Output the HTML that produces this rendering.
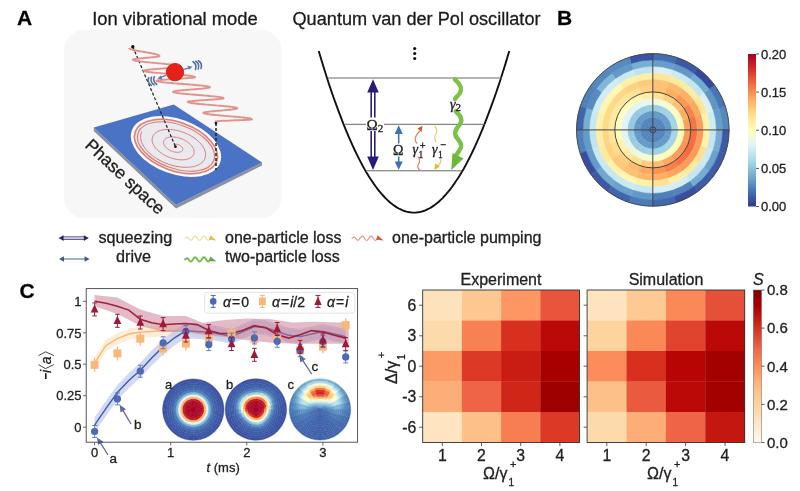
<!DOCTYPE html>
<html><head><meta charset="utf-8"><style>
html,body{margin:0;padding:0;background:#fff;width:800px;height:491px;overflow:hidden}
svg{display:block;will-change:transform}
text{stroke:#222;stroke-width:0.3}
</style></head><body>
<svg width="800" height="491" viewBox="0 0 800 491">
<rect x="0" y="0" width="800" height="491" fill="#fff"/>
<text x="17" y="25" font-size="21" font-weight="bold" font-family="Liberation Sans, sans-serif">A</text>
<text x="92.2" y="25" font-size="18.4" font-family="Liberation Sans, sans-serif" fill="#1a1a1a">Ion vibrational mode</text>
<text x="292.5" y="25" font-size="18.15" font-family="Liberation Sans, sans-serif" fill="#1a1a1a">Quantum van der Pol oscillator</text>
<text x="557" y="25" font-size="21" font-weight="bold" font-family="Liberation Sans, sans-serif">B</text>
<rect x="64" y="29.5" width="217.5" height="188.8" rx="21" fill="#f7f7f7"/>
<polygon points="93.75,127.5 176,205 262,162.5 262,165.5 176,208.5 93.75,131" fill="#8c9099"/>
<polygon points="173.75,104.5 262,162.5 176,205 93.75,127.5" fill="#4a73c6"/>
<g transform="translate(176,146.5) rotate(20)">
<ellipse cx="0" cy="0" rx="47" ry="27.5" fill="#fafafc"/>
<ellipse cx="0" cy="0" rx="44.5" ry="25.2" fill="#e9e9ee"/>
<ellipse cx="0" cy="0" rx="43.3" ry="24.2" fill="none" stroke="#de7d78" stroke-width="1.5"/>
<ellipse cx="0" cy="0" rx="40.3" ry="21.8" fill="none" stroke="#de7d78" stroke-width="1.2"/>
<polyline fill="none" stroke="#d07474" stroke-width="0.9" points="-1.5,-0.1 -1.5,-0.2 -1.6,-0.2 -1.7,-0.3 -1.7,-0.3 -1.7,-0.4 -1.8,-0.4 -1.8,-0.5 -1.9,-0.5 -1.9,-0.6 -1.9,-0.6 -1.9,-0.7 -1.9,-0.8 -1.9,-0.8 -1.9,-0.9 -1.9,-1.0 -1.9,-1.0 -1.9,-1.1 -1.9,-1.2 -1.8,-1.2 -1.8,-1.3 -1.8,-1.4 -1.7,-1.4 -1.6,-1.5 -1.6,-1.6 -1.5,-1.6 -1.4,-1.7 -1.3,-1.8 -1.2,-1.8 -1.1,-1.9 -1.0,-2.0 -0.9,-2.0 -0.8,-2.1 -0.6,-2.1 -0.5,-2.2 -0.4,-2.2 -0.2,-2.3 -0.1,-2.3 0.1,-2.4 0.2,-2.4 0.4,-2.4 0.6,-2.5 0.8,-2.5 1.0,-2.5 1.1,-2.5 1.3,-2.5 1.5,-2.6 1.7,-2.6 1.9,-2.6 2.1,-2.6 2.3,-2.5 2.5,-2.5 2.7,-2.5 2.9,-2.5 3.1,-2.4 3.4,-2.4 3.6,-2.4 3.8,-2.3 4.0,-2.3 4.2,-2.2 4.4,-2.2 4.6,-2.1 4.8,-2.0 5.0,-1.9 5.1,-1.8 5.3,-1.8 5.5,-1.7 5.7,-1.6 5.8,-1.5 6.0,-1.4 6.2,-1.2 6.3,-1.1 6.4,-1.0 6.6,-0.9 6.7,-0.7 6.8,-0.6 6.9,-0.5 7.0,-0.3 7.1,-0.2 7.2,-0.0 7.3,0.1 7.3,0.3 7.4,0.4 7.4,0.6 7.4,0.8 7.4,0.9 7.4,1.1 7.4,1.3 7.4,1.4 7.4,1.6 7.3,1.8 7.3,2.0 7.2,2.1 7.1,2.3 7.0,2.5 6.9,2.6 6.8,2.8 6.6,3.0 6.5,3.1 6.3,3.3 6.1,3.4 6.0,3.6 5.8,3.8 5.5,3.9 5.3,4.1 5.1,4.2 4.8,4.3 4.6,4.5 4.3,4.6 4.0,4.7 3.7,4.8 3.4,5.0 3.1,5.1 2.8,5.2 2.5,5.3 2.1,5.3 1.8,5.4 1.4,5.5 1.1,5.6 0.7,5.6 0.3,5.7 -0.1,5.7 -0.5,5.8 -0.9,5.8 -1.3,5.8 -1.7,5.8 -2.1,5.8 -2.5,5.8 -2.9,5.8 -3.3,5.8 -3.7,5.7 -4.1,5.7 -4.5,5.6 -4.9,5.6 -5.3,5.5 -5.7,5.4 -6.1,5.3 -6.5,5.2 -6.9,5.1 -7.3,5.0 -7.7,4.9 -8.0,4.7 -8.4,4.6 -8.8,4.4 -9.1,4.3 -9.4,4.1 -9.8,3.9 -10.1,3.7 -10.4,3.5 -10.7,3.3 -11.0,3.1 -11.2,2.9 -11.5,2.7 -11.7,2.4 -12.0,2.2 -12.2,2.0 -12.4,1.7 -12.5,1.5 -12.7,1.2 -12.8,0.9 -13.0,0.7 -13.1,0.4 -13.2,0.1 -13.2,-0.1 -13.3,-0.4 -13.3,-0.7 -13.3,-1.0 -13.3,-1.3 -13.3,-1.6 -13.3,-1.9 -13.2,-2.2 -13.1,-2.4 -13.0,-2.7 -12.9,-3.0 -12.7,-3.3 -12.6,-3.6 -12.4,-3.9 -12.2,-4.2 -11.9,-4.4 -11.7,-4.7 -11.4,-5.0 -11.1,-5.2 -10.8,-5.5 -10.5,-5.7 -10.1,-6.0 -9.8,-6.2 -9.4,-6.5 -9.0,-6.7 -8.6,-6.9 -8.2,-7.1 -7.7,-7.3 -7.2,-7.5 -6.8,-7.7 -6.3,-7.9 -5.8,-8.0 -5.2,-8.2 -4.7,-8.3 -4.2,-8.5 -3.6,-8.6 -3.0,-8.7 -2.5,-8.8 -1.9,-8.9 -1.3,-9.0 -0.7,-9.0 -0.1,-9.1 0.5,-9.1 1.1,-9.1 1.8,-9.1 2.4,-9.1 3.0,-9.1 3.6,-9.1 4.3,-9.0 4.9,-9.0 5.5,-8.9 6.1,-8.8 6.8,-8.7 7.4,-8.6 8.0,-8.5 8.6,-8.3 9.2,-8.2 9.8,-8.0 10.3,-7.8 10.9,-7.7 11.5,-7.4 12.0,-7.2 12.5,-7.0 13.0,-6.8 13.5,-6.5 14.0,-6.2 14.5,-6.0 15.0,-5.7 15.4,-5.4 15.8,-5.1 16.2,-4.7 16.6,-4.4 16.9,-4.1 17.2,-3.7 17.6,-3.4 17.8,-3.0 18.1,-2.7 18.3,-2.3 18.5,-1.9 18.7,-1.5 18.9,-1.1 19.0,-0.7 19.1,-0.3 19.2,0.1 19.3,0.5 19.3,0.9 19.3,1.3 19.3,1.7 19.2,2.1 19.1,2.5 19.0,3.0 18.8,3.4 18.7,3.8 18.5,4.2 18.2,4.6 18.0,5.0 17.7,5.4 17.4,5.8 17.0,6.2 16.7,6.5 16.3,6.9 15.9,7.3 15.4,7.6 14.9,8.0 14.4,8.3 13.9,8.6 13.4,9.0 12.8,9.3 12.2,9.6 11.6,9.9 11.0,10.1 10.3,10.4 9.6,10.6 9.0,10.9 8.2,11.1 7.5,11.3 6.8,11.5 6.0,11.7 5.2,11.8 4.5,12.0 3.7,12.1 2.9,12.2 2.0,12.3 1.2,12.4 0.4,12.4 -0.4,12.4 -1.3,12.5 -2.1,12.5 -3.0,12.5 -3.8,12.4 -4.7,12.4 -5.5,12.3 -6.4,12.2 -7.2,12.1 -8.1,12.0 -8.9,11.9 -9.7,11.7 -10.5,11.5 -11.3,11.3 -12.1,11.1 -12.9,10.9 -13.7,10.6 -14.4,10.4 -15.1,10.1 -15.9,9.8 -16.6,9.5 -17.2,9.2 -17.9,8.8 -18.5,8.4 -19.1,8.1 -19.7,7.7 -20.3,7.3 -20.8,6.9 -21.3,6.5 -21.8,6.0 -22.3,5.6 -22.7,5.1 -23.1,4.6 -23.5,4.2 -23.8,3.7 -24.1,3.2 -24.4,2.7 -24.6,2.2 -24.8,1.6 -25.0,1.1 -25.1,0.6 -25.2,0.1 -25.2,-0.5 -25.3,-1.0 -25.3,-1.5 -25.2,-2.1 -25.1,-2.6 -25.0,-3.1 -24.8,-3.7 -24.6,-4.2 -24.4,-4.7 -24.1,-5.3 -23.8,-5.8 -23.5,-6.3 -23.1,-6.8 -22.7,-7.3 -22.2,-7.8 -21.8,-8.3 -21.2,-8.8 -20.7,-9.3 -20.1,-9.7 -19.5,-10.2 -18.9,-10.6 -18.2,-11.0 -17.5,-11.4 -16.7,-11.8 -16.0,-12.2 -15.2,-12.5 -14.4,-12.9 -13.5,-13.2 -12.7,-13.5 -11.8,-13.8 -10.9,-14.1 -9.9,-14.4 -9.0,-14.6 -8.0,-14.8 -7.0,-15.0 -6.0,-15.2 -5.0,-15.3 -4.0,-15.5 -2.9,-15.6 -1.9,-15.7 -0.8,-15.8 0.2,-15.8 1.3,-15.8 2.4,-15.8 3.4,-15.8 4.5,-15.8 5.6,-15.7 6.6,-15.6 7.7,-15.5 8.8,-15.4 9.8,-15.2 10.9,-15.0 11.9,-14.8 12.9,-14.6 13.9,-14.3 14.9,-14.1 15.9,-13.8 16.8,-13.5 17.8,-13.1 18.7,-12.8 19.6,-12.4 20.5,-12.0 21.3,-11.6 22.1,-11.2 22.9,-10.7 23.7,-10.3 24.4,-9.8 25.1,-9.3 25.8,-8.8 26.4,-8.2 27.0,-7.7 27.6,-7.1 28.1,-6.6 28.6,-6.0 29.0,-5.4 29.5,-4.8 29.8,-4.2 30.2,-3.5 30.4,-2.9 30.7,-2.3 30.9,-1.6 31.0,-1.0 31.2,-0.3 31.2,0.4 31.3,1.0 31.2,1.7 31.2,2.3 31.1,3.0 30.9,3.7 30.7,4.3 30.5,5.0 30.2,5.6 29.8,6.3 29.5,6.9 29.0,7.6 28.6,8.2 28.1,8.8 27.5,9.4 26.9,10.0 26.3,10.6 25.6,11.2 24.9,11.7 24.2,12.3 23.4,12.8 22.5,13.3 21.7,13.8 20.8,14.3 19.8,14.7 18.9,15.2 17.9,15.6 16.9,16.0 15.8,16.4 14.7,16.7 13.6,17.1 12.5,17.4 11.3,17.7 10.1,17.9 8.9,18.2 7.7,18.4 6.5,18.6 5.3,18.8 4.0,18.9 2.7,19.0 1.5,19.1 0.2,19.1 -1.1,19.2 -2.4,19.2 -3.7,19.2 -5.0,19.1 -6.3,19.0 -7.6,18.9 -8.9,18.8 -10.2,18.6 -11.4,18.4 -12.7,18.2 -13.9,18.0 -15.2,17.7 -16.4,17.4 -17.6,17.1 -18.7,16.7 -19.9,16.4 -21.0,16.0 -22.1,15.5 -23.2,15.1 -24.3,14.6 -25.3,14.1 -26.3,13.6 -27.2,13.1 -28.1,12.5 -29.0,11.9 -29.9,11.3 -30.7,10.7 -31.4,10.1 -32.1,9.4 -32.8,8.8 -33.4,8.1 -34.0,7.4 -34.6,6.7 -35.1,5.9 -35.5,5.2 -35.9,4.5 -36.3,3.7 -36.5,3.0 -36.8,2.2 -37.0,1.4 -37.1,0.6 -37.2,-0.2 -37.2,-0.9 -37.2,-1.7 -37.2,-2.5"/>
</g>
<line x1="132.8" y1="46.8" x2="175.5" y2="146.7" stroke="#1a2030" stroke-width="1.2" stroke-dasharray="3,2"/>
<line x1="216" y1="123" x2="216" y2="170" stroke="#222" stroke-width="1.5" stroke-dasharray="3,2"/>
<circle cx="132.8" cy="46.8" r="1.7" fill="#111"/><circle cx="216" cy="123" r="1.4" fill="#111"/><circle cx="175.5" cy="146.7" r="1.3" fill="#111"/>
<polyline fill="none" stroke="#e2928a" stroke-width="1.9" points="129.2,48.0 129.2,48.2 129.4,48.4 129.6,48.6 129.9,48.8 130.3,49.0 130.8,49.2 131.4,49.4 132.1,49.6 132.8,49.8 133.6,50.0 134.5,50.2 135.4,50.4 136.4,50.6 137.4,50.8 138.5,51.0 139.6,51.2 140.8,51.4 141.9,51.6 143.1,51.8 144.3,52.0 145.5,52.2 146.7,52.4 147.8,52.6 149.0,52.8 150.1,53.0 151.2,53.2 152.2,53.4 153.2,53.6 154.1,53.8 155.0,54.0 155.8,54.2 156.5,54.4 157.2,54.6 157.8,54.8 158.3,55.0 158.7,55.2 159.0,55.4 159.2,55.6 159.4,55.8 159.4,56.0 159.4,56.1 159.2,56.2 159.0,56.3 158.7,56.4 158.4,56.5 158.0,56.6 157.4,56.6 156.9,56.7 156.2,56.8 155.5,56.9 154.7,57.0 153.9,57.1 153.0,57.2 152.1,57.3 151.2,57.4 150.2,57.5 149.2,57.6 148.2,57.7 147.1,57.8 146.1,57.9 145.1,57.9 144.0,58.0 143.0,58.1 142.0,58.2 141.0,58.3 140.1,58.4 139.2,58.5 138.3,58.6 137.5,58.7 136.7,58.8 136.0,58.9 135.3,59.0 134.8,59.1 134.2,59.1 133.8,59.2 133.5,59.3 133.2,59.4 133.0,59.5 132.8,59.6 132.8,59.7 132.9,59.9 133.1,60.0 133.5,60.2 134.0,60.4 134.6,60.6 135.4,60.7 136.3,60.9 137.3,61.1 138.5,61.2 139.7,61.4 141.1,61.6 142.5,61.7 144.1,61.9 145.7,62.1 147.4,62.2 149.1,62.4 150.9,62.6 152.7,62.8 154.5,62.9 156.4,63.1 158.3,63.3 160.1,63.4 161.9,63.6 163.7,63.8 165.4,64.0 167.1,64.1 168.7,64.3 170.3,64.5 171.7,64.6 173.1,64.8 174.3,65.0 175.5,65.1 176.5,65.3 177.4,65.5 178.2,65.7 178.8,65.8 179.3,66.0 179.7,66.2 179.9,66.3 180.0,66.5 179.9,66.6 179.8,66.7 179.5,66.8 179.1,66.9 178.6,67.0 178.0,67.1 177.3,67.2 176.5,67.3 175.7,67.4 174.7,67.5 173.7,67.7 172.5,67.8 171.4,67.9 170.1,68.0 168.8,68.1 167.5,68.2 166.1,68.3 164.7,68.4 163.3,68.5 161.9,68.6 160.5,68.7 159.1,68.8 157.7,68.9 156.3,69.0 155.0,69.1 153.7,69.2 152.4,69.3 151.3,69.4 150.1,69.5 149.1,69.7 148.1,69.8 147.3,69.9 146.5,70.0 145.8,70.1 145.2,70.2 144.7,70.3 144.3,70.4 144.0,70.5 143.9,70.6 143.8,70.7 143.9,70.9 144.1,71.0 144.5,71.2 145.1,71.3 145.8,71.5 146.6,71.7 147.6,71.8 148.7,72.0 149.9,72.1 151.3,72.3 152.8,72.5 154.4,72.6 156.0,72.8 157.8,72.9 159.6,73.1 161.5,73.3 163.5,73.4 165.4,73.6 167.4,73.7 169.4,73.9 171.5,74.1 173.5,74.2 175.4,74.4 177.4,74.5 179.3,74.7 181.1,74.9 182.9,75.0 184.5,75.2 186.1,75.3 187.6,75.5 189.0,75.7 190.2,75.8 191.3,76.0 192.3,76.1 193.1,76.3 193.8,76.5 194.4,76.6 194.8,76.8 195.0,76.9 195.1,77.1 195.0,77.2 194.9,77.3 194.6,77.4 194.2,77.5 193.6,77.6 193.0,77.7 192.3,77.7 191.4,77.8 190.5,77.9 189.5,78.0 188.4,78.1 187.2,78.2 185.9,78.3 184.6,78.4 183.2,78.5 181.8,78.6 180.3,78.7 178.9,78.8 177.4,78.9 175.8,78.9 174.3,79.0 172.8,79.1 171.4,79.2 169.9,79.3 168.5,79.4 167.1,79.5 165.8,79.6 164.5,79.7 163.3,79.8 162.2,79.9 161.2,80.0 160.3,80.1 159.4,80.2 158.7,80.2 158.1,80.3 157.5,80.4 157.1,80.5 156.8,80.6 156.7,80.7 156.6,80.8 156.7,81.0 156.9,81.1 157.3,81.3 157.9,81.4 158.6,81.6 159.5,81.8 160.5,81.9 161.7,82.1 163.0,82.2 164.4,82.4 165.9,82.6 167.6,82.7 169.3,82.9 171.1,83.0 173.0,83.2 175.0,83.4 177.0,83.5 179.0,83.7 181.1,83.8 183.2,84.0 185.3,84.2 187.4,84.3 189.4,84.5 191.4,84.6 193.4,84.8 195.3,85.0 197.1,85.1 198.8,85.3 200.5,85.4 202.0,85.6 203.4,85.8 204.7,85.9 205.9,86.1 206.9,86.2 207.8,86.4 208.5,86.6 209.1,86.7 209.5,86.9 209.7,87.0 209.8,87.2 209.7,87.3 209.6,87.4 209.3,87.5 208.9,87.7 208.4,87.8 207.8,87.9 207.1,88.0 206.3,88.1 205.4,88.2 204.4,88.3 203.4,88.5 202.2,88.6 201.0,88.7 199.8,88.8 198.5,88.9 197.1,89.0 195.7,89.2 194.3,89.3 192.9,89.4 191.5,89.5 190.0,89.6 188.6,89.7 187.2,89.8 185.8,90.0 184.4,90.1 183.1,90.2 181.9,90.3 180.7,90.4 179.5,90.5 178.5,90.7 177.5,90.8 176.6,90.9 175.8,91.0 175.1,91.1 174.5,91.2 174.0,91.3 173.6,91.5 173.3,91.6 173.2,91.7 173.1,91.8 173.2,92.0 173.4,92.1 173.8,92.3 174.3,92.4 175.0,92.6 175.8,92.8 176.8,92.9 177.9,93.1 179.1,93.2 180.5,93.4 181.9,93.6 183.5,93.7 185.1,93.9 186.9,94.0 188.7,94.2 190.5,94.4 192.4,94.5 194.4,94.7 196.3,94.8 198.3,95.0 200.3,95.2 202.2,95.3 204.2,95.5 206.1,95.6 207.9,95.8 209.7,96.0 211.5,96.1 213.1,96.3 214.7,96.4 216.1,96.6 217.5,96.8 218.7,96.9 219.8,97.1 220.8,97.2 221.6,97.4 222.3,97.6 222.8,97.7 223.2,97.9 223.4,98.0 223.5,98.2 223.4,98.3 223.3,98.4 223.0,98.5 222.6,98.6 222.1,98.7 221.6,98.8 220.9,98.8 220.1,98.9 219.2,99.0 218.3,99.1 217.2,99.2 216.1,99.3 215.0,99.4 213.8,99.5 212.5,99.6 211.2,99.7 209.8,99.8 208.4,99.9 207.1,100.0 205.7,100.1 204.2,100.1 202.9,100.2 201.5,100.3 200.1,100.4 198.8,100.5 197.5,100.6 196.3,100.7 195.2,100.8 194.1,100.9 193.0,101.0 192.1,101.1 191.2,101.2 190.4,101.3 189.7,101.3 189.2,101.4 188.7,101.5 188.3,101.6 188.0,101.7 187.9,101.8 187.8,101.9 187.9,102.1 188.1,102.2 188.5,102.4 189.0,102.5 189.7,102.7 190.5,102.9 191.4,103.0 192.5,103.2 193.7,103.3 195.0,103.5 196.5,103.7 198.0,103.8 199.6,104.0 201.3,104.1 203.1,104.3 204.9,104.5 206.8,104.6 208.7,104.8 210.6,104.9 212.6,105.1 214.5,105.3 216.4,105.4 218.3,105.6 220.2,105.7 222.0,105.9 223.8,106.1 225.5,106.2 227.1,106.4 228.6,106.5 230.1,106.7 231.4,106.9 232.6,107.0 233.7,107.2 234.6,107.3 235.4,107.5 236.1,107.7 236.6,107.8 237.0,108.0 237.2,108.1 237.3,108.3 237.2,108.4 237.1,108.5 236.8,108.6 236.5,108.8 236.0,108.9 235.5,109.0 234.8,109.1 234.1,109.2 233.2,109.3 232.3,109.5 231.4,109.6 230.3,109.7 229.2,109.8 228.0,109.9 226.8,110.0 225.6,110.1 224.3,110.3 223.0,110.4 221.7,110.5 220.4,110.6 219.0,110.7 217.7,110.8 216.4,110.9 215.1,111.1 213.9,111.2 212.7,111.3 211.5,111.4 210.4,111.5 209.3,111.6 208.4,111.8 207.5,111.9 206.6,112.0 205.9,112.1 205.2,112.2 204.7,112.3 204.2,112.4 203.9,112.6 203.6,112.7 203.5,112.8 203.4,112.9 203.5,113.1 203.7,113.2 204.1,113.4 204.6,113.5 205.2,113.7 206.0,113.9 207.0,114.0 208.0,114.2 209.2,114.3 210.5,114.5 211.9,114.7 213.4,114.8 215.0,115.0 216.7,115.1 218.4,115.3 220.2,115.5 222.0,115.6 223.9,115.8 225.8,115.9 227.7,116.1 229.6,116.3 231.5,116.4 233.4,116.6 235.2,116.7 237.0,116.9 238.7,117.1 240.4,117.2 242.0,117.4 243.5,117.5 244.9,117.7 246.2,117.9 247.4,118.0 248.4,118.2 249.4,118.3 250.2,118.5 250.8,118.7 251.3,118.8 251.7,119.0 251.9,119.1 252.0,119.3 251.9,119.4 251.8,119.4 251.5,119.5 251.1,119.5 250.6,119.6 250.0,119.6 249.3,119.7 248.5,119.7 247.6,119.8 246.6,119.8 245.6,119.9 244.4,120.0 243.2,120.0 242.0,120.1 240.7,120.1 239.3,120.2 237.9,120.2 236.5,120.3 235.1,120.3 233.7,120.4 232.2,120.5 230.8,120.5 229.4,120.6 228.0,120.6 226.6,120.7 225.3,120.7 224.1,120.8 222.9,120.8 221.7,120.9 220.7,121.0 219.7,121.0 218.8,121.1 218.0,121.1 217.3,121.2 216.7,121.2 216.2,121.3 215.8,121.3 215.5,121.4 215.4,121.4 215.3,121.5"/>
<circle cx="175" cy="72.1" r="8.7" fill="#e8201a" stroke="#b81812" stroke-width="0.8"/>
<line x1="184" y1="69.4" x2="190" y2="67.6" stroke="#5a7cb4" stroke-width="1.3"/>
<polygon points="192.5,66.8 187.5,65.8 188.8,69.8" fill="#5a7cb4"/>
<line x1="166" y1="75.4" x2="160" y2="77.6" stroke="#5a7cb4" stroke-width="1.3"/>
<polygon points="157.3,78.6 162.3,79.4 161,75.5" fill="#5a7cb4"/>
<path d="M194.2,61.5 q3.2,3.6 0,8.2" fill="none" stroke="#56729e" stroke-width="1.6" stroke-linecap="round" transform="rotate(-18 194.2 65.5)"/>
<path d="M155.5,76.5 q-3.2,3.6 0,8.2" fill="none" stroke="#56729e" stroke-width="1.6" stroke-linecap="round" transform="rotate(-18 155.5 80.5)"/>
<path d="M197.1,61.0 q3.2,3.6 0,8.2" fill="none" stroke="#56729e" stroke-width="1.6" stroke-linecap="round" transform="rotate(-18 197.1 65.5)"/>
<path d="M152.6,77.0 q-3.2,3.6 0,8.2" fill="none" stroke="#56729e" stroke-width="1.6" stroke-linecap="round" transform="rotate(-18 152.6 80.5)"/>
<path d="M200.0,60.5 q3.2,3.6 0,8.2" fill="none" stroke="#56729e" stroke-width="1.6" stroke-linecap="round" transform="rotate(-18 200.0 65.5)"/>
<path d="M149.7,77.5 q-3.2,3.6 0,8.2" fill="none" stroke="#56729e" stroke-width="1.6" stroke-linecap="round" transform="rotate(-18 149.7 80.5)"/>
<text x="0" y="0" font-size="17.5" font-family="Liberation Sans, sans-serif" fill="#1a1a1a" transform="translate(84,146.5) rotate(43)">Phase space</text>
<polyline fill="none" stroke="#111" stroke-width="1.9" points="318.7,50.9 320.6,57.3 322.5,63.6 324.4,69.8 326.3,75.8 328.2,81.7 330.1,87.4 332.0,93.0 333.9,98.5 335.9,103.9 337.8,109.1 339.7,114.2 341.6,119.2 343.5,124.1 345.4,128.8 347.3,133.4 349.2,137.8 351.1,142.2 353.0,146.4 354.9,150.5 356.8,154.4 358.7,158.2 360.6,161.9 362.5,165.5 364.4,168.9 366.3,172.2 368.3,175.4 370.2,178.4 372.1,181.3 374.0,184.1 375.9,186.7 377.8,189.3 379.7,191.6 381.6,193.9 383.5,196.0 385.4,198.1 387.3,199.9 389.2,201.7 391.1,203.3 393.0,204.8 394.9,206.1 396.8,207.4 398.8,208.5 400.7,209.4 402.6,210.3 404.5,211.0 406.4,211.6 408.3,212.0 410.2,212.3 412.1,212.5 414.0,212.6 415.9,212.5 417.8,212.3 419.7,212.0 421.6,211.6 423.5,211.0 425.4,210.3 427.3,209.4 429.2,208.5 431.2,207.4 433.1,206.1 435.0,204.8 436.9,203.3 438.8,201.7 440.7,199.9 442.6,198.1 444.5,196.0 446.4,193.9 448.3,191.6 450.2,189.3 452.1,186.7 454.0,184.1 455.9,181.3 457.8,178.4 459.7,175.4 461.6,172.2 463.6,168.9 465.5,165.5 467.4,161.9 469.3,158.2 471.2,154.4 473.1,150.5 475.0,146.4 476.9,142.2 478.8,137.8 480.7,133.4 482.6,128.8 484.5,124.1 486.4,119.2 488.3,114.2 490.2,109.1 492.1,103.9 494.1,98.5 496.0,93.0 497.9,87.4 499.8,81.7 501.7,75.8 503.6,69.8 505.5,63.6 507.4,57.3 509.3,50.9"/>
<line x1="328" y1="78" x2="502" y2="78" stroke="#6a6a6a" stroke-width="1"/>
<line x1="345" y1="124.3" x2="485" y2="124.3" stroke="#6a6a6a" stroke-width="1"/>
<line x1="366" y1="170.8" x2="462" y2="170.8" stroke="#6a6a6a" stroke-width="1"/>
<circle cx="414.7" cy="48.5" r="1.6" fill="#111"/>
<circle cx="414.7" cy="53.5" r="1.6" fill="#111"/>
<circle cx="414.7" cy="58.5" r="1.6" fill="#111"/>
<line x1="371.2" y1="90" x2="371.2" y2="159" stroke="#2a2080" stroke-width="1.6"/>
<line x1="374.8" y1="90" x2="374.8" y2="159" stroke="#2a2080" stroke-width="1.6"/>
<polygon points="373,79.2 367.2,92.5 378.8,92.5" fill="#261c7a"/>
<polygon points="373,170 367.2,156.5 378.8,156.5" fill="#261c7a"/>
<rect x="366" y="117.5" width="18" height="13.5" fill="#ffffff"/>
<text x="366.5" y="130" font-size="15" font-family="Liberation Serif, serif" fill="#222">Ω<tspan font-size="11" dy="1.5">2</tspan></text>
<line x1="398.7" y1="130" x2="398.7" y2="165" stroke="#3a70b8" stroke-width="1.5"/>
<polygon points="398.7,125.3 394.7,134 402.7,134" fill="#3a70b8"/>
<polygon points="398.7,169.8 394.7,161.5 402.7,161.5" fill="#3a70b8"/>
<rect x="392.5" y="143.5" width="12.5" height="13" fill="#ffffff"/>
<text x="393" y="154.6" font-size="14" font-family="Liberation Serif, serif" fill="#222">Ω</text>
<path d="M420,170.5 q-3.5,-3.5 -1.5,-6.5 q2.5,-3.5 -0.5,-7.5" fill="none" stroke="#e0805a" stroke-width="1.2"/>
<path d="M417,143.5 q-3,-3.5 -1,-7.5 q2,-3.5 4,-5" fill="none" stroke="#e0805a" stroke-width="1.2"/>
<polygon points="422.5,125.8 417.5,128.5 421.5,132" fill="#d8502a"/>
<text x="412.5" y="154" font-size="14" font-style="italic" font-family="Liberation Serif, serif" fill="#222">γ</text>
<text x="418.5" y="158.3" font-size="9.5" font-family="Liberation Serif, serif" fill="#222">1</text>
<text x="419.8" y="148.5" font-size="10" font-family="Liberation Sans, sans-serif" fill="#222">+</text>
<path d="M434.5,126 q3.5,3.5 1.5,7.5 q-2.5,3.5 0,8.5" fill="none" stroke="#f2c868" stroke-width="1.2"/>
<path d="M440,158.5 q2,3.5 -1,6 l-2,2.5" fill="none" stroke="#f2c868" stroke-width="1.2"/>
<polygon points="434.5,169.8 435,163.5 440,166.5" fill="#e8b828"/>
<text x="432" y="154" font-size="14" font-style="italic" font-family="Liberation Serif, serif" fill="#222">γ</text>
<text x="438" y="158.3" font-size="9.5" font-family="Liberation Serif, serif" fill="#222">1</text>
<text x="440.5" y="148" font-size="10" font-family="Liberation Sans, sans-serif" fill="#222">−</text>
<path d="M455,79.5 C460,84 463,88 460,93 C457,97 455,98 455,99" fill="none" stroke="#7cc24a" stroke-width="4.5" stroke-linecap="round"/>
<path d="M455.7,111.5 C460,115 463,119 460.5,123.5 C457,128 454,131 455.5,135.5 C457,139 462,142 461,147 C460,151 457,153 456,156" fill="none" stroke="#7cc24a" stroke-width="4.5" stroke-linecap="round"/>
<polygon points="451.3,170 452.5,153 463.5,158.5" fill="#6cb83a"/>
<text x="450" y="108.5" font-size="14" font-style="italic" font-family="Liberation Serif, serif" fill="#222">γ<tspan font-size="11" font-style="normal" dy="2">2</tspan></text>
<path d="M652.8,129.9 L659.16,129.90 A6.36,6.36 0 0 0 658.85,127.94Z" fill="#4f81ba" stroke="#4f81ba" stroke-width="0.5"/>
<path d="M652.8,129.9 L658.85,127.94 A6.36,6.36 0 0 0 657.94,126.16Z" fill="#4f81ba" stroke="#4f81ba" stroke-width="0.5"/>
<path d="M652.8,129.9 L657.94,126.16 A6.36,6.36 0 0 0 656.54,124.76Z" fill="#4f81ba" stroke="#4f81ba" stroke-width="0.5"/>
<path d="M652.8,129.9 L656.54,124.76 A6.36,6.36 0 0 0 654.76,123.85Z" fill="#4f81ba" stroke="#4f81ba" stroke-width="0.5"/>
<path d="M652.8,129.9 L654.76,123.85 A6.36,6.36 0 0 0 652.80,123.54Z" fill="#4f81ba" stroke="#4f81ba" stroke-width="0.5"/>
<path d="M652.8,129.9 L652.80,123.54 A6.36,6.36 0 0 0 650.84,123.85Z" fill="#4f81ba" stroke="#4f81ba" stroke-width="0.5"/>
<path d="M652.8,129.9 L650.84,123.85 A6.36,6.36 0 0 0 649.06,124.76Z" fill="#4f81ba" stroke="#4f81ba" stroke-width="0.5"/>
<path d="M652.8,129.9 L649.06,124.76 A6.36,6.36 0 0 0 647.66,126.16Z" fill="#4f81ba" stroke="#4f81ba" stroke-width="0.5"/>
<path d="M652.8,129.9 L647.66,126.16 A6.36,6.36 0 0 0 646.75,127.94Z" fill="#4f81ba" stroke="#4f81ba" stroke-width="0.5"/>
<path d="M652.8,129.9 L646.75,127.94 A6.36,6.36 0 0 0 646.44,129.90Z" fill="#4f81ba" stroke="#4f81ba" stroke-width="0.5"/>
<path d="M652.8,129.9 L646.44,129.90 A6.36,6.36 0 0 0 646.75,131.86Z" fill="#4f81ba" stroke="#4f81ba" stroke-width="0.5"/>
<path d="M652.8,129.9 L646.75,131.86 A6.36,6.36 0 0 0 647.66,133.64Z" fill="#4f81ba" stroke="#4f81ba" stroke-width="0.5"/>
<path d="M652.8,129.9 L647.66,133.64 A6.36,6.36 0 0 0 649.06,135.04Z" fill="#4f81ba" stroke="#4f81ba" stroke-width="0.5"/>
<path d="M652.8,129.9 L649.06,135.04 A6.36,6.36 0 0 0 650.84,135.95Z" fill="#4f81ba" stroke="#4f81ba" stroke-width="0.5"/>
<path d="M652.8,129.9 L650.84,135.95 A6.36,6.36 0 0 0 652.80,136.26Z" fill="#4f81ba" stroke="#4f81ba" stroke-width="0.5"/>
<path d="M652.8,129.9 L652.80,136.26 A6.36,6.36 0 0 0 654.76,135.95Z" fill="#4f81ba" stroke="#4f81ba" stroke-width="0.5"/>
<path d="M652.8,129.9 L654.76,135.95 A6.36,6.36 0 0 0 656.54,135.04Z" fill="#4f81ba" stroke="#4f81ba" stroke-width="0.5"/>
<path d="M652.8,129.9 L656.54,135.04 A6.36,6.36 0 0 0 657.94,133.64Z" fill="#4f81ba" stroke="#4f81ba" stroke-width="0.5"/>
<path d="M652.8,129.9 L657.94,133.64 A6.36,6.36 0 0 0 658.85,131.86Z" fill="#4f81ba" stroke="#4f81ba" stroke-width="0.5"/>
<path d="M652.8,129.9 L658.85,131.86 A6.36,6.36 0 0 0 659.16,129.90Z" fill="#4f81ba" stroke="#4f81ba" stroke-width="0.5"/>
<path d="M659.16,129.90 L665.52,129.90 A12.72,12.72 0 0 0 664.89,125.97 L658.85,127.94 A6.36,6.36 0 0 1 659.16,129.90Z" fill="#5385bd" stroke="#5385bd" stroke-width="0.5"/>
<path d="M658.85,127.94 L664.89,125.97 A12.72,12.72 0 0 0 663.09,122.43 L657.94,126.16 A6.36,6.36 0 0 1 658.85,127.94Z" fill="#5385bd" stroke="#5385bd" stroke-width="0.5"/>
<path d="M657.94,126.16 L663.09,122.43 A12.72,12.72 0 0 0 660.27,119.61 L656.54,124.76 A6.36,6.36 0 0 1 657.94,126.16Z" fill="#5385bd" stroke="#5385bd" stroke-width="0.5"/>
<path d="M656.54,124.76 L660.27,119.61 A12.72,12.72 0 0 0 656.73,117.81 L654.76,123.85 A6.36,6.36 0 0 1 656.54,124.76Z" fill="#5385bd" stroke="#5385bd" stroke-width="0.5"/>
<path d="M654.76,123.85 L656.73,117.81 A12.72,12.72 0 0 0 652.80,117.18 L652.80,123.54 A6.36,6.36 0 0 1 654.76,123.85Z" fill="#5385bd" stroke="#5385bd" stroke-width="0.5"/>
<path d="M652.80,123.54 L652.80,117.18 A12.72,12.72 0 0 0 648.87,117.81 L650.84,123.85 A6.36,6.36 0 0 1 652.80,123.54Z" fill="#5385bd" stroke="#5385bd" stroke-width="0.5"/>
<path d="M650.84,123.85 L648.87,117.81 A12.72,12.72 0 0 0 645.33,119.61 L649.06,124.76 A6.36,6.36 0 0 1 650.84,123.85Z" fill="#5385bd" stroke="#5385bd" stroke-width="0.5"/>
<path d="M649.06,124.76 L645.33,119.61 A12.72,12.72 0 0 0 642.51,122.43 L647.66,126.16 A6.36,6.36 0 0 1 649.06,124.76Z" fill="#5385bd" stroke="#5385bd" stroke-width="0.5"/>
<path d="M647.66,126.16 L642.51,122.43 A12.72,12.72 0 0 0 640.71,125.97 L646.75,127.94 A6.36,6.36 0 0 1 647.66,126.16Z" fill="#5385bd" stroke="#5385bd" stroke-width="0.5"/>
<path d="M646.75,127.94 L640.71,125.97 A12.72,12.72 0 0 0 640.08,129.90 L646.44,129.90 A6.36,6.36 0 0 1 646.75,127.94Z" fill="#5385bd" stroke="#5385bd" stroke-width="0.5"/>
<path d="M646.44,129.90 L640.08,129.90 A12.72,12.72 0 0 0 640.71,133.83 L646.75,131.86 A6.36,6.36 0 0 1 646.44,129.90Z" fill="#5385bd" stroke="#5385bd" stroke-width="0.5"/>
<path d="M646.75,131.86 L640.71,133.83 A12.72,12.72 0 0 0 642.51,137.37 L647.66,133.64 A6.36,6.36 0 0 1 646.75,131.86Z" fill="#5385bd" stroke="#5385bd" stroke-width="0.5"/>
<path d="M647.66,133.64 L642.51,137.37 A12.72,12.72 0 0 0 645.33,140.19 L649.06,135.04 A6.36,6.36 0 0 1 647.66,133.64Z" fill="#5385bd" stroke="#5385bd" stroke-width="0.5"/>
<path d="M649.06,135.04 L645.33,140.19 A12.72,12.72 0 0 0 648.87,141.99 L650.84,135.95 A6.36,6.36 0 0 1 649.06,135.04Z" fill="#5385bd" stroke="#5385bd" stroke-width="0.5"/>
<path d="M650.84,135.95 L648.87,141.99 A12.72,12.72 0 0 0 652.80,142.62 L652.80,136.26 A6.36,6.36 0 0 1 650.84,135.95Z" fill="#5385bd" stroke="#5385bd" stroke-width="0.5"/>
<path d="M652.80,136.26 L652.80,142.62 A12.72,12.72 0 0 0 656.73,141.99 L654.76,135.95 A6.36,6.36 0 0 1 652.80,136.26Z" fill="#5385bd" stroke="#5385bd" stroke-width="0.5"/>
<path d="M654.76,135.95 L656.73,141.99 A12.72,12.72 0 0 0 660.27,140.19 L656.54,135.04 A6.36,6.36 0 0 1 654.76,135.95Z" fill="#5385bd" stroke="#5385bd" stroke-width="0.5"/>
<path d="M656.54,135.04 L660.27,140.19 A12.72,12.72 0 0 0 663.09,137.37 L657.94,133.64 A6.36,6.36 0 0 1 656.54,135.04Z" fill="#5385bd" stroke="#5385bd" stroke-width="0.5"/>
<path d="M657.94,133.64 L663.09,137.37 A12.72,12.72 0 0 0 664.89,133.83 L658.85,131.86 A6.36,6.36 0 0 1 657.94,133.64Z" fill="#5385bd" stroke="#5385bd" stroke-width="0.5"/>
<path d="M658.85,131.86 L664.89,133.83 A12.72,12.72 0 0 0 665.52,129.90 L659.16,129.90 A6.36,6.36 0 0 1 658.85,131.86Z" fill="#5385bd" stroke="#5385bd" stroke-width="0.5"/>
<path d="M665.52,129.90 L671.88,129.90 A19.07,19.07 0 0 0 670.94,124.01 L664.89,125.97 A12.72,12.72 0 0 1 665.52,129.90Z" fill="#659bc8" stroke="#659bc8" stroke-width="0.5"/>
<path d="M664.89,125.97 L670.94,124.01 A19.07,19.07 0 0 0 668.23,118.69 L663.09,122.43 A12.72,12.72 0 0 1 664.89,125.97Z" fill="#659bc8" stroke="#659bc8" stroke-width="0.5"/>
<path d="M663.09,122.43 L668.23,118.69 A19.07,19.07 0 0 0 664.01,114.47 L660.27,119.61 A12.72,12.72 0 0 1 663.09,122.43Z" fill="#659bc8" stroke="#659bc8" stroke-width="0.5"/>
<path d="M660.27,119.61 L664.01,114.47 A19.07,19.07 0 0 0 658.69,111.76 L656.73,117.81 A12.72,12.72 0 0 1 660.27,119.61Z" fill="#659bc8" stroke="#659bc8" stroke-width="0.5"/>
<path d="M656.73,117.81 L658.69,111.76 A19.07,19.07 0 0 0 652.80,110.83 L652.80,117.18 A12.72,12.72 0 0 1 656.73,117.81Z" fill="#659bc8" stroke="#659bc8" stroke-width="0.5"/>
<path d="M652.80,117.18 L652.80,110.83 A19.07,19.07 0 0 0 646.91,111.76 L648.87,117.81 A12.72,12.72 0 0 1 652.80,117.18Z" fill="#659bc8" stroke="#659bc8" stroke-width="0.5"/>
<path d="M648.87,117.81 L646.91,111.76 A19.07,19.07 0 0 0 641.59,114.47 L645.33,119.61 A12.72,12.72 0 0 1 648.87,117.81Z" fill="#659bc8" stroke="#659bc8" stroke-width="0.5"/>
<path d="M645.33,119.61 L641.59,114.47 A19.07,19.07 0 0 0 637.37,118.69 L642.51,122.43 A12.72,12.72 0 0 1 645.33,119.61Z" fill="#659bc8" stroke="#659bc8" stroke-width="0.5"/>
<path d="M642.51,122.43 L637.37,118.69 A19.07,19.07 0 0 0 634.66,124.01 L640.71,125.97 A12.72,12.72 0 0 1 642.51,122.43Z" fill="#6399c7" stroke="#6399c7" stroke-width="0.5"/>
<path d="M640.71,125.97 L634.66,124.01 A19.07,19.07 0 0 0 633.72,129.90 L640.08,129.90 A12.72,12.72 0 0 1 640.71,125.97Z" fill="#659bc8" stroke="#659bc8" stroke-width="0.5"/>
<path d="M640.08,129.90 L633.72,129.90 A19.07,19.07 0 0 0 634.66,135.79 L640.71,133.83 A12.72,12.72 0 0 1 640.08,129.90Z" fill="#659bc8" stroke="#659bc8" stroke-width="0.5"/>
<path d="M640.71,133.83 L634.66,135.79 A19.07,19.07 0 0 0 637.37,141.11 L642.51,137.37 A12.72,12.72 0 0 1 640.71,133.83Z" fill="#659bc8" stroke="#659bc8" stroke-width="0.5"/>
<path d="M642.51,137.37 L637.37,141.11 A19.07,19.07 0 0 0 641.59,145.33 L645.33,140.19 A12.72,12.72 0 0 1 642.51,137.37Z" fill="#659bc8" stroke="#659bc8" stroke-width="0.5"/>
<path d="M645.33,140.19 L641.59,145.33 A19.07,19.07 0 0 0 646.91,148.04 L648.87,141.99 A12.72,12.72 0 0 1 645.33,140.19Z" fill="#659bc8" stroke="#659bc8" stroke-width="0.5"/>
<path d="M648.87,141.99 L646.91,148.04 A19.07,19.07 0 0 0 652.80,148.97 L652.80,142.62 A12.72,12.72 0 0 1 648.87,141.99Z" fill="#659bc8" stroke="#659bc8" stroke-width="0.5"/>
<path d="M652.80,142.62 L652.80,148.97 A19.07,19.07 0 0 0 658.69,148.04 L656.73,141.99 A12.72,12.72 0 0 1 652.80,142.62Z" fill="#659bc8" stroke="#659bc8" stroke-width="0.5"/>
<path d="M656.73,141.99 L658.69,148.04 A19.07,19.07 0 0 0 664.01,145.33 L660.27,140.19 A12.72,12.72 0 0 1 656.73,141.99Z" fill="#659bc8" stroke="#659bc8" stroke-width="0.5"/>
<path d="M660.27,140.19 L664.01,145.33 A19.07,19.07 0 0 0 668.23,141.11 L663.09,137.37 A12.72,12.72 0 0 1 660.27,140.19Z" fill="#659bc8" stroke="#659bc8" stroke-width="0.5"/>
<path d="M663.09,137.37 L668.23,141.11 A19.07,19.07 0 0 0 670.94,135.79 L664.89,133.83 A12.72,12.72 0 0 1 663.09,137.37Z" fill="#659bc8" stroke="#659bc8" stroke-width="0.5"/>
<path d="M664.89,133.83 L670.94,135.79 A19.07,19.07 0 0 0 671.88,129.90 L665.52,129.90 A12.72,12.72 0 0 1 664.89,133.83Z" fill="#659bc8" stroke="#659bc8" stroke-width="0.5"/>
<path d="M671.88,129.90 L678.23,129.90 A25.43,25.43 0 0 0 676.99,122.04 L670.94,124.01 A19.07,19.07 0 0 1 671.88,129.90Z" fill="#a6d5e7" stroke="#a6d5e7" stroke-width="0.5"/>
<path d="M670.94,124.01 L676.99,122.04 A25.43,25.43 0 0 0 673.38,114.95 L668.23,118.69 A19.07,19.07 0 0 1 670.94,124.01Z" fill="#a3d3e6" stroke="#a3d3e6" stroke-width="0.5"/>
<path d="M668.23,118.69 L673.38,114.95 A25.43,25.43 0 0 0 667.75,109.32 L664.01,114.47 A19.07,19.07 0 0 1 668.23,118.69Z" fill="#a1d1e5" stroke="#a1d1e5" stroke-width="0.5"/>
<path d="M664.01,114.47 L667.75,109.32 A25.43,25.43 0 0 0 660.66,105.71 L658.69,111.76 A19.07,19.07 0 0 1 664.01,114.47Z" fill="#9fd0e4" stroke="#9fd0e4" stroke-width="0.5"/>
<path d="M658.69,111.76 L660.66,105.71 A25.43,25.43 0 0 0 652.80,104.47 L652.80,110.83 A19.07,19.07 0 0 1 658.69,111.76Z" fill="#9dcee3" stroke="#9dcee3" stroke-width="0.5"/>
<path d="M652.80,110.83 L652.80,104.47 A25.43,25.43 0 0 0 644.94,105.71 L646.91,111.76 A19.07,19.07 0 0 1 652.80,110.83Z" fill="#9bcce2" stroke="#9bcce2" stroke-width="0.5"/>
<path d="M646.91,111.76 L644.94,105.71 A25.43,25.43 0 0 0 637.85,109.32 L641.59,114.47 A19.07,19.07 0 0 1 646.91,111.76Z" fill="#99cae1" stroke="#99cae1" stroke-width="0.5"/>
<path d="M641.59,114.47 L637.85,109.32 A25.43,25.43 0 0 0 632.22,114.95 L637.37,118.69 A19.07,19.07 0 0 1 641.59,114.47Z" fill="#97c9e0" stroke="#97c9e0" stroke-width="0.5"/>
<path d="M637.37,118.69 L632.22,114.95 A25.43,25.43 0 0 0 628.61,122.04 L634.66,124.01 A19.07,19.07 0 0 1 637.37,118.69Z" fill="#97c9e0" stroke="#97c9e0" stroke-width="0.5"/>
<path d="M634.66,124.01 L628.61,122.04 A25.43,25.43 0 0 0 627.37,129.90 L633.72,129.90 A19.07,19.07 0 0 1 634.66,124.01Z" fill="#97c9e0" stroke="#97c9e0" stroke-width="0.5"/>
<path d="M633.72,129.90 L627.37,129.90 A25.43,25.43 0 0 0 628.61,137.76 L634.66,135.79 A19.07,19.07 0 0 1 633.72,129.90Z" fill="#97c9e0" stroke="#97c9e0" stroke-width="0.5"/>
<path d="M634.66,135.79 L628.61,137.76 A25.43,25.43 0 0 0 632.22,144.85 L637.37,141.11 A19.07,19.07 0 0 1 634.66,135.79Z" fill="#99cae1" stroke="#99cae1" stroke-width="0.5"/>
<path d="M637.37,141.11 L632.22,144.85 A25.43,25.43 0 0 0 637.85,150.48 L641.59,145.33 A19.07,19.07 0 0 1 637.37,141.11Z" fill="#9bcce2" stroke="#9bcce2" stroke-width="0.5"/>
<path d="M641.59,145.33 L637.85,150.48 A25.43,25.43 0 0 0 644.94,154.09 L646.91,148.04 A19.07,19.07 0 0 1 641.59,145.33Z" fill="#9dcee3" stroke="#9dcee3" stroke-width="0.5"/>
<path d="M646.91,148.04 L644.94,154.09 A25.43,25.43 0 0 0 652.80,155.33 L652.80,148.97 A19.07,19.07 0 0 1 646.91,148.04Z" fill="#9fd0e4" stroke="#9fd0e4" stroke-width="0.5"/>
<path d="M652.80,148.97 L652.80,155.33 A25.43,25.43 0 0 0 660.66,154.09 L658.69,148.04 A19.07,19.07 0 0 1 652.80,148.97Z" fill="#a1d1e5" stroke="#a1d1e5" stroke-width="0.5"/>
<path d="M658.69,148.04 L660.66,154.09 A25.43,25.43 0 0 0 667.75,150.48 L664.01,145.33 A19.07,19.07 0 0 1 658.69,148.04Z" fill="#a3d3e6" stroke="#a3d3e6" stroke-width="0.5"/>
<path d="M664.01,145.33 L667.75,150.48 A25.43,25.43 0 0 0 673.38,144.85 L668.23,141.11 A19.07,19.07 0 0 1 664.01,145.33Z" fill="#a6d5e7" stroke="#a6d5e7" stroke-width="0.5"/>
<path d="M668.23,141.11 L673.38,144.85 A25.43,25.43 0 0 0 676.99,137.76 L670.94,135.79 A19.07,19.07 0 0 1 668.23,141.11Z" fill="#a6d5e7" stroke="#a6d5e7" stroke-width="0.5"/>
<path d="M670.94,135.79 L676.99,137.76 A25.43,25.43 0 0 0 678.23,129.90 L671.88,129.90 A19.07,19.07 0 0 1 670.94,135.79Z" fill="#a6d5e7" stroke="#a6d5e7" stroke-width="0.5"/>
<path d="M678.23,129.90 L684.59,129.90 A31.79,31.79 0 0 0 683.04,120.08 L676.99,122.04 A25.43,25.43 0 0 1 678.23,129.90Z" fill="#fffcba" stroke="#fffcba" stroke-width="0.5"/>
<path d="M676.99,122.04 L683.04,120.08 A31.79,31.79 0 0 0 678.52,111.21 L673.38,114.95 A25.43,25.43 0 0 1 676.99,122.04Z" fill="#feffc0" stroke="#feffc0" stroke-width="0.5"/>
<path d="M673.38,114.95 L678.52,111.21 A31.79,31.79 0 0 0 671.49,104.18 L667.75,109.32 A25.43,25.43 0 0 1 673.38,114.95Z" fill="#fafdc9" stroke="#fafdc9" stroke-width="0.5"/>
<path d="M667.75,109.32 L671.49,104.18 A31.79,31.79 0 0 0 662.62,99.66 L660.66,105.71 A25.43,25.43 0 0 1 667.75,109.32Z" fill="#f5fbd2" stroke="#f5fbd2" stroke-width="0.5"/>
<path d="M660.66,105.71 L662.62,99.66 A31.79,31.79 0 0 0 652.80,98.11 L652.80,104.47 A25.43,25.43 0 0 1 660.66,105.71Z" fill="#eff9dd" stroke="#eff9dd" stroke-width="0.5"/>
<path d="M652.80,104.47 L652.80,98.11 A31.79,31.79 0 0 0 642.98,99.66 L644.94,105.71 A25.43,25.43 0 0 1 652.80,104.47Z" fill="#eaf7e6" stroke="#eaf7e6" stroke-width="0.5"/>
<path d="M644.94,105.71 L642.98,99.66 A31.79,31.79 0 0 0 634.11,104.18 L637.85,109.32 A25.43,25.43 0 0 1 644.94,105.71Z" fill="#e5f5ef" stroke="#e5f5ef" stroke-width="0.5"/>
<path d="M637.85,109.32 L634.11,104.18 A31.79,31.79 0 0 0 627.08,111.21 L632.22,114.95 A25.43,25.43 0 0 1 637.85,109.32Z" fill="#e1f3f6" stroke="#e1f3f6" stroke-width="0.5"/>
<path d="M632.22,114.95 L627.08,111.21 A31.79,31.79 0 0 0 622.56,120.08 L628.61,122.04 A25.43,25.43 0 0 1 632.22,114.95Z" fill="#e0f3f8" stroke="#e0f3f8" stroke-width="0.5"/>
<path d="M628.61,122.04 L622.56,120.08 A31.79,31.79 0 0 0 621.01,129.90 L627.37,129.90 A25.43,25.43 0 0 1 628.61,122.04Z" fill="#e0f3f8" stroke="#e0f3f8" stroke-width="0.5"/>
<path d="M627.37,129.90 L621.01,129.90 A31.79,31.79 0 0 0 622.56,139.72 L628.61,137.76 A25.43,25.43 0 0 1 627.37,129.90Z" fill="#e2f4f4" stroke="#e2f4f4" stroke-width="0.5"/>
<path d="M628.61,137.76 L622.56,139.72 A31.79,31.79 0 0 0 627.08,148.59 L632.22,144.85 A25.43,25.43 0 0 1 628.61,137.76Z" fill="#e6f5ed" stroke="#e6f5ed" stroke-width="0.5"/>
<path d="M632.22,144.85 L627.08,148.59 A31.79,31.79 0 0 0 634.11,155.62 L637.85,150.48 A25.43,25.43 0 0 1 632.22,144.85Z" fill="#ebf7e4" stroke="#ebf7e4" stroke-width="0.5"/>
<path d="M637.85,150.48 L634.11,155.62 A31.79,31.79 0 0 0 642.98,160.14 L644.94,154.09 A25.43,25.43 0 0 1 637.85,150.48Z" fill="#f0f9db" stroke="#f0f9db" stroke-width="0.5"/>
<path d="M644.94,154.09 L642.98,160.14 A31.79,31.79 0 0 0 652.80,161.69 L652.80,155.33 A25.43,25.43 0 0 1 644.94,154.09Z" fill="#f6fbd0" stroke="#f6fbd0" stroke-width="0.5"/>
<path d="M652.80,155.33 L652.80,161.69 A31.79,31.79 0 0 0 662.62,160.14 L660.66,154.09 A25.43,25.43 0 0 1 652.80,155.33Z" fill="#fbfdc7" stroke="#fbfdc7" stroke-width="0.5"/>
<path d="M660.66,154.09 L662.62,160.14 A31.79,31.79 0 0 0 671.49,155.62 L667.75,150.48 A25.43,25.43 0 0 1 660.66,154.09Z" fill="#fffebe" stroke="#fffebe" stroke-width="0.5"/>
<path d="M667.75,150.48 L671.49,155.62 A31.79,31.79 0 0 0 678.52,148.59 L673.38,144.85 A25.43,25.43 0 0 1 667.75,150.48Z" fill="#fffbb9" stroke="#fffbb9" stroke-width="0.5"/>
<path d="M673.38,144.85 L678.52,148.59 A31.79,31.79 0 0 0 683.04,139.72 L676.99,137.76 A25.43,25.43 0 0 1 673.38,144.85Z" fill="#fffab7" stroke="#fffab7" stroke-width="0.5"/>
<path d="M676.99,137.76 L683.04,139.72 A31.79,31.79 0 0 0 684.59,129.90 L678.23,129.90 A25.43,25.43 0 0 1 676.99,137.76Z" fill="#fffab7" stroke="#fffab7" stroke-width="0.5"/>
<path d="M684.59,129.90 L690.95,129.90 A38.15,38.15 0 0 0 689.08,118.11 L683.04,120.08 A31.79,31.79 0 0 1 684.59,129.90Z" fill="#fba05b" stroke="#fba05b" stroke-width="0.5"/>
<path d="M683.04,120.08 L689.08,118.11 A38.15,38.15 0 0 0 683.66,107.48 L678.52,111.21 A31.79,31.79 0 0 1 683.04,120.08Z" fill="#fdaf62" stroke="#fdaf62" stroke-width="0.5"/>
<path d="M678.52,111.21 L683.66,107.48 A38.15,38.15 0 0 0 675.22,99.04 L671.49,104.18 A31.79,31.79 0 0 1 678.52,111.21Z" fill="#fdbf71" stroke="#fdbf71" stroke-width="0.5"/>
<path d="M671.49,104.18 L675.22,99.04 A38.15,38.15 0 0 0 664.59,93.62 L662.62,99.66 A31.79,31.79 0 0 1 671.49,104.18Z" fill="#fed081" stroke="#fed081" stroke-width="0.5"/>
<path d="M662.62,99.66 L664.59,93.62 A38.15,38.15 0 0 0 652.80,91.75 L652.80,98.11 A31.79,31.79 0 0 1 662.62,99.66Z" fill="#fee192" stroke="#fee192" stroke-width="0.5"/>
<path d="M652.80,98.11 L652.80,91.75 A38.15,38.15 0 0 0 641.01,93.62 L642.98,99.66 A31.79,31.79 0 0 1 652.80,98.11Z" fill="#feeca2" stroke="#feeca2" stroke-width="0.5"/>
<path d="M642.98,99.66 L641.01,93.62 A38.15,38.15 0 0 0 630.38,99.04 L634.11,104.18 A31.79,31.79 0 0 1 642.98,99.66Z" fill="#fff6b1" stroke="#fff6b1" stroke-width="0.5"/>
<path d="M634.11,104.18 L630.38,99.04 A38.15,38.15 0 0 0 621.94,107.48 L627.08,111.21 A31.79,31.79 0 0 1 634.11,104.18Z" fill="#fffcba" stroke="#fffcba" stroke-width="0.5"/>
<path d="M627.08,111.21 L621.94,107.48 A38.15,38.15 0 0 0 616.52,118.11 L622.56,120.08 A31.79,31.79 0 0 1 627.08,111.21Z" fill="#feffc0" stroke="#feffc0" stroke-width="0.5"/>
<path d="M622.56,120.08 L616.52,118.11 A38.15,38.15 0 0 0 614.65,129.90 L621.01,129.90 A31.79,31.79 0 0 1 622.56,120.08Z" fill="#feffc0" stroke="#feffc0" stroke-width="0.5"/>
<path d="M621.01,129.90 L614.65,129.90 A38.15,38.15 0 0 0 616.52,141.69 L622.56,139.72 A31.79,31.79 0 0 1 621.01,129.90Z" fill="#fffbb9" stroke="#fffbb9" stroke-width="0.5"/>
<path d="M622.56,139.72 L616.52,141.69 A38.15,38.15 0 0 0 621.94,152.32 L627.08,148.59 A31.79,31.79 0 0 1 622.56,139.72Z" fill="#fff3ad" stroke="#fff3ad" stroke-width="0.5"/>
<path d="M627.08,148.59 L621.94,152.32 A38.15,38.15 0 0 0 630.38,160.76 L634.11,155.62 A31.79,31.79 0 0 1 627.08,148.59Z" fill="#feea9f" stroke="#feea9f" stroke-width="0.5"/>
<path d="M634.11,155.62 L630.38,160.76 A38.15,38.15 0 0 0 641.01,166.18 L642.98,160.14 A31.79,31.79 0 0 1 634.11,155.62Z" fill="#fede8e" stroke="#fede8e" stroke-width="0.5"/>
<path d="M642.98,160.14 L641.01,166.18 A38.15,38.15 0 0 0 652.80,168.05 L652.80,161.69 A31.79,31.79 0 0 1 642.98,160.14Z" fill="#fecc7e" stroke="#fecc7e" stroke-width="0.5"/>
<path d="M652.80,161.69 L652.80,168.05 A38.15,38.15 0 0 0 664.59,166.18 L662.62,160.14 A31.79,31.79 0 0 1 652.80,161.69Z" fill="#fdbb6d" stroke="#fdbb6d" stroke-width="0.5"/>
<path d="M662.62,160.14 L664.59,166.18 A38.15,38.15 0 0 0 675.22,160.76 L671.49,155.62 A31.79,31.79 0 0 1 662.62,160.14Z" fill="#fcaa5f" stroke="#fcaa5f" stroke-width="0.5"/>
<path d="M671.49,155.62 L675.22,160.76 A38.15,38.15 0 0 0 683.66,152.32 L678.52,148.59 A31.79,31.79 0 0 1 671.49,155.62Z" fill="#fb9d59" stroke="#fb9d59" stroke-width="0.5"/>
<path d="M678.52,148.59 L683.66,152.32 A38.15,38.15 0 0 0 689.08,141.69 L683.04,139.72 A31.79,31.79 0 0 1 678.52,148.59Z" fill="#fa9656" stroke="#fa9656" stroke-width="0.5"/>
<path d="M683.04,139.72 L689.08,141.69 A38.15,38.15 0 0 0 690.95,129.90 L684.59,129.90 A31.79,31.79 0 0 1 683.04,139.72Z" fill="#fa9857" stroke="#fa9857" stroke-width="0.5"/>
<path d="M690.95,129.90 L697.31,129.90 A44.51,44.51 0 0 0 695.13,116.15 L689.08,118.11 A38.15,38.15 0 0 1 690.95,129.90Z" fill="#f57547" stroke="#f57547" stroke-width="0.5"/>
<path d="M689.08,118.11 L695.13,116.15 A44.51,44.51 0 0 0 688.81,103.74 L683.66,107.48 A38.15,38.15 0 0 1 689.08,118.11Z" fill="#f7844e" stroke="#f7844e" stroke-width="0.5"/>
<path d="M683.66,107.48 L688.81,103.74 A44.51,44.51 0 0 0 678.96,93.89 L675.22,99.04 A38.15,38.15 0 0 1 683.66,107.48Z" fill="#fa9857" stroke="#fa9857" stroke-width="0.5"/>
<path d="M675.22,99.04 L678.96,93.89 A44.51,44.51 0 0 0 666.55,87.57 L664.59,93.62 A38.15,38.15 0 0 1 675.22,99.04Z" fill="#fdaf62" stroke="#fdaf62" stroke-width="0.5"/>
<path d="M664.59,93.62 L666.55,87.57 A44.51,44.51 0 0 0 652.80,85.39 L652.80,91.75 A38.15,38.15 0 0 1 664.59,93.62Z" fill="#fdc173" stroke="#fdc173" stroke-width="0.5"/>
<path d="M652.80,91.75 L652.80,85.39 A44.51,44.51 0 0 0 639.05,87.57 L641.01,93.62 A38.15,38.15 0 0 1 652.80,91.75Z" fill="#fed283" stroke="#fed283" stroke-width="0.5"/>
<path d="M641.01,93.62 L639.05,87.57 A44.51,44.51 0 0 0 626.64,93.89 L630.38,99.04 A38.15,38.15 0 0 1 641.01,93.62Z" fill="#fee192" stroke="#fee192" stroke-width="0.5"/>
<path d="M630.38,99.04 L626.64,93.89 A44.51,44.51 0 0 0 616.79,103.74 L621.94,107.48 A38.15,38.15 0 0 1 630.38,99.04Z" fill="#fee79b" stroke="#fee79b" stroke-width="0.5"/>
<path d="M621.94,107.48 L616.79,103.74 A44.51,44.51 0 0 0 610.47,116.15 L616.52,118.11 A38.15,38.15 0 0 1 621.94,107.48Z" fill="#feeba1" stroke="#feeba1" stroke-width="0.5"/>
<path d="M616.52,118.11 L610.47,116.15 A44.51,44.51 0 0 0 608.29,129.90 L614.65,129.90 A38.15,38.15 0 0 1 616.52,118.11Z" fill="#feea9f" stroke="#feea9f" stroke-width="0.5"/>
<path d="M614.65,129.90 L608.29,129.90 A44.51,44.51 0 0 0 610.47,143.65 L616.52,141.69 A38.15,38.15 0 0 1 614.65,129.90Z" fill="#fee699" stroke="#fee699" stroke-width="0.5"/>
<path d="M616.52,141.69 L610.47,143.65 A44.51,44.51 0 0 0 616.79,156.06 L621.94,152.32 A38.15,38.15 0 0 1 616.52,141.69Z" fill="#fede8e" stroke="#fede8e" stroke-width="0.5"/>
<path d="M621.94,152.32 L616.79,156.06 A44.51,44.51 0 0 0 626.64,165.91 L630.38,160.76 A38.15,38.15 0 0 1 621.94,152.32Z" fill="#fece7f" stroke="#fece7f" stroke-width="0.5"/>
<path d="M630.38,160.76 L626.64,165.91 A44.51,44.51 0 0 0 639.05,172.23 L641.01,166.18 A38.15,38.15 0 0 1 630.38,160.76Z" fill="#fdbd6f" stroke="#fdbd6f" stroke-width="0.5"/>
<path d="M641.01,166.18 L639.05,172.23 A44.51,44.51 0 0 0 652.80,174.41 L652.80,168.05 A38.15,38.15 0 0 1 641.01,166.18Z" fill="#fcaa5f" stroke="#fcaa5f" stroke-width="0.5"/>
<path d="M652.80,168.05 L652.80,174.41 A44.51,44.51 0 0 0 666.55,172.23 L664.59,166.18 A38.15,38.15 0 0 1 652.80,168.05Z" fill="#f99355" stroke="#f99355" stroke-width="0.5"/>
<path d="M664.59,166.18 L666.55,172.23 A44.51,44.51 0 0 0 678.96,165.91 L675.22,160.76 A38.15,38.15 0 0 1 664.59,166.18Z" fill="#f67f4b" stroke="#f67f4b" stroke-width="0.5"/>
<path d="M675.22,160.76 L678.96,165.91 A44.51,44.51 0 0 0 688.81,156.06 L683.66,152.32 A38.15,38.15 0 0 1 675.22,160.76Z" fill="#f57245" stroke="#f57245" stroke-width="0.5"/>
<path d="M683.66,152.32 L688.81,156.06 A44.51,44.51 0 0 0 695.13,143.65 L689.08,141.69 A38.15,38.15 0 0 1 683.66,152.32Z" fill="#f36b42" stroke="#f36b42" stroke-width="0.5"/>
<path d="M689.08,141.69 L695.13,143.65 A44.51,44.51 0 0 0 697.31,129.90 L690.95,129.90 A38.15,38.15 0 0 1 689.08,141.69Z" fill="#f46d43" stroke="#f46d43" stroke-width="0.5"/>
<path d="M697.31,129.90 L703.67,129.90 A50.87,50.87 0 0 0 701.18,114.18 L695.13,116.15 A44.51,44.51 0 0 1 697.31,129.90Z" fill="#fba05b" stroke="#fba05b" stroke-width="0.5"/>
<path d="M695.13,116.15 L701.18,114.18 A50.87,50.87 0 0 0 693.95,100.00 L688.81,103.74 A44.51,44.51 0 0 1 695.13,116.15Z" fill="#fca85e" stroke="#fca85e" stroke-width="0.5"/>
<path d="M688.81,103.74 L693.95,100.00 A50.87,50.87 0 0 0 682.70,88.75 L678.96,93.89 A44.51,44.51 0 0 1 688.81,103.74Z" fill="#fdb164" stroke="#fdb164" stroke-width="0.5"/>
<path d="M678.96,93.89 L682.70,88.75 A50.87,50.87 0 0 0 668.52,81.52 L666.55,87.57 A44.51,44.51 0 0 1 678.96,93.89Z" fill="#fdb96b" stroke="#fdb96b" stroke-width="0.5"/>
<path d="M666.55,87.57 L668.52,81.52 A50.87,50.87 0 0 0 652.80,79.03 L652.80,85.39 A44.51,44.51 0 0 1 666.55,87.57Z" fill="#fdc374" stroke="#fdc374" stroke-width="0.5"/>
<path d="M652.80,85.39 L652.80,79.03 A50.87,50.87 0 0 0 637.08,81.52 L639.05,87.57 A44.51,44.51 0 0 1 652.80,85.39Z" fill="#feca7c" stroke="#feca7c" stroke-width="0.5"/>
<path d="M639.05,87.57 L637.08,81.52 A50.87,50.87 0 0 0 622.90,88.75 L626.64,93.89 A44.51,44.51 0 0 1 639.05,87.57Z" fill="#fed283" stroke="#fed283" stroke-width="0.5"/>
<path d="M626.64,93.89 L622.90,88.75 A50.87,50.87 0 0 0 611.65,100.00 L616.79,103.74 A44.51,44.51 0 0 1 626.64,93.89Z" fill="#fed889" stroke="#fed889" stroke-width="0.5"/>
<path d="M616.79,103.74 L611.65,100.00 A50.87,50.87 0 0 0 604.42,114.18 L610.47,116.15 A44.51,44.51 0 0 1 616.79,103.74Z" fill="#feda8a" stroke="#feda8a" stroke-width="0.5"/>
<path d="M610.47,116.15 L604.42,114.18 A50.87,50.87 0 0 0 601.93,129.90 L608.29,129.90 A44.51,44.51 0 0 1 610.47,116.15Z" fill="#feda8a" stroke="#feda8a" stroke-width="0.5"/>
<path d="M608.29,129.90 L601.93,129.90 A50.87,50.87 0 0 0 604.42,145.62 L610.47,143.65 A44.51,44.51 0 0 1 608.29,129.90Z" fill="#fed687" stroke="#fed687" stroke-width="0.5"/>
<path d="M610.47,143.65 L604.42,145.62 A50.87,50.87 0 0 0 611.65,159.80 L616.79,156.06 A44.51,44.51 0 0 1 610.47,143.65Z" fill="#fed081" stroke="#fed081" stroke-width="0.5"/>
<path d="M616.79,156.06 L611.65,159.80 A50.87,50.87 0 0 0 622.90,171.05 L626.64,165.91 A44.51,44.51 0 0 1 616.79,156.06Z" fill="#fec87a" stroke="#fec87a" stroke-width="0.5"/>
<path d="M626.64,165.91 L622.90,171.05 A50.87,50.87 0 0 0 637.08,178.28 L639.05,172.23 A44.51,44.51 0 0 1 626.64,165.91Z" fill="#fdc173" stroke="#fdc173" stroke-width="0.5"/>
<path d="M639.05,172.23 L637.08,178.28 A50.87,50.87 0 0 0 652.80,180.77 L652.80,174.41 A44.51,44.51 0 0 1 639.05,172.23Z" fill="#fdb769" stroke="#fdb769" stroke-width="0.5"/>
<path d="M652.80,174.41 L652.80,180.77 A50.87,50.87 0 0 0 668.52,178.28 L666.55,172.23 A44.51,44.51 0 0 1 652.80,174.41Z" fill="#fdaf62" stroke="#fdaf62" stroke-width="0.5"/>
<path d="M666.55,172.23 L668.52,178.28 A50.87,50.87 0 0 0 682.70,171.05 L678.96,165.91 A44.51,44.51 0 0 1 666.55,172.23Z" fill="#fca55d" stroke="#fca55d" stroke-width="0.5"/>
<path d="M678.96,165.91 L682.70,171.05 A50.87,50.87 0 0 0 693.95,159.80 L688.81,156.06 A44.51,44.51 0 0 1 678.96,165.91Z" fill="#fb9d59" stroke="#fb9d59" stroke-width="0.5"/>
<path d="M688.81,156.06 L693.95,159.80 A50.87,50.87 0 0 0 701.18,145.62 L695.13,143.65 A44.51,44.51 0 0 1 688.81,156.06Z" fill="#fa9b58" stroke="#fa9b58" stroke-width="0.5"/>
<path d="M695.13,143.65 L701.18,145.62 A50.87,50.87 0 0 0 703.67,129.90 L697.31,129.90 A44.51,44.51 0 0 1 695.13,143.65Z" fill="#fa9b58" stroke="#fa9b58" stroke-width="0.5"/>
<path d="M703.67,129.90 L710.02,129.90 A57.22,57.22 0 0 0 707.22,112.22 L701.18,114.18 A50.87,50.87 0 0 1 703.67,129.90Z" fill="#fff1aa" stroke="#fff1aa" stroke-width="0.5"/>
<path d="M701.18,114.18 L707.22,112.22 A57.22,57.22 0 0 0 699.10,96.26 L693.95,100.00 A50.87,50.87 0 0 1 701.18,114.18Z" fill="#fee597" stroke="#fee597" stroke-width="0.5"/>
<path d="M693.95,100.00 L699.10,96.26 A57.22,57.22 0 0 0 686.44,83.60 L682.70,88.75 A50.87,50.87 0 0 1 693.95,100.00Z" fill="#feeca2" stroke="#feeca2" stroke-width="0.5"/>
<path d="M682.70,88.75 L686.44,83.60 A57.22,57.22 0 0 0 670.48,75.48 L668.52,81.52 A50.87,50.87 0 0 1 682.70,88.75Z" fill="#fee99d" stroke="#fee99d" stroke-width="0.5"/>
<path d="M668.52,81.52 L670.48,75.48 A57.22,57.22 0 0 0 652.80,72.68 L652.80,79.03 A50.87,50.87 0 0 1 668.52,81.52Z" fill="#fee597" stroke="#fee597" stroke-width="0.5"/>
<path d="M652.80,79.03 L652.80,72.68 A57.22,57.22 0 0 0 635.12,75.48 L637.08,81.52 A50.87,50.87 0 0 1 652.80,79.03Z" fill="#feefa6" stroke="#feefa6" stroke-width="0.5"/>
<path d="M637.08,81.52 L635.12,75.48 A57.22,57.22 0 0 0 619.16,83.60 L622.90,88.75 A50.87,50.87 0 0 1 637.08,81.52Z" fill="#fff0a8" stroke="#fff0a8" stroke-width="0.5"/>
<path d="M622.90,88.75 L619.16,83.60 A57.22,57.22 0 0 0 606.50,96.26 L611.65,100.00 A50.87,50.87 0 0 1 622.90,88.75Z" fill="#fff8b5" stroke="#fff8b5" stroke-width="0.5"/>
<path d="M611.65,100.00 L606.50,96.26 A57.22,57.22 0 0 0 598.38,112.22 L604.42,114.18 A50.87,50.87 0 0 1 611.65,100.00Z" fill="#fff6b1" stroke="#fff6b1" stroke-width="0.5"/>
<path d="M604.42,114.18 L598.38,112.22 A57.22,57.22 0 0 0 595.57,129.90 L601.93,129.90 A50.87,50.87 0 0 1 604.42,114.18Z" fill="#fff1aa" stroke="#fff1aa" stroke-width="0.5"/>
<path d="M601.93,129.90 L595.57,129.90 A57.22,57.22 0 0 0 598.38,147.58 L604.42,145.62 A50.87,50.87 0 0 1 601.93,129.90Z" fill="#feeda4" stroke="#feeda4" stroke-width="0.5"/>
<path d="M604.42,145.62 L598.38,147.58 A57.22,57.22 0 0 0 606.50,163.54 L611.65,159.80 A50.87,50.87 0 0 1 604.42,145.62Z" fill="#feea9f" stroke="#feea9f" stroke-width="0.5"/>
<path d="M611.65,159.80 L606.50,163.54 A57.22,57.22 0 0 0 619.16,176.20 L622.90,171.05 A50.87,50.87 0 0 1 611.65,159.80Z" fill="#fff1aa" stroke="#fff1aa" stroke-width="0.5"/>
<path d="M622.90,171.05 L619.16,176.20 A57.22,57.22 0 0 0 635.12,184.32 L637.08,178.28 A50.87,50.87 0 0 1 622.90,171.05Z" fill="#fff6b1" stroke="#fff6b1" stroke-width="0.5"/>
<path d="M637.08,178.28 L635.12,184.32 A57.22,57.22 0 0 0 652.80,187.12 L652.80,180.77 A50.87,50.87 0 0 1 637.08,178.28Z" fill="#fff0a8" stroke="#fff0a8" stroke-width="0.5"/>
<path d="M652.80,180.77 L652.80,187.12 A57.22,57.22 0 0 0 670.48,184.32 L668.52,178.28 A50.87,50.87 0 0 1 652.80,180.77Z" fill="#fee294" stroke="#fee294" stroke-width="0.5"/>
<path d="M668.52,178.28 L670.48,184.32 A57.22,57.22 0 0 0 686.44,176.20 L682.70,171.05 A50.87,50.87 0 0 1 668.52,178.28Z" fill="#feefa6" stroke="#feefa6" stroke-width="0.5"/>
<path d="M682.70,171.05 L686.44,176.20 A57.22,57.22 0 0 0 699.10,163.54 L693.95,159.80 A50.87,50.87 0 0 1 682.70,171.05Z" fill="#feea9f" stroke="#feea9f" stroke-width="0.5"/>
<path d="M693.95,159.80 L699.10,163.54 A57.22,57.22 0 0 0 707.22,147.58 L701.18,145.62 A50.87,50.87 0 0 1 693.95,159.80Z" fill="#fee090" stroke="#fee090" stroke-width="0.5"/>
<path d="M701.18,145.62 L707.22,147.58 A57.22,57.22 0 0 0 710.02,129.90 L703.67,129.90 A50.87,50.87 0 0 1 701.18,145.62Z" fill="#fff1aa" stroke="#fff1aa" stroke-width="0.5"/>
<path d="M710.02,129.90 L716.38,129.90 A63.58,63.58 0 0 0 713.27,110.25 L707.22,112.22 A57.22,57.22 0 0 1 710.02,129.90Z" fill="#cfebf3" stroke="#cfebf3" stroke-width="0.5"/>
<path d="M707.22,112.22 L713.27,110.25 A63.58,63.58 0 0 0 704.24,92.53 L699.10,96.26 A57.22,57.22 0 0 1 707.22,112.22Z" fill="#daf0f6" stroke="#daf0f6" stroke-width="0.5"/>
<path d="M699.10,96.26 L704.24,92.53 A63.58,63.58 0 0 0 690.17,78.46 L686.44,83.60 A57.22,57.22 0 0 1 699.10,96.26Z" fill="#c3e5f0" stroke="#c3e5f0" stroke-width="0.5"/>
<path d="M686.44,83.60 L690.17,78.46 A63.58,63.58 0 0 0 672.45,69.43 L670.48,75.48 A57.22,57.22 0 0 1 686.44,83.60Z" fill="#cdeaf3" stroke="#cdeaf3" stroke-width="0.5"/>
<path d="M670.48,75.48 L672.45,69.43 A63.58,63.58 0 0 0 652.80,66.32 L652.80,72.68 A57.22,57.22 0 0 1 670.48,75.48Z" fill="#d8eff6" stroke="#d8eff6" stroke-width="0.5"/>
<path d="M652.80,72.68 L652.80,66.32 A63.58,63.58 0 0 0 633.15,69.43 L635.12,75.48 A57.22,57.22 0 0 1 652.80,72.68Z" fill="#bfe3ef" stroke="#bfe3ef" stroke-width="0.5"/>
<path d="M635.12,75.48 L633.15,69.43 A63.58,63.58 0 0 0 615.43,78.46 L619.16,83.60 A57.22,57.22 0 0 1 635.12,75.48Z" fill="#cbe9f2" stroke="#cbe9f2" stroke-width="0.5"/>
<path d="M619.16,83.60 L615.43,78.46 A63.58,63.58 0 0 0 601.36,92.53 L606.50,96.26 A57.22,57.22 0 0 1 619.16,83.60Z" fill="#d1ecf4" stroke="#d1ecf4" stroke-width="0.5"/>
<path d="M606.50,96.26 L601.36,92.53 A63.58,63.58 0 0 0 592.33,110.25 L598.38,112.22 A57.22,57.22 0 0 1 606.50,96.26Z" fill="#cfebf3" stroke="#cfebf3" stroke-width="0.5"/>
<path d="M598.38,112.22 L592.33,110.25 A63.58,63.58 0 0 0 589.22,129.90 L595.57,129.90 A57.22,57.22 0 0 1 598.38,112.22Z" fill="#c9e8f2" stroke="#c9e8f2" stroke-width="0.5"/>
<path d="M595.57,129.90 L589.22,129.90 A63.58,63.58 0 0 0 592.33,149.55 L598.38,147.58 A57.22,57.22 0 0 1 595.57,129.90Z" fill="#c1e4ef" stroke="#c1e4ef" stroke-width="0.5"/>
<path d="M598.38,147.58 L592.33,149.55 A63.58,63.58 0 0 0 601.36,167.27 L606.50,163.54 A57.22,57.22 0 0 1 598.38,147.58Z" fill="#cbe9f2" stroke="#cbe9f2" stroke-width="0.5"/>
<path d="M606.50,163.54 L601.36,167.27 A63.58,63.58 0 0 0 615.43,181.34 L619.16,176.20 A57.22,57.22 0 0 1 606.50,163.54Z" fill="#c7e7f1" stroke="#c7e7f1" stroke-width="0.5"/>
<path d="M619.16,176.20 L615.43,181.34 A63.58,63.58 0 0 0 633.15,190.37 L635.12,184.32 A57.22,57.22 0 0 1 619.16,176.20Z" fill="#cbe9f2" stroke="#cbe9f2" stroke-width="0.5"/>
<path d="M635.12,184.32 L633.15,190.37 A63.58,63.58 0 0 0 652.80,193.48 L652.80,187.12 A57.22,57.22 0 0 1 635.12,184.32Z" fill="#c7e7f1" stroke="#c7e7f1" stroke-width="0.5"/>
<path d="M652.80,187.12 L652.80,193.48 A63.58,63.58 0 0 0 672.45,190.37 L670.48,184.32 A57.22,57.22 0 0 1 652.80,187.12Z" fill="#d6eef5" stroke="#d6eef5" stroke-width="0.5"/>
<path d="M670.48,184.32 L672.45,190.37 A63.58,63.58 0 0 0 690.17,181.34 L686.44,176.20 A57.22,57.22 0 0 1 670.48,184.32Z" fill="#d4edf4" stroke="#d4edf4" stroke-width="0.5"/>
<path d="M686.44,176.20 L690.17,181.34 A63.58,63.58 0 0 0 704.24,167.27 L699.10,163.54 A57.22,57.22 0 0 1 686.44,176.20Z" fill="#c5e6f0" stroke="#c5e6f0" stroke-width="0.5"/>
<path d="M699.10,163.54 L704.24,167.27 A63.58,63.58 0 0 0 713.27,149.55 L707.22,147.58 A57.22,57.22 0 0 1 699.10,163.54Z" fill="#cdeaf3" stroke="#cdeaf3" stroke-width="0.5"/>
<path d="M707.22,147.58 L713.27,149.55 A63.58,63.58 0 0 0 716.38,129.90 L710.02,129.90 A57.22,57.22 0 0 1 707.22,147.58Z" fill="#c5e6f0" stroke="#c5e6f0" stroke-width="0.5"/>
<path d="M716.38,129.90 L722.74,129.90 A69.94,69.94 0 0 0 719.32,108.29 L713.27,110.25 A63.58,63.58 0 0 1 716.38,129.90Z" fill="#679ec9" stroke="#679ec9" stroke-width="0.5"/>
<path d="M713.27,110.25 L719.32,108.29 A69.94,69.94 0 0 0 709.38,88.79 L704.24,92.53 A63.58,63.58 0 0 1 713.27,110.25Z" fill="#6095c4" stroke="#6095c4" stroke-width="0.5"/>
<path d="M704.24,92.53 L709.38,88.79 A69.94,69.94 0 0 0 693.91,73.32 L690.17,78.46 A63.58,63.58 0 0 1 704.24,92.53Z" fill="#72abd0" stroke="#72abd0" stroke-width="0.5"/>
<path d="M690.17,78.46 L693.91,73.32 A69.94,69.94 0 0 0 674.41,63.38 L672.45,69.43 A63.58,63.58 0 0 1 690.17,78.46Z" fill="#6297c6" stroke="#6297c6" stroke-width="0.5"/>
<path d="M672.45,69.43 L674.41,63.38 A69.94,69.94 0 0 0 652.80,59.96 L652.80,66.32 A63.58,63.58 0 0 1 672.45,69.43Z" fill="#679ec9" stroke="#679ec9" stroke-width="0.5"/>
<path d="M652.80,66.32 L652.80,59.96 A69.94,69.94 0 0 0 631.19,63.38 L633.15,69.43 A63.58,63.58 0 0 1 652.80,66.32Z" fill="#76afd2" stroke="#76afd2" stroke-width="0.5"/>
<path d="M633.15,69.43 L631.19,63.38 A69.94,69.94 0 0 0 611.69,73.32 L615.43,78.46 A63.58,63.58 0 0 1 633.15,69.43Z" fill="#6399c7" stroke="#6399c7" stroke-width="0.5"/>
<path d="M615.43,78.46 L611.69,73.32 A69.94,69.94 0 0 0 596.22,88.79 L601.36,92.53 A63.58,63.58 0 0 1 615.43,78.46Z" fill="#81b7d7" stroke="#81b7d7" stroke-width="0.5"/>
<path d="M601.36,92.53 L596.22,88.79 A69.94,69.94 0 0 0 586.28,108.29 L592.33,110.25 A63.58,63.58 0 0 1 601.36,92.53Z" fill="#578abf" stroke="#578abf" stroke-width="0.5"/>
<path d="M592.33,110.25 L586.28,108.29 A69.94,69.94 0 0 0 582.86,129.90 L589.22,129.90 A63.58,63.58 0 0 1 592.33,110.25Z" fill="#76afd2" stroke="#76afd2" stroke-width="0.5"/>
<path d="M589.22,129.90 L582.86,129.90 A69.94,69.94 0 0 0 586.28,151.51 L592.33,149.55 A63.58,63.58 0 0 1 589.22,129.90Z" fill="#659bc8" stroke="#659bc8" stroke-width="0.5"/>
<path d="M592.33,149.55 L586.28,151.51 A69.94,69.94 0 0 0 596.22,171.01 L601.36,167.27 A63.58,63.58 0 0 1 592.33,149.55Z" fill="#659bc8" stroke="#659bc8" stroke-width="0.5"/>
<path d="M601.36,167.27 L596.22,171.01 A69.94,69.94 0 0 0 611.69,186.48 L615.43,181.34 A63.58,63.58 0 0 1 601.36,167.27Z" fill="#70a9cf" stroke="#70a9cf" stroke-width="0.5"/>
<path d="M615.43,181.34 L611.69,186.48 A69.94,69.94 0 0 0 631.19,196.42 L633.15,190.37 A63.58,63.58 0 0 1 615.43,181.34Z" fill="#6ba2cb" stroke="#6ba2cb" stroke-width="0.5"/>
<path d="M633.15,190.37 L631.19,196.42 A69.94,69.94 0 0 0 652.80,199.84 L652.80,193.48 A63.58,63.58 0 0 1 633.15,190.37Z" fill="#6399c7" stroke="#6399c7" stroke-width="0.5"/>
<path d="M652.80,193.48 L652.80,199.84 A69.94,69.94 0 0 0 674.41,196.42 L672.45,190.37 A63.58,63.58 0 0 1 652.80,193.48Z" fill="#4d7fb9" stroke="#4d7fb9" stroke-width="0.5"/>
<path d="M672.45,190.37 L674.41,196.42 A69.94,69.94 0 0 0 693.91,186.48 L690.17,181.34 A63.58,63.58 0 0 1 672.45,190.37Z" fill="#5183bb" stroke="#5183bb" stroke-width="0.5"/>
<path d="M690.17,181.34 L693.91,186.48 A69.94,69.94 0 0 0 709.38,171.01 L704.24,167.27 A63.58,63.58 0 0 1 690.17,181.34Z" fill="#74add1" stroke="#74add1" stroke-width="0.5"/>
<path d="M704.24,167.27 L709.38,171.01 A69.94,69.94 0 0 0 719.32,151.51 L713.27,149.55 A63.58,63.58 0 0 1 704.24,167.27Z" fill="#6ba2cb" stroke="#6ba2cb" stroke-width="0.5"/>
<path d="M713.27,149.55 L719.32,151.51 A69.94,69.94 0 0 0 722.74,129.90 L716.38,129.90 A63.58,63.58 0 0 1 713.27,149.55Z" fill="#74add1" stroke="#74add1" stroke-width="0.5"/>
<path d="M722.74,129.90 L729.10,129.90 A76.30,76.30 0 0 0 725.37,106.32 L719.32,108.29 A69.94,69.94 0 0 1 722.74,129.90Z" fill="#5588be" stroke="#5588be" stroke-width="0.5"/>
<path d="M719.32,108.29 L725.37,106.32 A76.30,76.30 0 0 0 714.53,85.05 L709.38,88.79 A69.94,69.94 0 0 1 719.32,108.29Z" fill="#4676b5" stroke="#4676b5" stroke-width="0.5"/>
<path d="M709.38,88.79 L714.53,85.05 A76.30,76.30 0 0 0 697.65,68.17 L693.91,73.32 A69.94,69.94 0 0 1 709.38,88.79Z" fill="#36479e" stroke="#36479e" stroke-width="0.5"/>
<path d="M693.91,73.32 L697.65,68.17 A76.30,76.30 0 0 0 676.38,57.33 L674.41,63.38 A69.94,69.94 0 0 1 693.91,73.32Z" fill="#3c59a6" stroke="#3c59a6" stroke-width="0.5"/>
<path d="M674.41,63.38 L676.38,57.33 A76.30,76.30 0 0 0 652.80,53.60 L652.80,59.96 A69.94,69.94 0 0 1 674.41,63.38Z" fill="#436fb1" stroke="#436fb1" stroke-width="0.5"/>
<path d="M652.80,59.96 L652.80,53.60 A76.30,76.30 0 0 0 629.22,57.33 L631.19,63.38 A69.94,69.94 0 0 1 652.80,59.96Z" fill="#3a54a4" stroke="#3a54a4" stroke-width="0.5"/>
<path d="M631.19,63.38 L629.22,57.33 A76.30,76.30 0 0 0 607.95,68.17 L611.69,73.32 A69.94,69.94 0 0 1 631.19,63.38Z" fill="#578abf" stroke="#578abf" stroke-width="0.5"/>
<path d="M611.69,73.32 L607.95,68.17 A76.30,76.30 0 0 0 591.07,85.05 L596.22,88.79 A69.94,69.94 0 0 1 611.69,73.32Z" fill="#5588be" stroke="#5588be" stroke-width="0.5"/>
<path d="M596.22,88.79 L591.07,85.05 A76.30,76.30 0 0 0 580.23,106.32 L586.28,108.29 A69.94,69.94 0 0 1 596.22,88.79Z" fill="#4f81ba" stroke="#4f81ba" stroke-width="0.5"/>
<path d="M586.28,108.29 L580.23,106.32 A76.30,76.30 0 0 0 576.50,129.90 L582.86,129.90 A69.94,69.94 0 0 1 586.28,108.29Z" fill="#4065ac" stroke="#4065ac" stroke-width="0.5"/>
<path d="M582.86,129.90 L576.50,129.90 A76.30,76.30 0 0 0 580.23,153.48 L586.28,151.51 A69.94,69.94 0 0 1 582.86,129.90Z" fill="#4f81ba" stroke="#4f81ba" stroke-width="0.5"/>
<path d="M586.28,151.51 L580.23,153.48 A76.30,76.30 0 0 0 591.07,174.75 L596.22,171.01 A69.94,69.94 0 0 1 586.28,151.51Z" fill="#384ca0" stroke="#384ca0" stroke-width="0.5"/>
<path d="M596.22,171.01 L591.07,174.75 A76.30,76.30 0 0 0 607.95,191.63 L611.69,186.48 A69.94,69.94 0 0 1 596.22,171.01Z" fill="#3c59a6" stroke="#3c59a6" stroke-width="0.5"/>
<path d="M611.69,186.48 L607.95,191.63 A76.30,76.30 0 0 0 629.22,202.47 L631.19,196.42 A69.94,69.94 0 0 1 611.69,186.48Z" fill="#4065ac" stroke="#4065ac" stroke-width="0.5"/>
<path d="M631.19,196.42 L629.22,202.47 A76.30,76.30 0 0 0 652.80,206.20 L652.80,199.84 A69.94,69.94 0 0 1 631.19,196.42Z" fill="#4a7ab7" stroke="#4a7ab7" stroke-width="0.5"/>
<path d="M652.80,199.84 L652.80,206.20 A76.30,76.30 0 0 0 676.38,202.47 L674.41,196.42 A69.94,69.94 0 0 1 652.80,199.84Z" fill="#4167ad" stroke="#4167ad" stroke-width="0.5"/>
<path d="M674.41,196.42 L676.38,202.47 A76.30,76.30 0 0 0 697.65,191.63 L693.91,186.48 A69.94,69.94 0 0 1 674.41,196.42Z" fill="#384ca0" stroke="#384ca0" stroke-width="0.5"/>
<path d="M693.91,186.48 L697.65,191.63 A76.30,76.30 0 0 0 714.53,174.75 L709.38,171.01 A69.94,69.94 0 0 1 693.91,186.48Z" fill="#3d5ba7" stroke="#3d5ba7" stroke-width="0.5"/>
<path d="M709.38,171.01 L714.53,174.75 A76.30,76.30 0 0 0 725.37,153.48 L719.32,151.51 A69.94,69.94 0 0 1 709.38,171.01Z" fill="#3d5ba7" stroke="#3d5ba7" stroke-width="0.5"/>
<path d="M719.32,151.51 L725.37,153.48 A76.30,76.30 0 0 0 729.10,129.90 L722.74,129.90 A69.94,69.94 0 0 1 719.32,151.51Z" fill="#3c59a6" stroke="#3c59a6" stroke-width="0.5"/>
<circle cx="652.8" cy="129.9" r="76.3" fill="none" stroke="#444" stroke-width="0.9"/>
<circle cx="652.8" cy="129.9" r="38" fill="none" stroke="#444" stroke-width="1"/>
<circle cx="652.8" cy="129.9" r="3" fill="none" stroke="#333" stroke-width="0.8"/>
<line x1="576.5" y1="129.9" x2="729.0999999999999" y2="129.9" stroke="#444" stroke-width="1"/>
<line x1="652.8" y1="53.60000000000001" x2="652.8" y2="206.2" stroke="#444" stroke-width="1"/>
<defs><linearGradient id="rdylbu" x1="0" y1="1" x2="0" y2="0">
<stop offset="0.0" stop-color="#313695"/>
<stop offset="0.1" stop-color="#4574b3"/>
<stop offset="0.2" stop-color="#74add1"/>
<stop offset="0.3" stop-color="#aad8e9"/>
<stop offset="0.4" stop-color="#e0f3f8"/>
<stop offset="0.5" stop-color="#fffebe"/>
<stop offset="0.6" stop-color="#fee090"/>
<stop offset="0.7" stop-color="#fdad60"/>
<stop offset="0.8" stop-color="#f46d43"/>
<stop offset="0.9" stop-color="#d62f27"/>
<stop offset="1.0" stop-color="#a50026"/>
</linearGradient>
<linearGradient id="orrd" x1="0" y1="1" x2="0" y2="0">
<stop offset="0.0" stop-color="#fff7ec"/>
<stop offset="0.1" stop-color="#feebd0"/>
<stop offset="0.2" stop-color="#fddcaf"/>
<stop offset="0.3" stop-color="#fdca94"/>
<stop offset="0.4" stop-color="#fdb27b"/>
<stop offset="0.5" stop-color="#fc8c59"/>
<stop offset="0.6" stop-color="#f26d4b"/>
<stop offset="0.7" stop-color="#e0442f"/>
<stop offset="0.8" stop-color="#c91d13"/>
<stop offset="0.9" stop-color="#a80000"/>
<stop offset="1.0" stop-color="#7f0000"/>
</linearGradient></defs>
<rect x="748" y="54" width="8" height="152.5" fill="url(#rdylbu)"/>
<line x1="756" y1="206.5" x2="759" y2="206.5" stroke="#333" stroke-width="0.8"/>
<text x="761" y="211.2" font-size="13" font-family="Liberation Sans, sans-serif" fill="#222">0.00</text>
<line x1="756" y1="168.4" x2="759" y2="168.4" stroke="#333" stroke-width="0.8"/>
<text x="761" y="173.1" font-size="13" font-family="Liberation Sans, sans-serif" fill="#222">0.05</text>
<line x1="756" y1="130.2" x2="759" y2="130.2" stroke="#333" stroke-width="0.8"/>
<text x="761" y="134.9" font-size="13" font-family="Liberation Sans, sans-serif" fill="#222">0.10</text>
<line x1="756" y1="92.1" x2="759" y2="92.1" stroke="#333" stroke-width="0.8"/>
<text x="761" y="96.8" font-size="13" font-family="Liberation Sans, sans-serif" fill="#222">0.15</text>
<line x1="756" y1="54.0" x2="759" y2="54.0" stroke="#333" stroke-width="0.8"/>
<text x="761" y="58.7" font-size="13" font-family="Liberation Sans, sans-serif" fill="#222">0.20</text>
<line x1="62.6" y1="236.9" x2="84.8" y2="236.9" stroke="#2a2468" stroke-width="0.9"/><line x1="62.6" y1="239.29999999999998" x2="84.8" y2="239.29999999999998" stroke="#2a2468" stroke-width="0.9"/><line x1="62.6" y1="238.1" x2="84.8" y2="238.1" stroke="#c8c0e0" stroke-width="1.5"/><polygon points="58.6,238.1 63.6,235.29999999999998 63.6,240.9" fill="#2a2468"/><polygon points="88.8,238.1 83.8,235.29999999999998 83.8,240.9" fill="#2a2468"/>
<line x1="63" y1="259" x2="85.6" y2="259" stroke="#7890b4" stroke-width="1.4"/><polygon points="59,259 64,256.2 64,261.8" fill="#3a5a8a"/><polygon points="89.6,259 84.6,256.2 84.6,261.8" fill="#3a5a8a"/>
<text x="98.5" y="242.5" font-size="16.2" font-family="Liberation Sans, sans-serif" fill="#222">squeezing</text>
<text x="116" y="262" font-size="16.2" font-family="Liberation Sans, sans-serif" fill="#222">drive</text>
<polyline points="185.00,238.20 185.42,237.98 185.85,237.68 186.27,237.36 186.69,237.11 187.12,237.00 187.54,237.09 187.96,237.41 188.39,237.97 188.81,238.60 189.23,239.20 189.66,239.70 190.08,240.07 190.50,240.27 190.93,240.28 191.35,240.10 191.77,239.74 192.20,239.24 192.62,238.65 193.04,238.02 193.47,237.40 193.89,236.86 194.31,236.44 194.74,236.18 195.16,236.10 195.58,236.22 196.01,236.52 196.43,236.97 196.85,237.54 197.28,238.16 197.70,238.79 198.12,239.37 198.55,239.84 198.97,240.15 199.39,240.29 199.82,240.24 200.24,240.00 200.66,239.60 201.09,239.07 201.51,238.46 201.93,237.82 202.36,237.22 202.78,236.71 203.20,236.34 203.63,236.13 204.05,236.12 204.47,236.29 204.90,236.64 205.32,237.14 205.74,237.73 206.17,238.36 206.59,238.98 207.01,239.53 207.44,239.95 207.86,240.22 208.28,240.30 208.71,240.19 209.13,239.90 209.55,239.45 209.98,238.88 210.40,238.26" fill="none" stroke="#ecdc98" stroke-width="1.1" stroke-linecap="round"/><polygon points="216.4,240.39999999999998 210.4,235.2 208.9,239.7" fill="#e2c040"/>
<polyline points="185.00,259.40 185.42,259.18 185.85,258.88 186.27,258.56 186.69,258.31 187.12,258.20 187.54,258.29 187.96,258.61 188.39,259.17 188.81,259.80 189.23,260.40 189.66,260.90 190.08,261.27 190.50,261.47 190.93,261.48 191.35,261.30 191.77,260.94 192.20,260.44 192.62,259.85 193.04,259.22 193.47,258.60 193.89,258.06 194.31,257.64 194.74,257.38 195.16,257.30 195.58,257.42 196.01,257.72 196.43,258.17 196.85,258.74 197.28,259.36 197.70,259.99 198.12,260.57 198.55,261.04 198.97,261.35 199.39,261.49 199.82,261.44 200.24,261.20 200.66,260.80 201.09,260.27 201.51,259.66 201.93,259.02 202.36,258.42 202.78,257.91 203.20,257.54 203.63,257.33 204.05,257.32 204.47,257.49 204.90,257.84 205.32,258.34 205.74,258.93 206.17,259.56 206.59,260.18 207.01,260.73 207.44,261.15 207.86,261.42 208.28,261.50 208.71,261.39 209.13,261.10 209.55,260.65 209.98,260.08 210.40,259.46" fill="none" stroke="#7cba50" stroke-width="2.0" stroke-linecap="round"/><polygon points="216.4,261.59999999999997 210.4,256.4 208.9,260.9" fill="#5aa838"/>
<polyline points="352.00,238.20 352.43,237.98 352.85,237.68 353.28,237.36 353.71,237.11 354.13,237.00 354.56,237.09 354.99,237.41 355.41,237.97 355.84,238.60 356.27,239.20 356.69,239.70 357.12,240.07 357.55,240.27 357.97,240.28 358.40,240.10 358.83,239.74 359.25,239.24 359.68,238.65 360.11,238.02 360.53,237.40 360.96,236.86 361.39,236.44 361.81,236.18 362.24,236.10 362.67,236.22 363.09,236.52 363.52,236.97 363.95,237.54 364.37,238.16 364.80,238.79 365.23,239.37 365.65,239.84 366.08,240.15 366.51,240.29 366.93,240.24 367.36,240.00 367.79,239.60 368.21,239.07 368.64,238.46 369.07,237.82 369.49,237.22 369.92,236.71 370.35,236.34 370.77,236.13 371.20,236.12 371.63,236.29 372.05,236.64 372.48,237.14 372.91,237.73 373.33,238.36 373.76,238.98 374.19,239.53 374.61,239.95 375.04,240.22 375.47,240.30 375.89,240.19 376.32,239.90 376.75,239.45 377.17,238.88 377.60,238.26" fill="none" stroke="#e8907a" stroke-width="1.1" stroke-linecap="round"/><polygon points="383.6,240.39999999999998 377.6,235.2 376.1,239.7" fill="#d85a40"/>
<text x="225" y="242.5" font-size="16" font-family="Liberation Sans, sans-serif" fill="#222">one-particle loss</text>
<text x="225" y="262" font-size="16" font-family="Liberation Sans, sans-serif" fill="#222">two-particle loss</text>
<text x="392" y="242.5" font-size="16" font-family="Liberation Sans, sans-serif" fill="#222">one-particle pumping</text>
<text x="19.5" y="298" font-size="21" font-weight="bold" font-family="Liberation Sans, sans-serif">C</text>
<rect x="86.2" y="288.6" width="171.4" height="153.6" fill="#fff" stroke="none"/>
<polygon points="94.6,357.5 106.0,339.7 117.4,333.0 128.8,328.4 140.3,326.5 151.7,325.9 163.1,325.2 174.5,325.2 185.9,325.2 197.3,325.9 208.8,326.5 220.2,328.4 231.6,330.9 243.0,325.9 254.4,320.8 265.8,322.1 277.2,325.9 288.7,329.6 300.1,330.9 311.5,328.4 322.9,325.9 334.3,328.4 345.7,330.9 345.7,342.2 334.3,339.7 322.9,337.2 311.5,339.7 300.1,342.2 288.7,341.0 277.2,337.2 265.8,333.4 254.4,332.1 243.0,337.2 231.6,342.2 220.2,339.7 208.8,337.8 197.3,337.2 185.9,336.6 174.5,336.6 163.1,336.6 151.7,337.2 140.3,337.8 128.8,339.7 117.4,344.4 106.0,351.0 94.6,368.8" fill="#fde2c0" opacity="0.6"/>
<polyline points="94.6,363.1 106.0,345.4 117.4,338.7 128.8,334.0 140.3,332.1 151.7,331.5 163.1,330.9 174.5,330.9 185.9,330.9 197.3,331.5 208.8,332.1 220.2,334.0 231.6,336.6 243.0,331.5 254.4,326.5 265.8,327.7 277.2,331.5 288.7,335.3 300.1,336.6 311.5,334.0 322.9,331.5 334.3,334.0 345.7,336.6" fill="none" stroke="#f5b870" stroke-width="1.4"/>
<polygon points="94.6,417.5 106.0,400.8 117.4,384.9 128.8,373.1 140.3,362.7 151.7,350.4 163.1,339.3 174.5,330.3 185.9,323.1 197.3,324.0 208.8,324.6 220.2,326.5 231.6,329.0 243.0,324.0 254.4,318.9 265.8,320.2 277.2,324.0 288.7,327.7 300.1,329.0 311.5,326.5 322.9,324.0 334.3,326.5 345.7,329.0 345.7,344.1 334.3,341.6 322.9,339.1 311.5,341.6 300.1,344.1 288.7,342.8 277.2,339.1 265.8,335.3 254.4,334.0 243.0,339.1 231.6,344.1 220.2,341.6 208.8,339.7 197.3,339.1 185.9,338.2 174.5,345.4 163.1,354.4 151.7,365.5 140.3,377.8 128.8,388.2 117.4,400.0 106.0,415.9 94.6,432.6" fill="#b4c0ec" opacity="0.6"/>
<polyline points="94.6,425.1 106.0,408.3 117.4,392.5 128.8,380.6 140.3,370.3 151.7,358.0 163.1,346.9 174.5,337.8 185.9,330.6 197.3,331.5 208.8,332.1 220.2,334.0 231.6,336.6 243.0,331.5 254.4,326.5 265.8,327.7 277.2,331.5 288.7,335.3 300.1,336.6 311.5,334.0 322.9,331.5 334.3,334.0 345.7,336.6" fill="none" stroke="#3d5aa8" stroke-width="1.4"/>
<polygon points="94.6,295.0 117.4,297.5 140.3,309.4 163.1,315.9 185.9,315.9 202.7,322.7 224.7,320.1 247.6,318.5 269.6,319.1 292.5,322.5 315.3,321.7 337.4,322.5 348.8,321.4 348.8,343.7 337.4,343.7 315.3,343.7 292.5,343.7 269.6,342.6 247.6,340.3 224.7,336.9 202.7,334.8 185.9,332.1 163.1,332.1 140.3,325.7 117.4,313.9 94.6,306.3" fill="#c87890" opacity="0.5"/>
<polyline points="94.6,301.3 106.0,303.2 117.4,306.3 128.8,310.1 140.3,319.2 151.7,322.7 163.1,324.7 174.5,324.0 185.9,323.5 197.3,324.6 208.8,330.5 220.2,333.5 231.6,333.5 243.0,330.3 254.4,325.7 265.8,327.7 277.2,334.7 288.7,338.1 300.1,334.8 311.5,330.6 322.9,331.9 334.3,335.3 345.7,338.1" fill="none" stroke="#a0203f" stroke-width="1.6"/>
<rect x="90.6" y="360.8" width="8" height="8" fill="#f7b879"/>
<line x1="94.6" y1="357.8" x2="94.6" y2="371.8" stroke="#f7b879" stroke-width="1.3"/>
<rect x="113.4" y="349.4" width="8" height="8" fill="#f7b879"/>
<line x1="117.4" y1="346.4" x2="117.4" y2="360.4" stroke="#f7b879" stroke-width="1.3"/>
<rect x="136.3" y="334.7" width="8" height="8" fill="#f7b879"/>
<line x1="140.3" y1="331.7" x2="140.3" y2="345.7" stroke="#f7b879" stroke-width="1.3"/>
<rect x="159.1" y="344.5" width="8" height="8" fill="#f7b879"/>
<line x1="163.1" y1="341.5" x2="163.1" y2="355.5" stroke="#f7b879" stroke-width="1.3"/>
<rect x="181.9" y="339.6" width="8" height="8" fill="#f7b879"/>
<line x1="185.9" y1="336.6" x2="185.9" y2="350.6" stroke="#f7b879" stroke-width="1.3"/>
<rect x="204.8" y="335.1" width="8" height="8" fill="#f7b879"/>
<line x1="208.8" y1="332.1" x2="208.8" y2="346.1" stroke="#f7b879" stroke-width="1.3"/>
<rect x="227.6" y="329.4" width="8" height="8" fill="#f7b879"/>
<line x1="231.6" y1="326.4" x2="231.6" y2="340.4" stroke="#f7b879" stroke-width="1.3"/>
<rect x="250.4" y="335.1" width="8" height="8" fill="#f7b879"/>
<line x1="254.4" y1="332.1" x2="254.4" y2="346.1" stroke="#f7b879" stroke-width="1.3"/>
<rect x="273.2" y="335.1" width="8" height="8" fill="#f7b879"/>
<line x1="277.2" y1="332.1" x2="277.2" y2="346.1" stroke="#f7b879" stroke-width="1.3"/>
<rect x="296.1" y="346.4" width="8" height="8" fill="#f7b879"/>
<line x1="300.1" y1="343.4" x2="300.1" y2="357.4" stroke="#f7b879" stroke-width="1.3"/>
<rect x="318.9" y="342.6" width="8" height="8" fill="#f7b879"/>
<line x1="322.9" y1="339.6" x2="322.9" y2="353.6" stroke="#f7b879" stroke-width="1.3"/>
<rect x="341.7" y="321.2" width="8" height="8" fill="#f7b879"/>
<line x1="345.7" y1="318.2" x2="345.7" y2="332.2" stroke="#f7b879" stroke-width="1.3"/>
<circle cx="94.6" cy="431.5" r="3.6" fill="#4a68b8"/>
<line x1="94.6" y1="425.5" x2="94.6" y2="437.5" stroke="#5a74b8" stroke-width="0.9"/>
<line x1="92.1" y1="425.5" x2="97.1" y2="425.5" stroke="#5a74b8" stroke-width="0.9"/><line x1="92.1" y1="437.5" x2="97.1" y2="437.5" stroke="#5a74b8" stroke-width="0.9"/>
<circle cx="117.4" cy="398.9" r="3.6" fill="#4a68b8"/>
<line x1="117.4" y1="392.9" x2="117.4" y2="404.9" stroke="#5a74b8" stroke-width="0.9"/>
<line x1="114.9" y1="392.9" x2="119.9" y2="392.9" stroke="#5a74b8" stroke-width="0.9"/><line x1="114.9" y1="404.9" x2="119.9" y2="404.9" stroke="#5a74b8" stroke-width="0.9"/>
<circle cx="140.3" cy="371.2" r="3.6" fill="#4a68b8"/>
<line x1="140.3" y1="365.2" x2="140.3" y2="377.2" stroke="#5a74b8" stroke-width="0.9"/>
<line x1="137.8" y1="365.2" x2="142.8" y2="365.2" stroke="#5a74b8" stroke-width="0.9"/><line x1="137.8" y1="377.2" x2="142.8" y2="377.2" stroke="#5a74b8" stroke-width="0.9"/>
<circle cx="163.1" cy="342.8" r="3.6" fill="#4a68b8"/>
<line x1="163.1" y1="336.8" x2="163.1" y2="348.8" stroke="#5a74b8" stroke-width="0.9"/>
<line x1="160.6" y1="336.8" x2="165.6" y2="336.8" stroke="#5a74b8" stroke-width="0.9"/><line x1="160.6" y1="348.8" x2="165.6" y2="348.8" stroke="#5a74b8" stroke-width="0.9"/>
<circle cx="185.9" cy="331.5" r="3.6" fill="#4a68b8"/>
<line x1="185.9" y1="325.5" x2="185.9" y2="337.5" stroke="#5a74b8" stroke-width="0.9"/>
<line x1="183.4" y1="325.5" x2="188.4" y2="325.5" stroke="#5a74b8" stroke-width="0.9"/><line x1="183.4" y1="337.5" x2="188.4" y2="337.5" stroke="#5a74b8" stroke-width="0.9"/>
<circle cx="208.8" cy="344.6" r="3.6" fill="#4a68b8"/>
<line x1="208.8" y1="338.6" x2="208.8" y2="350.6" stroke="#5a74b8" stroke-width="0.9"/>
<line x1="206.2" y1="338.6" x2="211.2" y2="338.6" stroke="#5a74b8" stroke-width="0.9"/><line x1="206.2" y1="350.6" x2="211.2" y2="350.6" stroke="#5a74b8" stroke-width="0.9"/>
<circle cx="231.6" cy="339.1" r="3.6" fill="#4a68b8"/>
<line x1="231.6" y1="333.1" x2="231.6" y2="345.1" stroke="#5a74b8" stroke-width="0.9"/>
<line x1="229.1" y1="333.1" x2="234.1" y2="333.1" stroke="#5a74b8" stroke-width="0.9"/><line x1="229.1" y1="345.1" x2="234.1" y2="345.1" stroke="#5a74b8" stroke-width="0.9"/>
<circle cx="254.4" cy="337.9" r="3.6" fill="#4a68b8"/>
<line x1="254.4" y1="331.9" x2="254.4" y2="343.9" stroke="#5a74b8" stroke-width="0.9"/>
<line x1="251.9" y1="331.9" x2="256.9" y2="331.9" stroke="#5a74b8" stroke-width="0.9"/><line x1="251.9" y1="343.9" x2="256.9" y2="343.9" stroke="#5a74b8" stroke-width="0.9"/>
<circle cx="277.2" cy="341.3" r="3.6" fill="#4a68b8"/>
<line x1="277.2" y1="335.3" x2="277.2" y2="347.3" stroke="#5a74b8" stroke-width="0.9"/>
<line x1="274.7" y1="335.3" x2="279.7" y2="335.3" stroke="#5a74b8" stroke-width="0.9"/><line x1="274.7" y1="347.3" x2="279.7" y2="347.3" stroke="#5a74b8" stroke-width="0.9"/>
<circle cx="300.1" cy="350.4" r="3.6" fill="#4a68b8"/>
<line x1="300.1" y1="344.4" x2="300.1" y2="356.4" stroke="#5a74b8" stroke-width="0.9"/>
<line x1="297.6" y1="344.4" x2="302.6" y2="344.4" stroke="#5a74b8" stroke-width="0.9"/><line x1="297.6" y1="356.4" x2="302.6" y2="356.4" stroke="#5a74b8" stroke-width="0.9"/>
<circle cx="322.9" cy="341.6" r="3.6" fill="#4a68b8"/>
<line x1="322.9" y1="335.6" x2="322.9" y2="347.6" stroke="#5a74b8" stroke-width="0.9"/>
<line x1="320.4" y1="335.6" x2="325.4" y2="335.6" stroke="#5a74b8" stroke-width="0.9"/><line x1="320.4" y1="347.6" x2="325.4" y2="347.6" stroke="#5a74b8" stroke-width="0.9"/>
<circle cx="345.7" cy="356.9" r="3.6" fill="#4a68b8"/>
<line x1="345.7" y1="350.9" x2="345.7" y2="362.9" stroke="#5a74b8" stroke-width="0.9"/>
<line x1="343.2" y1="350.9" x2="348.2" y2="350.9" stroke="#5a74b8" stroke-width="0.9"/><line x1="343.2" y1="362.9" x2="348.2" y2="362.9" stroke="#5a74b8" stroke-width="0.9"/>
<polygon points="94.6,304.4 90.7,312.6 98.5,312.6" fill="#a0183a"/>
<line x1="94.6" y1="302.9" x2="94.6" y2="315.9" stroke="#a0183a" stroke-width="1"/>
<line x1="92.3" y1="302.9" x2="96.9" y2="302.9" stroke="#a0183a" stroke-width="1"/><line x1="92.3" y1="315.9" x2="96.9" y2="315.9" stroke="#a0183a" stroke-width="1"/>
<polygon points="117.4,315.8 113.5,324.0 121.3,324.0" fill="#a0183a"/>
<line x1="117.4" y1="314.3" x2="117.4" y2="327.3" stroke="#a0183a" stroke-width="1"/>
<line x1="115.1" y1="314.3" x2="119.7" y2="314.3" stroke="#a0183a" stroke-width="1"/><line x1="115.1" y1="327.3" x2="119.7" y2="327.3" stroke="#a0183a" stroke-width="1"/>
<polygon points="140.3,317.5 136.4,325.7 144.2,325.7" fill="#a0183a"/>
<line x1="140.3" y1="316.0" x2="140.3" y2="329.0" stroke="#a0183a" stroke-width="1"/>
<line x1="138.0" y1="316.0" x2="142.6" y2="316.0" stroke="#a0183a" stroke-width="1"/><line x1="138.0" y1="329.0" x2="142.6" y2="329.0" stroke="#a0183a" stroke-width="1"/>
<polygon points="163.1,319.1 159.2,327.3 167.0,327.3" fill="#a0183a"/>
<line x1="163.1" y1="317.6" x2="163.1" y2="330.6" stroke="#a0183a" stroke-width="1"/>
<line x1="160.8" y1="317.6" x2="165.4" y2="317.6" stroke="#a0183a" stroke-width="1"/><line x1="160.8" y1="330.6" x2="165.4" y2="330.6" stroke="#a0183a" stroke-width="1"/>
<polygon points="185.9,330.5 182.0,338.7 189.8,338.7" fill="#a0183a"/>
<line x1="185.9" y1="329.0" x2="185.9" y2="342.0" stroke="#a0183a" stroke-width="1"/>
<line x1="183.6" y1="329.0" x2="188.2" y2="329.0" stroke="#a0183a" stroke-width="1"/><line x1="183.6" y1="342.0" x2="188.2" y2="342.0" stroke="#a0183a" stroke-width="1"/>
<polygon points="208.8,326.1 204.8,334.3 212.7,334.3" fill="#a0183a"/>
<line x1="208.8" y1="324.6" x2="208.8" y2="337.6" stroke="#a0183a" stroke-width="1"/>
<line x1="206.4" y1="324.6" x2="211.1" y2="324.6" stroke="#a0183a" stroke-width="1"/><line x1="206.4" y1="337.6" x2="211.1" y2="337.6" stroke="#a0183a" stroke-width="1"/>
<polygon points="231.6,339.0 227.7,347.2 235.5,347.2" fill="#a0183a"/>
<line x1="231.6" y1="337.5" x2="231.6" y2="350.5" stroke="#a0183a" stroke-width="1"/>
<line x1="229.3" y1="337.5" x2="233.9" y2="337.5" stroke="#a0183a" stroke-width="1"/><line x1="229.3" y1="350.5" x2="233.9" y2="350.5" stroke="#a0183a" stroke-width="1"/>
<polygon points="254.4,349.8 250.5,358.0 258.3,358.0" fill="#a0183a"/>
<line x1="254.4" y1="348.3" x2="254.4" y2="361.3" stroke="#a0183a" stroke-width="1"/>
<line x1="252.1" y1="348.3" x2="256.7" y2="348.3" stroke="#a0183a" stroke-width="1"/><line x1="252.1" y1="361.3" x2="256.7" y2="361.3" stroke="#a0183a" stroke-width="1"/>
<polygon points="277.2,324.0 273.3,332.2 281.1,332.2" fill="#a0183a"/>
<line x1="277.2" y1="322.5" x2="277.2" y2="335.5" stroke="#a0183a" stroke-width="1"/>
<line x1="274.9" y1="322.5" x2="279.5" y2="322.5" stroke="#a0183a" stroke-width="1"/><line x1="274.9" y1="335.5" x2="279.5" y2="335.5" stroke="#a0183a" stroke-width="1"/>
<polygon points="300.1,341.9 296.2,350.1 304.0,350.1" fill="#a0183a"/>
<line x1="300.1" y1="340.4" x2="300.1" y2="353.4" stroke="#a0183a" stroke-width="1"/>
<line x1="297.8" y1="340.4" x2="302.4" y2="340.4" stroke="#a0183a" stroke-width="1"/><line x1="297.8" y1="353.4" x2="302.4" y2="353.4" stroke="#a0183a" stroke-width="1"/>
<polygon points="322.9,335.3 319.0,343.5 326.8,343.5" fill="#a0183a"/>
<line x1="322.9" y1="333.8" x2="322.9" y2="346.8" stroke="#a0183a" stroke-width="1"/>
<line x1="320.6" y1="333.8" x2="325.2" y2="333.8" stroke="#a0183a" stroke-width="1"/><line x1="320.6" y1="346.8" x2="325.2" y2="346.8" stroke="#a0183a" stroke-width="1"/>
<polygon points="345.7,339.1 341.8,347.3 349.6,347.3" fill="#a0183a"/>
<line x1="345.7" y1="337.6" x2="345.7" y2="350.6" stroke="#a0183a" stroke-width="1"/>
<line x1="343.4" y1="337.6" x2="348.0" y2="337.6" stroke="#a0183a" stroke-width="1"/><line x1="343.4" y1="350.6" x2="348.0" y2="350.6" stroke="#a0183a" stroke-width="1"/>
<rect x="204.6" y="292.3" width="150.2" height="20.8" rx="2.5" fill="#fff" fill-opacity="0.85" stroke="#dcdcdc" stroke-width="0.8"/>
<line x1="213.2" y1="295.4" x2="213.2" y2="307.4" stroke="#4a68b8" stroke-width="1.0"/><line x1="210.7" y1="295.4" x2="215.7" y2="295.4" stroke="#4a68b8" stroke-width="1.0"/><line x1="210.7" y1="307.4" x2="215.7" y2="307.4" stroke="#4a68b8" stroke-width="1.0"/>
<circle cx="213.2" cy="301.4" r="3.3" fill="#4a68b8"/>
<line x1="262.4" y1="295.4" x2="262.4" y2="307.4" stroke="#f7b879" stroke-width="1.0"/><line x1="259.9" y1="295.4" x2="264.9" y2="295.4" stroke="#f7b879" stroke-width="1.0"/><line x1="259.9" y1="307.4" x2="264.9" y2="307.4" stroke="#f7b879" stroke-width="1.0"/>
<rect x="259" y="297.6" width="6.8" height="7.6" fill="#f7b879"/>
<line x1="318" y1="295.4" x2="318" y2="307.4" stroke="#a0183a" stroke-width="1.0"/><line x1="315.5" y1="295.4" x2="320.5" y2="295.4" stroke="#a0183a" stroke-width="1.0"/><line x1="315.5" y1="307.4" x2="320.5" y2="307.4" stroke="#a0183a" stroke-width="1.0"/>
<polygon points="318,296.5 314.3,305 321.7,305" fill="#a0183a"/>
<text x="223" y="306.5" font-size="14" font-family="Liberation Sans, sans-serif" fill="#222"><tspan font-style="italic">α</tspan><tspan dx="1">=</tspan><tspan dx="1">0</tspan></text>
<text x="272" y="306.5" font-size="14" font-family="Liberation Sans, sans-serif" fill="#222"><tspan font-style="italic">α</tspan><tspan dx="1">=</tspan><tspan dx="1" font-style="italic">i</tspan>/2</text>
<text x="327" y="306.5" font-size="14" font-family="Liberation Sans, sans-serif" fill="#222"><tspan font-style="italic">α</tspan><tspan dx="1">=</tspan><tspan dx="1" font-style="italic">i</tspan></text>
<path d="M193.3,409.6 L195.49,409.60 A2.19,2.19 0 0 0 195.42,409.03Z" fill="#a50026" stroke="#a50026" stroke-width="0.4"/>
<path d="M193.3,409.6 L195.42,409.03 A2.19,2.19 0 0 0 195.20,408.50Z" fill="#a50026" stroke="#a50026" stroke-width="0.4"/>
<path d="M193.3,409.6 L195.20,408.50 A2.19,2.19 0 0 0 194.85,408.05Z" fill="#a50026" stroke="#a50026" stroke-width="0.4"/>
<path d="M193.3,409.6 L194.85,408.05 A2.19,2.19 0 0 0 194.40,407.70Z" fill="#a50026" stroke="#a50026" stroke-width="0.4"/>
<path d="M193.3,409.6 L194.40,407.70 A2.19,2.19 0 0 0 193.87,407.48Z" fill="#a50026" stroke="#a50026" stroke-width="0.4"/>
<path d="M193.3,409.6 L193.87,407.48 A2.19,2.19 0 0 0 193.30,407.41Z" fill="#a50026" stroke="#a50026" stroke-width="0.4"/>
<path d="M193.3,409.6 L193.30,407.41 A2.19,2.19 0 0 0 192.73,407.48Z" fill="#a50026" stroke="#a50026" stroke-width="0.4"/>
<path d="M193.3,409.6 L192.73,407.48 A2.19,2.19 0 0 0 192.20,407.70Z" fill="#a50026" stroke="#a50026" stroke-width="0.4"/>
<path d="M193.3,409.6 L192.20,407.70 A2.19,2.19 0 0 0 191.75,408.05Z" fill="#a50026" stroke="#a50026" stroke-width="0.4"/>
<path d="M193.3,409.6 L191.75,408.05 A2.19,2.19 0 0 0 191.40,408.50Z" fill="#a50026" stroke="#a50026" stroke-width="0.4"/>
<path d="M193.3,409.6 L191.40,408.50 A2.19,2.19 0 0 0 191.18,409.03Z" fill="#a50026" stroke="#a50026" stroke-width="0.4"/>
<path d="M193.3,409.6 L191.18,409.03 A2.19,2.19 0 0 0 191.11,409.60Z" fill="#a50026" stroke="#a50026" stroke-width="0.4"/>
<path d="M193.3,409.6 L191.11,409.60 A2.19,2.19 0 0 0 191.18,410.17Z" fill="#a50026" stroke="#a50026" stroke-width="0.4"/>
<path d="M193.3,409.6 L191.18,410.17 A2.19,2.19 0 0 0 191.40,410.70Z" fill="#a50026" stroke="#a50026" stroke-width="0.4"/>
<path d="M193.3,409.6 L191.40,410.70 A2.19,2.19 0 0 0 191.75,411.15Z" fill="#a50026" stroke="#a50026" stroke-width="0.4"/>
<path d="M193.3,409.6 L191.75,411.15 A2.19,2.19 0 0 0 192.20,411.50Z" fill="#a50026" stroke="#a50026" stroke-width="0.4"/>
<path d="M193.3,409.6 L192.20,411.50 A2.19,2.19 0 0 0 192.73,411.72Z" fill="#a50026" stroke="#a50026" stroke-width="0.4"/>
<path d="M193.3,409.6 L192.73,411.72 A2.19,2.19 0 0 0 193.30,411.79Z" fill="#a50026" stroke="#a50026" stroke-width="0.4"/>
<path d="M193.3,409.6 L193.30,411.79 A2.19,2.19 0 0 0 193.87,411.72Z" fill="#a50026" stroke="#a50026" stroke-width="0.4"/>
<path d="M193.3,409.6 L193.87,411.72 A2.19,2.19 0 0 0 194.40,411.50Z" fill="#a50026" stroke="#a50026" stroke-width="0.4"/>
<path d="M193.3,409.6 L194.40,411.50 A2.19,2.19 0 0 0 194.85,411.15Z" fill="#a50026" stroke="#a50026" stroke-width="0.4"/>
<path d="M193.3,409.6 L194.85,411.15 A2.19,2.19 0 0 0 195.20,410.70Z" fill="#a50026" stroke="#a50026" stroke-width="0.4"/>
<path d="M193.3,409.6 L195.20,410.70 A2.19,2.19 0 0 0 195.42,410.17Z" fill="#a50026" stroke="#a50026" stroke-width="0.4"/>
<path d="M193.3,409.6 L195.42,410.17 A2.19,2.19 0 0 0 195.49,409.60Z" fill="#a50026" stroke="#a50026" stroke-width="0.4"/>
<path d="M195.49,409.60 L197.69,409.60 A4.39,4.39 0 0 0 197.54,408.46 L195.42,409.03 A2.19,2.19 0 0 1 195.49,409.60Z" fill="#a70226" stroke="#a70226" stroke-width="0.4"/>
<path d="M195.42,409.03 L197.54,408.46 A4.39,4.39 0 0 0 197.10,407.41 L195.20,408.50 A2.19,2.19 0 0 1 195.42,409.03Z" fill="#a70226" stroke="#a70226" stroke-width="0.4"/>
<path d="M195.20,408.50 L197.10,407.41 A4.39,4.39 0 0 0 196.40,406.50 L194.85,408.05 A2.19,2.19 0 0 1 195.20,408.50Z" fill="#a70226" stroke="#a70226" stroke-width="0.4"/>
<path d="M194.85,408.05 L196.40,406.50 A4.39,4.39 0 0 0 195.49,405.80 L194.40,407.70 A2.19,2.19 0 0 1 194.85,408.05Z" fill="#a70226" stroke="#a70226" stroke-width="0.4"/>
<path d="M194.40,407.70 L195.49,405.80 A4.39,4.39 0 0 0 194.44,405.36 L193.87,407.48 A2.19,2.19 0 0 1 194.40,407.70Z" fill="#a70226" stroke="#a70226" stroke-width="0.4"/>
<path d="M193.87,407.48 L194.44,405.36 A4.39,4.39 0 0 0 193.30,405.21 L193.30,407.41 A2.19,2.19 0 0 1 193.87,407.48Z" fill="#a70226" stroke="#a70226" stroke-width="0.4"/>
<path d="M193.30,407.41 L193.30,405.21 A4.39,4.39 0 0 0 192.16,405.36 L192.73,407.48 A2.19,2.19 0 0 1 193.30,407.41Z" fill="#a70226" stroke="#a70226" stroke-width="0.4"/>
<path d="M192.73,407.48 L192.16,405.36 A4.39,4.39 0 0 0 191.11,405.80 L192.20,407.70 A2.19,2.19 0 0 1 192.73,407.48Z" fill="#a70226" stroke="#a70226" stroke-width="0.4"/>
<path d="M192.20,407.70 L191.11,405.80 A4.39,4.39 0 0 0 190.20,406.50 L191.75,408.05 A2.19,2.19 0 0 1 192.20,407.70Z" fill="#a70226" stroke="#a70226" stroke-width="0.4"/>
<path d="M191.75,408.05 L190.20,406.50 A4.39,4.39 0 0 0 189.50,407.41 L191.40,408.50 A2.19,2.19 0 0 1 191.75,408.05Z" fill="#a70226" stroke="#a70226" stroke-width="0.4"/>
<path d="M191.40,408.50 L189.50,407.41 A4.39,4.39 0 0 0 189.06,408.46 L191.18,409.03 A2.19,2.19 0 0 1 191.40,408.50Z" fill="#a70226" stroke="#a70226" stroke-width="0.4"/>
<path d="M191.18,409.03 L189.06,408.46 A4.39,4.39 0 0 0 188.91,409.60 L191.11,409.60 A2.19,2.19 0 0 1 191.18,409.03Z" fill="#a70226" stroke="#a70226" stroke-width="0.4"/>
<path d="M191.11,409.60 L188.91,409.60 A4.39,4.39 0 0 0 189.06,410.74 L191.18,410.17 A2.19,2.19 0 0 1 191.11,409.60Z" fill="#a70226" stroke="#a70226" stroke-width="0.4"/>
<path d="M191.18,410.17 L189.06,410.74 A4.39,4.39 0 0 0 189.50,411.79 L191.40,410.70 A2.19,2.19 0 0 1 191.18,410.17Z" fill="#a70226" stroke="#a70226" stroke-width="0.4"/>
<path d="M191.40,410.70 L189.50,411.79 A4.39,4.39 0 0 0 190.20,412.70 L191.75,411.15 A2.19,2.19 0 0 1 191.40,410.70Z" fill="#a70226" stroke="#a70226" stroke-width="0.4"/>
<path d="M191.75,411.15 L190.20,412.70 A4.39,4.39 0 0 0 191.11,413.40 L192.20,411.50 A2.19,2.19 0 0 1 191.75,411.15Z" fill="#a70226" stroke="#a70226" stroke-width="0.4"/>
<path d="M192.20,411.50 L191.11,413.40 A4.39,4.39 0 0 0 192.16,413.84 L192.73,411.72 A2.19,2.19 0 0 1 192.20,411.50Z" fill="#a70226" stroke="#a70226" stroke-width="0.4"/>
<path d="M192.73,411.72 L192.16,413.84 A4.39,4.39 0 0 0 193.30,413.99 L193.30,411.79 A2.19,2.19 0 0 1 192.73,411.72Z" fill="#a70226" stroke="#a70226" stroke-width="0.4"/>
<path d="M193.30,411.79 L193.30,413.99 A4.39,4.39 0 0 0 194.44,413.84 L193.87,411.72 A2.19,2.19 0 0 1 193.30,411.79Z" fill="#a70226" stroke="#a70226" stroke-width="0.4"/>
<path d="M193.87,411.72 L194.44,413.84 A4.39,4.39 0 0 0 195.49,413.40 L194.40,411.50 A2.19,2.19 0 0 1 193.87,411.72Z" fill="#a70226" stroke="#a70226" stroke-width="0.4"/>
<path d="M194.40,411.50 L195.49,413.40 A4.39,4.39 0 0 0 196.40,412.70 L194.85,411.15 A2.19,2.19 0 0 1 194.40,411.50Z" fill="#a70226" stroke="#a70226" stroke-width="0.4"/>
<path d="M194.85,411.15 L196.40,412.70 A4.39,4.39 0 0 0 197.10,411.79 L195.20,410.70 A2.19,2.19 0 0 1 194.85,411.15Z" fill="#a70226" stroke="#a70226" stroke-width="0.4"/>
<path d="M195.20,410.70 L197.10,411.79 A4.39,4.39 0 0 0 197.54,410.74 L195.42,410.17 A2.19,2.19 0 0 1 195.20,410.70Z" fill="#a70226" stroke="#a70226" stroke-width="0.4"/>
<path d="M195.42,410.17 L197.54,410.74 A4.39,4.39 0 0 0 197.69,409.60 L195.49,409.60 A2.19,2.19 0 0 1 195.42,410.17Z" fill="#a70226" stroke="#a70226" stroke-width="0.4"/>
<path d="M197.69,409.60 L199.88,409.60 A6.58,6.58 0 0 0 199.65,407.90 L197.54,408.46 A4.39,4.39 0 0 1 197.69,409.60Z" fill="#a70226" stroke="#a70226" stroke-width="0.4"/>
<path d="M197.54,408.46 L199.65,407.90 A6.58,6.58 0 0 0 199.00,406.31 L197.10,407.41 A4.39,4.39 0 0 1 197.54,408.46Z" fill="#a70226" stroke="#a70226" stroke-width="0.4"/>
<path d="M197.10,407.41 L199.00,406.31 A6.58,6.58 0 0 0 197.95,404.95 L196.40,406.50 A4.39,4.39 0 0 1 197.10,407.41Z" fill="#a70226" stroke="#a70226" stroke-width="0.4"/>
<path d="M196.40,406.50 L197.95,404.95 A6.58,6.58 0 0 0 196.59,403.90 L195.49,405.80 A4.39,4.39 0 0 1 196.40,406.50Z" fill="#a70226" stroke="#a70226" stroke-width="0.4"/>
<path d="M195.49,405.80 L196.59,403.90 A6.58,6.58 0 0 0 195.00,403.25 L194.44,405.36 A4.39,4.39 0 0 1 195.49,405.80Z" fill="#a70226" stroke="#a70226" stroke-width="0.4"/>
<path d="M194.44,405.36 L195.00,403.25 A6.58,6.58 0 0 0 193.30,403.02 L193.30,405.21 A4.39,4.39 0 0 1 194.44,405.36Z" fill="#a70226" stroke="#a70226" stroke-width="0.4"/>
<path d="M193.30,405.21 L193.30,403.02 A6.58,6.58 0 0 0 191.60,403.25 L192.16,405.36 A4.39,4.39 0 0 1 193.30,405.21Z" fill="#a70226" stroke="#a70226" stroke-width="0.4"/>
<path d="M192.16,405.36 L191.60,403.25 A6.58,6.58 0 0 0 190.01,403.90 L191.11,405.80 A4.39,4.39 0 0 1 192.16,405.36Z" fill="#a70226" stroke="#a70226" stroke-width="0.4"/>
<path d="M191.11,405.80 L190.01,403.90 A6.58,6.58 0 0 0 188.65,404.95 L190.20,406.50 A4.39,4.39 0 0 1 191.11,405.80Z" fill="#a70226" stroke="#a70226" stroke-width="0.4"/>
<path d="M190.20,406.50 L188.65,404.95 A6.58,6.58 0 0 0 187.60,406.31 L189.50,407.41 A4.39,4.39 0 0 1 190.20,406.50Z" fill="#a70226" stroke="#a70226" stroke-width="0.4"/>
<path d="M189.50,407.41 L187.60,406.31 A6.58,6.58 0 0 0 186.95,407.90 L189.06,408.46 A4.39,4.39 0 0 1 189.50,407.41Z" fill="#a70226" stroke="#a70226" stroke-width="0.4"/>
<path d="M189.06,408.46 L186.95,407.90 A6.58,6.58 0 0 0 186.72,409.60 L188.91,409.60 A4.39,4.39 0 0 1 189.06,408.46Z" fill="#a70226" stroke="#a70226" stroke-width="0.4"/>
<path d="M188.91,409.60 L186.72,409.60 A6.58,6.58 0 0 0 186.95,411.30 L189.06,410.74 A4.39,4.39 0 0 1 188.91,409.60Z" fill="#a70226" stroke="#a70226" stroke-width="0.4"/>
<path d="M189.06,410.74 L186.95,411.30 A6.58,6.58 0 0 0 187.60,412.89 L189.50,411.79 A4.39,4.39 0 0 1 189.06,410.74Z" fill="#a70226" stroke="#a70226" stroke-width="0.4"/>
<path d="M189.50,411.79 L187.60,412.89 A6.58,6.58 0 0 0 188.65,414.25 L190.20,412.70 A4.39,4.39 0 0 1 189.50,411.79Z" fill="#a70226" stroke="#a70226" stroke-width="0.4"/>
<path d="M190.20,412.70 L188.65,414.25 A6.58,6.58 0 0 0 190.01,415.30 L191.11,413.40 A4.39,4.39 0 0 1 190.20,412.70Z" fill="#a70226" stroke="#a70226" stroke-width="0.4"/>
<path d="M191.11,413.40 L190.01,415.30 A6.58,6.58 0 0 0 191.60,415.95 L192.16,413.84 A4.39,4.39 0 0 1 191.11,413.40Z" fill="#a70226" stroke="#a70226" stroke-width="0.4"/>
<path d="M192.16,413.84 L191.60,415.95 A6.58,6.58 0 0 0 193.30,416.18 L193.30,413.99 A4.39,4.39 0 0 1 192.16,413.84Z" fill="#a70226" stroke="#a70226" stroke-width="0.4"/>
<path d="M193.30,413.99 L193.30,416.18 A6.58,6.58 0 0 0 195.00,415.95 L194.44,413.84 A4.39,4.39 0 0 1 193.30,413.99Z" fill="#a70226" stroke="#a70226" stroke-width="0.4"/>
<path d="M194.44,413.84 L195.00,415.95 A6.58,6.58 0 0 0 196.59,415.30 L195.49,413.40 A4.39,4.39 0 0 1 194.44,413.84Z" fill="#a70226" stroke="#a70226" stroke-width="0.4"/>
<path d="M195.49,413.40 L196.59,415.30 A6.58,6.58 0 0 0 197.95,414.25 L196.40,412.70 A4.39,4.39 0 0 1 195.49,413.40Z" fill="#a70226" stroke="#a70226" stroke-width="0.4"/>
<path d="M196.40,412.70 L197.95,414.25 A6.58,6.58 0 0 0 199.00,412.89 L197.10,411.79 A4.39,4.39 0 0 1 196.40,412.70Z" fill="#a70226" stroke="#a70226" stroke-width="0.4"/>
<path d="M197.10,411.79 L199.00,412.89 A6.58,6.58 0 0 0 199.65,411.30 L197.54,410.74 A4.39,4.39 0 0 1 197.10,411.79Z" fill="#a70226" stroke="#a70226" stroke-width="0.4"/>
<path d="M197.54,410.74 L199.65,411.30 A6.58,6.58 0 0 0 199.88,409.60 L197.69,409.60 A4.39,4.39 0 0 1 197.54,410.74Z" fill="#a70226" stroke="#a70226" stroke-width="0.4"/>
<path d="M199.88,409.60 L202.07,409.60 A8.77,8.77 0 0 0 201.77,407.33 L199.65,407.90 A6.58,6.58 0 0 1 199.88,409.60Z" fill="#a90426" stroke="#a90426" stroke-width="0.4"/>
<path d="M199.65,407.90 L201.77,407.33 A8.77,8.77 0 0 0 200.90,405.21 L199.00,406.31 A6.58,6.58 0 0 1 199.65,407.90Z" fill="#a90426" stroke="#a90426" stroke-width="0.4"/>
<path d="M199.00,406.31 L200.90,405.21 A8.77,8.77 0 0 0 199.50,403.40 L197.95,404.95 A6.58,6.58 0 0 1 199.00,406.31Z" fill="#a90426" stroke="#a90426" stroke-width="0.4"/>
<path d="M197.95,404.95 L199.50,403.40 A8.77,8.77 0 0 0 197.69,402.00 L196.59,403.90 A6.58,6.58 0 0 1 197.95,404.95Z" fill="#a90426" stroke="#a90426" stroke-width="0.4"/>
<path d="M196.59,403.90 L197.69,402.00 A8.77,8.77 0 0 0 195.57,401.13 L195.00,403.25 A6.58,6.58 0 0 1 196.59,403.90Z" fill="#a90426" stroke="#a90426" stroke-width="0.4"/>
<path d="M195.00,403.25 L195.57,401.13 A8.77,8.77 0 0 0 193.30,400.83 L193.30,403.02 A6.58,6.58 0 0 1 195.00,403.25Z" fill="#a90426" stroke="#a90426" stroke-width="0.4"/>
<path d="M193.30,403.02 L193.30,400.83 A8.77,8.77 0 0 0 191.03,401.13 L191.60,403.25 A6.58,6.58 0 0 1 193.30,403.02Z" fill="#a90426" stroke="#a90426" stroke-width="0.4"/>
<path d="M191.60,403.25 L191.03,401.13 A8.77,8.77 0 0 0 188.91,402.00 L190.01,403.90 A6.58,6.58 0 0 1 191.60,403.25Z" fill="#a90426" stroke="#a90426" stroke-width="0.4"/>
<path d="M190.01,403.90 L188.91,402.00 A8.77,8.77 0 0 0 187.10,403.40 L188.65,404.95 A6.58,6.58 0 0 1 190.01,403.90Z" fill="#a90426" stroke="#a90426" stroke-width="0.4"/>
<path d="M188.65,404.95 L187.10,403.40 A8.77,8.77 0 0 0 185.70,405.21 L187.60,406.31 A6.58,6.58 0 0 1 188.65,404.95Z" fill="#a90426" stroke="#a90426" stroke-width="0.4"/>
<path d="M187.60,406.31 L185.70,405.21 A8.77,8.77 0 0 0 184.83,407.33 L186.95,407.90 A6.58,6.58 0 0 1 187.60,406.31Z" fill="#a90426" stroke="#a90426" stroke-width="0.4"/>
<path d="M186.95,407.90 L184.83,407.33 A8.77,8.77 0 0 0 184.53,409.60 L186.72,409.60 A6.58,6.58 0 0 1 186.95,407.90Z" fill="#a90426" stroke="#a90426" stroke-width="0.4"/>
<path d="M186.72,409.60 L184.53,409.60 A8.77,8.77 0 0 0 184.83,411.87 L186.95,411.30 A6.58,6.58 0 0 1 186.72,409.60Z" fill="#a90426" stroke="#a90426" stroke-width="0.4"/>
<path d="M186.95,411.30 L184.83,411.87 A8.77,8.77 0 0 0 185.70,413.99 L187.60,412.89 A6.58,6.58 0 0 1 186.95,411.30Z" fill="#a90426" stroke="#a90426" stroke-width="0.4"/>
<path d="M187.60,412.89 L185.70,413.99 A8.77,8.77 0 0 0 187.10,415.80 L188.65,414.25 A6.58,6.58 0 0 1 187.60,412.89Z" fill="#a90426" stroke="#a90426" stroke-width="0.4"/>
<path d="M188.65,414.25 L187.10,415.80 A8.77,8.77 0 0 0 188.91,417.20 L190.01,415.30 A6.58,6.58 0 0 1 188.65,414.25Z" fill="#a90426" stroke="#a90426" stroke-width="0.4"/>
<path d="M190.01,415.30 L188.91,417.20 A8.77,8.77 0 0 0 191.03,418.07 L191.60,415.95 A6.58,6.58 0 0 1 190.01,415.30Z" fill="#a90426" stroke="#a90426" stroke-width="0.4"/>
<path d="M191.60,415.95 L191.03,418.07 A8.77,8.77 0 0 0 193.30,418.37 L193.30,416.18 A6.58,6.58 0 0 1 191.60,415.95Z" fill="#a90426" stroke="#a90426" stroke-width="0.4"/>
<path d="M193.30,416.18 L193.30,418.37 A8.77,8.77 0 0 0 195.57,418.07 L195.00,415.95 A6.58,6.58 0 0 1 193.30,416.18Z" fill="#a90426" stroke="#a90426" stroke-width="0.4"/>
<path d="M195.00,415.95 L195.57,418.07 A8.77,8.77 0 0 0 197.69,417.20 L196.59,415.30 A6.58,6.58 0 0 1 195.00,415.95Z" fill="#a90426" stroke="#a90426" stroke-width="0.4"/>
<path d="M196.59,415.30 L197.69,417.20 A8.77,8.77 0 0 0 199.50,415.80 L197.95,414.25 A6.58,6.58 0 0 1 196.59,415.30Z" fill="#a90426" stroke="#a90426" stroke-width="0.4"/>
<path d="M197.95,414.25 L199.50,415.80 A8.77,8.77 0 0 0 200.90,413.99 L199.00,412.89 A6.58,6.58 0 0 1 197.95,414.25Z" fill="#a90426" stroke="#a90426" stroke-width="0.4"/>
<path d="M199.00,412.89 L200.90,413.99 A8.77,8.77 0 0 0 201.77,411.87 L199.65,411.30 A6.58,6.58 0 0 1 199.00,412.89Z" fill="#a90426" stroke="#a90426" stroke-width="0.4"/>
<path d="M199.65,411.30 L201.77,411.87 A8.77,8.77 0 0 0 202.07,409.60 L199.88,409.60 A6.58,6.58 0 0 1 199.65,411.30Z" fill="#a90426" stroke="#a90426" stroke-width="0.4"/>
<path d="M202.07,409.60 L204.26,409.60 A10.96,10.96 0 0 0 203.89,406.76 L201.77,407.33 A8.77,8.77 0 0 1 202.07,409.60Z" fill="#c01a27" stroke="#c01a27" stroke-width="0.4"/>
<path d="M201.77,407.33 L203.89,406.76 A10.96,10.96 0 0 0 202.80,404.12 L200.90,405.21 A8.77,8.77 0 0 1 201.77,407.33Z" fill="#c01a27" stroke="#c01a27" stroke-width="0.4"/>
<path d="M200.90,405.21 L202.80,404.12 A10.96,10.96 0 0 0 201.05,401.85 L199.50,403.40 A8.77,8.77 0 0 1 200.90,405.21Z" fill="#c01a27" stroke="#c01a27" stroke-width="0.4"/>
<path d="M199.50,403.40 L201.05,401.85 A10.96,10.96 0 0 0 198.78,400.10 L197.69,402.00 A8.77,8.77 0 0 1 199.50,403.40Z" fill="#c01a27" stroke="#c01a27" stroke-width="0.4"/>
<path d="M197.69,402.00 L198.78,400.10 A10.96,10.96 0 0 0 196.14,399.01 L195.57,401.13 A8.77,8.77 0 0 1 197.69,402.00Z" fill="#c01a27" stroke="#c01a27" stroke-width="0.4"/>
<path d="M195.57,401.13 L196.14,399.01 A10.96,10.96 0 0 0 193.30,398.64 L193.30,400.83 A8.77,8.77 0 0 1 195.57,401.13Z" fill="#c01a27" stroke="#c01a27" stroke-width="0.4"/>
<path d="M193.30,400.83 L193.30,398.64 A10.96,10.96 0 0 0 190.46,399.01 L191.03,401.13 A8.77,8.77 0 0 1 193.30,400.83Z" fill="#c01a27" stroke="#c01a27" stroke-width="0.4"/>
<path d="M191.03,401.13 L190.46,399.01 A10.96,10.96 0 0 0 187.82,400.10 L188.91,402.00 A8.77,8.77 0 0 1 191.03,401.13Z" fill="#c01a27" stroke="#c01a27" stroke-width="0.4"/>
<path d="M188.91,402.00 L187.82,400.10 A10.96,10.96 0 0 0 185.55,401.85 L187.10,403.40 A8.77,8.77 0 0 1 188.91,402.00Z" fill="#c01a27" stroke="#c01a27" stroke-width="0.4"/>
<path d="M187.10,403.40 L185.55,401.85 A10.96,10.96 0 0 0 183.80,404.12 L185.70,405.21 A8.77,8.77 0 0 1 187.10,403.40Z" fill="#c01a27" stroke="#c01a27" stroke-width="0.4"/>
<path d="M185.70,405.21 L183.80,404.12 A10.96,10.96 0 0 0 182.71,406.76 L184.83,407.33 A8.77,8.77 0 0 1 185.70,405.21Z" fill="#c01a27" stroke="#c01a27" stroke-width="0.4"/>
<path d="M184.83,407.33 L182.71,406.76 A10.96,10.96 0 0 0 182.34,409.60 L184.53,409.60 A8.77,8.77 0 0 1 184.83,407.33Z" fill="#c01a27" stroke="#c01a27" stroke-width="0.4"/>
<path d="M184.53,409.60 L182.34,409.60 A10.96,10.96 0 0 0 182.71,412.44 L184.83,411.87 A8.77,8.77 0 0 1 184.53,409.60Z" fill="#c01a27" stroke="#c01a27" stroke-width="0.4"/>
<path d="M184.83,411.87 L182.71,412.44 A10.96,10.96 0 0 0 183.80,415.08 L185.70,413.99 A8.77,8.77 0 0 1 184.83,411.87Z" fill="#c01a27" stroke="#c01a27" stroke-width="0.4"/>
<path d="M185.70,413.99 L183.80,415.08 A10.96,10.96 0 0 0 185.55,417.35 L187.10,415.80 A8.77,8.77 0 0 1 185.70,413.99Z" fill="#c01a27" stroke="#c01a27" stroke-width="0.4"/>
<path d="M187.10,415.80 L185.55,417.35 A10.96,10.96 0 0 0 187.82,419.10 L188.91,417.20 A8.77,8.77 0 0 1 187.10,415.80Z" fill="#c01a27" stroke="#c01a27" stroke-width="0.4"/>
<path d="M188.91,417.20 L187.82,419.10 A10.96,10.96 0 0 0 190.46,420.19 L191.03,418.07 A8.77,8.77 0 0 1 188.91,417.20Z" fill="#c01a27" stroke="#c01a27" stroke-width="0.4"/>
<path d="M191.03,418.07 L190.46,420.19 A10.96,10.96 0 0 0 193.30,420.56 L193.30,418.37 A8.77,8.77 0 0 1 191.03,418.07Z" fill="#c01a27" stroke="#c01a27" stroke-width="0.4"/>
<path d="M193.30,418.37 L193.30,420.56 A10.96,10.96 0 0 0 196.14,420.19 L195.57,418.07 A8.77,8.77 0 0 1 193.30,418.37Z" fill="#c01a27" stroke="#c01a27" stroke-width="0.4"/>
<path d="M195.57,418.07 L196.14,420.19 A10.96,10.96 0 0 0 198.78,419.10 L197.69,417.20 A8.77,8.77 0 0 1 195.57,418.07Z" fill="#c01a27" stroke="#c01a27" stroke-width="0.4"/>
<path d="M197.69,417.20 L198.78,419.10 A10.96,10.96 0 0 0 201.05,417.35 L199.50,415.80 A8.77,8.77 0 0 1 197.69,417.20Z" fill="#c01a27" stroke="#c01a27" stroke-width="0.4"/>
<path d="M199.50,415.80 L201.05,417.35 A10.96,10.96 0 0 0 202.80,415.08 L200.90,413.99 A8.77,8.77 0 0 1 199.50,415.80Z" fill="#c01a27" stroke="#c01a27" stroke-width="0.4"/>
<path d="M200.90,413.99 L202.80,415.08 A10.96,10.96 0 0 0 203.89,412.44 L201.77,411.87 A8.77,8.77 0 0 1 200.90,413.99Z" fill="#c01a27" stroke="#c01a27" stroke-width="0.4"/>
<path d="M201.77,411.87 L203.89,412.44 A10.96,10.96 0 0 0 204.26,409.60 L202.07,409.60 A8.77,8.77 0 0 1 201.77,411.87Z" fill="#c01a27" stroke="#c01a27" stroke-width="0.4"/>
<path d="M204.26,409.60 L206.46,409.60 A13.16,13.16 0 0 0 206.01,406.19 L203.89,406.76 A10.96,10.96 0 0 1 204.26,409.60Z" fill="#fdb164" stroke="#fdb164" stroke-width="0.4"/>
<path d="M203.89,406.76 L206.01,406.19 A13.16,13.16 0 0 0 204.69,403.02 L202.80,404.12 A10.96,10.96 0 0 1 203.89,406.76Z" fill="#fdb164" stroke="#fdb164" stroke-width="0.4"/>
<path d="M202.80,404.12 L204.69,403.02 A13.16,13.16 0 0 0 202.60,400.30 L201.05,401.85 A10.96,10.96 0 0 1 202.80,404.12Z" fill="#fdb164" stroke="#fdb164" stroke-width="0.4"/>
<path d="M201.05,401.85 L202.60,400.30 A13.16,13.16 0 0 0 199.88,398.21 L198.78,400.10 A10.96,10.96 0 0 1 201.05,401.85Z" fill="#fdb164" stroke="#fdb164" stroke-width="0.4"/>
<path d="M198.78,400.10 L199.88,398.21 A13.16,13.16 0 0 0 196.71,396.89 L196.14,399.01 A10.96,10.96 0 0 1 198.78,400.10Z" fill="#fdb164" stroke="#fdb164" stroke-width="0.4"/>
<path d="M196.14,399.01 L196.71,396.89 A13.16,13.16 0 0 0 193.30,396.44 L193.30,398.64 A10.96,10.96 0 0 1 196.14,399.01Z" fill="#fdb164" stroke="#fdb164" stroke-width="0.4"/>
<path d="M193.30,398.64 L193.30,396.44 A13.16,13.16 0 0 0 189.89,396.89 L190.46,399.01 A10.96,10.96 0 0 1 193.30,398.64Z" fill="#fdb164" stroke="#fdb164" stroke-width="0.4"/>
<path d="M190.46,399.01 L189.89,396.89 A13.16,13.16 0 0 0 186.72,398.21 L187.82,400.10 A10.96,10.96 0 0 1 190.46,399.01Z" fill="#fdb164" stroke="#fdb164" stroke-width="0.4"/>
<path d="M187.82,400.10 L186.72,398.21 A13.16,13.16 0 0 0 184.00,400.30 L185.55,401.85 A10.96,10.96 0 0 1 187.82,400.10Z" fill="#fdb164" stroke="#fdb164" stroke-width="0.4"/>
<path d="M185.55,401.85 L184.00,400.30 A13.16,13.16 0 0 0 181.91,403.02 L183.80,404.12 A10.96,10.96 0 0 1 185.55,401.85Z" fill="#fdb164" stroke="#fdb164" stroke-width="0.4"/>
<path d="M183.80,404.12 L181.91,403.02 A13.16,13.16 0 0 0 180.59,406.19 L182.71,406.76 A10.96,10.96 0 0 1 183.80,404.12Z" fill="#fdb164" stroke="#fdb164" stroke-width="0.4"/>
<path d="M182.71,406.76 L180.59,406.19 A13.16,13.16 0 0 0 180.14,409.60 L182.34,409.60 A10.96,10.96 0 0 1 182.71,406.76Z" fill="#fdb164" stroke="#fdb164" stroke-width="0.4"/>
<path d="M182.34,409.60 L180.14,409.60 A13.16,13.16 0 0 0 180.59,413.01 L182.71,412.44 A10.96,10.96 0 0 1 182.34,409.60Z" fill="#fdb164" stroke="#fdb164" stroke-width="0.4"/>
<path d="M182.71,412.44 L180.59,413.01 A13.16,13.16 0 0 0 181.91,416.18 L183.80,415.08 A10.96,10.96 0 0 1 182.71,412.44Z" fill="#fdb164" stroke="#fdb164" stroke-width="0.4"/>
<path d="M183.80,415.08 L181.91,416.18 A13.16,13.16 0 0 0 184.00,418.90 L185.55,417.35 A10.96,10.96 0 0 1 183.80,415.08Z" fill="#fdb164" stroke="#fdb164" stroke-width="0.4"/>
<path d="M185.55,417.35 L184.00,418.90 A13.16,13.16 0 0 0 186.72,420.99 L187.82,419.10 A10.96,10.96 0 0 1 185.55,417.35Z" fill="#fdb164" stroke="#fdb164" stroke-width="0.4"/>
<path d="M187.82,419.10 L186.72,420.99 A13.16,13.16 0 0 0 189.89,422.31 L190.46,420.19 A10.96,10.96 0 0 1 187.82,419.10Z" fill="#fdb164" stroke="#fdb164" stroke-width="0.4"/>
<path d="M190.46,420.19 L189.89,422.31 A13.16,13.16 0 0 0 193.30,422.76 L193.30,420.56 A10.96,10.96 0 0 1 190.46,420.19Z" fill="#fdb164" stroke="#fdb164" stroke-width="0.4"/>
<path d="M193.30,420.56 L193.30,422.76 A13.16,13.16 0 0 0 196.71,422.31 L196.14,420.19 A10.96,10.96 0 0 1 193.30,420.56Z" fill="#fdb164" stroke="#fdb164" stroke-width="0.4"/>
<path d="M196.14,420.19 L196.71,422.31 A13.16,13.16 0 0 0 199.88,420.99 L198.78,419.10 A10.96,10.96 0 0 1 196.14,420.19Z" fill="#fdb164" stroke="#fdb164" stroke-width="0.4"/>
<path d="M198.78,419.10 L199.88,420.99 A13.16,13.16 0 0 0 202.60,418.90 L201.05,417.35 A10.96,10.96 0 0 1 198.78,419.10Z" fill="#fdb164" stroke="#fdb164" stroke-width="0.4"/>
<path d="M201.05,417.35 L202.60,418.90 A13.16,13.16 0 0 0 204.69,416.18 L202.80,415.08 A10.96,10.96 0 0 1 201.05,417.35Z" fill="#fdb164" stroke="#fdb164" stroke-width="0.4"/>
<path d="M202.80,415.08 L204.69,416.18 A13.16,13.16 0 0 0 206.01,413.01 L203.89,412.44 A10.96,10.96 0 0 1 202.80,415.08Z" fill="#fdb164" stroke="#fdb164" stroke-width="0.4"/>
<path d="M203.89,412.44 L206.01,413.01 A13.16,13.16 0 0 0 206.46,409.60 L204.26,409.60 A10.96,10.96 0 0 1 203.89,412.44Z" fill="#fdb164" stroke="#fdb164" stroke-width="0.4"/>
<path d="M206.46,409.60 L208.65,409.60 A15.35,15.35 0 0 0 208.13,405.63 L206.01,406.19 A13.16,13.16 0 0 1 206.46,409.60Z" fill="#e2f4f4" stroke="#e2f4f4" stroke-width="0.4"/>
<path d="M206.01,406.19 L208.13,405.63 A15.35,15.35 0 0 0 206.59,401.93 L204.69,403.02 A13.16,13.16 0 0 1 206.01,406.19Z" fill="#e2f4f4" stroke="#e2f4f4" stroke-width="0.4"/>
<path d="M204.69,403.02 L206.59,401.93 A15.35,15.35 0 0 0 204.15,398.75 L202.60,400.30 A13.16,13.16 0 0 1 204.69,403.02Z" fill="#e2f4f4" stroke="#e2f4f4" stroke-width="0.4"/>
<path d="M202.60,400.30 L204.15,398.75 A15.35,15.35 0 0 0 200.98,396.31 L199.88,398.21 A13.16,13.16 0 0 1 202.60,400.30Z" fill="#e2f4f4" stroke="#e2f4f4" stroke-width="0.4"/>
<path d="M199.88,398.21 L200.98,396.31 A15.35,15.35 0 0 0 197.27,394.77 L196.71,396.89 A13.16,13.16 0 0 1 199.88,398.21Z" fill="#e2f4f4" stroke="#e2f4f4" stroke-width="0.4"/>
<path d="M196.71,396.89 L197.27,394.77 A15.35,15.35 0 0 0 193.30,394.25 L193.30,396.44 A13.16,13.16 0 0 1 196.71,396.89Z" fill="#e2f4f4" stroke="#e2f4f4" stroke-width="0.4"/>
<path d="M193.30,396.44 L193.30,394.25 A15.35,15.35 0 0 0 189.33,394.77 L189.89,396.89 A13.16,13.16 0 0 1 193.30,396.44Z" fill="#e2f4f4" stroke="#e2f4f4" stroke-width="0.4"/>
<path d="M189.89,396.89 L189.33,394.77 A15.35,15.35 0 0 0 185.63,396.31 L186.72,398.21 A13.16,13.16 0 0 1 189.89,396.89Z" fill="#e2f4f4" stroke="#e2f4f4" stroke-width="0.4"/>
<path d="M186.72,398.21 L185.63,396.31 A15.35,15.35 0 0 0 182.45,398.75 L184.00,400.30 A13.16,13.16 0 0 1 186.72,398.21Z" fill="#e2f4f4" stroke="#e2f4f4" stroke-width="0.4"/>
<path d="M184.00,400.30 L182.45,398.75 A15.35,15.35 0 0 0 180.01,401.93 L181.91,403.02 A13.16,13.16 0 0 1 184.00,400.30Z" fill="#e2f4f4" stroke="#e2f4f4" stroke-width="0.4"/>
<path d="M181.91,403.02 L180.01,401.93 A15.35,15.35 0 0 0 178.47,405.63 L180.59,406.19 A13.16,13.16 0 0 1 181.91,403.02Z" fill="#e2f4f4" stroke="#e2f4f4" stroke-width="0.4"/>
<path d="M180.59,406.19 L178.47,405.63 A15.35,15.35 0 0 0 177.95,409.60 L180.14,409.60 A13.16,13.16 0 0 1 180.59,406.19Z" fill="#e2f4f4" stroke="#e2f4f4" stroke-width="0.4"/>
<path d="M180.14,409.60 L177.95,409.60 A15.35,15.35 0 0 0 178.47,413.57 L180.59,413.01 A13.16,13.16 0 0 1 180.14,409.60Z" fill="#e2f4f4" stroke="#e2f4f4" stroke-width="0.4"/>
<path d="M180.59,413.01 L178.47,413.57 A15.35,15.35 0 0 0 180.01,417.28 L181.91,416.18 A13.16,13.16 0 0 1 180.59,413.01Z" fill="#e2f4f4" stroke="#e2f4f4" stroke-width="0.4"/>
<path d="M181.91,416.18 L180.01,417.28 A15.35,15.35 0 0 0 182.45,420.45 L184.00,418.90 A13.16,13.16 0 0 1 181.91,416.18Z" fill="#e2f4f4" stroke="#e2f4f4" stroke-width="0.4"/>
<path d="M184.00,418.90 L182.45,420.45 A15.35,15.35 0 0 0 185.62,422.89 L186.72,420.99 A13.16,13.16 0 0 1 184.00,418.90Z" fill="#e2f4f4" stroke="#e2f4f4" stroke-width="0.4"/>
<path d="M186.72,420.99 L185.62,422.89 A15.35,15.35 0 0 0 189.33,424.43 L189.89,422.31 A13.16,13.16 0 0 1 186.72,420.99Z" fill="#e2f4f4" stroke="#e2f4f4" stroke-width="0.4"/>
<path d="M189.89,422.31 L189.33,424.43 A15.35,15.35 0 0 0 193.30,424.95 L193.30,422.76 A13.16,13.16 0 0 1 189.89,422.31Z" fill="#e2f4f4" stroke="#e2f4f4" stroke-width="0.4"/>
<path d="M193.30,422.76 L193.30,424.95 A15.35,15.35 0 0 0 197.27,424.43 L196.71,422.31 A13.16,13.16 0 0 1 193.30,422.76Z" fill="#e2f4f4" stroke="#e2f4f4" stroke-width="0.4"/>
<path d="M196.71,422.31 L197.27,424.43 A15.35,15.35 0 0 0 200.98,422.89 L199.88,420.99 A13.16,13.16 0 0 1 196.71,422.31Z" fill="#e2f4f4" stroke="#e2f4f4" stroke-width="0.4"/>
<path d="M199.88,420.99 L200.98,422.89 A15.35,15.35 0 0 0 204.15,420.45 L202.60,418.90 A13.16,13.16 0 0 1 199.88,420.99Z" fill="#e2f4f4" stroke="#e2f4f4" stroke-width="0.4"/>
<path d="M202.60,418.90 L204.15,420.45 A15.35,15.35 0 0 0 206.59,417.28 L204.69,416.18 A13.16,13.16 0 0 1 202.60,418.90Z" fill="#e2f4f4" stroke="#e2f4f4" stroke-width="0.4"/>
<path d="M204.69,416.18 L206.59,417.28 A15.35,15.35 0 0 0 208.13,413.57 L206.01,413.01 A13.16,13.16 0 0 1 204.69,416.18Z" fill="#e2f4f4" stroke="#e2f4f4" stroke-width="0.4"/>
<path d="M206.01,413.01 L208.13,413.57 A15.35,15.35 0 0 0 208.65,409.60 L206.46,409.60 A13.16,13.16 0 0 1 206.01,413.01Z" fill="#e2f4f4" stroke="#e2f4f4" stroke-width="0.4"/>
<path d="M208.65,409.60 L210.84,409.60 A17.54,17.54 0 0 0 210.25,405.06 L208.13,405.63 A15.35,15.35 0 0 1 208.65,409.60Z" fill="#81b7d7" stroke="#81b7d7" stroke-width="0.4"/>
<path d="M208.13,405.63 L210.25,405.06 A17.54,17.54 0 0 0 208.49,400.83 L206.59,401.93 A15.35,15.35 0 0 1 208.13,405.63Z" fill="#81b7d7" stroke="#81b7d7" stroke-width="0.4"/>
<path d="M206.59,401.93 L208.49,400.83 A17.54,17.54 0 0 0 205.70,397.20 L204.15,398.75 A15.35,15.35 0 0 1 206.59,401.93Z" fill="#81b7d7" stroke="#81b7d7" stroke-width="0.4"/>
<path d="M204.15,398.75 L205.70,397.20 A17.54,17.54 0 0 0 202.07,394.41 L200.98,396.31 A15.35,15.35 0 0 1 204.15,398.75Z" fill="#81b7d7" stroke="#81b7d7" stroke-width="0.4"/>
<path d="M200.98,396.31 L202.07,394.41 A17.54,17.54 0 0 0 197.84,392.65 L197.27,394.77 A15.35,15.35 0 0 1 200.98,396.31Z" fill="#81b7d7" stroke="#81b7d7" stroke-width="0.4"/>
<path d="M197.27,394.77 L197.84,392.65 A17.54,17.54 0 0 0 193.30,392.06 L193.30,394.25 A15.35,15.35 0 0 1 197.27,394.77Z" fill="#81b7d7" stroke="#81b7d7" stroke-width="0.4"/>
<path d="M193.30,394.25 L193.30,392.06 A17.54,17.54 0 0 0 188.76,392.65 L189.33,394.77 A15.35,15.35 0 0 1 193.30,394.25Z" fill="#81b7d7" stroke="#81b7d7" stroke-width="0.4"/>
<path d="M189.33,394.77 L188.76,392.65 A17.54,17.54 0 0 0 184.53,394.41 L185.63,396.31 A15.35,15.35 0 0 1 189.33,394.77Z" fill="#81b7d7" stroke="#81b7d7" stroke-width="0.4"/>
<path d="M185.63,396.31 L184.53,394.41 A17.54,17.54 0 0 0 180.90,397.20 L182.45,398.75 A15.35,15.35 0 0 1 185.63,396.31Z" fill="#81b7d7" stroke="#81b7d7" stroke-width="0.4"/>
<path d="M182.45,398.75 L180.90,397.20 A17.54,17.54 0 0 0 178.11,400.83 L180.01,401.93 A15.35,15.35 0 0 1 182.45,398.75Z" fill="#81b7d7" stroke="#81b7d7" stroke-width="0.4"/>
<path d="M180.01,401.93 L178.11,400.83 A17.54,17.54 0 0 0 176.35,405.06 L178.47,405.63 A15.35,15.35 0 0 1 180.01,401.93Z" fill="#81b7d7" stroke="#81b7d7" stroke-width="0.4"/>
<path d="M178.47,405.63 L176.35,405.06 A17.54,17.54 0 0 0 175.76,409.60 L177.95,409.60 A15.35,15.35 0 0 1 178.47,405.63Z" fill="#81b7d7" stroke="#81b7d7" stroke-width="0.4"/>
<path d="M177.95,409.60 L175.76,409.60 A17.54,17.54 0 0 0 176.35,414.14 L178.47,413.57 A15.35,15.35 0 0 1 177.95,409.60Z" fill="#81b7d7" stroke="#81b7d7" stroke-width="0.4"/>
<path d="M178.47,413.57 L176.35,414.14 A17.54,17.54 0 0 0 178.11,418.37 L180.01,417.28 A15.35,15.35 0 0 1 178.47,413.57Z" fill="#81b7d7" stroke="#81b7d7" stroke-width="0.4"/>
<path d="M180.01,417.28 L178.11,418.37 A17.54,17.54 0 0 0 180.90,422.00 L182.45,420.45 A15.35,15.35 0 0 1 180.01,417.28Z" fill="#81b7d7" stroke="#81b7d7" stroke-width="0.4"/>
<path d="M182.45,420.45 L180.90,422.00 A17.54,17.54 0 0 0 184.53,424.79 L185.62,422.89 A15.35,15.35 0 0 1 182.45,420.45Z" fill="#81b7d7" stroke="#81b7d7" stroke-width="0.4"/>
<path d="M185.62,422.89 L184.53,424.79 A17.54,17.54 0 0 0 188.76,426.55 L189.33,424.43 A15.35,15.35 0 0 1 185.62,422.89Z" fill="#81b7d7" stroke="#81b7d7" stroke-width="0.4"/>
<path d="M189.33,424.43 L188.76,426.55 A17.54,17.54 0 0 0 193.30,427.14 L193.30,424.95 A15.35,15.35 0 0 1 189.33,424.43Z" fill="#81b7d7" stroke="#81b7d7" stroke-width="0.4"/>
<path d="M193.30,424.95 L193.30,427.14 A17.54,17.54 0 0 0 197.84,426.55 L197.27,424.43 A15.35,15.35 0 0 1 193.30,424.95Z" fill="#81b7d7" stroke="#81b7d7" stroke-width="0.4"/>
<path d="M197.27,424.43 L197.84,426.55 A17.54,17.54 0 0 0 202.07,424.79 L200.98,422.89 A15.35,15.35 0 0 1 197.27,424.43Z" fill="#81b7d7" stroke="#81b7d7" stroke-width="0.4"/>
<path d="M200.98,422.89 L202.07,424.79 A17.54,17.54 0 0 0 205.70,422.00 L204.15,420.45 A15.35,15.35 0 0 1 200.98,422.89Z" fill="#81b7d7" stroke="#81b7d7" stroke-width="0.4"/>
<path d="M204.15,420.45 L205.70,422.00 A17.54,17.54 0 0 0 208.49,418.37 L206.59,417.28 A15.35,15.35 0 0 1 204.15,420.45Z" fill="#81b7d7" stroke="#81b7d7" stroke-width="0.4"/>
<path d="M206.59,417.28 L208.49,418.37 A17.54,17.54 0 0 0 210.25,414.14 L208.13,413.57 A15.35,15.35 0 0 1 206.59,417.28Z" fill="#81b7d7" stroke="#81b7d7" stroke-width="0.4"/>
<path d="M208.13,413.57 L210.25,414.14 A17.54,17.54 0 0 0 210.84,409.60 L208.65,409.60 A15.35,15.35 0 0 1 208.13,413.57Z" fill="#81b7d7" stroke="#81b7d7" stroke-width="0.4"/>
<path d="M210.84,409.60 L213.04,409.60 A19.74,19.74 0 0 0 212.36,404.49 L210.25,405.06 A17.54,17.54 0 0 1 210.84,409.60Z" fill="#4d7fb9" stroke="#4d7fb9" stroke-width="0.4"/>
<path d="M210.25,405.06 L212.36,404.49 A19.74,19.74 0 0 0 210.39,399.73 L208.49,400.83 A17.54,17.54 0 0 1 210.25,405.06Z" fill="#4d7fb9" stroke="#4d7fb9" stroke-width="0.4"/>
<path d="M208.49,400.83 L210.39,399.73 A19.74,19.74 0 0 0 207.26,395.64 L205.70,397.20 A17.54,17.54 0 0 1 208.49,400.83Z" fill="#4d7fb9" stroke="#4d7fb9" stroke-width="0.4"/>
<path d="M205.70,397.20 L207.26,395.64 A19.74,19.74 0 0 0 203.17,392.51 L202.07,394.41 A17.54,17.54 0 0 1 205.70,397.20Z" fill="#4d7fb9" stroke="#4d7fb9" stroke-width="0.4"/>
<path d="M202.07,394.41 L203.17,392.51 A19.74,19.74 0 0 0 198.41,390.54 L197.84,392.65 A17.54,17.54 0 0 1 202.07,394.41Z" fill="#4d7fb9" stroke="#4d7fb9" stroke-width="0.4"/>
<path d="M197.84,392.65 L198.41,390.54 A19.74,19.74 0 0 0 193.30,389.86 L193.30,392.06 A17.54,17.54 0 0 1 197.84,392.65Z" fill="#4d7fb9" stroke="#4d7fb9" stroke-width="0.4"/>
<path d="M193.30,392.06 L193.30,389.86 A19.74,19.74 0 0 0 188.19,390.54 L188.76,392.65 A17.54,17.54 0 0 1 193.30,392.06Z" fill="#4d7fb9" stroke="#4d7fb9" stroke-width="0.4"/>
<path d="M188.76,392.65 L188.19,390.54 A19.74,19.74 0 0 0 183.43,392.51 L184.53,394.41 A17.54,17.54 0 0 1 188.76,392.65Z" fill="#4d7fb9" stroke="#4d7fb9" stroke-width="0.4"/>
<path d="M184.53,394.41 L183.43,392.51 A19.74,19.74 0 0 0 179.34,395.64 L180.90,397.20 A17.54,17.54 0 0 1 184.53,394.41Z" fill="#4d7fb9" stroke="#4d7fb9" stroke-width="0.4"/>
<path d="M180.90,397.20 L179.34,395.64 A19.74,19.74 0 0 0 176.21,399.73 L178.11,400.83 A17.54,17.54 0 0 1 180.90,397.20Z" fill="#4d7fb9" stroke="#4d7fb9" stroke-width="0.4"/>
<path d="M178.11,400.83 L176.21,399.73 A19.74,19.74 0 0 0 174.24,404.49 L176.35,405.06 A17.54,17.54 0 0 1 178.11,400.83Z" fill="#4d7fb9" stroke="#4d7fb9" stroke-width="0.4"/>
<path d="M176.35,405.06 L174.24,404.49 A19.74,19.74 0 0 0 173.56,409.60 L175.76,409.60 A17.54,17.54 0 0 1 176.35,405.06Z" fill="#4d7fb9" stroke="#4d7fb9" stroke-width="0.4"/>
<path d="M175.76,409.60 L173.56,409.60 A19.74,19.74 0 0 0 174.24,414.71 L176.35,414.14 A17.54,17.54 0 0 1 175.76,409.60Z" fill="#4d7fb9" stroke="#4d7fb9" stroke-width="0.4"/>
<path d="M176.35,414.14 L174.24,414.71 A19.74,19.74 0 0 0 176.21,419.47 L178.11,418.37 A17.54,17.54 0 0 1 176.35,414.14Z" fill="#4d7fb9" stroke="#4d7fb9" stroke-width="0.4"/>
<path d="M178.11,418.37 L176.21,419.47 A19.74,19.74 0 0 0 179.34,423.56 L180.90,422.00 A17.54,17.54 0 0 1 178.11,418.37Z" fill="#4d7fb9" stroke="#4d7fb9" stroke-width="0.4"/>
<path d="M180.90,422.00 L179.34,423.56 A19.74,19.74 0 0 0 183.43,426.69 L184.53,424.79 A17.54,17.54 0 0 1 180.90,422.00Z" fill="#4d7fb9" stroke="#4d7fb9" stroke-width="0.4"/>
<path d="M184.53,424.79 L183.43,426.69 A19.74,19.74 0 0 0 188.19,428.66 L188.76,426.55 A17.54,17.54 0 0 1 184.53,424.79Z" fill="#4d7fb9" stroke="#4d7fb9" stroke-width="0.4"/>
<path d="M188.76,426.55 L188.19,428.66 A19.74,19.74 0 0 0 193.30,429.34 L193.30,427.14 A17.54,17.54 0 0 1 188.76,426.55Z" fill="#4d7fb9" stroke="#4d7fb9" stroke-width="0.4"/>
<path d="M193.30,427.14 L193.30,429.34 A19.74,19.74 0 0 0 198.41,428.66 L197.84,426.55 A17.54,17.54 0 0 1 193.30,427.14Z" fill="#4d7fb9" stroke="#4d7fb9" stroke-width="0.4"/>
<path d="M197.84,426.55 L198.41,428.66 A19.74,19.74 0 0 0 203.17,426.69 L202.07,424.79 A17.54,17.54 0 0 1 197.84,426.55Z" fill="#4d7fb9" stroke="#4d7fb9" stroke-width="0.4"/>
<path d="M202.07,424.79 L203.17,426.69 A19.74,19.74 0 0 0 207.26,423.56 L205.70,422.00 A17.54,17.54 0 0 1 202.07,424.79Z" fill="#4d7fb9" stroke="#4d7fb9" stroke-width="0.4"/>
<path d="M205.70,422.00 L207.26,423.56 A19.74,19.74 0 0 0 210.39,419.47 L208.49,418.37 A17.54,17.54 0 0 1 205.70,422.00Z" fill="#4d7fb9" stroke="#4d7fb9" stroke-width="0.4"/>
<path d="M208.49,418.37 L210.39,419.47 A19.74,19.74 0 0 0 212.36,414.71 L210.25,414.14 A17.54,17.54 0 0 1 208.49,418.37Z" fill="#4d7fb9" stroke="#4d7fb9" stroke-width="0.4"/>
<path d="M210.25,414.14 L212.36,414.71 A19.74,19.74 0 0 0 213.04,409.60 L210.84,409.60 A17.54,17.54 0 0 1 210.25,414.14Z" fill="#4d7fb9" stroke="#4d7fb9" stroke-width="0.4"/>
<path d="M213.04,409.60 L215.23,409.60 A21.93,21.93 0 0 0 214.48,403.92 L212.36,404.49 A19.74,19.74 0 0 1 213.04,409.60Z" fill="#4167ad" stroke="#4167ad" stroke-width="0.4"/>
<path d="M212.36,404.49 L214.48,403.92 A21.93,21.93 0 0 0 212.29,398.64 L210.39,399.73 A19.74,19.74 0 0 1 212.36,404.49Z" fill="#4167ad" stroke="#4167ad" stroke-width="0.4"/>
<path d="M210.39,399.73 L212.29,398.64 A21.93,21.93 0 0 0 208.81,394.09 L207.26,395.64 A19.74,19.74 0 0 1 210.39,399.73Z" fill="#4167ad" stroke="#4167ad" stroke-width="0.4"/>
<path d="M207.26,395.64 L208.81,394.09 A21.93,21.93 0 0 0 204.26,390.61 L203.17,392.51 A19.74,19.74 0 0 1 207.26,395.64Z" fill="#4167ad" stroke="#4167ad" stroke-width="0.4"/>
<path d="M203.17,392.51 L204.26,390.61 A21.93,21.93 0 0 0 198.98,388.42 L198.41,390.54 A19.74,19.74 0 0 1 203.17,392.51Z" fill="#4167ad" stroke="#4167ad" stroke-width="0.4"/>
<path d="M198.41,390.54 L198.98,388.42 A21.93,21.93 0 0 0 193.30,387.67 L193.30,389.86 A19.74,19.74 0 0 1 198.41,390.54Z" fill="#4167ad" stroke="#4167ad" stroke-width="0.4"/>
<path d="M193.30,389.86 L193.30,387.67 A21.93,21.93 0 0 0 187.62,388.42 L188.19,390.54 A19.74,19.74 0 0 1 193.30,389.86Z" fill="#4167ad" stroke="#4167ad" stroke-width="0.4"/>
<path d="M188.19,390.54 L187.62,388.42 A21.93,21.93 0 0 0 182.34,390.61 L183.43,392.51 A19.74,19.74 0 0 1 188.19,390.54Z" fill="#4167ad" stroke="#4167ad" stroke-width="0.4"/>
<path d="M183.43,392.51 L182.34,390.61 A21.93,21.93 0 0 0 177.79,394.09 L179.34,395.64 A19.74,19.74 0 0 1 183.43,392.51Z" fill="#4167ad" stroke="#4167ad" stroke-width="0.4"/>
<path d="M179.34,395.64 L177.79,394.09 A21.93,21.93 0 0 0 174.31,398.64 L176.21,399.73 A19.74,19.74 0 0 1 179.34,395.64Z" fill="#4167ad" stroke="#4167ad" stroke-width="0.4"/>
<path d="M176.21,399.73 L174.31,398.64 A21.93,21.93 0 0 0 172.12,403.92 L174.24,404.49 A19.74,19.74 0 0 1 176.21,399.73Z" fill="#4167ad" stroke="#4167ad" stroke-width="0.4"/>
<path d="M174.24,404.49 L172.12,403.92 A21.93,21.93 0 0 0 171.37,409.60 L173.56,409.60 A19.74,19.74 0 0 1 174.24,404.49Z" fill="#4167ad" stroke="#4167ad" stroke-width="0.4"/>
<path d="M173.56,409.60 L171.37,409.60 A21.93,21.93 0 0 0 172.12,415.28 L174.24,414.71 A19.74,19.74 0 0 1 173.56,409.60Z" fill="#4167ad" stroke="#4167ad" stroke-width="0.4"/>
<path d="M174.24,414.71 L172.12,415.28 A21.93,21.93 0 0 0 174.31,420.56 L176.21,419.47 A19.74,19.74 0 0 1 174.24,414.71Z" fill="#4167ad" stroke="#4167ad" stroke-width="0.4"/>
<path d="M176.21,419.47 L174.31,420.56 A21.93,21.93 0 0 0 177.79,425.11 L179.34,423.56 A19.74,19.74 0 0 1 176.21,419.47Z" fill="#4167ad" stroke="#4167ad" stroke-width="0.4"/>
<path d="M179.34,423.56 L177.79,425.11 A21.93,21.93 0 0 0 182.34,428.59 L183.43,426.69 A19.74,19.74 0 0 1 179.34,423.56Z" fill="#4167ad" stroke="#4167ad" stroke-width="0.4"/>
<path d="M183.43,426.69 L182.34,428.59 A21.93,21.93 0 0 0 187.62,430.78 L188.19,428.66 A19.74,19.74 0 0 1 183.43,426.69Z" fill="#4167ad" stroke="#4167ad" stroke-width="0.4"/>
<path d="M188.19,428.66 L187.62,430.78 A21.93,21.93 0 0 0 193.30,431.53 L193.30,429.34 A19.74,19.74 0 0 1 188.19,428.66Z" fill="#4167ad" stroke="#4167ad" stroke-width="0.4"/>
<path d="M193.30,429.34 L193.30,431.53 A21.93,21.93 0 0 0 198.98,430.78 L198.41,428.66 A19.74,19.74 0 0 1 193.30,429.34Z" fill="#4167ad" stroke="#4167ad" stroke-width="0.4"/>
<path d="M198.41,428.66 L198.98,430.78 A21.93,21.93 0 0 0 204.26,428.59 L203.17,426.69 A19.74,19.74 0 0 1 198.41,428.66Z" fill="#4167ad" stroke="#4167ad" stroke-width="0.4"/>
<path d="M203.17,426.69 L204.26,428.59 A21.93,21.93 0 0 0 208.81,425.11 L207.26,423.56 A19.74,19.74 0 0 1 203.17,426.69Z" fill="#4167ad" stroke="#4167ad" stroke-width="0.4"/>
<path d="M207.26,423.56 L208.81,425.11 A21.93,21.93 0 0 0 212.29,420.56 L210.39,419.47 A19.74,19.74 0 0 1 207.26,423.56Z" fill="#4167ad" stroke="#4167ad" stroke-width="0.4"/>
<path d="M210.39,419.47 L212.29,420.56 A21.93,21.93 0 0 0 214.48,415.28 L212.36,414.71 A19.74,19.74 0 0 1 210.39,419.47Z" fill="#4167ad" stroke="#4167ad" stroke-width="0.4"/>
<path d="M212.36,414.71 L214.48,415.28 A21.93,21.93 0 0 0 215.23,409.60 L213.04,409.60 A19.74,19.74 0 0 1 212.36,414.71Z" fill="#4167ad" stroke="#4167ad" stroke-width="0.4"/>
<path d="M215.23,409.60 L217.42,409.60 A24.12,24.12 0 0 0 216.60,403.36 L214.48,403.92 A21.93,21.93 0 0 1 215.23,409.60Z" fill="#3e5ea8" stroke="#3e5ea8" stroke-width="0.4"/>
<path d="M214.48,403.92 L216.60,403.36 A24.12,24.12 0 0 0 214.19,397.54 L212.29,398.64 A21.93,21.93 0 0 1 214.48,403.92Z" fill="#3e5ea8" stroke="#3e5ea8" stroke-width="0.4"/>
<path d="M212.29,398.64 L214.19,397.54 A24.12,24.12 0 0 0 210.36,392.54 L208.81,394.09 A21.93,21.93 0 0 1 212.29,398.64Z" fill="#3e5ea8" stroke="#3e5ea8" stroke-width="0.4"/>
<path d="M208.81,394.09 L210.36,392.54 A24.12,24.12 0 0 0 205.36,388.71 L204.26,390.61 A21.93,21.93 0 0 1 208.81,394.09Z" fill="#3e5ea8" stroke="#3e5ea8" stroke-width="0.4"/>
<path d="M204.26,390.61 L205.36,388.71 A24.12,24.12 0 0 0 199.54,386.30 L198.98,388.42 A21.93,21.93 0 0 1 204.26,390.61Z" fill="#3e5ea8" stroke="#3e5ea8" stroke-width="0.4"/>
<path d="M198.98,388.42 L199.54,386.30 A24.12,24.12 0 0 0 193.30,385.48 L193.30,387.67 A21.93,21.93 0 0 1 198.98,388.42Z" fill="#3e5ea8" stroke="#3e5ea8" stroke-width="0.4"/>
<path d="M193.30,387.67 L193.30,385.48 A24.12,24.12 0 0 0 187.06,386.30 L187.62,388.42 A21.93,21.93 0 0 1 193.30,387.67Z" fill="#3e5ea8" stroke="#3e5ea8" stroke-width="0.4"/>
<path d="M187.62,388.42 L187.06,386.30 A24.12,24.12 0 0 0 181.24,388.71 L182.34,390.61 A21.93,21.93 0 0 1 187.62,388.42Z" fill="#3e5ea8" stroke="#3e5ea8" stroke-width="0.4"/>
<path d="M182.34,390.61 L181.24,388.71 A24.12,24.12 0 0 0 176.24,392.54 L177.79,394.09 A21.93,21.93 0 0 1 182.34,390.61Z" fill="#3e5ea8" stroke="#3e5ea8" stroke-width="0.4"/>
<path d="M177.79,394.09 L176.24,392.54 A24.12,24.12 0 0 0 172.41,397.54 L174.31,398.64 A21.93,21.93 0 0 1 177.79,394.09Z" fill="#3e5ea8" stroke="#3e5ea8" stroke-width="0.4"/>
<path d="M174.31,398.64 L172.41,397.54 A24.12,24.12 0 0 0 170.00,403.36 L172.12,403.92 A21.93,21.93 0 0 1 174.31,398.64Z" fill="#3e5ea8" stroke="#3e5ea8" stroke-width="0.4"/>
<path d="M172.12,403.92 L170.00,403.36 A24.12,24.12 0 0 0 169.18,409.60 L171.37,409.60 A21.93,21.93 0 0 1 172.12,403.92Z" fill="#3e5ea8" stroke="#3e5ea8" stroke-width="0.4"/>
<path d="M171.37,409.60 L169.18,409.60 A24.12,24.12 0 0 0 170.00,415.84 L172.12,415.28 A21.93,21.93 0 0 1 171.37,409.60Z" fill="#3e5ea8" stroke="#3e5ea8" stroke-width="0.4"/>
<path d="M172.12,415.28 L170.00,415.84 A24.12,24.12 0 0 0 172.41,421.66 L174.31,420.56 A21.93,21.93 0 0 1 172.12,415.28Z" fill="#3e5ea8" stroke="#3e5ea8" stroke-width="0.4"/>
<path d="M174.31,420.56 L172.41,421.66 A24.12,24.12 0 0 0 176.24,426.66 L177.79,425.11 A21.93,21.93 0 0 1 174.31,420.56Z" fill="#3e5ea8" stroke="#3e5ea8" stroke-width="0.4"/>
<path d="M177.79,425.11 L176.24,426.66 A24.12,24.12 0 0 0 181.24,430.49 L182.34,428.59 A21.93,21.93 0 0 1 177.79,425.11Z" fill="#3e5ea8" stroke="#3e5ea8" stroke-width="0.4"/>
<path d="M182.34,428.59 L181.24,430.49 A24.12,24.12 0 0 0 187.06,432.90 L187.62,430.78 A21.93,21.93 0 0 1 182.34,428.59Z" fill="#3e5ea8" stroke="#3e5ea8" stroke-width="0.4"/>
<path d="M187.62,430.78 L187.06,432.90 A24.12,24.12 0 0 0 193.30,433.72 L193.30,431.53 A21.93,21.93 0 0 1 187.62,430.78Z" fill="#3e5ea8" stroke="#3e5ea8" stroke-width="0.4"/>
<path d="M193.30,431.53 L193.30,433.72 A24.12,24.12 0 0 0 199.54,432.90 L198.98,430.78 A21.93,21.93 0 0 1 193.30,431.53Z" fill="#3e5ea8" stroke="#3e5ea8" stroke-width="0.4"/>
<path d="M198.98,430.78 L199.54,432.90 A24.12,24.12 0 0 0 205.36,430.49 L204.26,428.59 A21.93,21.93 0 0 1 198.98,430.78Z" fill="#3e5ea8" stroke="#3e5ea8" stroke-width="0.4"/>
<path d="M204.26,428.59 L205.36,430.49 A24.12,24.12 0 0 0 210.36,426.66 L208.81,425.11 A21.93,21.93 0 0 1 204.26,428.59Z" fill="#3e5ea8" stroke="#3e5ea8" stroke-width="0.4"/>
<path d="M208.81,425.11 L210.36,426.66 A24.12,24.12 0 0 0 214.19,421.66 L212.29,420.56 A21.93,21.93 0 0 1 208.81,425.11Z" fill="#3e5ea8" stroke="#3e5ea8" stroke-width="0.4"/>
<path d="M212.29,420.56 L214.19,421.66 A24.12,24.12 0 0 0 216.60,415.84 L214.48,415.28 A21.93,21.93 0 0 1 212.29,420.56Z" fill="#3e5ea8" stroke="#3e5ea8" stroke-width="0.4"/>
<path d="M214.48,415.28 L216.60,415.84 A24.12,24.12 0 0 0 217.42,409.60 L215.23,409.60 A21.93,21.93 0 0 1 214.48,415.28Z" fill="#3e5ea8" stroke="#3e5ea8" stroke-width="0.4"/>
<path d="M217.42,409.60 L219.61,409.60 A26.31,26.31 0 0 0 218.72,402.79 L216.60,403.36 A24.12,24.12 0 0 1 217.42,409.60Z" fill="#3c59a6" stroke="#3c59a6" stroke-width="0.4"/>
<path d="M216.60,403.36 L218.72,402.79 A26.31,26.31 0 0 0 216.09,396.44 L214.19,397.54 A24.12,24.12 0 0 1 216.60,403.36Z" fill="#3c59a6" stroke="#3c59a6" stroke-width="0.4"/>
<path d="M214.19,397.54 L216.09,396.44 A26.31,26.31 0 0 0 211.91,390.99 L210.36,392.54 A24.12,24.12 0 0 1 214.19,397.54Z" fill="#3c59a6" stroke="#3c59a6" stroke-width="0.4"/>
<path d="M210.36,392.54 L211.91,390.99 A26.31,26.31 0 0 0 206.46,386.81 L205.36,388.71 A24.12,24.12 0 0 1 210.36,392.54Z" fill="#3c59a6" stroke="#3c59a6" stroke-width="0.4"/>
<path d="M205.36,388.71 L206.46,386.81 A26.31,26.31 0 0 0 200.11,384.18 L199.54,386.30 A24.12,24.12 0 0 1 205.36,388.71Z" fill="#3c59a6" stroke="#3c59a6" stroke-width="0.4"/>
<path d="M199.54,386.30 L200.11,384.18 A26.31,26.31 0 0 0 193.30,383.29 L193.30,385.48 A24.12,24.12 0 0 1 199.54,386.30Z" fill="#3c59a6" stroke="#3c59a6" stroke-width="0.4"/>
<path d="M193.30,385.48 L193.30,383.29 A26.31,26.31 0 0 0 186.49,384.18 L187.06,386.30 A24.12,24.12 0 0 1 193.30,385.48Z" fill="#3c59a6" stroke="#3c59a6" stroke-width="0.4"/>
<path d="M187.06,386.30 L186.49,384.18 A26.31,26.31 0 0 0 180.14,386.81 L181.24,388.71 A24.12,24.12 0 0 1 187.06,386.30Z" fill="#3c59a6" stroke="#3c59a6" stroke-width="0.4"/>
<path d="M181.24,388.71 L180.14,386.81 A26.31,26.31 0 0 0 174.69,390.99 L176.24,392.54 A24.12,24.12 0 0 1 181.24,388.71Z" fill="#3c59a6" stroke="#3c59a6" stroke-width="0.4"/>
<path d="M176.24,392.54 L174.69,390.99 A26.31,26.31 0 0 0 170.51,396.44 L172.41,397.54 A24.12,24.12 0 0 1 176.24,392.54Z" fill="#3c59a6" stroke="#3c59a6" stroke-width="0.4"/>
<path d="M172.41,397.54 L170.51,396.44 A26.31,26.31 0 0 0 167.88,402.79 L170.00,403.36 A24.12,24.12 0 0 1 172.41,397.54Z" fill="#3c59a6" stroke="#3c59a6" stroke-width="0.4"/>
<path d="M170.00,403.36 L167.88,402.79 A26.31,26.31 0 0 0 166.99,409.60 L169.18,409.60 A24.12,24.12 0 0 1 170.00,403.36Z" fill="#3c59a6" stroke="#3c59a6" stroke-width="0.4"/>
<path d="M169.18,409.60 L166.99,409.60 A26.31,26.31 0 0 0 167.88,416.41 L170.00,415.84 A24.12,24.12 0 0 1 169.18,409.60Z" fill="#3c59a6" stroke="#3c59a6" stroke-width="0.4"/>
<path d="M170.00,415.84 L167.88,416.41 A26.31,26.31 0 0 0 170.51,422.76 L172.41,421.66 A24.12,24.12 0 0 1 170.00,415.84Z" fill="#3c59a6" stroke="#3c59a6" stroke-width="0.4"/>
<path d="M172.41,421.66 L170.51,422.76 A26.31,26.31 0 0 0 174.69,428.21 L176.24,426.66 A24.12,24.12 0 0 1 172.41,421.66Z" fill="#3c59a6" stroke="#3c59a6" stroke-width="0.4"/>
<path d="M176.24,426.66 L174.69,428.21 A26.31,26.31 0 0 0 180.14,432.39 L181.24,430.49 A24.12,24.12 0 0 1 176.24,426.66Z" fill="#3c59a6" stroke="#3c59a6" stroke-width="0.4"/>
<path d="M181.24,430.49 L180.14,432.39 A26.31,26.31 0 0 0 186.49,435.02 L187.06,432.90 A24.12,24.12 0 0 1 181.24,430.49Z" fill="#3c59a6" stroke="#3c59a6" stroke-width="0.4"/>
<path d="M187.06,432.90 L186.49,435.02 A26.31,26.31 0 0 0 193.30,435.91 L193.30,433.72 A24.12,24.12 0 0 1 187.06,432.90Z" fill="#3c59a6" stroke="#3c59a6" stroke-width="0.4"/>
<path d="M193.30,433.72 L193.30,435.91 A26.31,26.31 0 0 0 200.11,435.02 L199.54,432.90 A24.12,24.12 0 0 1 193.30,433.72Z" fill="#3c59a6" stroke="#3c59a6" stroke-width="0.4"/>
<path d="M199.54,432.90 L200.11,435.02 A26.31,26.31 0 0 0 206.46,432.39 L205.36,430.49 A24.12,24.12 0 0 1 199.54,432.90Z" fill="#3c59a6" stroke="#3c59a6" stroke-width="0.4"/>
<path d="M205.36,430.49 L206.46,432.39 A26.31,26.31 0 0 0 211.91,428.21 L210.36,426.66 A24.12,24.12 0 0 1 205.36,430.49Z" fill="#3c59a6" stroke="#3c59a6" stroke-width="0.4"/>
<path d="M210.36,426.66 L211.91,428.21 A26.31,26.31 0 0 0 216.09,422.76 L214.19,421.66 A24.12,24.12 0 0 1 210.36,426.66Z" fill="#3c59a6" stroke="#3c59a6" stroke-width="0.4"/>
<path d="M214.19,421.66 L216.09,422.76 A26.31,26.31 0 0 0 218.72,416.41 L216.60,415.84 A24.12,24.12 0 0 1 214.19,421.66Z" fill="#3c59a6" stroke="#3c59a6" stroke-width="0.4"/>
<path d="M216.60,415.84 L218.72,416.41 A26.31,26.31 0 0 0 219.61,409.60 L217.42,409.60 A24.12,24.12 0 0 1 216.60,415.84Z" fill="#3c59a6" stroke="#3c59a6" stroke-width="0.4"/>
<path d="M219.61,409.60 L221.81,409.60 A28.51,28.51 0 0 0 220.84,402.22 L218.72,402.79 A26.31,26.31 0 0 1 219.61,409.60Z" fill="#3a54a4" stroke="#3a54a4" stroke-width="0.4"/>
<path d="M218.72,402.79 L220.84,402.22 A28.51,28.51 0 0 0 217.99,395.35 L216.09,396.44 A26.31,26.31 0 0 1 218.72,402.79Z" fill="#3a54a4" stroke="#3a54a4" stroke-width="0.4"/>
<path d="M216.09,396.44 L217.99,395.35 A28.51,28.51 0 0 0 213.46,389.44 L211.91,390.99 A26.31,26.31 0 0 1 216.09,396.44Z" fill="#3a54a4" stroke="#3a54a4" stroke-width="0.4"/>
<path d="M211.91,390.99 L213.46,389.44 A28.51,28.51 0 0 0 207.55,384.91 L206.46,386.81 A26.31,26.31 0 0 1 211.91,390.99Z" fill="#3a54a4" stroke="#3a54a4" stroke-width="0.4"/>
<path d="M206.46,386.81 L207.55,384.91 A28.51,28.51 0 0 0 200.68,382.06 L200.11,384.18 A26.31,26.31 0 0 1 206.46,386.81Z" fill="#3a54a4" stroke="#3a54a4" stroke-width="0.4"/>
<path d="M200.11,384.18 L200.68,382.06 A28.51,28.51 0 0 0 193.30,381.09 L193.30,383.29 A26.31,26.31 0 0 1 200.11,384.18Z" fill="#3a54a4" stroke="#3a54a4" stroke-width="0.4"/>
<path d="M193.30,383.29 L193.30,381.09 A28.51,28.51 0 0 0 185.92,382.06 L186.49,384.18 A26.31,26.31 0 0 1 193.30,383.29Z" fill="#3a54a4" stroke="#3a54a4" stroke-width="0.4"/>
<path d="M186.49,384.18 L185.92,382.06 A28.51,28.51 0 0 0 179.05,384.91 L180.14,386.81 A26.31,26.31 0 0 1 186.49,384.18Z" fill="#3a54a4" stroke="#3a54a4" stroke-width="0.4"/>
<path d="M180.14,386.81 L179.05,384.91 A28.51,28.51 0 0 0 173.14,389.44 L174.69,390.99 A26.31,26.31 0 0 1 180.14,386.81Z" fill="#3a54a4" stroke="#3a54a4" stroke-width="0.4"/>
<path d="M174.69,390.99 L173.14,389.44 A28.51,28.51 0 0 0 168.61,395.35 L170.51,396.44 A26.31,26.31 0 0 1 174.69,390.99Z" fill="#3a54a4" stroke="#3a54a4" stroke-width="0.4"/>
<path d="M170.51,396.44 L168.61,395.35 A28.51,28.51 0 0 0 165.76,402.22 L167.88,402.79 A26.31,26.31 0 0 1 170.51,396.44Z" fill="#3a54a4" stroke="#3a54a4" stroke-width="0.4"/>
<path d="M167.88,402.79 L165.76,402.22 A28.51,28.51 0 0 0 164.79,409.60 L166.99,409.60 A26.31,26.31 0 0 1 167.88,402.79Z" fill="#3a54a4" stroke="#3a54a4" stroke-width="0.4"/>
<path d="M166.99,409.60 L164.79,409.60 A28.51,28.51 0 0 0 165.76,416.98 L167.88,416.41 A26.31,26.31 0 0 1 166.99,409.60Z" fill="#3a54a4" stroke="#3a54a4" stroke-width="0.4"/>
<path d="M167.88,416.41 L165.76,416.98 A28.51,28.51 0 0 0 168.61,423.85 L170.51,422.76 A26.31,26.31 0 0 1 167.88,416.41Z" fill="#3a54a4" stroke="#3a54a4" stroke-width="0.4"/>
<path d="M170.51,422.76 L168.61,423.85 A28.51,28.51 0 0 0 173.14,429.76 L174.69,428.21 A26.31,26.31 0 0 1 170.51,422.76Z" fill="#3a54a4" stroke="#3a54a4" stroke-width="0.4"/>
<path d="M174.69,428.21 L173.14,429.76 A28.51,28.51 0 0 0 179.05,434.29 L180.14,432.39 A26.31,26.31 0 0 1 174.69,428.21Z" fill="#3a54a4" stroke="#3a54a4" stroke-width="0.4"/>
<path d="M180.14,432.39 L179.05,434.29 A28.51,28.51 0 0 0 185.92,437.14 L186.49,435.02 A26.31,26.31 0 0 1 180.14,432.39Z" fill="#3a54a4" stroke="#3a54a4" stroke-width="0.4"/>
<path d="M186.49,435.02 L185.92,437.14 A28.51,28.51 0 0 0 193.30,438.11 L193.30,435.91 A26.31,26.31 0 0 1 186.49,435.02Z" fill="#3a54a4" stroke="#3a54a4" stroke-width="0.4"/>
<path d="M193.30,435.91 L193.30,438.11 A28.51,28.51 0 0 0 200.68,437.14 L200.11,435.02 A26.31,26.31 0 0 1 193.30,435.91Z" fill="#3a54a4" stroke="#3a54a4" stroke-width="0.4"/>
<path d="M200.11,435.02 L200.68,437.14 A28.51,28.51 0 0 0 207.55,434.29 L206.46,432.39 A26.31,26.31 0 0 1 200.11,435.02Z" fill="#3a54a4" stroke="#3a54a4" stroke-width="0.4"/>
<path d="M206.46,432.39 L207.55,434.29 A28.51,28.51 0 0 0 213.46,429.76 L211.91,428.21 A26.31,26.31 0 0 1 206.46,432.39Z" fill="#3a54a4" stroke="#3a54a4" stroke-width="0.4"/>
<path d="M211.91,428.21 L213.46,429.76 A28.51,28.51 0 0 0 217.99,423.85 L216.09,422.76 A26.31,26.31 0 0 1 211.91,428.21Z" fill="#3a54a4" stroke="#3a54a4" stroke-width="0.4"/>
<path d="M216.09,422.76 L217.99,423.85 A28.51,28.51 0 0 0 220.84,416.98 L218.72,416.41 A26.31,26.31 0 0 1 216.09,422.76Z" fill="#3a54a4" stroke="#3a54a4" stroke-width="0.4"/>
<path d="M218.72,416.41 L220.84,416.98 A28.51,28.51 0 0 0 221.81,409.60 L219.61,409.60 A26.31,26.31 0 0 1 218.72,416.41Z" fill="#3a54a4" stroke="#3a54a4" stroke-width="0.4"/>
<path d="M221.81,409.60 L224.00,409.60 A30.70,30.70 0 0 0 222.95,401.65 L220.84,402.22 A28.51,28.51 0 0 1 221.81,409.60Z" fill="#3a51a2" stroke="#3a51a2" stroke-width="0.4"/>
<path d="M220.84,402.22 L222.95,401.65 A30.70,30.70 0 0 0 219.89,394.25 L217.99,395.35 A28.51,28.51 0 0 1 220.84,402.22Z" fill="#3a51a2" stroke="#3a51a2" stroke-width="0.4"/>
<path d="M217.99,395.35 L219.89,394.25 A30.70,30.70 0 0 0 215.01,387.89 L213.46,389.44 A28.51,28.51 0 0 1 217.99,395.35Z" fill="#3a51a2" stroke="#3a51a2" stroke-width="0.4"/>
<path d="M213.46,389.44 L215.01,387.89 A30.70,30.70 0 0 0 208.65,383.01 L207.55,384.91 A28.51,28.51 0 0 1 213.46,389.44Z" fill="#3a51a2" stroke="#3a51a2" stroke-width="0.4"/>
<path d="M207.55,384.91 L208.65,383.01 A30.70,30.70 0 0 0 201.25,379.95 L200.68,382.06 A28.51,28.51 0 0 1 207.55,384.91Z" fill="#3a51a2" stroke="#3a51a2" stroke-width="0.4"/>
<path d="M200.68,382.06 L201.25,379.95 A30.70,30.70 0 0 0 193.30,378.90 L193.30,381.09 A28.51,28.51 0 0 1 200.68,382.06Z" fill="#3a51a2" stroke="#3a51a2" stroke-width="0.4"/>
<path d="M193.30,381.09 L193.30,378.90 A30.70,30.70 0 0 0 185.35,379.95 L185.92,382.06 A28.51,28.51 0 0 1 193.30,381.09Z" fill="#3a51a2" stroke="#3a51a2" stroke-width="0.4"/>
<path d="M185.92,382.06 L185.35,379.95 A30.70,30.70 0 0 0 177.95,383.01 L179.05,384.91 A28.51,28.51 0 0 1 185.92,382.06Z" fill="#3a51a2" stroke="#3a51a2" stroke-width="0.4"/>
<path d="M179.05,384.91 L177.95,383.01 A30.70,30.70 0 0 0 171.59,387.89 L173.14,389.44 A28.51,28.51 0 0 1 179.05,384.91Z" fill="#3a51a2" stroke="#3a51a2" stroke-width="0.4"/>
<path d="M173.14,389.44 L171.59,387.89 A30.70,30.70 0 0 0 166.71,394.25 L168.61,395.35 A28.51,28.51 0 0 1 173.14,389.44Z" fill="#3a51a2" stroke="#3a51a2" stroke-width="0.4"/>
<path d="M168.61,395.35 L166.71,394.25 A30.70,30.70 0 0 0 163.65,401.65 L165.76,402.22 A28.51,28.51 0 0 1 168.61,395.35Z" fill="#3a51a2" stroke="#3a51a2" stroke-width="0.4"/>
<path d="M165.76,402.22 L163.65,401.65 A30.70,30.70 0 0 0 162.60,409.60 L164.79,409.60 A28.51,28.51 0 0 1 165.76,402.22Z" fill="#3a51a2" stroke="#3a51a2" stroke-width="0.4"/>
<path d="M164.79,409.60 L162.60,409.60 A30.70,30.70 0 0 0 163.65,417.55 L165.76,416.98 A28.51,28.51 0 0 1 164.79,409.60Z" fill="#3a51a2" stroke="#3a51a2" stroke-width="0.4"/>
<path d="M165.76,416.98 L163.65,417.55 A30.70,30.70 0 0 0 166.71,424.95 L168.61,423.85 A28.51,28.51 0 0 1 165.76,416.98Z" fill="#3a51a2" stroke="#3a51a2" stroke-width="0.4"/>
<path d="M168.61,423.85 L166.71,424.95 A30.70,30.70 0 0 0 171.59,431.31 L173.14,429.76 A28.51,28.51 0 0 1 168.61,423.85Z" fill="#3a51a2" stroke="#3a51a2" stroke-width="0.4"/>
<path d="M173.14,429.76 L171.59,431.31 A30.70,30.70 0 0 0 177.95,436.19 L179.05,434.29 A28.51,28.51 0 0 1 173.14,429.76Z" fill="#3a51a2" stroke="#3a51a2" stroke-width="0.4"/>
<path d="M179.05,434.29 L177.95,436.19 A30.70,30.70 0 0 0 185.35,439.25 L185.92,437.14 A28.51,28.51 0 0 1 179.05,434.29Z" fill="#3a51a2" stroke="#3a51a2" stroke-width="0.4"/>
<path d="M185.92,437.14 L185.35,439.25 A30.70,30.70 0 0 0 193.30,440.30 L193.30,438.11 A28.51,28.51 0 0 1 185.92,437.14Z" fill="#3a51a2" stroke="#3a51a2" stroke-width="0.4"/>
<path d="M193.30,438.11 L193.30,440.30 A30.70,30.70 0 0 0 201.25,439.25 L200.68,437.14 A28.51,28.51 0 0 1 193.30,438.11Z" fill="#3a51a2" stroke="#3a51a2" stroke-width="0.4"/>
<path d="M200.68,437.14 L201.25,439.25 A30.70,30.70 0 0 0 208.65,436.19 L207.55,434.29 A28.51,28.51 0 0 1 200.68,437.14Z" fill="#3a51a2" stroke="#3a51a2" stroke-width="0.4"/>
<path d="M207.55,434.29 L208.65,436.19 A30.70,30.70 0 0 0 215.01,431.31 L213.46,429.76 A28.51,28.51 0 0 1 207.55,434.29Z" fill="#3a51a2" stroke="#3a51a2" stroke-width="0.4"/>
<path d="M213.46,429.76 L215.01,431.31 A30.70,30.70 0 0 0 219.89,424.95 L217.99,423.85 A28.51,28.51 0 0 1 213.46,429.76Z" fill="#3a51a2" stroke="#3a51a2" stroke-width="0.4"/>
<path d="M217.99,423.85 L219.89,424.95 A30.70,30.70 0 0 0 222.95,417.55 L220.84,416.98 A28.51,28.51 0 0 1 217.99,423.85Z" fill="#3a51a2" stroke="#3a51a2" stroke-width="0.4"/>
<path d="M220.84,416.98 L222.95,417.55 A30.70,30.70 0 0 0 224.00,409.60 L221.81,409.60 A28.51,28.51 0 0 1 220.84,416.98Z" fill="#3a51a2" stroke="#3a51a2" stroke-width="0.4"/>
<path d="M255.9,409.5 L258.09,409.50 A2.19,2.19 0 0 0 258.02,408.93Z" fill="#a70226" stroke="#a70226" stroke-width="0.4"/>
<path d="M255.9,409.5 L258.02,408.93 A2.19,2.19 0 0 0 257.80,408.40Z" fill="#a70226" stroke="#a70226" stroke-width="0.4"/>
<path d="M255.9,409.5 L257.80,408.40 A2.19,2.19 0 0 0 257.45,407.95Z" fill="#a70226" stroke="#a70226" stroke-width="0.4"/>
<path d="M255.9,409.5 L257.45,407.95 A2.19,2.19 0 0 0 257.00,407.60Z" fill="#a50026" stroke="#a50026" stroke-width="0.4"/>
<path d="M255.9,409.5 L257.00,407.60 A2.19,2.19 0 0 0 256.47,407.38Z" fill="#a50026" stroke="#a50026" stroke-width="0.4"/>
<path d="M255.9,409.5 L256.47,407.38 A2.19,2.19 0 0 0 255.90,407.31Z" fill="#a50026" stroke="#a50026" stroke-width="0.4"/>
<path d="M255.9,409.5 L255.90,407.31 A2.19,2.19 0 0 0 255.33,407.38Z" fill="#a50026" stroke="#a50026" stroke-width="0.4"/>
<path d="M255.9,409.5 L255.33,407.38 A2.19,2.19 0 0 0 254.80,407.60Z" fill="#a50026" stroke="#a50026" stroke-width="0.4"/>
<path d="M255.9,409.5 L254.80,407.60 A2.19,2.19 0 0 0 254.35,407.95Z" fill="#a50026" stroke="#a50026" stroke-width="0.4"/>
<path d="M255.9,409.5 L254.35,407.95 A2.19,2.19 0 0 0 254.00,408.40Z" fill="#a50026" stroke="#a50026" stroke-width="0.4"/>
<path d="M255.9,409.5 L254.00,408.40 A2.19,2.19 0 0 0 253.78,408.93Z" fill="#a70226" stroke="#a70226" stroke-width="0.4"/>
<path d="M255.9,409.5 L253.78,408.93 A2.19,2.19 0 0 0 253.71,409.50Z" fill="#a70226" stroke="#a70226" stroke-width="0.4"/>
<path d="M255.9,409.5 L253.71,409.50 A2.19,2.19 0 0 0 253.78,410.07Z" fill="#a70226" stroke="#a70226" stroke-width="0.4"/>
<path d="M255.9,409.5 L253.78,410.07 A2.19,2.19 0 0 0 254.00,410.60Z" fill="#a70226" stroke="#a70226" stroke-width="0.4"/>
<path d="M255.9,409.5 L254.00,410.60 A2.19,2.19 0 0 0 254.35,411.05Z" fill="#a70226" stroke="#a70226" stroke-width="0.4"/>
<path d="M255.9,409.5 L254.35,411.05 A2.19,2.19 0 0 0 254.80,411.40Z" fill="#a70226" stroke="#a70226" stroke-width="0.4"/>
<path d="M255.9,409.5 L254.80,411.40 A2.19,2.19 0 0 0 255.33,411.62Z" fill="#a90426" stroke="#a90426" stroke-width="0.4"/>
<path d="M255.9,409.5 L255.33,411.62 A2.19,2.19 0 0 0 255.90,411.69Z" fill="#a70226" stroke="#a70226" stroke-width="0.4"/>
<path d="M255.9,409.5 L255.90,411.69 A2.19,2.19 0 0 0 256.47,411.62Z" fill="#a70226" stroke="#a70226" stroke-width="0.4"/>
<path d="M255.9,409.5 L256.47,411.62 A2.19,2.19 0 0 0 257.00,411.40Z" fill="#a70226" stroke="#a70226" stroke-width="0.4"/>
<path d="M255.9,409.5 L257.00,411.40 A2.19,2.19 0 0 0 257.45,411.05Z" fill="#a70226" stroke="#a70226" stroke-width="0.4"/>
<path d="M255.9,409.5 L257.45,411.05 A2.19,2.19 0 0 0 257.80,410.60Z" fill="#a70226" stroke="#a70226" stroke-width="0.4"/>
<path d="M255.9,409.5 L257.80,410.60 A2.19,2.19 0 0 0 258.02,410.07Z" fill="#a70226" stroke="#a70226" stroke-width="0.4"/>
<path d="M255.9,409.5 L258.02,410.07 A2.19,2.19 0 0 0 258.09,409.50Z" fill="#a70226" stroke="#a70226" stroke-width="0.4"/>
<path d="M258.09,409.50 L260.29,409.50 A4.39,4.39 0 0 0 260.14,408.36 L258.02,408.93 A2.19,2.19 0 0 1 258.09,409.50Z" fill="#a90426" stroke="#a90426" stroke-width="0.4"/>
<path d="M258.02,408.93 L260.14,408.36 A4.39,4.39 0 0 0 259.70,407.31 L257.80,408.40 A2.19,2.19 0 0 1 258.02,408.93Z" fill="#a90426" stroke="#a90426" stroke-width="0.4"/>
<path d="M257.80,408.40 L259.70,407.31 A4.39,4.39 0 0 0 259.00,406.40 L257.45,407.95 A2.19,2.19 0 0 1 257.80,408.40Z" fill="#a70226" stroke="#a70226" stroke-width="0.4"/>
<path d="M257.45,407.95 L259.00,406.40 A4.39,4.39 0 0 0 258.09,405.70 L257.00,407.60 A2.19,2.19 0 0 1 257.45,407.95Z" fill="#a70226" stroke="#a70226" stroke-width="0.4"/>
<path d="M257.00,407.60 L258.09,405.70 A4.39,4.39 0 0 0 257.04,405.26 L256.47,407.38 A2.19,2.19 0 0 1 257.00,407.60Z" fill="#a70226" stroke="#a70226" stroke-width="0.4"/>
<path d="M256.47,407.38 L257.04,405.26 A4.39,4.39 0 0 0 255.90,405.11 L255.90,407.31 A2.19,2.19 0 0 1 256.47,407.38Z" fill="#a70226" stroke="#a70226" stroke-width="0.4"/>
<path d="M255.90,407.31 L255.90,405.11 A4.39,4.39 0 0 0 254.76,405.26 L255.33,407.38 A2.19,2.19 0 0 1 255.90,407.31Z" fill="#a70226" stroke="#a70226" stroke-width="0.4"/>
<path d="M255.33,407.38 L254.76,405.26 A4.39,4.39 0 0 0 253.71,405.70 L254.80,407.60 A2.19,2.19 0 0 1 255.33,407.38Z" fill="#a70226" stroke="#a70226" stroke-width="0.4"/>
<path d="M254.80,407.60 L253.71,405.70 A4.39,4.39 0 0 0 252.80,406.40 L254.35,407.95 A2.19,2.19 0 0 1 254.80,407.60Z" fill="#a70226" stroke="#a70226" stroke-width="0.4"/>
<path d="M254.35,407.95 L252.80,406.40 A4.39,4.39 0 0 0 252.10,407.31 L254.00,408.40 A2.19,2.19 0 0 1 254.35,407.95Z" fill="#a70226" stroke="#a70226" stroke-width="0.4"/>
<path d="M254.00,408.40 L252.10,407.31 A4.39,4.39 0 0 0 251.66,408.36 L253.78,408.93 A2.19,2.19 0 0 1 254.00,408.40Z" fill="#a70226" stroke="#a70226" stroke-width="0.4"/>
<path d="M253.78,408.93 L251.66,408.36 A4.39,4.39 0 0 0 251.51,409.50 L253.71,409.50 A2.19,2.19 0 0 1 253.78,408.93Z" fill="#a90426" stroke="#a90426" stroke-width="0.4"/>
<path d="M253.71,409.50 L251.51,409.50 A4.39,4.39 0 0 0 251.66,410.64 L253.78,410.07 A2.19,2.19 0 0 1 253.71,409.50Z" fill="#a90426" stroke="#a90426" stroke-width="0.4"/>
<path d="M253.78,410.07 L251.66,410.64 A4.39,4.39 0 0 0 252.10,411.69 L254.00,410.60 A2.19,2.19 0 0 1 253.78,410.07Z" fill="#a90426" stroke="#a90426" stroke-width="0.4"/>
<path d="M254.00,410.60 L252.10,411.69 A4.39,4.39 0 0 0 252.80,412.60 L254.35,411.05 A2.19,2.19 0 0 1 254.00,410.60Z" fill="#ab0626" stroke="#ab0626" stroke-width="0.4"/>
<path d="M254.35,411.05 L252.80,412.60 A4.39,4.39 0 0 0 253.71,413.30 L254.80,411.40 A2.19,2.19 0 0 1 254.35,411.05Z" fill="#ab0626" stroke="#ab0626" stroke-width="0.4"/>
<path d="M254.80,411.40 L253.71,413.30 A4.39,4.39 0 0 0 254.76,413.74 L255.33,411.62 A2.19,2.19 0 0 1 254.80,411.40Z" fill="#ab0626" stroke="#ab0626" stroke-width="0.4"/>
<path d="M255.33,411.62 L254.76,413.74 A4.39,4.39 0 0 0 255.90,413.89 L255.90,411.69 A2.19,2.19 0 0 1 255.33,411.62Z" fill="#ab0626" stroke="#ab0626" stroke-width="0.4"/>
<path d="M255.90,411.69 L255.90,413.89 A4.39,4.39 0 0 0 257.04,413.74 L256.47,411.62 A2.19,2.19 0 0 1 255.90,411.69Z" fill="#ab0626" stroke="#ab0626" stroke-width="0.4"/>
<path d="M256.47,411.62 L257.04,413.74 A4.39,4.39 0 0 0 258.09,413.30 L257.00,411.40 A2.19,2.19 0 0 1 256.47,411.62Z" fill="#ab0626" stroke="#ab0626" stroke-width="0.4"/>
<path d="M257.00,411.40 L258.09,413.30 A4.39,4.39 0 0 0 259.00,412.60 L257.45,411.05 A2.19,2.19 0 0 1 257.00,411.40Z" fill="#ab0626" stroke="#ab0626" stroke-width="0.4"/>
<path d="M257.45,411.05 L259.00,412.60 A4.39,4.39 0 0 0 259.70,411.69 L257.80,410.60 A2.19,2.19 0 0 1 257.45,411.05Z" fill="#ab0626" stroke="#ab0626" stroke-width="0.4"/>
<path d="M257.80,410.60 L259.70,411.69 A4.39,4.39 0 0 0 260.14,410.64 L258.02,410.07 A2.19,2.19 0 0 1 257.80,410.60Z" fill="#ab0626" stroke="#ab0626" stroke-width="0.4"/>
<path d="M258.02,410.07 L260.14,410.64 A4.39,4.39 0 0 0 260.29,409.50 L258.09,409.50 A2.19,2.19 0 0 1 258.02,410.07Z" fill="#ab0626" stroke="#ab0626" stroke-width="0.4"/>
<path d="M260.29,409.50 L262.48,409.50 A6.58,6.58 0 0 0 262.25,407.80 L260.14,408.36 A4.39,4.39 0 0 1 260.29,409.50Z" fill="#ad0826" stroke="#ad0826" stroke-width="0.4"/>
<path d="M260.14,408.36 L262.25,407.80 A6.58,6.58 0 0 0 261.60,406.21 L259.70,407.31 A4.39,4.39 0 0 1 260.14,408.36Z" fill="#ab0626" stroke="#ab0626" stroke-width="0.4"/>
<path d="M259.70,407.31 L261.60,406.21 A6.58,6.58 0 0 0 260.55,404.85 L259.00,406.40 A4.39,4.39 0 0 1 259.70,407.31Z" fill="#ab0626" stroke="#ab0626" stroke-width="0.4"/>
<path d="M259.00,406.40 L260.55,404.85 A6.58,6.58 0 0 0 259.19,403.80 L258.09,405.70 A4.39,4.39 0 0 1 259.00,406.40Z" fill="#a90426" stroke="#a90426" stroke-width="0.4"/>
<path d="M258.09,405.70 L259.19,403.80 A6.58,6.58 0 0 0 257.60,403.15 L257.04,405.26 A4.39,4.39 0 0 1 258.09,405.70Z" fill="#a90426" stroke="#a90426" stroke-width="0.4"/>
<path d="M257.04,405.26 L257.60,403.15 A6.58,6.58 0 0 0 255.90,402.92 L255.90,405.11 A4.39,4.39 0 0 1 257.04,405.26Z" fill="#a90426" stroke="#a90426" stroke-width="0.4"/>
<path d="M255.90,405.11 L255.90,402.92 A6.58,6.58 0 0 0 254.20,403.15 L254.76,405.26 A4.39,4.39 0 0 1 255.90,405.11Z" fill="#a90426" stroke="#a90426" stroke-width="0.4"/>
<path d="M254.76,405.26 L254.20,403.15 A6.58,6.58 0 0 0 252.61,403.80 L253.71,405.70 A4.39,4.39 0 0 1 254.76,405.26Z" fill="#a90426" stroke="#a90426" stroke-width="0.4"/>
<path d="M253.71,405.70 L252.61,403.80 A6.58,6.58 0 0 0 251.25,404.85 L252.80,406.40 A4.39,4.39 0 0 1 253.71,405.70Z" fill="#a90426" stroke="#a90426" stroke-width="0.4"/>
<path d="M252.80,406.40 L251.25,404.85 A6.58,6.58 0 0 0 250.20,406.21 L252.10,407.31 A4.39,4.39 0 0 1 252.80,406.40Z" fill="#a90426" stroke="#a90426" stroke-width="0.4"/>
<path d="M252.10,407.31 L250.20,406.21 A6.58,6.58 0 0 0 249.55,407.80 L251.66,408.36 A4.39,4.39 0 0 1 252.10,407.31Z" fill="#ab0626" stroke="#ab0626" stroke-width="0.4"/>
<path d="M251.66,408.36 L249.55,407.80 A6.58,6.58 0 0 0 249.32,409.50 L251.51,409.50 A4.39,4.39 0 0 1 251.66,408.36Z" fill="#ab0626" stroke="#ab0626" stroke-width="0.4"/>
<path d="M251.51,409.50 L249.32,409.50 A6.58,6.58 0 0 0 249.55,411.20 L251.66,410.64 A4.39,4.39 0 0 1 251.51,409.50Z" fill="#ab0626" stroke="#ab0626" stroke-width="0.4"/>
<path d="M251.66,410.64 L249.55,411.20 A6.58,6.58 0 0 0 250.20,412.79 L252.10,411.69 A4.39,4.39 0 0 1 251.66,410.64Z" fill="#ad0826" stroke="#ad0826" stroke-width="0.4"/>
<path d="M252.10,411.69 L250.20,412.79 A6.58,6.58 0 0 0 251.25,414.15 L252.80,412.60 A4.39,4.39 0 0 1 252.10,411.69Z" fill="#ad0826" stroke="#ad0826" stroke-width="0.4"/>
<path d="M252.80,412.60 L251.25,414.15 A6.58,6.58 0 0 0 252.61,415.20 L253.71,413.30 A4.39,4.39 0 0 1 252.80,412.60Z" fill="#af0926" stroke="#af0926" stroke-width="0.4"/>
<path d="M253.71,413.30 L252.61,415.20 A6.58,6.58 0 0 0 254.20,415.85 L254.76,413.74 A4.39,4.39 0 0 1 253.71,413.30Z" fill="#af0926" stroke="#af0926" stroke-width="0.4"/>
<path d="M254.76,413.74 L254.20,415.85 A6.58,6.58 0 0 0 255.90,416.08 L255.90,413.89 A4.39,4.39 0 0 1 254.76,413.74Z" fill="#ad0826" stroke="#ad0826" stroke-width="0.4"/>
<path d="M255.90,413.89 L255.90,416.08 A6.58,6.58 0 0 0 257.60,415.85 L257.04,413.74 A4.39,4.39 0 0 1 255.90,413.89Z" fill="#ad0826" stroke="#ad0826" stroke-width="0.4"/>
<path d="M257.04,413.74 L257.60,415.85 A6.58,6.58 0 0 0 259.19,415.20 L258.09,413.30 A4.39,4.39 0 0 1 257.04,413.74Z" fill="#ad0826" stroke="#ad0826" stroke-width="0.4"/>
<path d="M258.09,413.30 L259.19,415.20 A6.58,6.58 0 0 0 260.55,414.15 L259.00,412.60 A4.39,4.39 0 0 1 258.09,413.30Z" fill="#ad0826" stroke="#ad0826" stroke-width="0.4"/>
<path d="M259.00,412.60 L260.55,414.15 A6.58,6.58 0 0 0 261.60,412.79 L259.70,411.69 A4.39,4.39 0 0 1 259.00,412.60Z" fill="#af0926" stroke="#af0926" stroke-width="0.4"/>
<path d="M259.70,411.69 L261.60,412.79 A6.58,6.58 0 0 0 262.25,411.20 L260.14,410.64 A4.39,4.39 0 0 1 259.70,411.69Z" fill="#ad0826" stroke="#ad0826" stroke-width="0.4"/>
<path d="M260.14,410.64 L262.25,411.20 A6.58,6.58 0 0 0 262.48,409.50 L260.29,409.50 A4.39,4.39 0 0 1 260.14,410.64Z" fill="#ad0826" stroke="#ad0826" stroke-width="0.4"/>
<path d="M262.48,409.50 L264.67,409.50 A8.77,8.77 0 0 0 264.37,407.23 L262.25,407.80 A6.58,6.58 0 0 1 262.48,409.50Z" fill="#b91326" stroke="#b91326" stroke-width="0.4"/>
<path d="M262.25,407.80 L264.37,407.23 A8.77,8.77 0 0 0 263.50,405.11 L261.60,406.21 A6.58,6.58 0 0 1 262.25,407.80Z" fill="#af0926" stroke="#af0926" stroke-width="0.4"/>
<path d="M261.60,406.21 L263.50,405.11 A8.77,8.77 0 0 0 262.10,403.30 L260.55,404.85 A6.58,6.58 0 0 1 261.60,406.21Z" fill="#ad0826" stroke="#ad0826" stroke-width="0.4"/>
<path d="M260.55,404.85 L262.10,403.30 A8.77,8.77 0 0 0 260.29,401.90 L259.19,403.80 A6.58,6.58 0 0 1 260.55,404.85Z" fill="#ad0826" stroke="#ad0826" stroke-width="0.4"/>
<path d="M259.19,403.80 L260.29,401.90 A8.77,8.77 0 0 0 258.17,401.03 L257.60,403.15 A6.58,6.58 0 0 1 259.19,403.80Z" fill="#ad0826" stroke="#ad0826" stroke-width="0.4"/>
<path d="M257.60,403.15 L258.17,401.03 A8.77,8.77 0 0 0 255.90,400.73 L255.90,402.92 A6.58,6.58 0 0 1 257.60,403.15Z" fill="#ad0826" stroke="#ad0826" stroke-width="0.4"/>
<path d="M255.90,402.92 L255.90,400.73 A8.77,8.77 0 0 0 253.63,401.03 L254.20,403.15 A6.58,6.58 0 0 1 255.90,402.92Z" fill="#ad0826" stroke="#ad0826" stroke-width="0.4"/>
<path d="M254.20,403.15 L253.63,401.03 A8.77,8.77 0 0 0 251.51,401.90 L252.61,403.80 A6.58,6.58 0 0 1 254.20,403.15Z" fill="#ad0826" stroke="#ad0826" stroke-width="0.4"/>
<path d="M252.61,403.80 L251.51,401.90 A8.77,8.77 0 0 0 249.70,403.30 L251.25,404.85 A6.58,6.58 0 0 1 252.61,403.80Z" fill="#ad0826" stroke="#ad0826" stroke-width="0.4"/>
<path d="M251.25,404.85 L249.70,403.30 A8.77,8.77 0 0 0 248.30,405.11 L250.20,406.21 A6.58,6.58 0 0 1 251.25,404.85Z" fill="#ad0826" stroke="#ad0826" stroke-width="0.4"/>
<path d="M250.20,406.21 L248.30,405.11 A8.77,8.77 0 0 0 247.43,407.23 L249.55,407.80 A6.58,6.58 0 0 1 250.20,406.21Z" fill="#ad0826" stroke="#ad0826" stroke-width="0.4"/>
<path d="M249.55,407.80 L247.43,407.23 A8.77,8.77 0 0 0 247.13,409.50 L249.32,409.50 A6.58,6.58 0 0 1 249.55,407.80Z" fill="#ad0826" stroke="#ad0826" stroke-width="0.4"/>
<path d="M249.32,409.50 L247.13,409.50 A8.77,8.77 0 0 0 247.43,411.77 L249.55,411.20 A6.58,6.58 0 0 1 249.32,409.50Z" fill="#b50f26" stroke="#b50f26" stroke-width="0.4"/>
<path d="M249.55,411.20 L247.43,411.77 A8.77,8.77 0 0 0 248.30,413.89 L250.20,412.79 A6.58,6.58 0 0 1 249.55,411.20Z" fill="#c21c27" stroke="#c21c27" stroke-width="0.4"/>
<path d="M250.20,412.79 L248.30,413.89 A8.77,8.77 0 0 0 249.70,415.70 L251.25,414.15 A6.58,6.58 0 0 1 250.20,412.79Z" fill="#cc2627" stroke="#cc2627" stroke-width="0.4"/>
<path d="M251.25,414.15 L249.70,415.70 A8.77,8.77 0 0 0 251.51,417.10 L252.61,415.20 A6.58,6.58 0 0 1 251.25,414.15Z" fill="#da362a" stroke="#da362a" stroke-width="0.4"/>
<path d="M252.61,415.20 L251.51,417.10 A8.77,8.77 0 0 0 253.63,417.97 L254.20,415.85 A6.58,6.58 0 0 1 252.61,415.20Z" fill="#d83128" stroke="#d83128" stroke-width="0.4"/>
<path d="M254.20,415.85 L253.63,417.97 A8.77,8.77 0 0 0 255.90,418.27 L255.90,416.08 A6.58,6.58 0 0 1 254.20,415.85Z" fill="#ca2427" stroke="#ca2427" stroke-width="0.4"/>
<path d="M255.90,416.08 L255.90,418.27 A8.77,8.77 0 0 0 258.17,417.97 L257.60,415.85 A6.58,6.58 0 0 1 255.90,416.08Z" fill="#c82227" stroke="#c82227" stroke-width="0.4"/>
<path d="M257.60,415.85 L258.17,417.97 A8.77,8.77 0 0 0 260.29,417.10 L259.19,415.20 A6.58,6.58 0 0 1 257.60,415.85Z" fill="#ca2427" stroke="#ca2427" stroke-width="0.4"/>
<path d="M259.19,415.20 L260.29,417.10 A8.77,8.77 0 0 0 262.10,415.70 L260.55,414.15 A6.58,6.58 0 0 1 259.19,415.20Z" fill="#d02927" stroke="#d02927" stroke-width="0.4"/>
<path d="M260.55,414.15 L262.10,415.70 A8.77,8.77 0 0 0 263.50,413.89 L261.60,412.79 A6.58,6.58 0 0 1 260.55,414.15Z" fill="#d83128" stroke="#d83128" stroke-width="0.4"/>
<path d="M261.60,412.79 L263.50,413.89 A8.77,8.77 0 0 0 264.37,411.77 L262.25,411.20 A6.58,6.58 0 0 1 261.60,412.79Z" fill="#d22b27" stroke="#d22b27" stroke-width="0.4"/>
<path d="M262.25,411.20 L264.37,411.77 A8.77,8.77 0 0 0 264.67,409.50 L262.48,409.50 A6.58,6.58 0 0 1 262.25,411.20Z" fill="#c62027" stroke="#c62027" stroke-width="0.4"/>
<path d="M264.67,409.50 L266.86,409.50 A10.96,10.96 0 0 0 266.49,406.66 L264.37,407.23 A8.77,8.77 0 0 1 264.67,409.50Z" fill="#f16640" stroke="#f16640" stroke-width="0.4"/>
<path d="M264.37,407.23 L266.49,406.66 A10.96,10.96 0 0 0 265.40,404.02 L263.50,405.11 A8.77,8.77 0 0 1 264.37,407.23Z" fill="#d02927" stroke="#d02927" stroke-width="0.4"/>
<path d="M263.50,405.11 L265.40,404.02 A10.96,10.96 0 0 0 263.65,401.75 L262.10,403.30 A8.77,8.77 0 0 1 263.50,405.11Z" fill="#c21c27" stroke="#c21c27" stroke-width="0.4"/>
<path d="M262.10,403.30 L263.65,401.75 A10.96,10.96 0 0 0 261.38,400.00 L260.29,401.90 A8.77,8.77 0 0 1 262.10,403.30Z" fill="#bd1726" stroke="#bd1726" stroke-width="0.4"/>
<path d="M260.29,401.90 L261.38,400.00 A10.96,10.96 0 0 0 258.74,398.91 L258.17,401.03 A8.77,8.77 0 0 1 260.29,401.90Z" fill="#bd1726" stroke="#bd1726" stroke-width="0.4"/>
<path d="M258.17,401.03 L258.74,398.91 A10.96,10.96 0 0 0 255.90,398.54 L255.90,400.73 A8.77,8.77 0 0 1 258.17,401.03Z" fill="#be1827" stroke="#be1827" stroke-width="0.4"/>
<path d="M255.90,400.73 L255.90,398.54 A10.96,10.96 0 0 0 253.06,398.91 L253.63,401.03 A8.77,8.77 0 0 1 255.90,400.73Z" fill="#c01a27" stroke="#c01a27" stroke-width="0.4"/>
<path d="M253.63,401.03 L253.06,398.91 A10.96,10.96 0 0 0 250.42,400.00 L251.51,401.90 A8.77,8.77 0 0 1 253.63,401.03Z" fill="#c01a27" stroke="#c01a27" stroke-width="0.4"/>
<path d="M251.51,401.90 L250.42,400.00 A10.96,10.96 0 0 0 248.15,401.75 L249.70,403.30 A8.77,8.77 0 0 1 251.51,401.90Z" fill="#be1827" stroke="#be1827" stroke-width="0.4"/>
<path d="M249.70,403.30 L248.15,401.75 A10.96,10.96 0 0 0 246.40,404.02 L248.30,405.11 A8.77,8.77 0 0 1 249.70,403.30Z" fill="#bd1726" stroke="#bd1726" stroke-width="0.4"/>
<path d="M248.30,405.11 L246.40,404.02 A10.96,10.96 0 0 0 245.31,406.66 L247.43,407.23 A8.77,8.77 0 0 1 248.30,405.11Z" fill="#c01a27" stroke="#c01a27" stroke-width="0.4"/>
<path d="M247.43,407.23 L245.31,406.66 A10.96,10.96 0 0 0 244.94,409.50 L247.13,409.50 A8.77,8.77 0 0 1 247.43,407.23Z" fill="#c82227" stroke="#c82227" stroke-width="0.4"/>
<path d="M247.13,409.50 L244.94,409.50 A10.96,10.96 0 0 0 245.31,412.34 L247.43,411.77 A8.77,8.77 0 0 1 247.13,409.50Z" fill="#e54e35" stroke="#e54e35" stroke-width="0.4"/>
<path d="M247.43,411.77 L245.31,412.34 A10.96,10.96 0 0 0 246.40,414.98 L248.30,413.89 A8.77,8.77 0 0 1 247.43,411.77Z" fill="#f98e52" stroke="#f98e52" stroke-width="0.4"/>
<path d="M248.30,413.89 L246.40,414.98 A10.96,10.96 0 0 0 248.15,417.25 L249.70,415.70 A8.77,8.77 0 0 1 248.30,413.89Z" fill="#fdbd6f" stroke="#fdbd6f" stroke-width="0.4"/>
<path d="M249.70,415.70 L248.15,417.25 A10.96,10.96 0 0 0 250.42,419.00 L251.51,417.10 A8.77,8.77 0 0 1 249.70,415.70Z" fill="#fecc7e" stroke="#fecc7e" stroke-width="0.4"/>
<path d="M251.51,417.10 L250.42,419.00 A10.96,10.96 0 0 0 253.06,420.09 L253.63,417.97 A8.77,8.77 0 0 1 251.51,417.10Z" fill="#fdc374" stroke="#fdc374" stroke-width="0.4"/>
<path d="M253.63,417.97 L253.06,420.09 A10.96,10.96 0 0 0 255.90,420.46 L255.90,418.27 A8.77,8.77 0 0 1 253.63,417.97Z" fill="#fdaf62" stroke="#fdaf62" stroke-width="0.4"/>
<path d="M255.90,418.27 L255.90,420.46 A10.96,10.96 0 0 0 258.74,420.09 L258.17,417.97 A8.77,8.77 0 0 1 255.90,418.27Z" fill="#fba05b" stroke="#fba05b" stroke-width="0.4"/>
<path d="M258.17,417.97 L258.74,420.09 A10.96,10.96 0 0 0 261.38,419.00 L260.29,417.10 A8.77,8.77 0 0 1 258.17,417.97Z" fill="#fca55d" stroke="#fca55d" stroke-width="0.4"/>
<path d="M260.29,417.10 L261.38,419.00 A10.96,10.96 0 0 0 263.65,417.25 L262.10,415.70 A8.77,8.77 0 0 1 260.29,417.10Z" fill="#fdb96b" stroke="#fdb96b" stroke-width="0.4"/>
<path d="M262.10,415.70 L263.65,417.25 A10.96,10.96 0 0 0 265.40,414.98 L263.50,413.89 A8.77,8.77 0 0 1 262.10,415.70Z" fill="#fdc778" stroke="#fdc778" stroke-width="0.4"/>
<path d="M263.50,413.89 L265.40,414.98 A10.96,10.96 0 0 0 266.49,412.34 L264.37,411.77 A8.77,8.77 0 0 1 263.50,413.89Z" fill="#fdc374" stroke="#fdc374" stroke-width="0.4"/>
<path d="M264.37,411.77 L266.49,412.34 A10.96,10.96 0 0 0 266.86,409.50 L264.67,409.50 A8.77,8.77 0 0 1 264.37,411.77Z" fill="#fba35c" stroke="#fba35c" stroke-width="0.4"/>
<path d="M266.86,409.50 L269.06,409.50 A13.16,13.16 0 0 0 268.61,406.09 L266.49,406.66 A10.96,10.96 0 0 1 266.86,409.50Z" fill="#feea9f" stroke="#feea9f" stroke-width="0.4"/>
<path d="M266.49,406.66 L268.61,406.09 A13.16,13.16 0 0 0 267.29,402.92 L265.40,404.02 A10.96,10.96 0 0 1 266.49,406.66Z" fill="#fdb567" stroke="#fdb567" stroke-width="0.4"/>
<path d="M265.40,404.02 L267.29,402.92 A13.16,13.16 0 0 0 265.20,400.20 L263.65,401.75 A10.96,10.96 0 0 1 265.40,404.02Z" fill="#f7844e" stroke="#f7844e" stroke-width="0.4"/>
<path d="M263.65,401.75 L265.20,400.20 A13.16,13.16 0 0 0 262.48,398.11 L261.38,400.00 A10.96,10.96 0 0 1 263.65,401.75Z" fill="#f46d43" stroke="#f46d43" stroke-width="0.4"/>
<path d="M261.38,400.00 L262.48,398.11 A13.16,13.16 0 0 0 259.31,396.79 L258.74,398.91 A10.96,10.96 0 0 1 261.38,400.00Z" fill="#f57245" stroke="#f57245" stroke-width="0.4"/>
<path d="M258.74,398.91 L259.31,396.79 A13.16,13.16 0 0 0 255.90,396.34 L255.90,398.54 A10.96,10.96 0 0 1 258.74,398.91Z" fill="#f7844e" stroke="#f7844e" stroke-width="0.4"/>
<path d="M255.90,398.54 L255.90,396.34 A13.16,13.16 0 0 0 252.49,396.79 L253.06,398.91 A10.96,10.96 0 0 1 255.90,398.54Z" fill="#f98e52" stroke="#f98e52" stroke-width="0.4"/>
<path d="M253.06,398.91 L252.49,396.79 A13.16,13.16 0 0 0 249.32,398.11 L250.42,400.00 A10.96,10.96 0 0 1 253.06,398.91Z" fill="#f88c51" stroke="#f88c51" stroke-width="0.4"/>
<path d="M250.42,400.00 L249.32,398.11 A13.16,13.16 0 0 0 246.60,400.20 L248.15,401.75 A10.96,10.96 0 0 1 250.42,400.00Z" fill="#f67f4b" stroke="#f67f4b" stroke-width="0.4"/>
<path d="M248.15,401.75 L246.60,400.20 A13.16,13.16 0 0 0 244.51,402.92 L246.40,404.02 A10.96,10.96 0 0 1 248.15,401.75Z" fill="#f57245" stroke="#f57245" stroke-width="0.4"/>
<path d="M246.40,404.02 L244.51,402.92 A13.16,13.16 0 0 0 243.19,406.09 L245.31,406.66 A10.96,10.96 0 0 1 246.40,404.02Z" fill="#f67c4a" stroke="#f67c4a" stroke-width="0.4"/>
<path d="M245.31,406.66 L243.19,406.09 A13.16,13.16 0 0 0 242.74,409.50 L244.94,409.50 A10.96,10.96 0 0 1 245.31,406.66Z" fill="#fba35c" stroke="#fba35c" stroke-width="0.4"/>
<path d="M244.94,409.50 L242.74,409.50 A13.16,13.16 0 0 0 243.19,412.91 L245.31,412.34 A10.96,10.96 0 0 1 244.94,409.50Z" fill="#feda8a" stroke="#feda8a" stroke-width="0.4"/>
<path d="M245.31,412.34 L243.19,412.91 A13.16,13.16 0 0 0 244.51,416.08 L246.40,414.98 A10.96,10.96 0 0 1 245.31,412.34Z" fill="#feffc0" stroke="#feffc0" stroke-width="0.4"/>
<path d="M246.40,414.98 L244.51,416.08 A13.16,13.16 0 0 0 246.60,418.80 L248.15,417.25 A10.96,10.96 0 0 1 246.40,414.98Z" fill="#e6f5ed" stroke="#e6f5ed" stroke-width="0.4"/>
<path d="M248.15,417.25 L246.60,418.80 A13.16,13.16 0 0 0 249.32,420.89 L250.42,419.00 A10.96,10.96 0 0 1 248.15,417.25Z" fill="#def2f7" stroke="#def2f7" stroke-width="0.4"/>
<path d="M250.42,419.00 L249.32,420.89 A13.16,13.16 0 0 0 252.49,422.21 L253.06,420.09 A10.96,10.96 0 0 1 250.42,419.00Z" fill="#e6f5ed" stroke="#e6f5ed" stroke-width="0.4"/>
<path d="M253.06,420.09 L252.49,422.21 A13.16,13.16 0 0 0 255.90,422.66 L255.90,420.46 A10.96,10.96 0 0 1 253.06,420.09Z" fill="#f3fbd4" stroke="#f3fbd4" stroke-width="0.4"/>
<path d="M255.90,420.46 L255.90,422.66 A13.16,13.16 0 0 0 259.31,422.21 L258.74,420.09 A10.96,10.96 0 0 1 255.90,420.46Z" fill="#fcfec5" stroke="#fcfec5" stroke-width="0.4"/>
<path d="M258.74,420.09 L259.31,422.21 A13.16,13.16 0 0 0 262.48,420.89 L261.38,419.00 A10.96,10.96 0 0 1 258.74,420.09Z" fill="#f8fccb" stroke="#f8fccb" stroke-width="0.4"/>
<path d="M261.38,419.00 L262.48,420.89 A13.16,13.16 0 0 0 265.20,418.80 L263.65,417.25 A10.96,10.96 0 0 1 261.38,419.00Z" fill="#edf8df" stroke="#edf8df" stroke-width="0.4"/>
<path d="M263.65,417.25 L265.20,418.80 A13.16,13.16 0 0 0 267.29,416.08 L265.40,414.98 A10.96,10.96 0 0 1 263.65,417.25Z" fill="#e2f4f4" stroke="#e2f4f4" stroke-width="0.4"/>
<path d="M265.40,414.98 L267.29,416.08 A13.16,13.16 0 0 0 268.61,412.91 L266.49,412.34 A10.96,10.96 0 0 1 265.40,414.98Z" fill="#e2f4f4" stroke="#e2f4f4" stroke-width="0.4"/>
<path d="M266.49,412.34 L268.61,412.91 A13.16,13.16 0 0 0 269.06,409.50 L266.86,409.50 A10.96,10.96 0 0 1 266.49,412.34Z" fill="#f3fbd4" stroke="#f3fbd4" stroke-width="0.4"/>
<path d="M269.06,409.50 L271.25,409.50 A15.35,15.35 0 0 0 270.73,405.53 L268.61,406.09 A13.16,13.16 0 0 1 269.06,409.50Z" fill="#c3e5f0" stroke="#c3e5f0" stroke-width="0.4"/>
<path d="M268.61,406.09 L270.73,405.53 A15.35,15.35 0 0 0 269.19,401.82 L267.29,402.92 A13.16,13.16 0 0 1 268.61,406.09Z" fill="#f1fad9" stroke="#f1fad9" stroke-width="0.4"/>
<path d="M267.29,402.92 L269.19,401.82 A15.35,15.35 0 0 0 266.75,398.65 L265.20,400.20 A13.16,13.16 0 0 1 267.29,402.92Z" fill="#fff3ad" stroke="#fff3ad" stroke-width="0.4"/>
<path d="M265.20,400.20 L266.75,398.65 A15.35,15.35 0 0 0 263.57,396.21 L262.48,398.11 A13.16,13.16 0 0 1 265.20,400.20Z" fill="#feea9f" stroke="#feea9f" stroke-width="0.4"/>
<path d="M262.48,398.11 L263.57,396.21 A15.35,15.35 0 0 0 259.87,394.67 L259.31,396.79 A13.16,13.16 0 0 1 262.48,398.11Z" fill="#fff0a8" stroke="#fff0a8" stroke-width="0.4"/>
<path d="M259.31,396.79 L259.87,394.67 A15.35,15.35 0 0 0 255.90,394.15 L255.90,396.34 A13.16,13.16 0 0 1 259.31,396.79Z" fill="#fffbb9" stroke="#fffbb9" stroke-width="0.4"/>
<path d="M255.90,396.34 L255.90,394.15 A15.35,15.35 0 0 0 251.93,394.67 L252.49,396.79 A13.16,13.16 0 0 1 255.90,396.34Z" fill="#fcfec5" stroke="#fcfec5" stroke-width="0.4"/>
<path d="M252.49,396.79 L251.93,394.67 A15.35,15.35 0 0 0 248.23,396.21 L249.32,398.11 A13.16,13.16 0 0 1 252.49,396.79Z" fill="#feffc0" stroke="#feffc0" stroke-width="0.4"/>
<path d="M249.32,398.11 L248.23,396.21 A15.35,15.35 0 0 0 245.05,398.65 L246.60,400.20 A13.16,13.16 0 0 1 249.32,398.11Z" fill="#fff6b1" stroke="#fff6b1" stroke-width="0.4"/>
<path d="M246.60,400.20 L245.05,398.65 A15.35,15.35 0 0 0 242.61,401.82 L244.51,402.92 A13.16,13.16 0 0 1 246.60,400.20Z" fill="#feeda4" stroke="#feeda4" stroke-width="0.4"/>
<path d="M244.51,402.92 L242.61,401.82 A15.35,15.35 0 0 0 241.07,405.53 L243.19,406.09 A13.16,13.16 0 0 1 244.51,402.92Z" fill="#fff0a8" stroke="#fff0a8" stroke-width="0.4"/>
<path d="M243.19,406.09 L241.07,405.53 A15.35,15.35 0 0 0 240.55,409.50 L242.74,409.50 A13.16,13.16 0 0 1 243.19,406.09Z" fill="#fbfdc7" stroke="#fbfdc7" stroke-width="0.4"/>
<path d="M242.74,409.50 L240.55,409.50 A15.35,15.35 0 0 0 241.07,413.47 L243.19,412.91 A13.16,13.16 0 0 1 242.74,409.50Z" fill="#d8eff6" stroke="#d8eff6" stroke-width="0.4"/>
<path d="M243.19,412.91 L241.07,413.47 A15.35,15.35 0 0 0 242.61,417.18 L244.51,416.08 A13.16,13.16 0 0 1 243.19,412.91Z" fill="#9dcee3" stroke="#9dcee3" stroke-width="0.4"/>
<path d="M244.51,416.08 L242.61,417.18 A15.35,15.35 0 0 0 245.05,420.35 L246.60,418.80 A13.16,13.16 0 0 1 244.51,416.08Z" fill="#85bbd9" stroke="#85bbd9" stroke-width="0.4"/>
<path d="M246.60,418.80 L245.05,420.35 A15.35,15.35 0 0 0 248.22,422.79 L249.32,420.89 A13.16,13.16 0 0 1 246.60,418.80Z" fill="#7fb6d6" stroke="#7fb6d6" stroke-width="0.4"/>
<path d="M249.32,420.89 L248.22,422.79 A15.35,15.35 0 0 0 251.93,424.33 L252.49,422.21 A13.16,13.16 0 0 1 249.32,420.89Z" fill="#87bdd9" stroke="#87bdd9" stroke-width="0.4"/>
<path d="M252.49,422.21 L251.93,424.33 A15.35,15.35 0 0 0 255.90,424.85 L255.90,422.66 A13.16,13.16 0 0 1 252.49,422.21Z" fill="#97c9e0" stroke="#97c9e0" stroke-width="0.4"/>
<path d="M255.90,422.66 L255.90,424.85 A15.35,15.35 0 0 0 259.87,424.33 L259.31,422.21 A13.16,13.16 0 0 1 255.90,422.66Z" fill="#a3d3e6" stroke="#a3d3e6" stroke-width="0.4"/>
<path d="M259.31,422.21 L259.87,424.33 A15.35,15.35 0 0 0 263.57,422.79 L262.48,420.89 A13.16,13.16 0 0 1 259.31,422.21Z" fill="#9dcee3" stroke="#9dcee3" stroke-width="0.4"/>
<path d="M262.48,420.89 L263.57,422.79 A15.35,15.35 0 0 0 266.75,420.35 L265.20,418.80 A13.16,13.16 0 0 1 262.48,420.89Z" fill="#8ec2dc" stroke="#8ec2dc" stroke-width="0.4"/>
<path d="M265.20,418.80 L266.75,420.35 A15.35,15.35 0 0 0 269.19,417.18 L267.29,416.08 A13.16,13.16 0 0 1 265.20,418.80Z" fill="#83b9d8" stroke="#83b9d8" stroke-width="0.4"/>
<path d="M267.29,416.08 L269.19,417.18 A15.35,15.35 0 0 0 270.73,413.47 L268.61,412.91 A13.16,13.16 0 0 1 267.29,416.08Z" fill="#81b7d7" stroke="#81b7d7" stroke-width="0.4"/>
<path d="M268.61,412.91 L270.73,413.47 A15.35,15.35 0 0 0 271.25,409.50 L269.06,409.50 A13.16,13.16 0 0 1 268.61,412.91Z" fill="#92c5de" stroke="#92c5de" stroke-width="0.4"/>
<path d="M271.25,409.50 L273.44,409.50 A17.54,17.54 0 0 0 272.85,404.96 L270.73,405.53 A15.35,15.35 0 0 1 271.25,409.50Z" fill="#72abd0" stroke="#72abd0" stroke-width="0.4"/>
<path d="M270.73,405.53 L272.85,404.96 A17.54,17.54 0 0 0 271.09,400.73 L269.19,401.82 A15.35,15.35 0 0 1 270.73,405.53Z" fill="#94c7df" stroke="#94c7df" stroke-width="0.4"/>
<path d="M269.19,401.82 L271.09,400.73 A17.54,17.54 0 0 0 268.30,397.10 L266.75,398.65 A15.35,15.35 0 0 1 269.19,401.82Z" fill="#bbe1ed" stroke="#bbe1ed" stroke-width="0.4"/>
<path d="M266.75,398.65 L268.30,397.10 A17.54,17.54 0 0 0 264.67,394.31 L263.57,396.21 A15.35,15.35 0 0 1 266.75,398.65Z" fill="#c7e7f1" stroke="#c7e7f1" stroke-width="0.4"/>
<path d="M263.57,396.21 L264.67,394.31 A17.54,17.54 0 0 0 260.44,392.55 L259.87,394.67 A15.35,15.35 0 0 1 263.57,396.21Z" fill="#bbe1ed" stroke="#bbe1ed" stroke-width="0.4"/>
<path d="M259.87,394.67 L260.44,392.55 A17.54,17.54 0 0 0 255.90,391.96 L255.90,394.15 A15.35,15.35 0 0 1 259.87,394.67Z" fill="#a3d3e6" stroke="#a3d3e6" stroke-width="0.4"/>
<path d="M255.90,394.15 L255.90,391.96 A17.54,17.54 0 0 0 251.36,392.55 L251.93,394.67 A15.35,15.35 0 0 1 255.90,394.15Z" fill="#97c9e0" stroke="#97c9e0" stroke-width="0.4"/>
<path d="M251.93,394.67 L251.36,392.55 A17.54,17.54 0 0 0 247.13,394.31 L248.23,396.21 A15.35,15.35 0 0 1 251.93,394.67Z" fill="#9bcce2" stroke="#9bcce2" stroke-width="0.4"/>
<path d="M248.23,396.21 L247.13,394.31 A17.54,17.54 0 0 0 243.50,397.10 L245.05,398.65 A15.35,15.35 0 0 1 248.23,396.21Z" fill="#aedbea" stroke="#aedbea" stroke-width="0.4"/>
<path d="M245.05,398.65 L243.50,397.10 A17.54,17.54 0 0 0 240.71,400.73 L242.61,401.82 A15.35,15.35 0 0 1 245.05,398.65Z" fill="#c1e4ef" stroke="#c1e4ef" stroke-width="0.4"/>
<path d="M242.61,401.82 L240.71,400.73 A17.54,17.54 0 0 0 238.95,404.96 L241.07,405.53 A15.35,15.35 0 0 1 242.61,401.82Z" fill="#c1e4ef" stroke="#c1e4ef" stroke-width="0.4"/>
<path d="M241.07,405.53 L238.95,404.96 A17.54,17.54 0 0 0 238.36,409.50 L240.55,409.50 A15.35,15.35 0 0 1 241.07,405.53Z" fill="#a1d1e5" stroke="#a1d1e5" stroke-width="0.4"/>
<path d="M240.55,409.50 L238.36,409.50 A17.54,17.54 0 0 0 238.95,414.04 L241.07,413.47 A15.35,15.35 0 0 1 240.55,409.50Z" fill="#7fb6d6" stroke="#7fb6d6" stroke-width="0.4"/>
<path d="M241.07,413.47 L238.95,414.04 A17.54,17.54 0 0 0 240.71,418.27 L242.61,417.18 A15.35,15.35 0 0 1 241.07,413.47Z" fill="#6095c4" stroke="#6095c4" stroke-width="0.4"/>
<path d="M242.61,417.18 L240.71,418.27 A17.54,17.54 0 0 0 243.50,421.90 L245.05,420.35 A15.35,15.35 0 0 1 242.61,417.18Z" fill="#4f81ba" stroke="#4f81ba" stroke-width="0.4"/>
<path d="M245.05,420.35 L243.50,421.90 A17.54,17.54 0 0 0 247.13,424.69 L248.22,422.79 A15.35,15.35 0 0 1 245.05,420.35Z" fill="#4d7fb9" stroke="#4d7fb9" stroke-width="0.4"/>
<path d="M248.22,422.79 L247.13,424.69 A17.54,17.54 0 0 0 251.36,426.45 L251.93,424.33 A15.35,15.35 0 0 1 248.22,422.79Z" fill="#5183bb" stroke="#5183bb" stroke-width="0.4"/>
<path d="M251.93,424.33 L251.36,426.45 A17.54,17.54 0 0 0 255.90,427.04 L255.90,424.85 A15.35,15.35 0 0 1 251.93,424.33Z" fill="#5e93c3" stroke="#5e93c3" stroke-width="0.4"/>
<path d="M255.90,424.85 L255.90,427.04 A17.54,17.54 0 0 0 260.44,426.45 L259.87,424.33 A15.35,15.35 0 0 1 255.90,424.85Z" fill="#679ec9" stroke="#679ec9" stroke-width="0.4"/>
<path d="M259.87,424.33 L260.44,426.45 A17.54,17.54 0 0 0 264.67,424.69 L263.57,422.79 A15.35,15.35 0 0 1 259.87,424.33Z" fill="#6399c7" stroke="#6399c7" stroke-width="0.4"/>
<path d="M263.57,422.79 L264.67,424.69 A17.54,17.54 0 0 0 268.30,421.90 L266.75,420.35 A15.35,15.35 0 0 1 263.57,422.79Z" fill="#578abf" stroke="#578abf" stroke-width="0.4"/>
<path d="M266.75,420.35 L268.30,421.90 A17.54,17.54 0 0 0 271.09,418.27 L269.19,417.18 A15.35,15.35 0 0 1 266.75,420.35Z" fill="#4f81ba" stroke="#4f81ba" stroke-width="0.4"/>
<path d="M269.19,417.18 L271.09,418.27 A17.54,17.54 0 0 0 272.85,414.04 L270.73,413.47 A15.35,15.35 0 0 1 269.19,417.18Z" fill="#4f81ba" stroke="#4f81ba" stroke-width="0.4"/>
<path d="M270.73,413.47 L272.85,414.04 A17.54,17.54 0 0 0 273.44,409.50 L271.25,409.50 A15.35,15.35 0 0 1 270.73,413.47Z" fill="#578abf" stroke="#578abf" stroke-width="0.4"/>
<path d="M273.44,409.50 L275.64,409.50 A19.74,19.74 0 0 0 274.96,404.39 L272.85,404.96 A17.54,17.54 0 0 1 273.44,409.50Z" fill="#4b7db8" stroke="#4b7db8" stroke-width="0.4"/>
<path d="M272.85,404.96 L274.96,404.39 A19.74,19.74 0 0 0 272.99,399.63 L271.09,400.73 A17.54,17.54 0 0 1 272.85,404.96Z" fill="#5c90c2" stroke="#5c90c2" stroke-width="0.4"/>
<path d="M271.09,400.73 L272.99,399.63 A19.74,19.74 0 0 0 269.86,395.54 L268.30,397.10 A17.54,17.54 0 0 1 271.09,400.73Z" fill="#72abd0" stroke="#72abd0" stroke-width="0.4"/>
<path d="M268.30,397.10 L269.86,395.54 A19.74,19.74 0 0 0 265.77,392.41 L264.67,394.31 A17.54,17.54 0 0 1 268.30,397.10Z" fill="#78b0d3" stroke="#78b0d3" stroke-width="0.4"/>
<path d="M264.67,394.31 L265.77,392.41 A19.74,19.74 0 0 0 261.01,390.44 L260.44,392.55 A17.54,17.54 0 0 1 264.67,394.31Z" fill="#6ea6ce" stroke="#6ea6ce" stroke-width="0.4"/>
<path d="M260.44,392.55 L261.01,390.44 A19.74,19.74 0 0 0 255.90,389.76 L255.90,391.96 A17.54,17.54 0 0 1 260.44,392.55Z" fill="#6399c7" stroke="#6399c7" stroke-width="0.4"/>
<path d="M255.90,391.96 L255.90,389.76 A19.74,19.74 0 0 0 250.79,390.44 L251.36,392.55 A17.54,17.54 0 0 1 255.90,391.96Z" fill="#5a8ec1" stroke="#5a8ec1" stroke-width="0.4"/>
<path d="M251.36,392.55 L250.79,390.44 A19.74,19.74 0 0 0 246.03,392.41 L247.13,394.31 A17.54,17.54 0 0 1 251.36,392.55Z" fill="#5e93c3" stroke="#5e93c3" stroke-width="0.4"/>
<path d="M247.13,394.31 L246.03,392.41 A19.74,19.74 0 0 0 241.94,395.54 L243.50,397.10 A17.54,17.54 0 0 1 247.13,394.31Z" fill="#69a0ca" stroke="#69a0ca" stroke-width="0.4"/>
<path d="M243.50,397.10 L241.94,395.54 A19.74,19.74 0 0 0 238.81,399.63 L240.71,400.73 A17.54,17.54 0 0 1 243.50,397.10Z" fill="#74add1" stroke="#74add1" stroke-width="0.4"/>
<path d="M240.71,400.73 L238.81,399.63 A19.74,19.74 0 0 0 236.84,404.39 L238.95,404.96 A17.54,17.54 0 0 1 240.71,400.73Z" fill="#74add1" stroke="#74add1" stroke-width="0.4"/>
<path d="M238.95,404.96 L236.84,404.39 A19.74,19.74 0 0 0 236.16,409.50 L238.36,409.50 A17.54,17.54 0 0 1 238.95,404.96Z" fill="#679ec9" stroke="#679ec9" stroke-width="0.4"/>
<path d="M238.36,409.50 L236.16,409.50 A19.74,19.74 0 0 0 236.84,414.61 L238.95,414.04 A17.54,17.54 0 0 1 238.36,409.50Z" fill="#4f81ba" stroke="#4f81ba" stroke-width="0.4"/>
<path d="M238.95,414.04 L236.84,414.61 A19.74,19.74 0 0 0 238.81,419.37 L240.71,418.27 A17.54,17.54 0 0 1 238.95,414.04Z" fill="#4574b3" stroke="#4574b3" stroke-width="0.4"/>
<path d="M240.71,418.27 L238.81,419.37 A19.74,19.74 0 0 0 241.94,423.46 L243.50,421.90 A17.54,17.54 0 0 1 240.71,418.27Z" fill="#416aaf" stroke="#416aaf" stroke-width="0.4"/>
<path d="M243.50,421.90 L241.94,423.46 A19.74,19.74 0 0 0 246.03,426.59 L247.13,424.69 A17.54,17.54 0 0 1 243.50,421.90Z" fill="#4167ad" stroke="#4167ad" stroke-width="0.4"/>
<path d="M247.13,424.69 L246.03,426.59 A19.74,19.74 0 0 0 250.79,428.56 L251.36,426.45 A17.54,17.54 0 0 1 247.13,424.69Z" fill="#426cb0" stroke="#426cb0" stroke-width="0.4"/>
<path d="M251.36,426.45 L250.79,428.56 A19.74,19.74 0 0 0 255.90,429.24 L255.90,427.04 A17.54,17.54 0 0 1 251.36,426.45Z" fill="#4574b3" stroke="#4574b3" stroke-width="0.4"/>
<path d="M255.90,427.04 L255.90,429.24 A19.74,19.74 0 0 0 261.01,428.56 L260.44,426.45 A17.54,17.54 0 0 1 255.90,427.04Z" fill="#4878b6" stroke="#4878b6" stroke-width="0.4"/>
<path d="M260.44,426.45 L261.01,428.56 A19.74,19.74 0 0 0 265.77,426.59 L264.67,424.69 A17.54,17.54 0 0 1 260.44,426.45Z" fill="#4878b6" stroke="#4878b6" stroke-width="0.4"/>
<path d="M264.67,424.69 L265.77,426.59 A19.74,19.74 0 0 0 269.86,423.46 L268.30,421.90 A17.54,17.54 0 0 1 264.67,424.69Z" fill="#4471b2" stroke="#4471b2" stroke-width="0.4"/>
<path d="M268.30,421.90 L269.86,423.46 A19.74,19.74 0 0 0 272.99,419.37 L271.09,418.27 A17.54,17.54 0 0 1 268.30,421.90Z" fill="#416aaf" stroke="#416aaf" stroke-width="0.4"/>
<path d="M271.09,418.27 L272.99,419.37 A19.74,19.74 0 0 0 274.96,414.61 L272.85,414.04 A17.54,17.54 0 0 1 271.09,418.27Z" fill="#4167ad" stroke="#4167ad" stroke-width="0.4"/>
<path d="M272.85,414.04 L274.96,414.61 A19.74,19.74 0 0 0 275.64,409.50 L273.44,409.50 A17.54,17.54 0 0 1 272.85,414.04Z" fill="#436fb1" stroke="#436fb1" stroke-width="0.4"/>
<path d="M275.64,409.50 L277.83,409.50 A21.93,21.93 0 0 0 277.08,403.82 L274.96,404.39 A19.74,19.74 0 0 1 275.64,409.50Z" fill="#4065ac" stroke="#4065ac" stroke-width="0.4"/>
<path d="M274.96,404.39 L277.08,403.82 A21.93,21.93 0 0 0 274.89,398.54 L272.99,399.63 A19.74,19.74 0 0 1 274.96,404.39Z" fill="#4574b3" stroke="#4574b3" stroke-width="0.4"/>
<path d="M272.99,399.63 L274.89,398.54 A21.93,21.93 0 0 0 271.41,393.99 L269.86,395.54 A19.74,19.74 0 0 1 272.99,399.63Z" fill="#4b7db8" stroke="#4b7db8" stroke-width="0.4"/>
<path d="M269.86,395.54 L271.41,393.99 A21.93,21.93 0 0 0 266.86,390.51 L265.77,392.41 A19.74,19.74 0 0 1 269.86,395.54Z" fill="#4d7fb9" stroke="#4d7fb9" stroke-width="0.4"/>
<path d="M265.77,392.41 L266.86,390.51 A21.93,21.93 0 0 0 261.58,388.32 L261.01,390.44 A19.74,19.74 0 0 1 265.77,392.41Z" fill="#4a7ab7" stroke="#4a7ab7" stroke-width="0.4"/>
<path d="M261.01,390.44 L261.58,388.32 A21.93,21.93 0 0 0 255.90,387.57 L255.90,389.76 A19.74,19.74 0 0 1 261.01,390.44Z" fill="#4676b5" stroke="#4676b5" stroke-width="0.4"/>
<path d="M255.90,389.76 L255.90,387.57 A21.93,21.93 0 0 0 250.22,388.32 L250.79,390.44 A19.74,19.74 0 0 1 255.90,389.76Z" fill="#4471b2" stroke="#4471b2" stroke-width="0.4"/>
<path d="M250.79,390.44 L250.22,388.32 A21.93,21.93 0 0 0 244.94,390.51 L246.03,392.41 A19.74,19.74 0 0 1 250.79,390.44Z" fill="#4471b2" stroke="#4471b2" stroke-width="0.4"/>
<path d="M246.03,392.41 L244.94,390.51 A21.93,21.93 0 0 0 240.39,393.99 L241.94,395.54 A19.74,19.74 0 0 1 246.03,392.41Z" fill="#4878b6" stroke="#4878b6" stroke-width="0.4"/>
<path d="M241.94,395.54 L240.39,393.99 A21.93,21.93 0 0 0 236.91,398.54 L238.81,399.63 A19.74,19.74 0 0 1 241.94,395.54Z" fill="#4b7db8" stroke="#4b7db8" stroke-width="0.4"/>
<path d="M238.81,399.63 L236.91,398.54 A21.93,21.93 0 0 0 234.72,403.82 L236.84,404.39 A19.74,19.74 0 0 1 238.81,399.63Z" fill="#4d7fb9" stroke="#4d7fb9" stroke-width="0.4"/>
<path d="M236.84,404.39 L234.72,403.82 A21.93,21.93 0 0 0 233.97,409.50 L236.16,409.50 A19.74,19.74 0 0 1 236.84,404.39Z" fill="#4878b6" stroke="#4878b6" stroke-width="0.4"/>
<path d="M236.16,409.50 L233.97,409.50 A21.93,21.93 0 0 0 234.72,415.18 L236.84,414.61 A19.74,19.74 0 0 1 236.16,409.50Z" fill="#416aaf" stroke="#416aaf" stroke-width="0.4"/>
<path d="M236.84,414.61 L234.72,415.18 A21.93,21.93 0 0 0 236.91,420.46 L238.81,419.37 A19.74,19.74 0 0 1 236.84,414.61Z" fill="#3e60aa" stroke="#3e60aa" stroke-width="0.4"/>
<path d="M238.81,419.37 L236.91,420.46 A21.93,21.93 0 0 0 240.39,425.01 L241.94,423.46 A19.74,19.74 0 0 1 238.81,419.37Z" fill="#3e5ea8" stroke="#3e5ea8" stroke-width="0.4"/>
<path d="M241.94,423.46 L240.39,425.01 A21.93,21.93 0 0 0 244.94,428.49 L246.03,426.59 A19.74,19.74 0 0 1 241.94,423.46Z" fill="#3e5ea8" stroke="#3e5ea8" stroke-width="0.4"/>
<path d="M246.03,426.59 L244.94,428.49 A21.93,21.93 0 0 0 250.22,430.68 L250.79,428.56 A19.74,19.74 0 0 1 246.03,426.59Z" fill="#3e5ea8" stroke="#3e5ea8" stroke-width="0.4"/>
<path d="M250.79,428.56 L250.22,430.68 A21.93,21.93 0 0 0 255.90,431.43 L255.90,429.24 A19.74,19.74 0 0 1 250.79,428.56Z" fill="#3e60aa" stroke="#3e60aa" stroke-width="0.4"/>
<path d="M255.90,429.24 L255.90,431.43 A21.93,21.93 0 0 0 261.58,430.68 L261.01,428.56 A19.74,19.74 0 0 1 255.90,429.24Z" fill="#3f62ab" stroke="#3f62ab" stroke-width="0.4"/>
<path d="M261.01,428.56 L261.58,430.68 A21.93,21.93 0 0 0 266.86,428.49 L265.77,426.59 A19.74,19.74 0 0 1 261.01,428.56Z" fill="#3e60aa" stroke="#3e60aa" stroke-width="0.4"/>
<path d="M265.77,426.59 L266.86,428.49 A21.93,21.93 0 0 0 271.41,425.01 L269.86,423.46 A19.74,19.74 0 0 1 265.77,426.59Z" fill="#3e60aa" stroke="#3e60aa" stroke-width="0.4"/>
<path d="M269.86,423.46 L271.41,425.01 A21.93,21.93 0 0 0 274.89,420.46 L272.99,419.37 A19.74,19.74 0 0 1 269.86,423.46Z" fill="#3e5ea8" stroke="#3e5ea8" stroke-width="0.4"/>
<path d="M272.99,419.37 L274.89,420.46 A21.93,21.93 0 0 0 277.08,415.18 L274.96,414.61 A19.74,19.74 0 0 1 272.99,419.37Z" fill="#3e5ea8" stroke="#3e5ea8" stroke-width="0.4"/>
<path d="M274.96,414.61 L277.08,415.18 A21.93,21.93 0 0 0 277.83,409.50 L275.64,409.50 A19.74,19.74 0 0 1 274.96,414.61Z" fill="#3e60aa" stroke="#3e60aa" stroke-width="0.4"/>
<path d="M277.83,409.50 L280.02,409.50 A24.12,24.12 0 0 0 279.20,403.26 L277.08,403.82 A21.93,21.93 0 0 1 277.83,409.50Z" fill="#3e5ea8" stroke="#3e5ea8" stroke-width="0.4"/>
<path d="M277.08,403.82 L279.20,403.26 A24.12,24.12 0 0 0 276.79,397.44 L274.89,398.54 A21.93,21.93 0 0 1 277.08,403.82Z" fill="#3e60aa" stroke="#3e60aa" stroke-width="0.4"/>
<path d="M274.89,398.54 L276.79,397.44 A24.12,24.12 0 0 0 272.96,392.44 L271.41,393.99 A21.93,21.93 0 0 1 274.89,398.54Z" fill="#4167ad" stroke="#4167ad" stroke-width="0.4"/>
<path d="M271.41,393.99 L272.96,392.44 A24.12,24.12 0 0 0 267.96,388.61 L266.86,390.51 A21.93,21.93 0 0 1 271.41,393.99Z" fill="#416aaf" stroke="#416aaf" stroke-width="0.4"/>
<path d="M266.86,390.51 L267.96,388.61 A24.12,24.12 0 0 0 262.14,386.20 L261.58,388.32 A21.93,21.93 0 0 1 266.86,390.51Z" fill="#4065ac" stroke="#4065ac" stroke-width="0.4"/>
<path d="M261.58,388.32 L262.14,386.20 A24.12,24.12 0 0 0 255.90,385.38 L255.90,387.57 A21.93,21.93 0 0 1 261.58,388.32Z" fill="#3e60aa" stroke="#3e60aa" stroke-width="0.4"/>
<path d="M255.90,387.57 L255.90,385.38 A24.12,24.12 0 0 0 249.66,386.20 L250.22,388.32 A21.93,21.93 0 0 1 255.90,387.57Z" fill="#3e60aa" stroke="#3e60aa" stroke-width="0.4"/>
<path d="M250.22,388.32 L249.66,386.20 A24.12,24.12 0 0 0 243.84,388.61 L244.94,390.51 A21.93,21.93 0 0 1 250.22,388.32Z" fill="#3e60aa" stroke="#3e60aa" stroke-width="0.4"/>
<path d="M244.94,390.51 L243.84,388.61 A24.12,24.12 0 0 0 238.84,392.44 L240.39,393.99 A21.93,21.93 0 0 1 244.94,390.51Z" fill="#3e60aa" stroke="#3e60aa" stroke-width="0.4"/>
<path d="M240.39,393.99 L238.84,392.44 A24.12,24.12 0 0 0 235.01,397.44 L236.91,398.54 A21.93,21.93 0 0 1 240.39,393.99Z" fill="#4167ad" stroke="#4167ad" stroke-width="0.4"/>
<path d="M236.91,398.54 L235.01,397.44 A24.12,24.12 0 0 0 232.60,403.26 L234.72,403.82 A21.93,21.93 0 0 1 236.91,398.54Z" fill="#416aaf" stroke="#416aaf" stroke-width="0.4"/>
<path d="M234.72,403.82 L232.60,403.26 A24.12,24.12 0 0 0 231.78,409.50 L233.97,409.50 A21.93,21.93 0 0 1 234.72,403.82Z" fill="#3f62ab" stroke="#3f62ab" stroke-width="0.4"/>
<path d="M233.97,409.50 L231.78,409.50 A24.12,24.12 0 0 0 232.60,415.74 L234.72,415.18 A21.93,21.93 0 0 1 233.97,409.50Z" fill="#3e5ea8" stroke="#3e5ea8" stroke-width="0.4"/>
<path d="M234.72,415.18 L232.60,415.74 A24.12,24.12 0 0 0 235.01,421.56 L236.91,420.46 A21.93,21.93 0 0 1 234.72,415.18Z" fill="#3d5ba7" stroke="#3d5ba7" stroke-width="0.4"/>
<path d="M236.91,420.46 L235.01,421.56 A24.12,24.12 0 0 0 238.84,426.56 L240.39,425.01 A21.93,21.93 0 0 1 236.91,420.46Z" fill="#3c59a6" stroke="#3c59a6" stroke-width="0.4"/>
<path d="M240.39,425.01 L238.84,426.56 A24.12,24.12 0 0 0 243.84,430.39 L244.94,428.49 A21.93,21.93 0 0 1 240.39,425.01Z" fill="#3c59a6" stroke="#3c59a6" stroke-width="0.4"/>
<path d="M244.94,428.49 L243.84,430.39 A24.12,24.12 0 0 0 249.66,432.80 L250.22,430.68 A21.93,21.93 0 0 1 244.94,428.49Z" fill="#3d5ba7" stroke="#3d5ba7" stroke-width="0.4"/>
<path d="M250.22,430.68 L249.66,432.80 A24.12,24.12 0 0 0 255.90,433.62 L255.90,431.43 A21.93,21.93 0 0 1 250.22,430.68Z" fill="#3d5ba7" stroke="#3d5ba7" stroke-width="0.4"/>
<path d="M255.90,431.43 L255.90,433.62 A24.12,24.12 0 0 0 262.14,432.80 L261.58,430.68 A21.93,21.93 0 0 1 255.90,431.43Z" fill="#3e5ea8" stroke="#3e5ea8" stroke-width="0.4"/>
<path d="M261.58,430.68 L262.14,432.80 A24.12,24.12 0 0 0 267.96,430.39 L266.86,428.49 A21.93,21.93 0 0 1 261.58,430.68Z" fill="#3e5ea8" stroke="#3e5ea8" stroke-width="0.4"/>
<path d="M266.86,428.49 L267.96,430.39 A24.12,24.12 0 0 0 272.96,426.56 L271.41,425.01 A21.93,21.93 0 0 1 266.86,428.49Z" fill="#3d5ba7" stroke="#3d5ba7" stroke-width="0.4"/>
<path d="M271.41,425.01 L272.96,426.56 A24.12,24.12 0 0 0 276.79,421.56 L274.89,420.46 A21.93,21.93 0 0 1 271.41,425.01Z" fill="#3c59a6" stroke="#3c59a6" stroke-width="0.4"/>
<path d="M274.89,420.46 L276.79,421.56 A24.12,24.12 0 0 0 279.20,415.74 L277.08,415.18 A21.93,21.93 0 0 1 274.89,420.46Z" fill="#3c59a6" stroke="#3c59a6" stroke-width="0.4"/>
<path d="M277.08,415.18 L279.20,415.74 A24.12,24.12 0 0 0 280.02,409.50 L277.83,409.50 A21.93,21.93 0 0 1 277.08,415.18Z" fill="#3d5ba7" stroke="#3d5ba7" stroke-width="0.4"/>
<path d="M280.02,409.50 L282.21,409.50 A26.31,26.31 0 0 0 281.32,402.69 L279.20,403.26 A24.12,24.12 0 0 1 280.02,409.50Z" fill="#3c59a6" stroke="#3c59a6" stroke-width="0.4"/>
<path d="M279.20,403.26 L281.32,402.69 A26.31,26.31 0 0 0 278.69,396.34 L276.79,397.44 A24.12,24.12 0 0 1 279.20,403.26Z" fill="#3d5ba7" stroke="#3d5ba7" stroke-width="0.4"/>
<path d="M276.79,397.44 L278.69,396.34 A26.31,26.31 0 0 0 274.51,390.89 L272.96,392.44 A24.12,24.12 0 0 1 276.79,397.44Z" fill="#3e5ea8" stroke="#3e5ea8" stroke-width="0.4"/>
<path d="M272.96,392.44 L274.51,390.89 A26.31,26.31 0 0 0 269.06,386.71 L267.96,388.61 A24.12,24.12 0 0 1 272.96,392.44Z" fill="#3e5ea8" stroke="#3e5ea8" stroke-width="0.4"/>
<path d="M267.96,388.61 L269.06,386.71 A26.31,26.31 0 0 0 262.71,384.08 L262.14,386.20 A24.12,24.12 0 0 1 267.96,388.61Z" fill="#3e5ea8" stroke="#3e5ea8" stroke-width="0.4"/>
<path d="M262.14,386.20 L262.71,384.08 A26.31,26.31 0 0 0 255.90,383.19 L255.90,385.38 A24.12,24.12 0 0 1 262.14,386.20Z" fill="#3d5ba7" stroke="#3d5ba7" stroke-width="0.4"/>
<path d="M255.90,385.38 L255.90,383.19 A26.31,26.31 0 0 0 249.09,384.08 L249.66,386.20 A24.12,24.12 0 0 1 255.90,385.38Z" fill="#3d5ba7" stroke="#3d5ba7" stroke-width="0.4"/>
<path d="M249.66,386.20 L249.09,384.08 A26.31,26.31 0 0 0 242.74,386.71 L243.84,388.61 A24.12,24.12 0 0 1 249.66,386.20Z" fill="#3d5ba7" stroke="#3d5ba7" stroke-width="0.4"/>
<path d="M243.84,388.61 L242.74,386.71 A26.31,26.31 0 0 0 237.29,390.89 L238.84,392.44 A24.12,24.12 0 0 1 243.84,388.61Z" fill="#3d5ba7" stroke="#3d5ba7" stroke-width="0.4"/>
<path d="M238.84,392.44 L237.29,390.89 A26.31,26.31 0 0 0 233.11,396.34 L235.01,397.44 A24.12,24.12 0 0 1 238.84,392.44Z" fill="#3e5ea8" stroke="#3e5ea8" stroke-width="0.4"/>
<path d="M235.01,397.44 L233.11,396.34 A26.31,26.31 0 0 0 230.48,402.69 L232.60,403.26 A24.12,24.12 0 0 1 235.01,397.44Z" fill="#3e5ea8" stroke="#3e5ea8" stroke-width="0.4"/>
<path d="M232.60,403.26 L230.48,402.69 A26.31,26.31 0 0 0 229.59,409.50 L231.78,409.50 A24.12,24.12 0 0 1 232.60,403.26Z" fill="#3e5ea8" stroke="#3e5ea8" stroke-width="0.4"/>
<path d="M231.78,409.50 L229.59,409.50 A26.31,26.31 0 0 0 230.48,416.31 L232.60,415.74 A24.12,24.12 0 0 1 231.78,409.50Z" fill="#3d5ba7" stroke="#3d5ba7" stroke-width="0.4"/>
<path d="M232.60,415.74 L230.48,416.31 A26.31,26.31 0 0 0 233.11,422.66 L235.01,421.56 A24.12,24.12 0 0 1 232.60,415.74Z" fill="#3b56a5" stroke="#3b56a5" stroke-width="0.4"/>
<path d="M235.01,421.56 L233.11,422.66 A26.31,26.31 0 0 0 237.29,428.11 L238.84,426.56 A24.12,24.12 0 0 1 235.01,421.56Z" fill="#3a54a4" stroke="#3a54a4" stroke-width="0.4"/>
<path d="M238.84,426.56 L237.29,428.11 A26.31,26.31 0 0 0 242.74,432.29 L243.84,430.39 A24.12,24.12 0 0 1 238.84,426.56Z" fill="#3a54a4" stroke="#3a54a4" stroke-width="0.4"/>
<path d="M243.84,430.39 L242.74,432.29 A26.31,26.31 0 0 0 249.09,434.92 L249.66,432.80 A24.12,24.12 0 0 1 243.84,430.39Z" fill="#3b56a5" stroke="#3b56a5" stroke-width="0.4"/>
<path d="M249.66,432.80 L249.09,434.92 A26.31,26.31 0 0 0 255.90,435.81 L255.90,433.62 A24.12,24.12 0 0 1 249.66,432.80Z" fill="#3c59a6" stroke="#3c59a6" stroke-width="0.4"/>
<path d="M255.90,433.62 L255.90,435.81 A26.31,26.31 0 0 0 262.71,434.92 L262.14,432.80 A24.12,24.12 0 0 1 255.90,433.62Z" fill="#3c59a6" stroke="#3c59a6" stroke-width="0.4"/>
<path d="M262.14,432.80 L262.71,434.92 A26.31,26.31 0 0 0 269.06,432.29 L267.96,430.39 A24.12,24.12 0 0 1 262.14,432.80Z" fill="#3c59a6" stroke="#3c59a6" stroke-width="0.4"/>
<path d="M267.96,430.39 L269.06,432.29 A26.31,26.31 0 0 0 274.51,428.11 L272.96,426.56 A24.12,24.12 0 0 1 267.96,430.39Z" fill="#3b56a5" stroke="#3b56a5" stroke-width="0.4"/>
<path d="M272.96,426.56 L274.51,428.11 A26.31,26.31 0 0 0 278.69,422.66 L276.79,421.56 A24.12,24.12 0 0 1 272.96,426.56Z" fill="#3a54a4" stroke="#3a54a4" stroke-width="0.4"/>
<path d="M276.79,421.56 L278.69,422.66 A26.31,26.31 0 0 0 281.32,416.31 L279.20,415.74 A24.12,24.12 0 0 1 276.79,421.56Z" fill="#3a54a4" stroke="#3a54a4" stroke-width="0.4"/>
<path d="M279.20,415.74 L281.32,416.31 A26.31,26.31 0 0 0 282.21,409.50 L280.02,409.50 A24.12,24.12 0 0 1 279.20,415.74Z" fill="#3b56a5" stroke="#3b56a5" stroke-width="0.4"/>
<path d="M282.21,409.50 L284.41,409.50 A28.51,28.51 0 0 0 283.44,402.12 L281.32,402.69 A26.31,26.31 0 0 1 282.21,409.50Z" fill="#3a54a4" stroke="#3a54a4" stroke-width="0.4"/>
<path d="M281.32,402.69 L283.44,402.12 A28.51,28.51 0 0 0 280.59,395.25 L278.69,396.34 A26.31,26.31 0 0 1 281.32,402.69Z" fill="#3c59a6" stroke="#3c59a6" stroke-width="0.4"/>
<path d="M278.69,396.34 L280.59,395.25 A28.51,28.51 0 0 0 276.06,389.34 L274.51,390.89 A26.31,26.31 0 0 1 278.69,396.34Z" fill="#3c59a6" stroke="#3c59a6" stroke-width="0.4"/>
<path d="M274.51,390.89 L276.06,389.34 A28.51,28.51 0 0 0 270.15,384.81 L269.06,386.71 A26.31,26.31 0 0 1 274.51,390.89Z" fill="#3d5ba7" stroke="#3d5ba7" stroke-width="0.4"/>
<path d="M269.06,386.71 L270.15,384.81 A28.51,28.51 0 0 0 263.28,381.96 L262.71,384.08 A26.31,26.31 0 0 1 269.06,386.71Z" fill="#3c59a6" stroke="#3c59a6" stroke-width="0.4"/>
<path d="M262.71,384.08 L263.28,381.96 A28.51,28.51 0 0 0 255.90,380.99 L255.90,383.19 A26.31,26.31 0 0 1 262.71,384.08Z" fill="#3b56a5" stroke="#3b56a5" stroke-width="0.4"/>
<path d="M255.90,383.19 L255.90,380.99 A28.51,28.51 0 0 0 248.52,381.96 L249.09,384.08 A26.31,26.31 0 0 1 255.90,383.19Z" fill="#3b56a5" stroke="#3b56a5" stroke-width="0.4"/>
<path d="M249.09,384.08 L248.52,381.96 A28.51,28.51 0 0 0 241.65,384.81 L242.74,386.71 A26.31,26.31 0 0 1 249.09,384.08Z" fill="#3b56a5" stroke="#3b56a5" stroke-width="0.4"/>
<path d="M242.74,386.71 L241.65,384.81 A28.51,28.51 0 0 0 235.74,389.34 L237.29,390.89 A26.31,26.31 0 0 1 242.74,386.71Z" fill="#3c59a6" stroke="#3c59a6" stroke-width="0.4"/>
<path d="M237.29,390.89 L235.74,389.34 A28.51,28.51 0 0 0 231.21,395.25 L233.11,396.34 A26.31,26.31 0 0 1 237.29,390.89Z" fill="#3c59a6" stroke="#3c59a6" stroke-width="0.4"/>
<path d="M233.11,396.34 L231.21,395.25 A28.51,28.51 0 0 0 228.36,402.12 L230.48,402.69 A26.31,26.31 0 0 1 233.11,396.34Z" fill="#3d5ba7" stroke="#3d5ba7" stroke-width="0.4"/>
<path d="M230.48,402.69 L228.36,402.12 A28.51,28.51 0 0 0 227.39,409.50 L229.59,409.50 A26.31,26.31 0 0 1 230.48,402.69Z" fill="#3c59a6" stroke="#3c59a6" stroke-width="0.4"/>
<path d="M229.59,409.50 L227.39,409.50 A28.51,28.51 0 0 0 228.36,416.88 L230.48,416.31 A26.31,26.31 0 0 1 229.59,409.50Z" fill="#3b56a5" stroke="#3b56a5" stroke-width="0.4"/>
<path d="M230.48,416.31 L228.36,416.88 A28.51,28.51 0 0 0 231.21,423.75 L233.11,422.66 A26.31,26.31 0 0 1 230.48,416.31Z" fill="#3a51a2" stroke="#3a51a2" stroke-width="0.4"/>
<path d="M233.11,422.66 L231.21,423.75 A28.51,28.51 0 0 0 235.74,429.66 L237.29,428.11 A26.31,26.31 0 0 1 233.11,422.66Z" fill="#394fa1" stroke="#394fa1" stroke-width="0.4"/>
<path d="M237.29,428.11 L235.74,429.66 A28.51,28.51 0 0 0 241.65,434.19 L242.74,432.29 A26.31,26.31 0 0 1 237.29,428.11Z" fill="#394fa1" stroke="#394fa1" stroke-width="0.4"/>
<path d="M242.74,432.29 L241.65,434.19 A28.51,28.51 0 0 0 248.52,437.04 L249.09,434.92 A26.31,26.31 0 0 1 242.74,432.29Z" fill="#3a51a2" stroke="#3a51a2" stroke-width="0.4"/>
<path d="M249.09,434.92 L248.52,437.04 A28.51,28.51 0 0 0 255.90,438.01 L255.90,435.81 A26.31,26.31 0 0 1 249.09,434.92Z" fill="#3a54a4" stroke="#3a54a4" stroke-width="0.4"/>
<path d="M255.90,435.81 L255.90,438.01 A28.51,28.51 0 0 0 263.28,437.04 L262.71,434.92 A26.31,26.31 0 0 1 255.90,435.81Z" fill="#3a54a4" stroke="#3a54a4" stroke-width="0.4"/>
<path d="M262.71,434.92 L263.28,437.04 A28.51,28.51 0 0 0 270.15,434.19 L269.06,432.29 A26.31,26.31 0 0 1 262.71,434.92Z" fill="#3a54a4" stroke="#3a54a4" stroke-width="0.4"/>
<path d="M269.06,432.29 L270.15,434.19 A28.51,28.51 0 0 0 276.06,429.66 L274.51,428.11 A26.31,26.31 0 0 1 269.06,432.29Z" fill="#3a51a2" stroke="#3a51a2" stroke-width="0.4"/>
<path d="M274.51,428.11 L276.06,429.66 A28.51,28.51 0 0 0 280.59,423.75 L278.69,422.66 A26.31,26.31 0 0 1 274.51,428.11Z" fill="#394fa1" stroke="#394fa1" stroke-width="0.4"/>
<path d="M278.69,422.66 L280.59,423.75 A28.51,28.51 0 0 0 283.44,416.88 L281.32,416.31 A26.31,26.31 0 0 1 278.69,422.66Z" fill="#394fa1" stroke="#394fa1" stroke-width="0.4"/>
<path d="M281.32,416.31 L283.44,416.88 A28.51,28.51 0 0 0 284.41,409.50 L282.21,409.50 A26.31,26.31 0 0 1 281.32,416.31Z" fill="#3a51a2" stroke="#3a51a2" stroke-width="0.4"/>
<path d="M284.41,409.50 L286.60,409.50 A30.70,30.70 0 0 0 285.55,401.55 L283.44,402.12 A28.51,28.51 0 0 1 284.41,409.50Z" fill="#394fa1" stroke="#394fa1" stroke-width="0.4"/>
<path d="M283.44,402.12 L285.55,401.55 A30.70,30.70 0 0 0 282.49,394.15 L280.59,395.25 A28.51,28.51 0 0 1 283.44,402.12Z" fill="#3a54a4" stroke="#3a54a4" stroke-width="0.4"/>
<path d="M280.59,395.25 L282.49,394.15 A30.70,30.70 0 0 0 277.61,387.79 L276.06,389.34 A28.51,28.51 0 0 1 280.59,395.25Z" fill="#3b56a5" stroke="#3b56a5" stroke-width="0.4"/>
<path d="M276.06,389.34 L277.61,387.79 A30.70,30.70 0 0 0 271.25,382.91 L270.15,384.81 A28.51,28.51 0 0 1 276.06,389.34Z" fill="#3b56a5" stroke="#3b56a5" stroke-width="0.4"/>
<path d="M270.15,384.81 L271.25,382.91 A30.70,30.70 0 0 0 263.85,379.85 L263.28,381.96 A28.51,28.51 0 0 1 270.15,384.81Z" fill="#3a54a4" stroke="#3a54a4" stroke-width="0.4"/>
<path d="M263.28,381.96 L263.85,379.85 A30.70,30.70 0 0 0 255.90,378.80 L255.90,380.99 A28.51,28.51 0 0 1 263.28,381.96Z" fill="#3a51a2" stroke="#3a51a2" stroke-width="0.4"/>
<path d="M255.90,380.99 L255.90,378.80 A30.70,30.70 0 0 0 247.95,379.85 L248.52,381.96 A28.51,28.51 0 0 1 255.90,380.99Z" fill="#3a51a2" stroke="#3a51a2" stroke-width="0.4"/>
<path d="M248.52,381.96 L247.95,379.85 A30.70,30.70 0 0 0 240.55,382.91 L241.65,384.81 A28.51,28.51 0 0 1 248.52,381.96Z" fill="#3a51a2" stroke="#3a51a2" stroke-width="0.4"/>
<path d="M241.65,384.81 L240.55,382.91 A30.70,30.70 0 0 0 234.19,387.79 L235.74,389.34 A28.51,28.51 0 0 1 241.65,384.81Z" fill="#3a54a4" stroke="#3a54a4" stroke-width="0.4"/>
<path d="M235.74,389.34 L234.19,387.79 A30.70,30.70 0 0 0 229.31,394.15 L231.21,395.25 A28.51,28.51 0 0 1 235.74,389.34Z" fill="#3b56a5" stroke="#3b56a5" stroke-width="0.4"/>
<path d="M231.21,395.25 L229.31,394.15 A30.70,30.70 0 0 0 226.25,401.55 L228.36,402.12 A28.51,28.51 0 0 1 231.21,395.25Z" fill="#3b56a5" stroke="#3b56a5" stroke-width="0.4"/>
<path d="M228.36,402.12 L226.25,401.55 A30.70,30.70 0 0 0 225.20,409.50 L227.39,409.50 A28.51,28.51 0 0 1 228.36,402.12Z" fill="#3a54a4" stroke="#3a54a4" stroke-width="0.4"/>
<path d="M227.39,409.50 L225.20,409.50 A30.70,30.70 0 0 0 226.25,417.45 L228.36,416.88 A28.51,28.51 0 0 1 227.39,409.50Z" fill="#3a51a2" stroke="#3a51a2" stroke-width="0.4"/>
<path d="M228.36,416.88 L226.25,417.45 A30.70,30.70 0 0 0 229.31,424.85 L231.21,423.75 A28.51,28.51 0 0 1 228.36,416.88Z" fill="#394fa1" stroke="#394fa1" stroke-width="0.4"/>
<path d="M231.21,423.75 L229.31,424.85 A30.70,30.70 0 0 0 234.19,431.21 L235.74,429.66 A28.51,28.51 0 0 1 231.21,423.75Z" fill="#394fa1" stroke="#394fa1" stroke-width="0.4"/>
<path d="M235.74,429.66 L234.19,431.21 A30.70,30.70 0 0 0 240.55,436.09 L241.65,434.19 A28.51,28.51 0 0 1 235.74,429.66Z" fill="#394fa1" stroke="#394fa1" stroke-width="0.4"/>
<path d="M241.65,434.19 L240.55,436.09 A30.70,30.70 0 0 0 247.95,439.15 L248.52,437.04 A28.51,28.51 0 0 1 241.65,434.19Z" fill="#394fa1" stroke="#394fa1" stroke-width="0.4"/>
<path d="M248.52,437.04 L247.95,439.15 A30.70,30.70 0 0 0 255.90,440.20 L255.90,438.01 A28.51,28.51 0 0 1 248.52,437.04Z" fill="#394fa1" stroke="#394fa1" stroke-width="0.4"/>
<path d="M255.90,438.01 L255.90,440.20 A30.70,30.70 0 0 0 263.85,439.15 L263.28,437.04 A28.51,28.51 0 0 1 255.90,438.01Z" fill="#3a51a2" stroke="#3a51a2" stroke-width="0.4"/>
<path d="M263.28,437.04 L263.85,439.15 A30.70,30.70 0 0 0 271.25,436.09 L270.15,434.19 A28.51,28.51 0 0 1 263.28,437.04Z" fill="#394fa1" stroke="#394fa1" stroke-width="0.4"/>
<path d="M270.15,434.19 L271.25,436.09 A30.70,30.70 0 0 0 277.61,431.21 L276.06,429.66 A28.51,28.51 0 0 1 270.15,434.19Z" fill="#394fa1" stroke="#394fa1" stroke-width="0.4"/>
<path d="M276.06,429.66 L277.61,431.21 A30.70,30.70 0 0 0 282.49,424.85 L280.59,423.75 A28.51,28.51 0 0 1 276.06,429.66Z" fill="#394fa1" stroke="#394fa1" stroke-width="0.4"/>
<path d="M280.59,423.75 L282.49,424.85 A30.70,30.70 0 0 0 285.55,417.45 L283.44,416.88 A28.51,28.51 0 0 1 280.59,423.75Z" fill="#394fa1" stroke="#394fa1" stroke-width="0.4"/>
<path d="M283.44,416.88 L285.55,417.45 A30.70,30.70 0 0 0 286.60,409.50 L284.41,409.50 A28.51,28.51 0 0 1 283.44,416.88Z" fill="#394fa1" stroke="#394fa1" stroke-width="0.4"/>
<path d="M320,409.4 L322.19,409.40 A2.19,2.19 0 0 0 322.12,408.83Z" fill="#426cb0" stroke="#426cb0" stroke-width="0.4"/>
<path d="M320,409.4 L322.12,408.83 A2.19,2.19 0 0 0 321.90,408.30Z" fill="#4574b3" stroke="#4574b3" stroke-width="0.4"/>
<path d="M320,409.4 L321.90,408.30 A2.19,2.19 0 0 0 321.55,407.85Z" fill="#4a7ab7" stroke="#4a7ab7" stroke-width="0.4"/>
<path d="M320,409.4 L321.55,407.85 A2.19,2.19 0 0 0 321.10,407.50Z" fill="#4f81ba" stroke="#4f81ba" stroke-width="0.4"/>
<path d="M320,409.4 L321.10,407.50 A2.19,2.19 0 0 0 320.57,407.28Z" fill="#5588be" stroke="#5588be" stroke-width="0.4"/>
<path d="M320,409.4 L320.57,407.28 A2.19,2.19 0 0 0 320.00,407.21Z" fill="#578abf" stroke="#578abf" stroke-width="0.4"/>
<path d="M320,409.4 L320.00,407.21 A2.19,2.19 0 0 0 319.43,407.28Z" fill="#578abf" stroke="#578abf" stroke-width="0.4"/>
<path d="M320,409.4 L319.43,407.28 A2.19,2.19 0 0 0 318.90,407.50Z" fill="#5588be" stroke="#5588be" stroke-width="0.4"/>
<path d="M320,409.4 L318.90,407.50 A2.19,2.19 0 0 0 318.45,407.85Z" fill="#4f81ba" stroke="#4f81ba" stroke-width="0.4"/>
<path d="M320,409.4 L318.45,407.85 A2.19,2.19 0 0 0 318.10,408.30Z" fill="#4a7ab7" stroke="#4a7ab7" stroke-width="0.4"/>
<path d="M320,409.4 L318.10,408.30 A2.19,2.19 0 0 0 317.88,408.83Z" fill="#4574b3" stroke="#4574b3" stroke-width="0.4"/>
<path d="M320,409.4 L317.88,408.83 A2.19,2.19 0 0 0 317.81,409.40Z" fill="#426cb0" stroke="#426cb0" stroke-width="0.4"/>
<path d="M320,409.4 L317.81,409.40 A2.19,2.19 0 0 0 317.88,409.97Z" fill="#4167ad" stroke="#4167ad" stroke-width="0.4"/>
<path d="M320,409.4 L317.88,409.97 A2.19,2.19 0 0 0 318.10,410.50Z" fill="#4065ac" stroke="#4065ac" stroke-width="0.4"/>
<path d="M320,409.4 L318.10,410.50 A2.19,2.19 0 0 0 318.45,410.95Z" fill="#3f62ab" stroke="#3f62ab" stroke-width="0.4"/>
<path d="M320,409.4 L318.45,410.95 A2.19,2.19 0 0 0 318.90,411.30Z" fill="#3f62ab" stroke="#3f62ab" stroke-width="0.4"/>
<path d="M320,409.4 L318.90,411.30 A2.19,2.19 0 0 0 319.43,411.52Z" fill="#3f62ab" stroke="#3f62ab" stroke-width="0.4"/>
<path d="M320,409.4 L319.43,411.52 A2.19,2.19 0 0 0 320.00,411.59Z" fill="#3e60aa" stroke="#3e60aa" stroke-width="0.4"/>
<path d="M320,409.4 L320.00,411.59 A2.19,2.19 0 0 0 320.57,411.52Z" fill="#3e60aa" stroke="#3e60aa" stroke-width="0.4"/>
<path d="M320,409.4 L320.57,411.52 A2.19,2.19 0 0 0 321.10,411.30Z" fill="#3f62ab" stroke="#3f62ab" stroke-width="0.4"/>
<path d="M320,409.4 L321.10,411.30 A2.19,2.19 0 0 0 321.55,410.95Z" fill="#3f62ab" stroke="#3f62ab" stroke-width="0.4"/>
<path d="M320,409.4 L321.55,410.95 A2.19,2.19 0 0 0 321.90,410.50Z" fill="#3f62ab" stroke="#3f62ab" stroke-width="0.4"/>
<path d="M320,409.4 L321.90,410.50 A2.19,2.19 0 0 0 322.12,409.97Z" fill="#4065ac" stroke="#4065ac" stroke-width="0.4"/>
<path d="M320,409.4 L322.12,409.97 A2.19,2.19 0 0 0 322.19,409.40Z" fill="#4167ad" stroke="#4167ad" stroke-width="0.4"/>
<path d="M322.19,409.40 L324.39,409.40 A4.39,4.39 0 0 0 324.24,408.26 L322.12,408.83 A2.19,2.19 0 0 1 322.19,409.40Z" fill="#4574b3" stroke="#4574b3" stroke-width="0.4"/>
<path d="M322.12,408.83 L324.24,408.26 A4.39,4.39 0 0 0 323.80,407.21 L321.90,408.30 A2.19,2.19 0 0 1 322.12,408.83Z" fill="#4b7db8" stroke="#4b7db8" stroke-width="0.4"/>
<path d="M321.90,408.30 L323.80,407.21 A4.39,4.39 0 0 0 323.10,406.30 L321.55,407.85 A2.19,2.19 0 0 1 321.90,408.30Z" fill="#5588be" stroke="#5588be" stroke-width="0.4"/>
<path d="M321.55,407.85 L323.10,406.30 A4.39,4.39 0 0 0 322.19,405.60 L321.10,407.50 A2.19,2.19 0 0 1 321.55,407.85Z" fill="#6095c4" stroke="#6095c4" stroke-width="0.4"/>
<path d="M321.10,407.50 L322.19,405.60 A4.39,4.39 0 0 0 321.14,405.16 L320.57,407.28 A2.19,2.19 0 0 1 321.10,407.50Z" fill="#69a0ca" stroke="#69a0ca" stroke-width="0.4"/>
<path d="M320.57,407.28 L321.14,405.16 A4.39,4.39 0 0 0 320.00,405.01 L320.00,407.21 A2.19,2.19 0 0 1 320.57,407.28Z" fill="#6da4cc" stroke="#6da4cc" stroke-width="0.4"/>
<path d="M320.00,407.21 L320.00,405.01 A4.39,4.39 0 0 0 318.86,405.16 L319.43,407.28 A2.19,2.19 0 0 1 320.00,407.21Z" fill="#6da4cc" stroke="#6da4cc" stroke-width="0.4"/>
<path d="M319.43,407.28 L318.86,405.16 A4.39,4.39 0 0 0 317.81,405.60 L318.90,407.50 A2.19,2.19 0 0 1 319.43,407.28Z" fill="#69a0ca" stroke="#69a0ca" stroke-width="0.4"/>
<path d="M318.90,407.50 L317.81,405.60 A4.39,4.39 0 0 0 316.90,406.30 L318.45,407.85 A2.19,2.19 0 0 1 318.90,407.50Z" fill="#6095c4" stroke="#6095c4" stroke-width="0.4"/>
<path d="M318.45,407.85 L316.90,406.30 A4.39,4.39 0 0 0 316.20,407.21 L318.10,408.30 A2.19,2.19 0 0 1 318.45,407.85Z" fill="#5588be" stroke="#5588be" stroke-width="0.4"/>
<path d="M318.10,408.30 L316.20,407.21 A4.39,4.39 0 0 0 315.76,408.26 L317.88,408.83 A2.19,2.19 0 0 1 318.10,408.30Z" fill="#4b7db8" stroke="#4b7db8" stroke-width="0.4"/>
<path d="M317.88,408.83 L315.76,408.26 A4.39,4.39 0 0 0 315.61,409.40 L317.81,409.40 A2.19,2.19 0 0 1 317.88,408.83Z" fill="#4574b3" stroke="#4574b3" stroke-width="0.4"/>
<path d="M317.81,409.40 L315.61,409.40 A4.39,4.39 0 0 0 315.76,410.54 L317.88,409.97 A2.19,2.19 0 0 1 317.81,409.40Z" fill="#426cb0" stroke="#426cb0" stroke-width="0.4"/>
<path d="M317.88,409.97 L315.76,410.54 A4.39,4.39 0 0 0 316.20,411.59 L318.10,410.50 A2.19,2.19 0 0 1 317.88,409.97Z" fill="#4167ad" stroke="#4167ad" stroke-width="0.4"/>
<path d="M318.10,410.50 L316.20,411.59 A4.39,4.39 0 0 0 316.90,412.50 L318.45,410.95 A2.19,2.19 0 0 1 318.10,410.50Z" fill="#4065ac" stroke="#4065ac" stroke-width="0.4"/>
<path d="M318.45,410.95 L316.90,412.50 A4.39,4.39 0 0 0 317.81,413.20 L318.90,411.30 A2.19,2.19 0 0 1 318.45,410.95Z" fill="#3f62ab" stroke="#3f62ab" stroke-width="0.4"/>
<path d="M318.90,411.30 L317.81,413.20 A4.39,4.39 0 0 0 318.86,413.64 L319.43,411.52 A2.19,2.19 0 0 1 318.90,411.30Z" fill="#3f62ab" stroke="#3f62ab" stroke-width="0.4"/>
<path d="M319.43,411.52 L318.86,413.64 A4.39,4.39 0 0 0 320.00,413.79 L320.00,411.59 A2.19,2.19 0 0 1 319.43,411.52Z" fill="#3f62ab" stroke="#3f62ab" stroke-width="0.4"/>
<path d="M320.00,411.59 L320.00,413.79 A4.39,4.39 0 0 0 321.14,413.64 L320.57,411.52 A2.19,2.19 0 0 1 320.00,411.59Z" fill="#3f62ab" stroke="#3f62ab" stroke-width="0.4"/>
<path d="M320.57,411.52 L321.14,413.64 A4.39,4.39 0 0 0 322.19,413.20 L321.10,411.30 A2.19,2.19 0 0 1 320.57,411.52Z" fill="#3f62ab" stroke="#3f62ab" stroke-width="0.4"/>
<path d="M321.10,411.30 L322.19,413.20 A4.39,4.39 0 0 0 323.10,412.50 L321.55,410.95 A2.19,2.19 0 0 1 321.10,411.30Z" fill="#3f62ab" stroke="#3f62ab" stroke-width="0.4"/>
<path d="M321.55,410.95 L323.10,412.50 A4.39,4.39 0 0 0 323.80,411.59 L321.90,410.50 A2.19,2.19 0 0 1 321.55,410.95Z" fill="#4065ac" stroke="#4065ac" stroke-width="0.4"/>
<path d="M321.90,410.50 L323.80,411.59 A4.39,4.39 0 0 0 324.24,410.54 L322.12,409.97 A2.19,2.19 0 0 1 321.90,410.50Z" fill="#4167ad" stroke="#4167ad" stroke-width="0.4"/>
<path d="M322.12,409.97 L324.24,410.54 A4.39,4.39 0 0 0 324.39,409.40 L322.19,409.40 A2.19,2.19 0 0 1 322.12,409.97Z" fill="#426cb0" stroke="#426cb0" stroke-width="0.4"/>
<path d="M324.39,409.40 L326.58,409.40 A6.58,6.58 0 0 0 326.35,407.70 L324.24,408.26 A4.39,4.39 0 0 1 324.39,409.40Z" fill="#4b7db8" stroke="#4b7db8" stroke-width="0.4"/>
<path d="M324.24,408.26 L326.35,407.70 A6.58,6.58 0 0 0 325.70,406.11 L323.80,407.21 A4.39,4.39 0 0 1 324.24,408.26Z" fill="#588cc0" stroke="#588cc0" stroke-width="0.4"/>
<path d="M323.80,407.21 L325.70,406.11 A6.58,6.58 0 0 0 324.65,404.75 L323.10,406.30 A4.39,4.39 0 0 1 323.80,407.21Z" fill="#679ec9" stroke="#679ec9" stroke-width="0.4"/>
<path d="M323.10,406.30 L324.65,404.75 A6.58,6.58 0 0 0 323.29,403.70 L322.19,405.60 A4.39,4.39 0 0 1 323.10,406.30Z" fill="#7ab2d4" stroke="#7ab2d4" stroke-width="0.4"/>
<path d="M322.19,405.60 L323.29,403.70 A6.58,6.58 0 0 0 321.70,403.05 L321.14,405.16 A4.39,4.39 0 0 1 322.19,405.60Z" fill="#8cc0db" stroke="#8cc0db" stroke-width="0.4"/>
<path d="M321.14,405.16 L321.70,403.05 A6.58,6.58 0 0 0 320.00,402.82 L320.00,405.01 A4.39,4.39 0 0 1 321.14,405.16Z" fill="#94c7df" stroke="#94c7df" stroke-width="0.4"/>
<path d="M320.00,405.01 L320.00,402.82 A6.58,6.58 0 0 0 318.30,403.05 L318.86,405.16 A4.39,4.39 0 0 1 320.00,405.01Z" fill="#94c7df" stroke="#94c7df" stroke-width="0.4"/>
<path d="M318.86,405.16 L318.30,403.05 A6.58,6.58 0 0 0 316.71,403.70 L317.81,405.60 A4.39,4.39 0 0 1 318.86,405.16Z" fill="#8cc0db" stroke="#8cc0db" stroke-width="0.4"/>
<path d="M317.81,405.60 L316.71,403.70 A6.58,6.58 0 0 0 315.35,404.75 L316.90,406.30 A4.39,4.39 0 0 1 317.81,405.60Z" fill="#7ab2d4" stroke="#7ab2d4" stroke-width="0.4"/>
<path d="M316.90,406.30 L315.35,404.75 A6.58,6.58 0 0 0 314.30,406.11 L316.20,407.21 A4.39,4.39 0 0 1 316.90,406.30Z" fill="#679ec9" stroke="#679ec9" stroke-width="0.4"/>
<path d="M316.20,407.21 L314.30,406.11 A6.58,6.58 0 0 0 313.65,407.70 L315.76,408.26 A4.39,4.39 0 0 1 316.20,407.21Z" fill="#588cc0" stroke="#588cc0" stroke-width="0.4"/>
<path d="M315.76,408.26 L313.65,407.70 A6.58,6.58 0 0 0 313.42,409.40 L315.61,409.40 A4.39,4.39 0 0 1 315.76,408.26Z" fill="#4b7db8" stroke="#4b7db8" stroke-width="0.4"/>
<path d="M315.61,409.40 L313.42,409.40 A6.58,6.58 0 0 0 313.65,411.10 L315.76,410.54 A4.39,4.39 0 0 1 315.61,409.40Z" fill="#4471b2" stroke="#4471b2" stroke-width="0.4"/>
<path d="M315.76,410.54 L313.65,411.10 A6.58,6.58 0 0 0 314.30,412.69 L316.20,411.59 A4.39,4.39 0 0 1 315.76,410.54Z" fill="#416aaf" stroke="#416aaf" stroke-width="0.4"/>
<path d="M316.20,411.59 L314.30,412.69 A6.58,6.58 0 0 0 315.35,414.05 L316.90,412.50 A4.39,4.39 0 0 1 316.20,411.59Z" fill="#4065ac" stroke="#4065ac" stroke-width="0.4"/>
<path d="M316.90,412.50 L315.35,414.05 A6.58,6.58 0 0 0 316.71,415.10 L317.81,413.20 A4.39,4.39 0 0 1 316.90,412.50Z" fill="#3f62ab" stroke="#3f62ab" stroke-width="0.4"/>
<path d="M317.81,413.20 L316.71,415.10 A6.58,6.58 0 0 0 318.30,415.75 L318.86,413.64 A4.39,4.39 0 0 1 317.81,413.20Z" fill="#3f62ab" stroke="#3f62ab" stroke-width="0.4"/>
<path d="M318.86,413.64 L318.30,415.75 A6.58,6.58 0 0 0 320.00,415.98 L320.00,413.79 A4.39,4.39 0 0 1 318.86,413.64Z" fill="#3f62ab" stroke="#3f62ab" stroke-width="0.4"/>
<path d="M320.00,413.79 L320.00,415.98 A6.58,6.58 0 0 0 321.70,415.75 L321.14,413.64 A4.39,4.39 0 0 1 320.00,413.79Z" fill="#3f62ab" stroke="#3f62ab" stroke-width="0.4"/>
<path d="M321.14,413.64 L321.70,415.75 A6.58,6.58 0 0 0 323.29,415.10 L322.19,413.20 A4.39,4.39 0 0 1 321.14,413.64Z" fill="#3f62ab" stroke="#3f62ab" stroke-width="0.4"/>
<path d="M322.19,413.20 L323.29,415.10 A6.58,6.58 0 0 0 324.65,414.05 L323.10,412.50 A4.39,4.39 0 0 1 322.19,413.20Z" fill="#3f62ab" stroke="#3f62ab" stroke-width="0.4"/>
<path d="M323.10,412.50 L324.65,414.05 A6.58,6.58 0 0 0 325.70,412.69 L323.80,411.59 A4.39,4.39 0 0 1 323.10,412.50Z" fill="#4065ac" stroke="#4065ac" stroke-width="0.4"/>
<path d="M323.80,411.59 L325.70,412.69 A6.58,6.58 0 0 0 326.35,411.10 L324.24,410.54 A4.39,4.39 0 0 1 323.80,411.59Z" fill="#416aaf" stroke="#416aaf" stroke-width="0.4"/>
<path d="M324.24,410.54 L326.35,411.10 A6.58,6.58 0 0 0 326.58,409.40 L324.39,409.40 A4.39,4.39 0 0 1 324.24,410.54Z" fill="#4471b2" stroke="#4471b2" stroke-width="0.4"/>
<path d="M326.58,409.40 L328.77,409.40 A8.77,8.77 0 0 0 328.47,407.13 L326.35,407.70 A6.58,6.58 0 0 1 326.58,409.40Z" fill="#5588be" stroke="#5588be" stroke-width="0.4"/>
<path d="M326.35,407.70 L328.47,407.13 A8.77,8.77 0 0 0 327.60,405.01 L325.70,406.11 A6.58,6.58 0 0 1 326.35,407.70Z" fill="#69a0ca" stroke="#69a0ca" stroke-width="0.4"/>
<path d="M325.70,406.11 L327.60,405.01 A8.77,8.77 0 0 0 326.20,403.20 L324.65,404.75 A6.58,6.58 0 0 1 325.70,406.11Z" fill="#85bbd9" stroke="#85bbd9" stroke-width="0.4"/>
<path d="M324.65,404.75 L326.20,403.20 A8.77,8.77 0 0 0 324.39,401.80 L323.29,403.70 A6.58,6.58 0 0 1 324.65,404.75Z" fill="#a6d5e7" stroke="#a6d5e7" stroke-width="0.4"/>
<path d="M323.29,403.70 L324.39,401.80 A8.77,8.77 0 0 0 322.27,400.93 L321.70,403.05 A6.58,6.58 0 0 1 323.29,403.70Z" fill="#c1e4ef" stroke="#c1e4ef" stroke-width="0.4"/>
<path d="M321.70,403.05 L322.27,400.93 A8.77,8.77 0 0 0 320.00,400.63 L320.00,402.82 A6.58,6.58 0 0 1 321.70,403.05Z" fill="#d1ecf4" stroke="#d1ecf4" stroke-width="0.4"/>
<path d="M320.00,402.82 L320.00,400.63 A8.77,8.77 0 0 0 317.73,400.93 L318.30,403.05 A6.58,6.58 0 0 1 320.00,402.82Z" fill="#d1ecf4" stroke="#d1ecf4" stroke-width="0.4"/>
<path d="M318.30,403.05 L317.73,400.93 A8.77,8.77 0 0 0 315.61,401.80 L316.71,403.70 A6.58,6.58 0 0 1 318.30,403.05Z" fill="#c1e4ef" stroke="#c1e4ef" stroke-width="0.4"/>
<path d="M316.71,403.70 L315.61,401.80 A8.77,8.77 0 0 0 313.80,403.20 L315.35,404.75 A6.58,6.58 0 0 1 316.71,403.70Z" fill="#a6d5e7" stroke="#a6d5e7" stroke-width="0.4"/>
<path d="M315.35,404.75 L313.80,403.20 A8.77,8.77 0 0 0 312.40,405.01 L314.30,406.11 A6.58,6.58 0 0 1 315.35,404.75Z" fill="#85bbd9" stroke="#85bbd9" stroke-width="0.4"/>
<path d="M314.30,406.11 L312.40,405.01 A8.77,8.77 0 0 0 311.53,407.13 L313.65,407.70 A6.58,6.58 0 0 1 314.30,406.11Z" fill="#69a0ca" stroke="#69a0ca" stroke-width="0.4"/>
<path d="M313.65,407.70 L311.53,407.13 A8.77,8.77 0 0 0 311.23,409.40 L313.42,409.40 A6.58,6.58 0 0 1 313.65,407.70Z" fill="#5588be" stroke="#5588be" stroke-width="0.4"/>
<path d="M313.42,409.40 L311.23,409.40 A8.77,8.77 0 0 0 311.53,411.67 L313.65,411.10 A6.58,6.58 0 0 1 313.42,409.40Z" fill="#4878b6" stroke="#4878b6" stroke-width="0.4"/>
<path d="M313.65,411.10 L311.53,411.67 A8.77,8.77 0 0 0 312.40,413.79 L314.30,412.69 A6.58,6.58 0 0 1 313.65,411.10Z" fill="#426cb0" stroke="#426cb0" stroke-width="0.4"/>
<path d="M314.30,412.69 L312.40,413.79 A8.77,8.77 0 0 0 313.80,415.60 L315.35,414.05 A6.58,6.58 0 0 1 314.30,412.69Z" fill="#4167ad" stroke="#4167ad" stroke-width="0.4"/>
<path d="M315.35,414.05 L313.80,415.60 A8.77,8.77 0 0 0 315.61,417.00 L316.71,415.10 A6.58,6.58 0 0 1 315.35,414.05Z" fill="#4065ac" stroke="#4065ac" stroke-width="0.4"/>
<path d="M316.71,415.10 L315.61,417.00 A8.77,8.77 0 0 0 317.73,417.87 L318.30,415.75 A6.58,6.58 0 0 1 316.71,415.10Z" fill="#3f62ab" stroke="#3f62ab" stroke-width="0.4"/>
<path d="M318.30,415.75 L317.73,417.87 A8.77,8.77 0 0 0 320.00,418.17 L320.00,415.98 A6.58,6.58 0 0 1 318.30,415.75Z" fill="#3f62ab" stroke="#3f62ab" stroke-width="0.4"/>
<path d="M320.00,415.98 L320.00,418.17 A8.77,8.77 0 0 0 322.27,417.87 L321.70,415.75 A6.58,6.58 0 0 1 320.00,415.98Z" fill="#3f62ab" stroke="#3f62ab" stroke-width="0.4"/>
<path d="M321.70,415.75 L322.27,417.87 A8.77,8.77 0 0 0 324.39,417.00 L323.29,415.10 A6.58,6.58 0 0 1 321.70,415.75Z" fill="#3f62ab" stroke="#3f62ab" stroke-width="0.4"/>
<path d="M323.29,415.10 L324.39,417.00 A8.77,8.77 0 0 0 326.20,415.60 L324.65,414.05 A6.58,6.58 0 0 1 323.29,415.10Z" fill="#4065ac" stroke="#4065ac" stroke-width="0.4"/>
<path d="M324.65,414.05 L326.20,415.60 A8.77,8.77 0 0 0 327.60,413.79 L325.70,412.69 A6.58,6.58 0 0 1 324.65,414.05Z" fill="#4167ad" stroke="#4167ad" stroke-width="0.4"/>
<path d="M325.70,412.69 L327.60,413.79 A8.77,8.77 0 0 0 328.47,411.67 L326.35,411.10 A6.58,6.58 0 0 1 325.70,412.69Z" fill="#426cb0" stroke="#426cb0" stroke-width="0.4"/>
<path d="M326.35,411.10 L328.47,411.67 A8.77,8.77 0 0 0 328.77,409.40 L326.58,409.40 A6.58,6.58 0 0 1 326.35,411.10Z" fill="#4878b6" stroke="#4878b6" stroke-width="0.4"/>
<path d="M328.77,409.40 L330.96,409.40 A10.96,10.96 0 0 0 330.59,406.56 L328.47,407.13 A8.77,8.77 0 0 1 328.77,409.40Z" fill="#6297c6" stroke="#6297c6" stroke-width="0.4"/>
<path d="M328.47,407.13 L330.59,406.56 A10.96,10.96 0 0 0 329.50,403.92 L327.60,405.01 A8.77,8.77 0 0 1 328.47,407.13Z" fill="#81b7d7" stroke="#81b7d7" stroke-width="0.4"/>
<path d="M327.60,405.01 L329.50,403.92 A10.96,10.96 0 0 0 327.75,401.65 L326.20,403.20 A8.77,8.77 0 0 1 327.60,405.01Z" fill="#acdae9" stroke="#acdae9" stroke-width="0.4"/>
<path d="M326.20,403.20 L327.75,401.65 A10.96,10.96 0 0 0 325.48,399.90 L324.39,401.80 A8.77,8.77 0 0 1 326.20,403.20Z" fill="#dcf1f7" stroke="#dcf1f7" stroke-width="0.4"/>
<path d="M324.39,401.80 L325.48,399.90 A10.96,10.96 0 0 0 322.84,398.81 L322.27,400.93 A8.77,8.77 0 0 1 324.39,401.80Z" fill="#f7fcce" stroke="#f7fcce" stroke-width="0.4"/>
<path d="M322.27,400.93 L322.84,398.81 A10.96,10.96 0 0 0 320.00,398.44 L320.00,400.63 A8.77,8.77 0 0 1 322.27,400.93Z" fill="#fff8b5" stroke="#fff8b5" stroke-width="0.4"/>
<path d="M320.00,400.63 L320.00,398.44 A10.96,10.96 0 0 0 317.16,398.81 L317.73,400.93 A8.77,8.77 0 0 1 320.00,400.63Z" fill="#fff8b5" stroke="#fff8b5" stroke-width="0.4"/>
<path d="M317.73,400.93 L317.16,398.81 A10.96,10.96 0 0 0 314.52,399.90 L315.61,401.80 A8.77,8.77 0 0 1 317.73,400.93Z" fill="#f7fcce" stroke="#f7fcce" stroke-width="0.4"/>
<path d="M315.61,401.80 L314.52,399.90 A10.96,10.96 0 0 0 312.25,401.65 L313.80,403.20 A8.77,8.77 0 0 1 315.61,401.80Z" fill="#dcf1f7" stroke="#dcf1f7" stroke-width="0.4"/>
<path d="M313.80,403.20 L312.25,401.65 A10.96,10.96 0 0 0 310.50,403.92 L312.40,405.01 A8.77,8.77 0 0 1 313.80,403.20Z" fill="#acdae9" stroke="#acdae9" stroke-width="0.4"/>
<path d="M312.40,405.01 L310.50,403.92 A10.96,10.96 0 0 0 309.41,406.56 L311.53,407.13 A8.77,8.77 0 0 1 312.40,405.01Z" fill="#81b7d7" stroke="#81b7d7" stroke-width="0.4"/>
<path d="M311.53,407.13 L309.41,406.56 A10.96,10.96 0 0 0 309.04,409.40 L311.23,409.40 A8.77,8.77 0 0 1 311.53,407.13Z" fill="#6297c6" stroke="#6297c6" stroke-width="0.4"/>
<path d="M311.23,409.40 L309.04,409.40 A10.96,10.96 0 0 0 309.41,412.24 L311.53,411.67 A8.77,8.77 0 0 1 311.23,409.40Z" fill="#4d7fb9" stroke="#4d7fb9" stroke-width="0.4"/>
<path d="M311.53,411.67 L309.41,412.24 A10.96,10.96 0 0 0 310.50,414.88 L312.40,413.79 A8.77,8.77 0 0 1 311.53,411.67Z" fill="#4471b2" stroke="#4471b2" stroke-width="0.4"/>
<path d="M312.40,413.79 L310.50,414.88 A10.96,10.96 0 0 0 312.25,417.15 L313.80,415.60 A8.77,8.77 0 0 1 312.40,413.79Z" fill="#416aaf" stroke="#416aaf" stroke-width="0.4"/>
<path d="M313.80,415.60 L312.25,417.15 A10.96,10.96 0 0 0 314.52,418.90 L315.61,417.00 A8.77,8.77 0 0 1 313.80,415.60Z" fill="#4065ac" stroke="#4065ac" stroke-width="0.4"/>
<path d="M315.61,417.00 L314.52,418.90 A10.96,10.96 0 0 0 317.16,419.99 L317.73,417.87 A8.77,8.77 0 0 1 315.61,417.00Z" fill="#3f62ab" stroke="#3f62ab" stroke-width="0.4"/>
<path d="M317.73,417.87 L317.16,419.99 A10.96,10.96 0 0 0 320.00,420.36 L320.00,418.17 A8.77,8.77 0 0 1 317.73,417.87Z" fill="#3f62ab" stroke="#3f62ab" stroke-width="0.4"/>
<path d="M320.00,418.17 L320.00,420.36 A10.96,10.96 0 0 0 322.84,419.99 L322.27,417.87 A8.77,8.77 0 0 1 320.00,418.17Z" fill="#3f62ab" stroke="#3f62ab" stroke-width="0.4"/>
<path d="M322.27,417.87 L322.84,419.99 A10.96,10.96 0 0 0 325.48,418.90 L324.39,417.00 A8.77,8.77 0 0 1 322.27,417.87Z" fill="#3f62ab" stroke="#3f62ab" stroke-width="0.4"/>
<path d="M324.39,417.00 L325.48,418.90 A10.96,10.96 0 0 0 327.75,417.15 L326.20,415.60 A8.77,8.77 0 0 1 324.39,417.00Z" fill="#4065ac" stroke="#4065ac" stroke-width="0.4"/>
<path d="M326.20,415.60 L327.75,417.15 A10.96,10.96 0 0 0 329.50,414.88 L327.60,413.79 A8.77,8.77 0 0 1 326.20,415.60Z" fill="#416aaf" stroke="#416aaf" stroke-width="0.4"/>
<path d="M327.60,413.79 L329.50,414.88 A10.96,10.96 0 0 0 330.59,412.24 L328.47,411.67 A8.77,8.77 0 0 1 327.60,413.79Z" fill="#4471b2" stroke="#4471b2" stroke-width="0.4"/>
<path d="M328.47,411.67 L330.59,412.24 A10.96,10.96 0 0 0 330.96,409.40 L328.77,409.40 A8.77,8.77 0 0 1 328.47,411.67Z" fill="#4d7fb9" stroke="#4d7fb9" stroke-width="0.4"/>
<path d="M330.96,409.40 L333.16,409.40 A13.16,13.16 0 0 0 332.71,405.99 L330.59,406.56 A10.96,10.96 0 0 1 330.96,409.40Z" fill="#6ea6ce" stroke="#6ea6ce" stroke-width="0.4"/>
<path d="M330.59,406.56 L332.71,405.99 A13.16,13.16 0 0 0 331.39,402.82 L329.50,403.92 A10.96,10.96 0 0 1 330.59,406.56Z" fill="#9bcce2" stroke="#9bcce2" stroke-width="0.4"/>
<path d="M329.50,403.92 L331.39,402.82 A13.16,13.16 0 0 0 329.30,400.10 L327.75,401.65 A10.96,10.96 0 0 1 329.50,403.92Z" fill="#d8eff6" stroke="#d8eff6" stroke-width="0.4"/>
<path d="M327.75,401.65 L329.30,400.10 A13.16,13.16 0 0 0 326.58,398.01 L325.48,399.90 A10.96,10.96 0 0 1 327.75,401.65Z" fill="#fffcba" stroke="#fffcba" stroke-width="0.4"/>
<path d="M325.48,399.90 L326.58,398.01 A13.16,13.16 0 0 0 323.41,396.69 L322.84,398.81 A10.96,10.96 0 0 1 325.48,399.90Z" fill="#fed485" stroke="#fed485" stroke-width="0.4"/>
<path d="M322.84,398.81 L323.41,396.69 A13.16,13.16 0 0 0 320.00,396.24 L320.00,398.44 A10.96,10.96 0 0 1 322.84,398.81Z" fill="#fdb164" stroke="#fdb164" stroke-width="0.4"/>
<path d="M320.00,398.44 L320.00,396.24 A13.16,13.16 0 0 0 316.59,396.69 L317.16,398.81 A10.96,10.96 0 0 1 320.00,398.44Z" fill="#fdb164" stroke="#fdb164" stroke-width="0.4"/>
<path d="M317.16,398.81 L316.59,396.69 A13.16,13.16 0 0 0 313.42,398.01 L314.52,399.90 A10.96,10.96 0 0 1 317.16,398.81Z" fill="#fed485" stroke="#fed485" stroke-width="0.4"/>
<path d="M314.52,399.90 L313.42,398.01 A13.16,13.16 0 0 0 310.70,400.10 L312.25,401.65 A10.96,10.96 0 0 1 314.52,399.90Z" fill="#fffcba" stroke="#fffcba" stroke-width="0.4"/>
<path d="M312.25,401.65 L310.70,400.10 A13.16,13.16 0 0 0 308.61,402.82 L310.50,403.92 A10.96,10.96 0 0 1 312.25,401.65Z" fill="#d8eff6" stroke="#d8eff6" stroke-width="0.4"/>
<path d="M310.50,403.92 L308.61,402.82 A13.16,13.16 0 0 0 307.29,405.99 L309.41,406.56 A10.96,10.96 0 0 1 310.50,403.92Z" fill="#9bcce2" stroke="#9bcce2" stroke-width="0.4"/>
<path d="M309.41,406.56 L307.29,405.99 A13.16,13.16 0 0 0 306.84,409.40 L309.04,409.40 A10.96,10.96 0 0 1 309.41,406.56Z" fill="#6ea6ce" stroke="#6ea6ce" stroke-width="0.4"/>
<path d="M309.04,409.40 L306.84,409.40 A13.16,13.16 0 0 0 307.29,412.81 L309.41,412.24 A10.96,10.96 0 0 1 309.04,409.40Z" fill="#5588be" stroke="#5588be" stroke-width="0.4"/>
<path d="M309.41,412.24 L307.29,412.81 A13.16,13.16 0 0 0 308.61,415.98 L310.50,414.88 A10.96,10.96 0 0 1 309.41,412.24Z" fill="#4676b5" stroke="#4676b5" stroke-width="0.4"/>
<path d="M310.50,414.88 L308.61,415.98 A13.16,13.16 0 0 0 310.70,418.70 L312.25,417.15 A10.96,10.96 0 0 1 310.50,414.88Z" fill="#416aaf" stroke="#416aaf" stroke-width="0.4"/>
<path d="M312.25,417.15 L310.70,418.70 A13.16,13.16 0 0 0 313.42,420.79 L314.52,418.90 A10.96,10.96 0 0 1 312.25,417.15Z" fill="#4065ac" stroke="#4065ac" stroke-width="0.4"/>
<path d="M314.52,418.90 L313.42,420.79 A13.16,13.16 0 0 0 316.59,422.11 L317.16,419.99 A10.96,10.96 0 0 1 314.52,418.90Z" fill="#3f62ab" stroke="#3f62ab" stroke-width="0.4"/>
<path d="M317.16,419.99 L316.59,422.11 A13.16,13.16 0 0 0 320.00,422.56 L320.00,420.36 A10.96,10.96 0 0 1 317.16,419.99Z" fill="#3f62ab" stroke="#3f62ab" stroke-width="0.4"/>
<path d="M320.00,420.36 L320.00,422.56 A13.16,13.16 0 0 0 323.41,422.11 L322.84,419.99 A10.96,10.96 0 0 1 320.00,420.36Z" fill="#3f62ab" stroke="#3f62ab" stroke-width="0.4"/>
<path d="M322.84,419.99 L323.41,422.11 A13.16,13.16 0 0 0 326.58,420.79 L325.48,418.90 A10.96,10.96 0 0 1 322.84,419.99Z" fill="#3f62ab" stroke="#3f62ab" stroke-width="0.4"/>
<path d="M325.48,418.90 L326.58,420.79 A13.16,13.16 0 0 0 329.30,418.70 L327.75,417.15 A10.96,10.96 0 0 1 325.48,418.90Z" fill="#4065ac" stroke="#4065ac" stroke-width="0.4"/>
<path d="M327.75,417.15 L329.30,418.70 A13.16,13.16 0 0 0 331.39,415.98 L329.50,414.88 A10.96,10.96 0 0 1 327.75,417.15Z" fill="#416aaf" stroke="#416aaf" stroke-width="0.4"/>
<path d="M329.50,414.88 L331.39,415.98 A13.16,13.16 0 0 0 332.71,412.81 L330.59,412.24 A10.96,10.96 0 0 1 329.50,414.88Z" fill="#4676b5" stroke="#4676b5" stroke-width="0.4"/>
<path d="M330.59,412.24 L332.71,412.81 A13.16,13.16 0 0 0 333.16,409.40 L330.96,409.40 A10.96,10.96 0 0 1 330.59,412.24Z" fill="#5588be" stroke="#5588be" stroke-width="0.4"/>
<path d="M333.16,409.40 L335.35,409.40 A15.35,15.35 0 0 0 334.83,405.43 L332.71,405.99 A13.16,13.16 0 0 1 333.16,409.40Z" fill="#7ab2d4" stroke="#7ab2d4" stroke-width="0.4"/>
<path d="M332.71,405.99 L334.83,405.43 A15.35,15.35 0 0 0 333.29,401.72 L331.39,402.82 A13.16,13.16 0 0 1 332.71,405.99Z" fill="#b2ddeb" stroke="#b2ddeb" stroke-width="0.4"/>
<path d="M331.39,402.82 L333.29,401.72 A15.35,15.35 0 0 0 330.85,398.55 L329.30,400.10 A13.16,13.16 0 0 1 331.39,402.82Z" fill="#f1fad9" stroke="#f1fad9" stroke-width="0.4"/>
<path d="M329.30,400.10 L330.85,398.55 A15.35,15.35 0 0 0 327.68,396.11 L326.58,398.01 A13.16,13.16 0 0 1 329.30,400.10Z" fill="#feda8a" stroke="#feda8a" stroke-width="0.4"/>
<path d="M326.58,398.01 L327.68,396.11 A15.35,15.35 0 0 0 323.97,394.57 L323.41,396.69 A13.16,13.16 0 0 1 326.58,398.01Z" fill="#f88950" stroke="#f88950" stroke-width="0.4"/>
<path d="M323.41,396.69 L323.97,394.57 A15.35,15.35 0 0 0 320.00,394.05 L320.00,396.24 A13.16,13.16 0 0 1 323.41,396.69Z" fill="#e75337" stroke="#e75337" stroke-width="0.4"/>
<path d="M320.00,396.24 L320.00,394.05 A15.35,15.35 0 0 0 316.03,394.57 L316.59,396.69 A13.16,13.16 0 0 1 320.00,396.24Z" fill="#e75337" stroke="#e75337" stroke-width="0.4"/>
<path d="M316.59,396.69 L316.03,394.57 A15.35,15.35 0 0 0 312.32,396.11 L313.42,398.01 A13.16,13.16 0 0 1 316.59,396.69Z" fill="#f88950" stroke="#f88950" stroke-width="0.4"/>
<path d="M313.42,398.01 L312.32,396.11 A15.35,15.35 0 0 0 309.15,398.55 L310.70,400.10 A13.16,13.16 0 0 1 313.42,398.01Z" fill="#feda8a" stroke="#feda8a" stroke-width="0.4"/>
<path d="M310.70,400.10 L309.15,398.55 A15.35,15.35 0 0 0 306.71,401.72 L308.61,402.82 A13.16,13.16 0 0 1 310.70,400.10Z" fill="#f1fad9" stroke="#f1fad9" stroke-width="0.4"/>
<path d="M308.61,402.82 L306.71,401.72 A15.35,15.35 0 0 0 305.17,405.43 L307.29,405.99 A13.16,13.16 0 0 1 308.61,402.82Z" fill="#b2ddeb" stroke="#b2ddeb" stroke-width="0.4"/>
<path d="M307.29,405.99 L305.17,405.43 A15.35,15.35 0 0 0 304.65,409.40 L306.84,409.40 A13.16,13.16 0 0 1 307.29,405.99Z" fill="#7ab2d4" stroke="#7ab2d4" stroke-width="0.4"/>
<path d="M306.84,409.40 L304.65,409.40 A15.35,15.35 0 0 0 305.17,413.37 L307.29,412.81 A13.16,13.16 0 0 1 306.84,409.40Z" fill="#5a8ec1" stroke="#5a8ec1" stroke-width="0.4"/>
<path d="M307.29,412.81 L305.17,413.37 A15.35,15.35 0 0 0 306.71,417.07 L308.61,415.98 A13.16,13.16 0 0 1 307.29,412.81Z" fill="#4878b6" stroke="#4878b6" stroke-width="0.4"/>
<path d="M308.61,415.98 L306.71,417.07 A15.35,15.35 0 0 0 309.15,420.25 L310.70,418.70 A13.16,13.16 0 0 1 308.61,415.98Z" fill="#426cb0" stroke="#426cb0" stroke-width="0.4"/>
<path d="M310.70,418.70 L309.15,420.25 A15.35,15.35 0 0 0 312.32,422.69 L313.42,420.79 A13.16,13.16 0 0 1 310.70,418.70Z" fill="#4065ac" stroke="#4065ac" stroke-width="0.4"/>
<path d="M313.42,420.79 L312.32,422.69 A15.35,15.35 0 0 0 316.03,424.23 L316.59,422.11 A13.16,13.16 0 0 1 313.42,420.79Z" fill="#3f62ab" stroke="#3f62ab" stroke-width="0.4"/>
<path d="M316.59,422.11 L316.03,424.23 A15.35,15.35 0 0 0 320.00,424.75 L320.00,422.56 A13.16,13.16 0 0 1 316.59,422.11Z" fill="#3f62ab" stroke="#3f62ab" stroke-width="0.4"/>
<path d="M320.00,422.56 L320.00,424.75 A15.35,15.35 0 0 0 323.97,424.23 L323.41,422.11 A13.16,13.16 0 0 1 320.00,422.56Z" fill="#3f62ab" stroke="#3f62ab" stroke-width="0.4"/>
<path d="M323.41,422.11 L323.97,424.23 A15.35,15.35 0 0 0 327.68,422.69 L326.58,420.79 A13.16,13.16 0 0 1 323.41,422.11Z" fill="#3f62ab" stroke="#3f62ab" stroke-width="0.4"/>
<path d="M326.58,420.79 L327.68,422.69 A15.35,15.35 0 0 0 330.85,420.25 L329.30,418.70 A13.16,13.16 0 0 1 326.58,420.79Z" fill="#4065ac" stroke="#4065ac" stroke-width="0.4"/>
<path d="M329.30,418.70 L330.85,420.25 A15.35,15.35 0 0 0 333.29,417.07 L331.39,415.98 A13.16,13.16 0 0 1 329.30,418.70Z" fill="#426cb0" stroke="#426cb0" stroke-width="0.4"/>
<path d="M331.39,415.98 L333.29,417.07 A15.35,15.35 0 0 0 334.83,413.37 L332.71,412.81 A13.16,13.16 0 0 1 331.39,415.98Z" fill="#4878b6" stroke="#4878b6" stroke-width="0.4"/>
<path d="M332.71,412.81 L334.83,413.37 A15.35,15.35 0 0 0 335.35,409.40 L333.16,409.40 A13.16,13.16 0 0 1 332.71,412.81Z" fill="#5a8ec1" stroke="#5a8ec1" stroke-width="0.4"/>
<path d="M335.35,409.40 L337.54,409.40 A17.54,17.54 0 0 0 336.95,404.86 L334.83,405.43 A15.35,15.35 0 0 1 335.35,409.40Z" fill="#81b7d7" stroke="#81b7d7" stroke-width="0.4"/>
<path d="M334.83,405.43 L336.95,404.86 A17.54,17.54 0 0 0 335.19,400.63 L333.29,401.72 A15.35,15.35 0 0 1 334.83,405.43Z" fill="#bfe3ef" stroke="#bfe3ef" stroke-width="0.4"/>
<path d="M333.29,401.72 L335.19,400.63 A17.54,17.54 0 0 0 332.40,397.00 L330.85,398.55 A15.35,15.35 0 0 1 333.29,401.72Z" fill="#fcfec5" stroke="#fcfec5" stroke-width="0.4"/>
<path d="M330.85,398.55 L332.40,397.00 A17.54,17.54 0 0 0 328.77,394.21 L327.68,396.11 A15.35,15.35 0 0 1 330.85,398.55Z" fill="#fdbf71" stroke="#fdbf71" stroke-width="0.4"/>
<path d="M327.68,396.11 L328.77,394.21 A17.54,17.54 0 0 0 324.54,392.45 L323.97,394.57 A15.35,15.35 0 0 1 327.68,396.11Z" fill="#ec5c3b" stroke="#ec5c3b" stroke-width="0.4"/>
<path d="M323.97,394.57 L324.54,392.45 A17.54,17.54 0 0 0 320.00,391.86 L320.00,394.05 A15.35,15.35 0 0 1 323.97,394.57Z" fill="#cc2627" stroke="#cc2627" stroke-width="0.4"/>
<path d="M320.00,394.05 L320.00,391.86 A17.54,17.54 0 0 0 315.46,392.45 L316.03,394.57 A15.35,15.35 0 0 1 320.00,394.05Z" fill="#cc2627" stroke="#cc2627" stroke-width="0.4"/>
<path d="M316.03,394.57 L315.46,392.45 A17.54,17.54 0 0 0 311.23,394.21 L312.32,396.11 A15.35,15.35 0 0 1 316.03,394.57Z" fill="#ec5c3b" stroke="#ec5c3b" stroke-width="0.4"/>
<path d="M312.32,396.11 L311.23,394.21 A17.54,17.54 0 0 0 307.60,397.00 L309.15,398.55 A15.35,15.35 0 0 1 312.32,396.11Z" fill="#fdbf71" stroke="#fdbf71" stroke-width="0.4"/>
<path d="M309.15,398.55 L307.60,397.00 A17.54,17.54 0 0 0 304.81,400.63 L306.71,401.72 A15.35,15.35 0 0 1 309.15,398.55Z" fill="#fcfec5" stroke="#fcfec5" stroke-width="0.4"/>
<path d="M306.71,401.72 L304.81,400.63 A17.54,17.54 0 0 0 303.05,404.86 L305.17,405.43 A15.35,15.35 0 0 1 306.71,401.72Z" fill="#bfe3ef" stroke="#bfe3ef" stroke-width="0.4"/>
<path d="M305.17,405.43 L303.05,404.86 A17.54,17.54 0 0 0 302.46,409.40 L304.65,409.40 A15.35,15.35 0 0 1 305.17,405.43Z" fill="#81b7d7" stroke="#81b7d7" stroke-width="0.4"/>
<path d="M304.65,409.40 L302.46,409.40 A17.54,17.54 0 0 0 303.05,413.94 L305.17,413.37 A15.35,15.35 0 0 1 304.65,409.40Z" fill="#5c90c2" stroke="#5c90c2" stroke-width="0.4"/>
<path d="M305.17,413.37 L303.05,413.94 A17.54,17.54 0 0 0 304.81,418.17 L306.71,417.07 A15.35,15.35 0 0 1 305.17,413.37Z" fill="#4a7ab7" stroke="#4a7ab7" stroke-width="0.4"/>
<path d="M306.71,417.07 L304.81,418.17 A17.54,17.54 0 0 0 307.60,421.80 L309.15,420.25 A15.35,15.35 0 0 1 306.71,417.07Z" fill="#426cb0" stroke="#426cb0" stroke-width="0.4"/>
<path d="M309.15,420.25 L307.60,421.80 A17.54,17.54 0 0 0 311.23,424.59 L312.32,422.69 A15.35,15.35 0 0 1 309.15,420.25Z" fill="#4167ad" stroke="#4167ad" stroke-width="0.4"/>
<path d="M312.32,422.69 L311.23,424.59 A17.54,17.54 0 0 0 315.46,426.35 L316.03,424.23 A15.35,15.35 0 0 1 312.32,422.69Z" fill="#3f62ab" stroke="#3f62ab" stroke-width="0.4"/>
<path d="M316.03,424.23 L315.46,426.35 A17.54,17.54 0 0 0 320.00,426.94 L320.00,424.75 A15.35,15.35 0 0 1 316.03,424.23Z" fill="#3f62ab" stroke="#3f62ab" stroke-width="0.4"/>
<path d="M320.00,424.75 L320.00,426.94 A17.54,17.54 0 0 0 324.54,426.35 L323.97,424.23 A15.35,15.35 0 0 1 320.00,424.75Z" fill="#3f62ab" stroke="#3f62ab" stroke-width="0.4"/>
<path d="M323.97,424.23 L324.54,426.35 A17.54,17.54 0 0 0 328.77,424.59 L327.68,422.69 A15.35,15.35 0 0 1 323.97,424.23Z" fill="#3f62ab" stroke="#3f62ab" stroke-width="0.4"/>
<path d="M327.68,422.69 L328.77,424.59 A17.54,17.54 0 0 0 332.40,421.80 L330.85,420.25 A15.35,15.35 0 0 1 327.68,422.69Z" fill="#4167ad" stroke="#4167ad" stroke-width="0.4"/>
<path d="M330.85,420.25 L332.40,421.80 A17.54,17.54 0 0 0 335.19,418.17 L333.29,417.07 A15.35,15.35 0 0 1 330.85,420.25Z" fill="#426cb0" stroke="#426cb0" stroke-width="0.4"/>
<path d="M333.29,417.07 L335.19,418.17 A17.54,17.54 0 0 0 336.95,413.94 L334.83,413.37 A15.35,15.35 0 0 1 333.29,417.07Z" fill="#4a7ab7" stroke="#4a7ab7" stroke-width="0.4"/>
<path d="M334.83,413.37 L336.95,413.94 A17.54,17.54 0 0 0 337.54,409.40 L335.35,409.40 A15.35,15.35 0 0 1 334.83,413.37Z" fill="#5c90c2" stroke="#5c90c2" stroke-width="0.4"/>
<path d="M337.54,409.40 L339.74,409.40 A19.74,19.74 0 0 0 339.06,404.29 L336.95,404.86 A17.54,17.54 0 0 1 337.54,409.40Z" fill="#7fb6d6" stroke="#7fb6d6" stroke-width="0.4"/>
<path d="M336.95,404.86 L339.06,404.29 A19.74,19.74 0 0 0 337.09,399.53 L335.19,400.63 A17.54,17.54 0 0 1 336.95,404.86Z" fill="#bbe1ed" stroke="#bbe1ed" stroke-width="0.4"/>
<path d="M335.19,400.63 L337.09,399.53 A19.74,19.74 0 0 0 333.96,395.44 L332.40,397.00 A17.54,17.54 0 0 1 335.19,400.63Z" fill="#fafdc9" stroke="#fafdc9" stroke-width="0.4"/>
<path d="M332.40,397.00 L333.96,395.44 A19.74,19.74 0 0 0 329.87,392.31 L328.77,394.21 A17.54,17.54 0 0 1 332.40,397.00Z" fill="#fdc576" stroke="#fdc576" stroke-width="0.4"/>
<path d="M328.77,394.21 L329.87,392.31 A19.74,19.74 0 0 0 325.11,390.34 L324.54,392.45 A17.54,17.54 0 0 1 328.77,394.21Z" fill="#f16640" stroke="#f16640" stroke-width="0.4"/>
<path d="M324.54,392.45 L325.11,390.34 A19.74,19.74 0 0 0 320.00,389.66 L320.00,391.86 A17.54,17.54 0 0 1 324.54,392.45Z" fill="#d42d27" stroke="#d42d27" stroke-width="0.4"/>
<path d="M320.00,391.86 L320.00,389.66 A19.74,19.74 0 0 0 314.89,390.34 L315.46,392.45 A17.54,17.54 0 0 1 320.00,391.86Z" fill="#d42d27" stroke="#d42d27" stroke-width="0.4"/>
<path d="M315.46,392.45 L314.89,390.34 A19.74,19.74 0 0 0 310.13,392.31 L311.23,394.21 A17.54,17.54 0 0 1 315.46,392.45Z" fill="#f16640" stroke="#f16640" stroke-width="0.4"/>
<path d="M311.23,394.21 L310.13,392.31 A19.74,19.74 0 0 0 306.04,395.44 L307.60,397.00 A17.54,17.54 0 0 1 311.23,394.21Z" fill="#fdc576" stroke="#fdc576" stroke-width="0.4"/>
<path d="M307.60,397.00 L306.04,395.44 A19.74,19.74 0 0 0 302.91,399.53 L304.81,400.63 A17.54,17.54 0 0 1 307.60,397.00Z" fill="#fafdc9" stroke="#fafdc9" stroke-width="0.4"/>
<path d="M304.81,400.63 L302.91,399.53 A19.74,19.74 0 0 0 300.94,404.29 L303.05,404.86 A17.54,17.54 0 0 1 304.81,400.63Z" fill="#bbe1ed" stroke="#bbe1ed" stroke-width="0.4"/>
<path d="M303.05,404.86 L300.94,404.29 A19.74,19.74 0 0 0 300.26,409.40 L302.46,409.40 A17.54,17.54 0 0 1 303.05,404.86Z" fill="#7fb6d6" stroke="#7fb6d6" stroke-width="0.4"/>
<path d="M302.46,409.40 L300.26,409.40 A19.74,19.74 0 0 0 300.94,414.51 L303.05,413.94 A17.54,17.54 0 0 1 302.46,409.40Z" fill="#5c90c2" stroke="#5c90c2" stroke-width="0.4"/>
<path d="M303.05,413.94 L300.94,414.51 A19.74,19.74 0 0 0 302.91,419.27 L304.81,418.17 A17.54,17.54 0 0 1 303.05,413.94Z" fill="#4878b6" stroke="#4878b6" stroke-width="0.4"/>
<path d="M304.81,418.17 L302.91,419.27 A19.74,19.74 0 0 0 306.04,423.36 L307.60,421.80 A17.54,17.54 0 0 1 304.81,418.17Z" fill="#426cb0" stroke="#426cb0" stroke-width="0.4"/>
<path d="M307.60,421.80 L306.04,423.36 A19.74,19.74 0 0 0 310.13,426.49 L311.23,424.59 A17.54,17.54 0 0 1 307.60,421.80Z" fill="#4065ac" stroke="#4065ac" stroke-width="0.4"/>
<path d="M311.23,424.59 L310.13,426.49 A19.74,19.74 0 0 0 314.89,428.46 L315.46,426.35 A17.54,17.54 0 0 1 311.23,424.59Z" fill="#3f62ab" stroke="#3f62ab" stroke-width="0.4"/>
<path d="M315.46,426.35 L314.89,428.46 A19.74,19.74 0 0 0 320.00,429.14 L320.00,426.94 A17.54,17.54 0 0 1 315.46,426.35Z" fill="#3f62ab" stroke="#3f62ab" stroke-width="0.4"/>
<path d="M320.00,426.94 L320.00,429.14 A19.74,19.74 0 0 0 325.11,428.46 L324.54,426.35 A17.54,17.54 0 0 1 320.00,426.94Z" fill="#3f62ab" stroke="#3f62ab" stroke-width="0.4"/>
<path d="M324.54,426.35 L325.11,428.46 A19.74,19.74 0 0 0 329.87,426.49 L328.77,424.59 A17.54,17.54 0 0 1 324.54,426.35Z" fill="#3f62ab" stroke="#3f62ab" stroke-width="0.4"/>
<path d="M328.77,424.59 L329.87,426.49 A19.74,19.74 0 0 0 333.96,423.36 L332.40,421.80 A17.54,17.54 0 0 1 328.77,424.59Z" fill="#4065ac" stroke="#4065ac" stroke-width="0.4"/>
<path d="M332.40,421.80 L333.96,423.36 A19.74,19.74 0 0 0 337.09,419.27 L335.19,418.17 A17.54,17.54 0 0 1 332.40,421.80Z" fill="#426cb0" stroke="#426cb0" stroke-width="0.4"/>
<path d="M335.19,418.17 L337.09,419.27 A19.74,19.74 0 0 0 339.06,414.51 L336.95,413.94 A17.54,17.54 0 0 1 335.19,418.17Z" fill="#4878b6" stroke="#4878b6" stroke-width="0.4"/>
<path d="M336.95,413.94 L339.06,414.51 A19.74,19.74 0 0 0 339.74,409.40 L337.54,409.40 A17.54,17.54 0 0 1 336.95,413.94Z" fill="#5c90c2" stroke="#5c90c2" stroke-width="0.4"/>
<path d="M339.74,409.40 L341.93,409.40 A21.93,21.93 0 0 0 341.18,403.72 L339.06,404.29 A19.74,19.74 0 0 1 339.74,409.40Z" fill="#76afd2" stroke="#76afd2" stroke-width="0.4"/>
<path d="M339.06,404.29 L341.18,403.72 A21.93,21.93 0 0 0 338.99,398.44 L337.09,399.53 A19.74,19.74 0 0 1 339.06,404.29Z" fill="#aad8e9" stroke="#aad8e9" stroke-width="0.4"/>
<path d="M337.09,399.53 L338.99,398.44 A21.93,21.93 0 0 0 335.51,393.89 L333.96,395.44 A19.74,19.74 0 0 1 337.09,399.53Z" fill="#eaf7e6" stroke="#eaf7e6" stroke-width="0.4"/>
<path d="M333.96,395.44 L335.51,393.89 A21.93,21.93 0 0 0 330.96,390.41 L329.87,392.31 A19.74,19.74 0 0 1 333.96,395.44Z" fill="#fee699" stroke="#fee699" stroke-width="0.4"/>
<path d="M329.87,392.31 L330.96,390.41 A21.93,21.93 0 0 0 325.68,388.22 L325.11,390.34 A19.74,19.74 0 0 1 329.87,392.31Z" fill="#fca55d" stroke="#fca55d" stroke-width="0.4"/>
<path d="M325.11,390.34 L325.68,388.22 A21.93,21.93 0 0 0 320.00,387.47 L320.00,389.66 A19.74,19.74 0 0 1 325.11,390.34Z" fill="#f57245" stroke="#f57245" stroke-width="0.4"/>
<path d="M320.00,389.66 L320.00,387.47 A21.93,21.93 0 0 0 314.32,388.22 L314.89,390.34 A19.74,19.74 0 0 1 320.00,389.66Z" fill="#f57245" stroke="#f57245" stroke-width="0.4"/>
<path d="M314.89,390.34 L314.32,388.22 A21.93,21.93 0 0 0 309.04,390.41 L310.13,392.31 A19.74,19.74 0 0 1 314.89,390.34Z" fill="#fca55d" stroke="#fca55d" stroke-width="0.4"/>
<path d="M310.13,392.31 L309.04,390.41 A21.93,21.93 0 0 0 304.49,393.89 L306.04,395.44 A19.74,19.74 0 0 1 310.13,392.31Z" fill="#fee699" stroke="#fee699" stroke-width="0.4"/>
<path d="M306.04,395.44 L304.49,393.89 A21.93,21.93 0 0 0 301.01,398.44 L302.91,399.53 A19.74,19.74 0 0 1 306.04,395.44Z" fill="#eaf7e6" stroke="#eaf7e6" stroke-width="0.4"/>
<path d="M302.91,399.53 L301.01,398.44 A21.93,21.93 0 0 0 298.82,403.72 L300.94,404.29 A19.74,19.74 0 0 1 302.91,399.53Z" fill="#aad8e9" stroke="#aad8e9" stroke-width="0.4"/>
<path d="M300.94,404.29 L298.82,403.72 A21.93,21.93 0 0 0 298.07,409.40 L300.26,409.40 A19.74,19.74 0 0 1 300.94,404.29Z" fill="#76afd2" stroke="#76afd2" stroke-width="0.4"/>
<path d="M300.26,409.40 L298.07,409.40 A21.93,21.93 0 0 0 298.82,415.08 L300.94,414.51 A19.74,19.74 0 0 1 300.26,409.40Z" fill="#588cc0" stroke="#588cc0" stroke-width="0.4"/>
<path d="M300.94,414.51 L298.82,415.08 A21.93,21.93 0 0 0 301.01,420.36 L302.91,419.27 A19.74,19.74 0 0 1 300.94,414.51Z" fill="#4676b5" stroke="#4676b5" stroke-width="0.4"/>
<path d="M302.91,419.27 L301.01,420.36 A21.93,21.93 0 0 0 304.49,424.91 L306.04,423.36 A19.74,19.74 0 0 1 302.91,419.27Z" fill="#426cb0" stroke="#426cb0" stroke-width="0.4"/>
<path d="M306.04,423.36 L304.49,424.91 A21.93,21.93 0 0 0 309.04,428.39 L310.13,426.49 A19.74,19.74 0 0 1 306.04,423.36Z" fill="#4065ac" stroke="#4065ac" stroke-width="0.4"/>
<path d="M310.13,426.49 L309.04,428.39 A21.93,21.93 0 0 0 314.32,430.58 L314.89,428.46 A19.74,19.74 0 0 1 310.13,426.49Z" fill="#3f62ab" stroke="#3f62ab" stroke-width="0.4"/>
<path d="M314.89,428.46 L314.32,430.58 A21.93,21.93 0 0 0 320.00,431.33 L320.00,429.14 A19.74,19.74 0 0 1 314.89,428.46Z" fill="#3f62ab" stroke="#3f62ab" stroke-width="0.4"/>
<path d="M320.00,429.14 L320.00,431.33 A21.93,21.93 0 0 0 325.68,430.58 L325.11,428.46 A19.74,19.74 0 0 1 320.00,429.14Z" fill="#3f62ab" stroke="#3f62ab" stroke-width="0.4"/>
<path d="M325.11,428.46 L325.68,430.58 A21.93,21.93 0 0 0 330.96,428.39 L329.87,426.49 A19.74,19.74 0 0 1 325.11,428.46Z" fill="#3f62ab" stroke="#3f62ab" stroke-width="0.4"/>
<path d="M329.87,426.49 L330.96,428.39 A21.93,21.93 0 0 0 335.51,424.91 L333.96,423.36 A19.74,19.74 0 0 1 329.87,426.49Z" fill="#4065ac" stroke="#4065ac" stroke-width="0.4"/>
<path d="M333.96,423.36 L335.51,424.91 A21.93,21.93 0 0 0 338.99,420.36 L337.09,419.27 A19.74,19.74 0 0 1 333.96,423.36Z" fill="#426cb0" stroke="#426cb0" stroke-width="0.4"/>
<path d="M337.09,419.27 L338.99,420.36 A21.93,21.93 0 0 0 341.18,415.08 L339.06,414.51 A19.74,19.74 0 0 1 337.09,419.27Z" fill="#4676b5" stroke="#4676b5" stroke-width="0.4"/>
<path d="M339.06,414.51 L341.18,415.08 A21.93,21.93 0 0 0 341.93,409.40 L339.74,409.40 A19.74,19.74 0 0 1 339.06,414.51Z" fill="#588cc0" stroke="#588cc0" stroke-width="0.4"/>
<path d="M341.93,409.40 L344.12,409.40 A24.12,24.12 0 0 0 343.30,403.16 L341.18,403.72 A21.93,21.93 0 0 1 341.93,409.40Z" fill="#69a0ca" stroke="#69a0ca" stroke-width="0.4"/>
<path d="M341.18,403.72 L343.30,403.16 A24.12,24.12 0 0 0 340.89,397.34 L338.99,398.44 A21.93,21.93 0 0 1 341.18,403.72Z" fill="#90c3dd" stroke="#90c3dd" stroke-width="0.4"/>
<path d="M338.99,398.44 L340.89,397.34 A24.12,24.12 0 0 0 337.06,392.34 L335.51,393.89 A21.93,21.93 0 0 1 338.99,398.44Z" fill="#c7e7f1" stroke="#c7e7f1" stroke-width="0.4"/>
<path d="M335.51,393.89 L337.06,392.34 A24.12,24.12 0 0 0 332.06,388.51 L330.96,390.41 A21.93,21.93 0 0 1 335.51,393.89Z" fill="#f5fbd2" stroke="#f5fbd2" stroke-width="0.4"/>
<path d="M330.96,390.41 L332.06,388.51 A24.12,24.12 0 0 0 326.24,386.10 L325.68,388.22 A21.93,21.93 0 0 1 330.96,390.41Z" fill="#feea9f" stroke="#feea9f" stroke-width="0.4"/>
<path d="M325.68,388.22 L326.24,386.10 A24.12,24.12 0 0 0 320.00,385.28 L320.00,387.47 A21.93,21.93 0 0 1 325.68,388.22Z" fill="#fed283" stroke="#fed283" stroke-width="0.4"/>
<path d="M320.00,387.47 L320.00,385.28 A24.12,24.12 0 0 0 313.76,386.10 L314.32,388.22 A21.93,21.93 0 0 1 320.00,387.47Z" fill="#fed283" stroke="#fed283" stroke-width="0.4"/>
<path d="M314.32,388.22 L313.76,386.10 A24.12,24.12 0 0 0 307.94,388.51 L309.04,390.41 A21.93,21.93 0 0 1 314.32,388.22Z" fill="#feea9f" stroke="#feea9f" stroke-width="0.4"/>
<path d="M309.04,390.41 L307.94,388.51 A24.12,24.12 0 0 0 302.94,392.34 L304.49,393.89 A21.93,21.93 0 0 1 309.04,390.41Z" fill="#f5fbd2" stroke="#f5fbd2" stroke-width="0.4"/>
<path d="M304.49,393.89 L302.94,392.34 A24.12,24.12 0 0 0 299.11,397.34 L301.01,398.44 A21.93,21.93 0 0 1 304.49,393.89Z" fill="#c7e7f1" stroke="#c7e7f1" stroke-width="0.4"/>
<path d="M301.01,398.44 L299.11,397.34 A24.12,24.12 0 0 0 296.70,403.16 L298.82,403.72 A21.93,21.93 0 0 1 301.01,398.44Z" fill="#90c3dd" stroke="#90c3dd" stroke-width="0.4"/>
<path d="M298.82,403.72 L296.70,403.16 A24.12,24.12 0 0 0 295.88,409.40 L298.07,409.40 A21.93,21.93 0 0 1 298.82,403.72Z" fill="#69a0ca" stroke="#69a0ca" stroke-width="0.4"/>
<path d="M298.07,409.40 L295.88,409.40 A24.12,24.12 0 0 0 296.70,415.64 L298.82,415.08 A21.93,21.93 0 0 1 298.07,409.40Z" fill="#5183bb" stroke="#5183bb" stroke-width="0.4"/>
<path d="M298.82,415.08 L296.70,415.64 A24.12,24.12 0 0 0 299.11,421.46 L301.01,420.36 A21.93,21.93 0 0 1 298.82,415.08Z" fill="#4574b3" stroke="#4574b3" stroke-width="0.4"/>
<path d="M301.01,420.36 L299.11,421.46 A24.12,24.12 0 0 0 302.94,426.46 L304.49,424.91 A21.93,21.93 0 0 1 301.01,420.36Z" fill="#416aaf" stroke="#416aaf" stroke-width="0.4"/>
<path d="M304.49,424.91 L302.94,426.46 A24.12,24.12 0 0 0 307.94,430.29 L309.04,428.39 A21.93,21.93 0 0 1 304.49,424.91Z" fill="#4065ac" stroke="#4065ac" stroke-width="0.4"/>
<path d="M309.04,428.39 L307.94,430.29 A24.12,24.12 0 0 0 313.76,432.70 L314.32,430.58 A21.93,21.93 0 0 1 309.04,428.39Z" fill="#3f62ab" stroke="#3f62ab" stroke-width="0.4"/>
<path d="M314.32,430.58 L313.76,432.70 A24.12,24.12 0 0 0 320.00,433.52 L320.00,431.33 A21.93,21.93 0 0 1 314.32,430.58Z" fill="#3f62ab" stroke="#3f62ab" stroke-width="0.4"/>
<path d="M320.00,431.33 L320.00,433.52 A24.12,24.12 0 0 0 326.24,432.70 L325.68,430.58 A21.93,21.93 0 0 1 320.00,431.33Z" fill="#3f62ab" stroke="#3f62ab" stroke-width="0.4"/>
<path d="M325.68,430.58 L326.24,432.70 A24.12,24.12 0 0 0 332.06,430.29 L330.96,428.39 A21.93,21.93 0 0 1 325.68,430.58Z" fill="#3f62ab" stroke="#3f62ab" stroke-width="0.4"/>
<path d="M330.96,428.39 L332.06,430.29 A24.12,24.12 0 0 0 337.06,426.46 L335.51,424.91 A21.93,21.93 0 0 1 330.96,428.39Z" fill="#4065ac" stroke="#4065ac" stroke-width="0.4"/>
<path d="M335.51,424.91 L337.06,426.46 A24.12,24.12 0 0 0 340.89,421.46 L338.99,420.36 A21.93,21.93 0 0 1 335.51,424.91Z" fill="#416aaf" stroke="#416aaf" stroke-width="0.4"/>
<path d="M338.99,420.36 L340.89,421.46 A24.12,24.12 0 0 0 343.30,415.64 L341.18,415.08 A21.93,21.93 0 0 1 338.99,420.36Z" fill="#4574b3" stroke="#4574b3" stroke-width="0.4"/>
<path d="M341.18,415.08 L343.30,415.64 A24.12,24.12 0 0 0 344.12,409.40 L341.93,409.40 A21.93,21.93 0 0 1 341.18,415.08Z" fill="#5183bb" stroke="#5183bb" stroke-width="0.4"/>
<path d="M344.12,409.40 L346.31,409.40 A26.31,26.31 0 0 0 345.42,402.59 L343.30,403.16 A24.12,24.12 0 0 1 344.12,409.40Z" fill="#5c90c2" stroke="#5c90c2" stroke-width="0.4"/>
<path d="M343.30,403.16 L345.42,402.59 A26.31,26.31 0 0 0 342.79,396.24 L340.89,397.34 A24.12,24.12 0 0 1 343.30,403.16Z" fill="#74add1" stroke="#74add1" stroke-width="0.4"/>
<path d="M340.89,397.34 L342.79,396.24 A26.31,26.31 0 0 0 338.61,390.79 L337.06,392.34 A24.12,24.12 0 0 1 340.89,397.34Z" fill="#9bcce2" stroke="#9bcce2" stroke-width="0.4"/>
<path d="M337.06,392.34 L338.61,390.79 A26.31,26.31 0 0 0 333.16,386.61 L332.06,388.51 A24.12,24.12 0 0 1 337.06,392.34Z" fill="#c5e6f0" stroke="#c5e6f0" stroke-width="0.4"/>
<path d="M332.06,388.51 L333.16,386.61 A26.31,26.31 0 0 0 326.81,383.98 L326.24,386.10 A24.12,24.12 0 0 1 332.06,388.51Z" fill="#e6f5ed" stroke="#e6f5ed" stroke-width="0.4"/>
<path d="M326.24,386.10 L326.81,383.98 A26.31,26.31 0 0 0 320.00,383.09 L320.00,385.28 A24.12,24.12 0 0 1 326.24,386.10Z" fill="#f2fad6" stroke="#f2fad6" stroke-width="0.4"/>
<path d="M320.00,385.28 L320.00,383.09 A26.31,26.31 0 0 0 313.19,383.98 L313.76,386.10 A24.12,24.12 0 0 1 320.00,385.28Z" fill="#f2fad6" stroke="#f2fad6" stroke-width="0.4"/>
<path d="M313.76,386.10 L313.19,383.98 A26.31,26.31 0 0 0 306.84,386.61 L307.94,388.51 A24.12,24.12 0 0 1 313.76,386.10Z" fill="#e6f5ed" stroke="#e6f5ed" stroke-width="0.4"/>
<path d="M307.94,388.51 L306.84,386.61 A26.31,26.31 0 0 0 301.39,390.79 L302.94,392.34 A24.12,24.12 0 0 1 307.94,388.51Z" fill="#c5e6f0" stroke="#c5e6f0" stroke-width="0.4"/>
<path d="M302.94,392.34 L301.39,390.79 A26.31,26.31 0 0 0 297.21,396.24 L299.11,397.34 A24.12,24.12 0 0 1 302.94,392.34Z" fill="#9bcce2" stroke="#9bcce2" stroke-width="0.4"/>
<path d="M299.11,397.34 L297.21,396.24 A26.31,26.31 0 0 0 294.58,402.59 L296.70,403.16 A24.12,24.12 0 0 1 299.11,397.34Z" fill="#74add1" stroke="#74add1" stroke-width="0.4"/>
<path d="M296.70,403.16 L294.58,402.59 A26.31,26.31 0 0 0 293.69,409.40 L295.88,409.40 A24.12,24.12 0 0 1 296.70,403.16Z" fill="#5c90c2" stroke="#5c90c2" stroke-width="0.4"/>
<path d="M295.88,409.40 L293.69,409.40 A26.31,26.31 0 0 0 294.58,416.21 L296.70,415.64 A24.12,24.12 0 0 1 295.88,409.40Z" fill="#4b7db8" stroke="#4b7db8" stroke-width="0.4"/>
<path d="M296.70,415.64 L294.58,416.21 A26.31,26.31 0 0 0 297.21,422.56 L299.11,421.46 A24.12,24.12 0 0 1 296.70,415.64Z" fill="#436fb1" stroke="#436fb1" stroke-width="0.4"/>
<path d="M299.11,421.46 L297.21,422.56 A26.31,26.31 0 0 0 301.39,428.01 L302.94,426.46 A24.12,24.12 0 0 1 299.11,421.46Z" fill="#4167ad" stroke="#4167ad" stroke-width="0.4"/>
<path d="M302.94,426.46 L301.39,428.01 A26.31,26.31 0 0 0 306.84,432.19 L307.94,430.29 A24.12,24.12 0 0 1 302.94,426.46Z" fill="#4065ac" stroke="#4065ac" stroke-width="0.4"/>
<path d="M307.94,430.29 L306.84,432.19 A26.31,26.31 0 0 0 313.19,434.82 L313.76,432.70 A24.12,24.12 0 0 1 307.94,430.29Z" fill="#3f62ab" stroke="#3f62ab" stroke-width="0.4"/>
<path d="M313.76,432.70 L313.19,434.82 A26.31,26.31 0 0 0 320.00,435.71 L320.00,433.52 A24.12,24.12 0 0 1 313.76,432.70Z" fill="#3f62ab" stroke="#3f62ab" stroke-width="0.4"/>
<path d="M320.00,433.52 L320.00,435.71 A26.31,26.31 0 0 0 326.81,434.82 L326.24,432.70 A24.12,24.12 0 0 1 320.00,433.52Z" fill="#3f62ab" stroke="#3f62ab" stroke-width="0.4"/>
<path d="M326.24,432.70 L326.81,434.82 A26.31,26.31 0 0 0 333.16,432.19 L332.06,430.29 A24.12,24.12 0 0 1 326.24,432.70Z" fill="#3f62ab" stroke="#3f62ab" stroke-width="0.4"/>
<path d="M332.06,430.29 L333.16,432.19 A26.31,26.31 0 0 0 338.61,428.01 L337.06,426.46 A24.12,24.12 0 0 1 332.06,430.29Z" fill="#4065ac" stroke="#4065ac" stroke-width="0.4"/>
<path d="M337.06,426.46 L338.61,428.01 A26.31,26.31 0 0 0 342.79,422.56 L340.89,421.46 A24.12,24.12 0 0 1 337.06,426.46Z" fill="#4167ad" stroke="#4167ad" stroke-width="0.4"/>
<path d="M340.89,421.46 L342.79,422.56 A26.31,26.31 0 0 0 345.42,416.21 L343.30,415.64 A24.12,24.12 0 0 1 340.89,421.46Z" fill="#436fb1" stroke="#436fb1" stroke-width="0.4"/>
<path d="M343.30,415.64 L345.42,416.21 A26.31,26.31 0 0 0 346.31,409.40 L344.12,409.40 A24.12,24.12 0 0 1 343.30,415.64Z" fill="#4b7db8" stroke="#4b7db8" stroke-width="0.4"/>
<path d="M346.31,409.40 L348.51,409.40 A28.51,28.51 0 0 0 347.54,402.02 L345.42,402.59 A26.31,26.31 0 0 1 346.31,409.40Z" fill="#5183bb" stroke="#5183bb" stroke-width="0.4"/>
<path d="M345.42,402.59 L347.54,402.02 A28.51,28.51 0 0 0 344.69,395.15 L342.79,396.24 A26.31,26.31 0 0 1 345.42,402.59Z" fill="#6095c4" stroke="#6095c4" stroke-width="0.4"/>
<path d="M342.79,396.24 L344.69,395.15 A28.51,28.51 0 0 0 340.16,389.24 L338.61,390.79 A26.31,26.31 0 0 1 342.79,396.24Z" fill="#76afd2" stroke="#76afd2" stroke-width="0.4"/>
<path d="M338.61,390.79 L340.16,389.24 A28.51,28.51 0 0 0 334.25,384.71 L333.16,386.61 A26.31,26.31 0 0 1 338.61,390.79Z" fill="#90c3dd" stroke="#90c3dd" stroke-width="0.4"/>
<path d="M333.16,386.61 L334.25,384.71 A28.51,28.51 0 0 0 327.38,381.86 L326.81,383.98 A26.31,26.31 0 0 1 333.16,386.61Z" fill="#a8d6e8" stroke="#a8d6e8" stroke-width="0.4"/>
<path d="M326.81,383.98 L327.38,381.86 A28.51,28.51 0 0 0 320.00,380.89 L320.00,383.09 A26.31,26.31 0 0 1 326.81,383.98Z" fill="#b6dfec" stroke="#b6dfec" stroke-width="0.4"/>
<path d="M320.00,383.09 L320.00,380.89 A28.51,28.51 0 0 0 312.62,381.86 L313.19,383.98 A26.31,26.31 0 0 1 320.00,383.09Z" fill="#b6dfec" stroke="#b6dfec" stroke-width="0.4"/>
<path d="M313.19,383.98 L312.62,381.86 A28.51,28.51 0 0 0 305.75,384.71 L306.84,386.61 A26.31,26.31 0 0 1 313.19,383.98Z" fill="#a8d6e8" stroke="#a8d6e8" stroke-width="0.4"/>
<path d="M306.84,386.61 L305.75,384.71 A28.51,28.51 0 0 0 299.84,389.24 L301.39,390.79 A26.31,26.31 0 0 1 306.84,386.61Z" fill="#90c3dd" stroke="#90c3dd" stroke-width="0.4"/>
<path d="M301.39,390.79 L299.84,389.24 A28.51,28.51 0 0 0 295.31,395.15 L297.21,396.24 A26.31,26.31 0 0 1 301.39,390.79Z" fill="#76afd2" stroke="#76afd2" stroke-width="0.4"/>
<path d="M297.21,396.24 L295.31,395.15 A28.51,28.51 0 0 0 292.46,402.02 L294.58,402.59 A26.31,26.31 0 0 1 297.21,396.24Z" fill="#6095c4" stroke="#6095c4" stroke-width="0.4"/>
<path d="M294.58,402.59 L292.46,402.02 A28.51,28.51 0 0 0 291.49,409.40 L293.69,409.40 A26.31,26.31 0 0 1 294.58,402.59Z" fill="#5183bb" stroke="#5183bb" stroke-width="0.4"/>
<path d="M293.69,409.40 L291.49,409.40 A28.51,28.51 0 0 0 292.46,416.78 L294.58,416.21 A26.31,26.31 0 0 1 293.69,409.40Z" fill="#4574b3" stroke="#4574b3" stroke-width="0.4"/>
<path d="M294.58,416.21 L292.46,416.78 A28.51,28.51 0 0 0 295.31,423.65 L297.21,422.56 A26.31,26.31 0 0 1 294.58,416.21Z" fill="#426cb0" stroke="#426cb0" stroke-width="0.4"/>
<path d="M297.21,422.56 L295.31,423.65 A28.51,28.51 0 0 0 299.84,429.56 L301.39,428.01 A26.31,26.31 0 0 1 297.21,422.56Z" fill="#4167ad" stroke="#4167ad" stroke-width="0.4"/>
<path d="M301.39,428.01 L299.84,429.56 A28.51,28.51 0 0 0 305.75,434.09 L306.84,432.19 A26.31,26.31 0 0 1 301.39,428.01Z" fill="#3f62ab" stroke="#3f62ab" stroke-width="0.4"/>
<path d="M306.84,432.19 L305.75,434.09 A28.51,28.51 0 0 0 312.62,436.94 L313.19,434.82 A26.31,26.31 0 0 1 306.84,432.19Z" fill="#3f62ab" stroke="#3f62ab" stroke-width="0.4"/>
<path d="M313.19,434.82 L312.62,436.94 A28.51,28.51 0 0 0 320.00,437.91 L320.00,435.71 A26.31,26.31 0 0 1 313.19,434.82Z" fill="#3f62ab" stroke="#3f62ab" stroke-width="0.4"/>
<path d="M320.00,435.71 L320.00,437.91 A28.51,28.51 0 0 0 327.38,436.94 L326.81,434.82 A26.31,26.31 0 0 1 320.00,435.71Z" fill="#3f62ab" stroke="#3f62ab" stroke-width="0.4"/>
<path d="M326.81,434.82 L327.38,436.94 A28.51,28.51 0 0 0 334.25,434.09 L333.16,432.19 A26.31,26.31 0 0 1 326.81,434.82Z" fill="#3f62ab" stroke="#3f62ab" stroke-width="0.4"/>
<path d="M333.16,432.19 L334.25,434.09 A28.51,28.51 0 0 0 340.16,429.56 L338.61,428.01 A26.31,26.31 0 0 1 333.16,432.19Z" fill="#3f62ab" stroke="#3f62ab" stroke-width="0.4"/>
<path d="M338.61,428.01 L340.16,429.56 A28.51,28.51 0 0 0 344.69,423.65 L342.79,422.56 A26.31,26.31 0 0 1 338.61,428.01Z" fill="#4167ad" stroke="#4167ad" stroke-width="0.4"/>
<path d="M342.79,422.56 L344.69,423.65 A28.51,28.51 0 0 0 347.54,416.78 L345.42,416.21 A26.31,26.31 0 0 1 342.79,422.56Z" fill="#426cb0" stroke="#426cb0" stroke-width="0.4"/>
<path d="M345.42,416.21 L347.54,416.78 A28.51,28.51 0 0 0 348.51,409.40 L346.31,409.40 A26.31,26.31 0 0 1 345.42,416.21Z" fill="#4574b3" stroke="#4574b3" stroke-width="0.4"/>
<path d="M348.51,409.40 L350.70,409.40 A30.70,30.70 0 0 0 349.65,401.45 L347.54,402.02 A28.51,28.51 0 0 1 348.51,409.40Z" fill="#4878b6" stroke="#4878b6" stroke-width="0.4"/>
<path d="M347.54,402.02 L349.65,401.45 A30.70,30.70 0 0 0 346.59,394.05 L344.69,395.15 A28.51,28.51 0 0 1 347.54,402.02Z" fill="#5183bb" stroke="#5183bb" stroke-width="0.4"/>
<path d="M344.69,395.15 L346.59,394.05 A30.70,30.70 0 0 0 341.71,387.69 L340.16,389.24 A28.51,28.51 0 0 1 344.69,395.15Z" fill="#5e93c3" stroke="#5e93c3" stroke-width="0.4"/>
<path d="M340.16,389.24 L341.71,387.69 A30.70,30.70 0 0 0 335.35,382.81 L334.25,384.71 A28.51,28.51 0 0 1 340.16,389.24Z" fill="#6da4cc" stroke="#6da4cc" stroke-width="0.4"/>
<path d="M334.25,384.71 L335.35,382.81 A30.70,30.70 0 0 0 327.95,379.75 L327.38,381.86 A28.51,28.51 0 0 1 334.25,384.71Z" fill="#78b0d3" stroke="#78b0d3" stroke-width="0.4"/>
<path d="M327.38,381.86 L327.95,379.75 A30.70,30.70 0 0 0 320.00,378.70 L320.00,380.89 A28.51,28.51 0 0 1 327.38,381.86Z" fill="#81b7d7" stroke="#81b7d7" stroke-width="0.4"/>
<path d="M320.00,380.89 L320.00,378.70 A30.70,30.70 0 0 0 312.05,379.75 L312.62,381.86 A28.51,28.51 0 0 1 320.00,380.89Z" fill="#81b7d7" stroke="#81b7d7" stroke-width="0.4"/>
<path d="M312.62,381.86 L312.05,379.75 A30.70,30.70 0 0 0 304.65,382.81 L305.75,384.71 A28.51,28.51 0 0 1 312.62,381.86Z" fill="#78b0d3" stroke="#78b0d3" stroke-width="0.4"/>
<path d="M305.75,384.71 L304.65,382.81 A30.70,30.70 0 0 0 298.29,387.69 L299.84,389.24 A28.51,28.51 0 0 1 305.75,384.71Z" fill="#6da4cc" stroke="#6da4cc" stroke-width="0.4"/>
<path d="M299.84,389.24 L298.29,387.69 A30.70,30.70 0 0 0 293.41,394.05 L295.31,395.15 A28.51,28.51 0 0 1 299.84,389.24Z" fill="#5e93c3" stroke="#5e93c3" stroke-width="0.4"/>
<path d="M295.31,395.15 L293.41,394.05 A30.70,30.70 0 0 0 290.35,401.45 L292.46,402.02 A28.51,28.51 0 0 1 295.31,395.15Z" fill="#5183bb" stroke="#5183bb" stroke-width="0.4"/>
<path d="M292.46,402.02 L290.35,401.45 A30.70,30.70 0 0 0 289.30,409.40 L291.49,409.40 A28.51,28.51 0 0 1 292.46,402.02Z" fill="#4878b6" stroke="#4878b6" stroke-width="0.4"/>
<path d="M291.49,409.40 L289.30,409.40 A30.70,30.70 0 0 0 290.35,417.35 L292.46,416.78 A28.51,28.51 0 0 1 291.49,409.40Z" fill="#436fb1" stroke="#436fb1" stroke-width="0.4"/>
<path d="M292.46,416.78 L290.35,417.35 A30.70,30.70 0 0 0 293.41,424.75 L295.31,423.65 A28.51,28.51 0 0 1 292.46,416.78Z" fill="#4167ad" stroke="#4167ad" stroke-width="0.4"/>
<path d="M295.31,423.65 L293.41,424.75 A30.70,30.70 0 0 0 298.29,431.11 L299.84,429.56 A28.51,28.51 0 0 1 295.31,423.65Z" fill="#4065ac" stroke="#4065ac" stroke-width="0.4"/>
<path d="M299.84,429.56 L298.29,431.11 A30.70,30.70 0 0 0 304.65,435.99 L305.75,434.09 A28.51,28.51 0 0 1 299.84,429.56Z" fill="#3f62ab" stroke="#3f62ab" stroke-width="0.4"/>
<path d="M305.75,434.09 L304.65,435.99 A30.70,30.70 0 0 0 312.05,439.05 L312.62,436.94 A28.51,28.51 0 0 1 305.75,434.09Z" fill="#3f62ab" stroke="#3f62ab" stroke-width="0.4"/>
<path d="M312.62,436.94 L312.05,439.05 A30.70,30.70 0 0 0 320.00,440.10 L320.00,437.91 A28.51,28.51 0 0 1 312.62,436.94Z" fill="#3f62ab" stroke="#3f62ab" stroke-width="0.4"/>
<path d="M320.00,437.91 L320.00,440.10 A30.70,30.70 0 0 0 327.95,439.05 L327.38,436.94 A28.51,28.51 0 0 1 320.00,437.91Z" fill="#3f62ab" stroke="#3f62ab" stroke-width="0.4"/>
<path d="M327.38,436.94 L327.95,439.05 A30.70,30.70 0 0 0 335.35,435.99 L334.25,434.09 A28.51,28.51 0 0 1 327.38,436.94Z" fill="#3f62ab" stroke="#3f62ab" stroke-width="0.4"/>
<path d="M334.25,434.09 L335.35,435.99 A30.70,30.70 0 0 0 341.71,431.11 L340.16,429.56 A28.51,28.51 0 0 1 334.25,434.09Z" fill="#3f62ab" stroke="#3f62ab" stroke-width="0.4"/>
<path d="M340.16,429.56 L341.71,431.11 A30.70,30.70 0 0 0 346.59,424.75 L344.69,423.65 A28.51,28.51 0 0 1 340.16,429.56Z" fill="#4065ac" stroke="#4065ac" stroke-width="0.4"/>
<path d="M344.69,423.65 L346.59,424.75 A30.70,30.70 0 0 0 349.65,417.35 L347.54,416.78 A28.51,28.51 0 0 1 344.69,423.65Z" fill="#4167ad" stroke="#4167ad" stroke-width="0.4"/>
<path d="M347.54,416.78 L349.65,417.35 A30.70,30.70 0 0 0 350.70,409.40 L348.51,409.40 A28.51,28.51 0 0 1 347.54,416.78Z" fill="#436fb1" stroke="#436fb1" stroke-width="0.4"/>
<text x="165" y="389" font-size="13" font-family="Liberation Sans, sans-serif" fill="#222">a</text>
<text x="226" y="389" font-size="13" font-family="Liberation Sans, sans-serif" fill="#222">b</text>
<text x="287.5" y="389" font-size="13" font-family="Liberation Sans, sans-serif" fill="#222">c</text>
<line x1="99.7" y1="441.7" x2="108.0" y2="455.0" stroke="#5a6aa4" stroke-width="1.3"/><polygon points="97.0,437.5 103.4,441.7 98.0,445.1" fill="#5a6aa4"/>
<line x1="122.2" y1="409.1" x2="131.0" y2="424.0" stroke="#5a6aa4" stroke-width="1.3"/><polygon points="119.7,404.8 126.0,409.2 120.5,412.5" fill="#5a6aa4"/>
<line x1="302.0" y1="359.2" x2="311.6" y2="374.0" stroke="#5a6aa4" stroke-width="1.3"/><polygon points="299.3,355.0 305.8,359.1 300.4,362.6" fill="#5a6aa4"/>
<text x="109.5" y="462.5" font-size="13.5" font-family="Liberation Sans, sans-serif" fill="#222">a</text>
<text x="134" y="428.8" font-size="13.5" font-family="Liberation Sans, sans-serif" fill="#222">b</text>
<text x="311.5" y="370.5" font-size="13.5" font-family="Liberation Sans, sans-serif" fill="#222">c</text>
<rect x="86.2" y="288.6" width="271.4" height="153.6" fill="none" stroke="#444" stroke-width="0.9"/>
<line x1="83" y1="427.2" x2="86.2" y2="427.2" stroke="#444" stroke-width="0.8"/>
<text x="81.5" y="431.9" font-size="13" text-anchor="end" font-family="Liberation Sans, sans-serif" fill="#222">0</text>
<line x1="83" y1="395.7" x2="86.2" y2="395.7" stroke="#444" stroke-width="0.8"/>
<text x="81.5" y="400.4" font-size="13" text-anchor="end" font-family="Liberation Sans, sans-serif" fill="#222">0.25</text>
<line x1="83" y1="364.2" x2="86.2" y2="364.2" stroke="#444" stroke-width="0.8"/>
<text x="81.5" y="368.9" font-size="13" text-anchor="end" font-family="Liberation Sans, sans-serif" fill="#222">0.5</text>
<line x1="83" y1="332.8" x2="86.2" y2="332.8" stroke="#444" stroke-width="0.8"/>
<text x="81.5" y="337.5" font-size="13" text-anchor="end" font-family="Liberation Sans, sans-serif" fill="#222">0.75</text>
<line x1="83" y1="301.3" x2="86.2" y2="301.3" stroke="#444" stroke-width="0.8"/>
<text x="81.5" y="306.0" font-size="13" text-anchor="end" font-family="Liberation Sans, sans-serif" fill="#222">1</text>
<line x1="94.6" y1="442.2" x2="94.6" y2="445.5" stroke="#444" stroke-width="0.8"/>
<text x="94.6" y="457.3" font-size="13" text-anchor="middle" font-family="Liberation Sans, sans-serif" fill="#222">0</text>
<line x1="170.7" y1="442.2" x2="170.7" y2="445.5" stroke="#444" stroke-width="0.8"/>
<text x="170.7" y="457.3" font-size="13" text-anchor="middle" font-family="Liberation Sans, sans-serif" fill="#222">1</text>
<line x1="246.8" y1="442.2" x2="246.8" y2="445.5" stroke="#444" stroke-width="0.8"/>
<text x="246.8" y="457.3" font-size="13" text-anchor="middle" font-family="Liberation Sans, sans-serif" fill="#222">2</text>
<line x1="322.9" y1="442.2" x2="322.9" y2="445.5" stroke="#444" stroke-width="0.8"/>
<text x="322.9" y="457.3" font-size="13" text-anchor="middle" font-family="Liberation Sans, sans-serif" fill="#222">3</text>
<text x="206.5" y="471.8" font-size="13" font-family="Liberation Sans, sans-serif" fill="#222"><tspan font-style="italic">t</tspan> (ms)</text>
<line x1="45.8" y1="373.2" x2="45.8" y2="379" stroke="#222" stroke-width="1.7"/>
<text x="0" y="0" font-size="14" font-style="italic" font-family="Liberation Sans, sans-serif" fill="#222" transform="translate(51,373) rotate(-90)">i</text>
<polyline points="38.5,364.6 45.5,368.6 53.8,364.6" fill="none" stroke="#333" stroke-width="0.9"/>
<polyline points="38.5,355.6 45.5,351.8 53.8,355.6" fill="none" stroke="#333" stroke-width="0.9"/>
<text x="0" y="0" font-size="14" font-style="italic" font-family="Liberation Sans, sans-serif" fill="#222" transform="translate(51.3,364.3) rotate(-90)">a</text>
<rect x="422.70" y="290.00" width="39.50" height="30.80" fill="#fee2bc"/>
<rect x="461.90" y="290.00" width="39.50" height="30.80" fill="#fdc791"/>
<rect x="501.10" y="290.00" width="39.50" height="30.80" fill="#fc9662"/>
<rect x="540.30" y="290.00" width="39.50" height="30.80" fill="#e8553c"/>
<rect x="422.70" y="320.50" width="39.50" height="30.80" fill="#fddaab"/>
<rect x="461.90" y="320.50" width="39.50" height="30.80" fill="#f88154"/>
<rect x="501.10" y="320.50" width="39.50" height="30.80" fill="#d7301f"/>
<rect x="540.30" y="320.50" width="39.50" height="30.80" fill="#ba0906"/>
<rect x="422.70" y="351.00" width="39.50" height="30.80" fill="#fc9b66"/>
<rect x="461.90" y="351.00" width="39.50" height="30.80" fill="#dc3a27"/>
<rect x="501.10" y="351.00" width="39.50" height="30.80" fill="#c91d13"/>
<rect x="540.30" y="351.00" width="39.50" height="30.80" fill="#a80000"/>
<rect x="422.70" y="381.50" width="39.50" height="30.80" fill="#fdad77"/>
<rect x="461.90" y="381.50" width="39.50" height="30.80" fill="#ef6447"/>
<rect x="501.10" y="381.50" width="39.50" height="30.80" fill="#cf2618"/>
<rect x="540.30" y="381.50" width="39.50" height="30.80" fill="#9e0000"/>
<rect x="422.70" y="412.00" width="39.50" height="30.80" fill="#fee4c0"/>
<rect x="461.90" y="412.00" width="39.50" height="30.80" fill="#fdc089"/>
<rect x="501.10" y="412.00" width="39.50" height="30.80" fill="#f77d52"/>
<rect x="540.30" y="412.00" width="39.50" height="30.80" fill="#dc3a27"/>
<rect x="422.7" y="290" width="156.8" height="152.5" fill="none" stroke="#333" stroke-width="0.9"/>
<line x1="442.3" y1="442.5" x2="442.3" y2="446.0" stroke="#333" stroke-width="0.8"/>
<text x="442.3" y="460.6" font-size="15.8" text-anchor="middle" font-family="Liberation Sans, sans-serif" fill="#222">1</text>
<line x1="481.5" y1="442.5" x2="481.5" y2="446.0" stroke="#333" stroke-width="0.8"/>
<text x="481.5" y="460.6" font-size="15.8" text-anchor="middle" font-family="Liberation Sans, sans-serif" fill="#222">2</text>
<line x1="520.7" y1="442.5" x2="520.7" y2="446.0" stroke="#333" stroke-width="0.8"/>
<text x="520.7" y="460.6" font-size="15.8" text-anchor="middle" font-family="Liberation Sans, sans-serif" fill="#222">3</text>
<line x1="559.9" y1="442.5" x2="559.9" y2="446.0" stroke="#333" stroke-width="0.8"/>
<text x="559.9" y="460.6" font-size="15.8" text-anchor="middle" font-family="Liberation Sans, sans-serif" fill="#222">4</text>
<line x1="419.2" y1="305.2" x2="422.7" y2="305.2" stroke="#333" stroke-width="0.8"/>
<line x1="419.2" y1="335.8" x2="422.7" y2="335.8" stroke="#333" stroke-width="0.8"/>
<line x1="419.2" y1="366.2" x2="422.7" y2="366.2" stroke="#333" stroke-width="0.8"/>
<line x1="419.2" y1="396.8" x2="422.7" y2="396.8" stroke="#333" stroke-width="0.8"/>
<line x1="419.2" y1="427.2" x2="422.7" y2="427.2" stroke="#333" stroke-width="0.8"/>
<rect x="587.10" y="290.00" width="39.70" height="30.80" fill="#fee4c0"/>
<rect x="626.50" y="290.00" width="39.70" height="30.80" fill="#fdca94"/>
<rect x="665.90" y="290.00" width="39.70" height="30.80" fill="#fb8957"/>
<rect x="705.30" y="290.00" width="39.70" height="30.80" fill="#e55038"/>
<rect x="587.10" y="320.50" width="39.70" height="30.80" fill="#fdd49e"/>
<rect x="626.50" y="320.50" width="39.70" height="30.80" fill="#fb8957"/>
<rect x="665.90" y="320.50" width="39.70" height="30.80" fill="#e0442f"/>
<rect x="705.30" y="320.50" width="39.70" height="30.80" fill="#ba0906"/>
<rect x="587.10" y="351.00" width="39.70" height="30.80" fill="#fc8c59"/>
<rect x="626.50" y="351.00" width="39.70" height="30.80" fill="#d7301f"/>
<rect x="665.90" y="351.00" width="39.70" height="30.80" fill="#b70503"/>
<rect x="705.30" y="351.00" width="39.70" height="30.80" fill="#a30000"/>
<rect x="587.10" y="381.50" width="39.70" height="30.80" fill="#fdc089"/>
<rect x="626.50" y="381.50" width="39.70" height="30.80" fill="#ea5a3f"/>
<rect x="665.90" y="381.50" width="39.70" height="30.80" fill="#ba0906"/>
<rect x="705.30" y="381.50" width="39.70" height="30.80" fill="#a30000"/>
<rect x="587.10" y="412.00" width="39.70" height="30.80" fill="#fddaab"/>
<rect x="626.50" y="412.00" width="39.70" height="30.80" fill="#fdad77"/>
<rect x="665.90" y="412.00" width="39.70" height="30.80" fill="#ef6447"/>
<rect x="705.30" y="412.00" width="39.70" height="30.80" fill="#c4170f"/>
<rect x="587.1" y="290" width="157.6" height="152.5" fill="none" stroke="#333" stroke-width="0.9"/>
<line x1="606.8" y1="442.5" x2="606.8" y2="446.0" stroke="#333" stroke-width="0.8"/>
<text x="606.8" y="460.6" font-size="15.8" text-anchor="middle" font-family="Liberation Sans, sans-serif" fill="#222">1</text>
<line x1="646.2" y1="442.5" x2="646.2" y2="446.0" stroke="#333" stroke-width="0.8"/>
<text x="646.2" y="460.6" font-size="15.8" text-anchor="middle" font-family="Liberation Sans, sans-serif" fill="#222">2</text>
<line x1="685.6" y1="442.5" x2="685.6" y2="446.0" stroke="#333" stroke-width="0.8"/>
<text x="685.6" y="460.6" font-size="15.8" text-anchor="middle" font-family="Liberation Sans, sans-serif" fill="#222">3</text>
<line x1="725.0" y1="442.5" x2="725.0" y2="446.0" stroke="#333" stroke-width="0.8"/>
<text x="725.0" y="460.6" font-size="15.8" text-anchor="middle" font-family="Liberation Sans, sans-serif" fill="#222">4</text>
<line x1="583.6" y1="305.2" x2="587.1" y2="305.2" stroke="#333" stroke-width="0.8"/>
<line x1="583.6" y1="335.8" x2="587.1" y2="335.8" stroke="#333" stroke-width="0.8"/>
<line x1="583.6" y1="366.2" x2="587.1" y2="366.2" stroke="#333" stroke-width="0.8"/>
<line x1="583.6" y1="396.8" x2="587.1" y2="396.8" stroke="#333" stroke-width="0.8"/>
<line x1="583.6" y1="427.2" x2="587.1" y2="427.2" stroke="#333" stroke-width="0.8"/>
<text x="416.3" y="310.8" font-size="15.8" text-anchor="end" font-family="Liberation Sans, sans-serif" fill="#222">6</text>
<text x="416.3" y="341.2" font-size="15.8" text-anchor="end" font-family="Liberation Sans, sans-serif" fill="#222">3</text>
<text x="416.3" y="371.8" font-size="15.8" text-anchor="end" font-family="Liberation Sans, sans-serif" fill="#222">0</text>
<text x="416.3" y="402.2" font-size="15.8" text-anchor="end" font-family="Liberation Sans, sans-serif" fill="#222">-3</text>
<text x="416.3" y="432.8" font-size="15.8" text-anchor="end" font-family="Liberation Sans, sans-serif" fill="#222">-6</text>
<text x="501" y="285" font-size="16" text-anchor="middle" font-family="Liberation Sans, sans-serif" fill="#222">Experiment</text>
<text x="666" y="285" font-size="16" text-anchor="middle" font-family="Liberation Sans, sans-serif" fill="#222">Simulation</text>
<text x="753" y="285.3" font-size="16" font-style="italic" font-family="Liberation Sans, sans-serif" fill="#222">S</text>
<rect x="753.3" y="290" width="8.2" height="152.5" fill="url(#orrd)" stroke="#666" stroke-width="0.5"/>
<line x1="761.5" y1="442.5" x2="764.5" y2="442.5" stroke="#333" stroke-width="0.8"/>
<text x="767" y="447.8" font-size="15" font-family="Liberation Sans, sans-serif" fill="#222">0.0</text>
<line x1="761.5" y1="404.4" x2="764.5" y2="404.4" stroke="#333" stroke-width="0.8"/>
<text x="767" y="409.7" font-size="15" font-family="Liberation Sans, sans-serif" fill="#222">0.2</text>
<line x1="761.5" y1="366.2" x2="764.5" y2="366.2" stroke="#333" stroke-width="0.8"/>
<text x="767" y="371.6" font-size="15" font-family="Liberation Sans, sans-serif" fill="#222">0.4</text>
<line x1="761.5" y1="328.1" x2="764.5" y2="328.1" stroke="#333" stroke-width="0.8"/>
<text x="767" y="333.4" font-size="15" font-family="Liberation Sans, sans-serif" fill="#222">0.6</text>
<line x1="761.5" y1="290.0" x2="764.5" y2="290.0" stroke="#333" stroke-width="0.8"/>
<text x="767" y="295.3" font-size="15" font-family="Liberation Sans, sans-serif" fill="#222">0.8</text>
<text x="483" y="479" font-size="16" font-family="Liberation Sans, sans-serif" fill="#222">Ω/γ</text><text x="508.5" y="485.5" font-size="10" font-family="Liberation Sans, sans-serif" fill="#222">1</text><text x="510" y="467.5" font-size="11" font-family="Liberation Sans, sans-serif" fill="#222">+</text>
<text x="647" y="479" font-size="16" font-family="Liberation Sans, sans-serif" fill="#222">Ω/γ</text><text x="672.5" y="485.5" font-size="10" font-family="Liberation Sans, sans-serif" fill="#222">1</text><text x="674" y="467.5" font-size="11" font-family="Liberation Sans, sans-serif" fill="#222">+</text>
<g transform="translate(396.8,384) rotate(-90)"><text x="0" y="0" font-size="16" font-family="Liberation Sans, sans-serif" fill="#222">Δ/γ</text><text x="24.2" y="8" font-size="10" font-family="Liberation Sans, sans-serif" fill="#222">1</text><text x="25.8" y="-11.5" font-size="11" font-family="Liberation Sans, sans-serif" fill="#222">+</text></g>
</svg></body></html>
